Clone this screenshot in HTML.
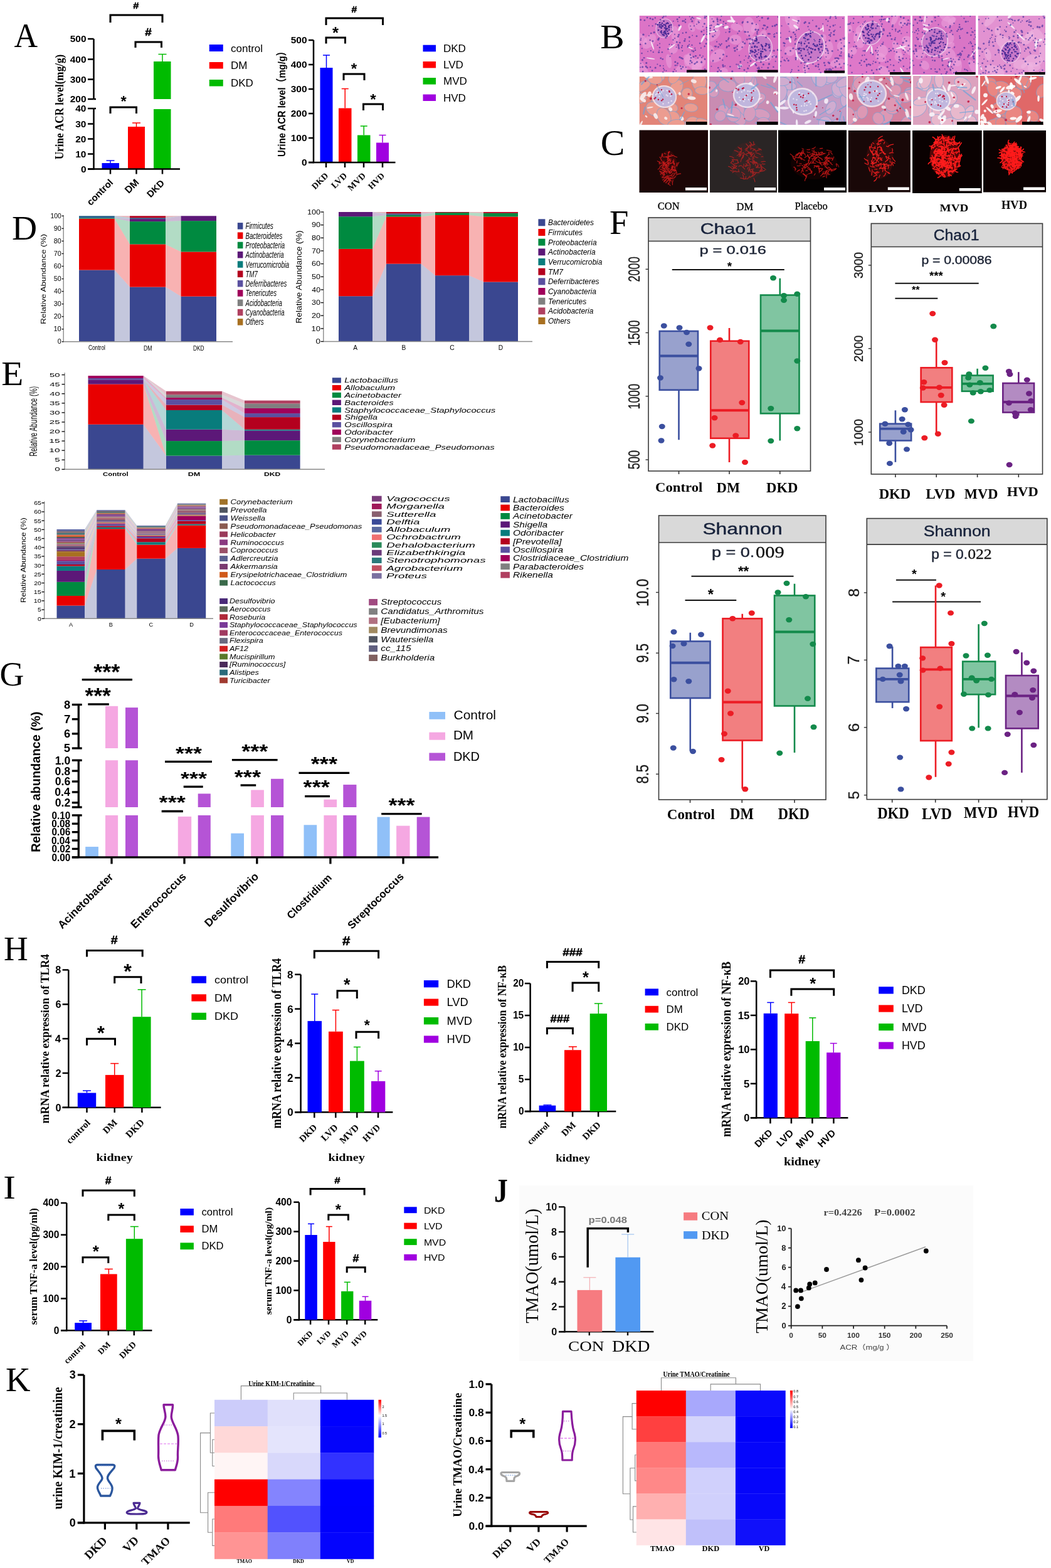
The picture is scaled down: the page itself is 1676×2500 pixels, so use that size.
<!DOCTYPE html><html><head><meta charset="utf-8"><title>Figure</title><style>html,body{margin:0;padding:0;background:#fff}svg{display:block}</style></head><body><svg width="1676" height="2500" viewBox="0 0 1676 2500"><text x="22.48" y="75" font-family="'Liberation Serif', 'Noto Serif CJK SC', serif" font-size="54.55" textLength="37.64" lengthAdjust="spacingAndGlyphs">A</text>
<line x1="149.5" y1="62" x2="149.5" y2="158" stroke="#000" stroke-width="2.5"/>
<line x1="149.5" y1="173" x2="149.5" y2="270.75" stroke="#000" stroke-width="2.5"/>
<line x1="140" y1="62" x2="149.5" y2="62" stroke="#000" stroke-width="2.5"/>
<text x="111.71" y="67.25" font-family="'Liberation Sans', 'Noto Sans CJK SC', sans-serif" font-size="15.21" font-weight="bold" textLength="25.88" lengthAdjust="spacingAndGlyphs">500</text>
<line x1="140" y1="94.5" x2="149.5" y2="94.5" stroke="#000" stroke-width="2.5"/>
<text x="111.71" y="99.75" font-family="'Liberation Sans', 'Noto Sans CJK SC', sans-serif" font-size="15.21" font-weight="bold" textLength="25.88" lengthAdjust="spacingAndGlyphs">400</text>
<line x1="140" y1="126.5" x2="149.5" y2="126.5" stroke="#000" stroke-width="2.5"/>
<text x="111.71" y="131.75" font-family="'Liberation Sans', 'Noto Sans CJK SC', sans-serif" font-size="15.21" font-weight="bold" textLength="25.88" lengthAdjust="spacingAndGlyphs">300</text>
<line x1="140" y1="158" x2="149.5" y2="158" stroke="#000" stroke-width="2.5"/>
<text x="111.71" y="163.25" font-family="'Liberation Sans', 'Noto Sans CJK SC', sans-serif" font-size="15.21" font-weight="bold" textLength="25.88" lengthAdjust="spacingAndGlyphs">200</text>
<line x1="140" y1="173" x2="149.5" y2="173" stroke="#000" stroke-width="2.5"/>
<text x="120.24" y="178.25" font-family="'Liberation Sans', 'Noto Sans CJK SC', sans-serif" font-size="15.21" font-weight="bold" textLength="17.26" lengthAdjust="spacingAndGlyphs">40</text>
<line x1="140" y1="197.5" x2="149.5" y2="197.5" stroke="#000" stroke-width="2.5"/>
<text x="120.24" y="202.75" font-family="'Liberation Sans', 'Noto Sans CJK SC', sans-serif" font-size="15.21" font-weight="bold" textLength="17.26" lengthAdjust="spacingAndGlyphs">30</text>
<line x1="140" y1="221.5" x2="149.5" y2="221.5" stroke="#000" stroke-width="2.5"/>
<text x="120.24" y="226.75" font-family="'Liberation Sans', 'Noto Sans CJK SC', sans-serif" font-size="15.21" font-weight="bold" textLength="17.26" lengthAdjust="spacingAndGlyphs">20</text>
<line x1="140" y1="245.5" x2="149.5" y2="245.5" stroke="#000" stroke-width="2.5"/>
<text x="120.24" y="250.75" font-family="'Liberation Sans', 'Noto Sans CJK SC', sans-serif" font-size="15.21" font-weight="bold" textLength="17.26" lengthAdjust="spacingAndGlyphs">10</text>
<line x1="140" y1="269.5" x2="149.5" y2="269.5" stroke="#000" stroke-width="2.5"/>
<text x="128.93" y="274.75" font-family="'Liberation Sans', 'Noto Sans CJK SC', sans-serif" font-size="15.21" font-weight="bold" textLength="8.63" lengthAdjust="spacingAndGlyphs">0</text>
<line x1="149.5" y1="158" x2="153" y2="158" stroke="#000" stroke-width="2.5"/>
<line x1="149.5" y1="173" x2="153" y2="173" stroke="#000" stroke-width="2.5"/>
<rect x="162.5" y="260" width="27.5" height="9.5" fill="#0000ff"/>
<rect x="204" y="202" width="27" height="67.5" fill="#ff0000"/>
<rect x="245" y="98" width="27.5" height="60" fill="#00bb00"/>
<rect x="245" y="174" width="27.5" height="95.5" fill="#00bb00"/>
<line x1="176" y1="260" x2="176" y2="256" stroke="#0000ff" stroke-width="1.5"/>
<line x1="169.5" y1="256" x2="182.5" y2="256" stroke="#0000ff" stroke-width="1.5"/>
<line x1="217.5" y1="202" x2="217.5" y2="196" stroke="#ff0000" stroke-width="1.5"/>
<line x1="211" y1="196" x2="224" y2="196" stroke="#ff0000" stroke-width="1.5"/>
<line x1="259" y1="98" x2="259" y2="86.5" stroke="#00bb00" stroke-width="1.5"/>
<line x1="252.5" y1="86.5" x2="265.5" y2="86.5" stroke="#00bb00" stroke-width="1.5"/>
<line x1="140" y1="269.5" x2="287" y2="269.5" stroke="#000" stroke-width="2.5"/>
<line x1="176" y1="269.5" x2="176" y2="277.5" stroke="#000" stroke-width="2.5"/>
<line x1="217.5" y1="269.5" x2="217.5" y2="277.5" stroke="#000" stroke-width="2.5"/>
<line x1="259" y1="269.5" x2="259" y2="277.5" stroke="#000" stroke-width="2.5"/>
<polyline points="176,36 176,24 259,24 259,36" fill="none" stroke="#000" stroke-width="3" stroke-linejoin="miter" stroke-linecap="butt"/>
<text x="212.39" y="13.75" font-family="'Liberation Sans', 'Noto Sans CJK SC', sans-serif" font-size="14.71" font-weight="bold" textLength="9.16" lengthAdjust="spacingAndGlyphs" stroke="#000" stroke-width="0.45">#</text>
<polyline points="216,76 216,67 257.5,67 257.5,76" fill="none" stroke="#000" stroke-width="3" stroke-linejoin="miter" stroke-linecap="butt"/>
<text x="231.2" y="56.5" font-family="'Liberation Sans', 'Noto Sans CJK SC', sans-serif" font-size="16.91" font-weight="bold" textLength="10.53" lengthAdjust="spacingAndGlyphs" stroke="#000" stroke-width="0.45">#</text>
<polyline points="176,181 176,171 217.5,171 217.5,181" fill="none" stroke="#000" stroke-width="3" stroke-linejoin="miter" stroke-linecap="butt"/>
<text x="192.39" y="170.32" font-family="'Liberation Sans', 'Noto Sans CJK SC', sans-serif" font-size="23.65" font-weight="bold">*</text>
<text transform="translate(100.6,254.34) rotate(-90)" font-family="'Liberation Serif', 'Noto Serif CJK SC', serif" font-size="18" font-weight="bold" textLength="167.62" lengthAdjust="spacingAndGlyphs">Urine ACR level(mg/g)</text>
<text transform="translate(144.64,328.52) rotate(-45)" font-family="'Liberation Sans', 'Noto Sans CJK SC', sans-serif" font-size="15.27" font-weight="bold">control</text>
<text transform="translate(205.13,309.28) rotate(-45)" font-family="'Liberation Sans', 'Noto Sans CJK SC', sans-serif" font-size="15.82" font-weight="bold">DM</text>
<text transform="translate(240.16,315.84) rotate(-45)" font-family="'Liberation Sans', 'Noto Sans CJK SC', sans-serif" font-size="14.97" font-weight="bold">DKD</text>
<rect x="333.75" y="71" width="22" height="11" fill="#0000ff"/>
<text x="368" y="82.62" font-family="'Liberation Sans', 'Noto Sans CJK SC', sans-serif" font-size="17">control</text>
<rect x="333.75" y="99" width="22" height="10.5" fill="#ff0000"/>
<text x="368" y="110.37" font-family="'Liberation Sans', 'Noto Sans CJK SC', sans-serif" font-size="17">DM</text>
<rect x="333.75" y="127" width="22" height="10.5" fill="#00bb00"/>
<text x="368" y="138.37" font-family="'Liberation Sans', 'Noto Sans CJK SC', sans-serif" font-size="17">DKD</text>
<line x1="500" y1="64" x2="500" y2="260.25" stroke="#000" stroke-width="2.5"/>
<line x1="492" y1="64" x2="500" y2="64" stroke="#000" stroke-width="2.5"/>
<text x="463.71" y="69.25" font-family="'Liberation Sans', 'Noto Sans CJK SC', sans-serif" font-size="15.21" font-weight="bold" textLength="25.88" lengthAdjust="spacingAndGlyphs">500</text>
<line x1="492" y1="103" x2="500" y2="103" stroke="#000" stroke-width="2.5"/>
<text x="463.71" y="108.25" font-family="'Liberation Sans', 'Noto Sans CJK SC', sans-serif" font-size="15.21" font-weight="bold" textLength="25.88" lengthAdjust="spacingAndGlyphs">400</text>
<line x1="492" y1="142" x2="500" y2="142" stroke="#000" stroke-width="2.5"/>
<text x="463.71" y="147.25" font-family="'Liberation Sans', 'Noto Sans CJK SC', sans-serif" font-size="15.21" font-weight="bold" textLength="25.88" lengthAdjust="spacingAndGlyphs">300</text>
<line x1="492" y1="181" x2="500" y2="181" stroke="#000" stroke-width="2.5"/>
<text x="463.71" y="186.25" font-family="'Liberation Sans', 'Noto Sans CJK SC', sans-serif" font-size="15.21" font-weight="bold" textLength="25.88" lengthAdjust="spacingAndGlyphs">200</text>
<line x1="492" y1="220" x2="500" y2="220" stroke="#000" stroke-width="2.5"/>
<text x="463.71" y="225.25" font-family="'Liberation Sans', 'Noto Sans CJK SC', sans-serif" font-size="15.21" font-weight="bold" textLength="25.88" lengthAdjust="spacingAndGlyphs">100</text>
<line x1="492" y1="259" x2="500" y2="259" stroke="#000" stroke-width="2.5"/>
<text x="480.93" y="264.25" font-family="'Liberation Sans', 'Noto Sans CJK SC', sans-serif" font-size="15.21" font-weight="bold" textLength="8.63" lengthAdjust="spacingAndGlyphs">0</text>
<rect x="510.5" y="108" width="20" height="151" fill="#0000ff"/>
<line x1="520.5" y1="108" x2="520.5" y2="88" stroke="#0000ff" stroke-width="1.5"/>
<line x1="515" y1="88" x2="526" y2="88" stroke="#0000ff" stroke-width="1.5"/>
<rect x="540" y="172.5" width="20.5" height="86.5" fill="#ff0000"/>
<line x1="550.25" y1="172.5" x2="550.25" y2="141.5" stroke="#ff0000" stroke-width="1.5"/>
<line x1="544.75" y1="141.5" x2="555.75" y2="141.5" stroke="#ff0000" stroke-width="1.5"/>
<rect x="570" y="215.5" width="20.5" height="43.5" fill="#00bb00"/>
<line x1="580.25" y1="215.5" x2="580.25" y2="201" stroke="#00bb00" stroke-width="1.5"/>
<line x1="574.75" y1="201" x2="585.75" y2="201" stroke="#00bb00" stroke-width="1.5"/>
<rect x="600" y="227.5" width="20" height="31.5" fill="#a000e0"/>
<line x1="610" y1="227.5" x2="610" y2="215.5" stroke="#a000e0" stroke-width="1.5"/>
<line x1="604.5" y1="215.5" x2="615.5" y2="215.5" stroke="#a000e0" stroke-width="1.5"/>
<line x1="492" y1="259" x2="630.5" y2="259" stroke="#000" stroke-width="2.5"/>
<line x1="520" y1="259" x2="520" y2="267" stroke="#000" stroke-width="2.5"/>
<line x1="550" y1="259" x2="550" y2="267" stroke="#000" stroke-width="2.5"/>
<line x1="580" y1="259" x2="580" y2="267" stroke="#000" stroke-width="2.5"/>
<line x1="610" y1="259" x2="610" y2="267" stroke="#000" stroke-width="2.5"/>
<polyline points="520,40 520,29 610.5,29 610.5,40" fill="none" stroke="#000" stroke-width="3" stroke-linejoin="miter" stroke-linecap="butt"/>
<text x="560.62" y="19.5" font-family="'Liberation Sans', 'Noto Sans CJK SC', sans-serif" font-size="13.97" font-weight="bold" textLength="8.7" lengthAdjust="spacingAndGlyphs" stroke="#000" stroke-width="0.45">#</text>
<polyline points="520,69.5 520,60 550.5,60 550.5,69.5" fill="none" stroke="#000" stroke-width="3" stroke-linejoin="miter" stroke-linecap="butt"/>
<text x="529.99" y="60.72" font-family="'Liberation Sans', 'Noto Sans CJK SC', sans-serif" font-size="25.68" font-weight="bold">*</text>
<polyline points="548,128 548,118 581,118 581,128" fill="none" stroke="#000" stroke-width="3" stroke-linejoin="miter" stroke-linecap="butt"/>
<text x="559.76" y="117.78" font-family="'Liberation Sans', 'Noto Sans CJK SC', sans-serif" font-size="24.32" font-weight="bold">*</text>
<polyline points="579.5,176 579.5,166 610.5,166 610.5,176" fill="none" stroke="#000" stroke-width="3" stroke-linejoin="miter" stroke-linecap="butt"/>
<text x="590.26" y="166.78" font-family="'Liberation Sans', 'Noto Sans CJK SC', sans-serif" font-size="24.32" font-weight="bold">*</text>
<text transform="translate(455.4,249.93) rotate(-90)" font-family="'Liberation Sans', 'Noto Sans CJK SC', sans-serif" font-size="17.25" font-weight="bold" textLength="175.53" lengthAdjust="spacingAndGlyphs">Urine ACR level（mg/g）</text>
<text transform="translate(502.44,302.7) rotate(-45)" font-family="'Liberation Serif', 'Noto Serif CJK SC', serif" font-size="13.89" font-weight="bold">DKD</text>
<text transform="translate(533.84,301.35) rotate(-45)" font-family="'Liberation Serif', 'Noto Serif CJK SC', serif" font-size="14.22" font-weight="bold">LVD</text>
<text transform="translate(560.09,305.1) rotate(-45)" font-family="'Liberation Serif', 'Noto Serif CJK SC', serif" font-size="14.24" font-weight="bold">MVD</text>
<text transform="translate(592.42,302.6) rotate(-45)" font-family="'Liberation Serif', 'Noto Serif CJK SC', serif" font-size="13.84" font-weight="bold">HVD</text>
<rect x="674.5" y="71.7" width="20.5" height="10.6" fill="#0000ff"/>
<text x="707" y="83.12" font-family="'Liberation Sans', 'Noto Sans CJK SC', sans-serif" font-size="17">DKD</text>
<rect x="674.5" y="98" width="20.5" height="10.4" fill="#ff0000"/>
<text x="707" y="109.32" font-family="'Liberation Sans', 'Noto Sans CJK SC', sans-serif" font-size="17">LVD</text>
<rect x="674.5" y="124" width="20.5" height="10.6" fill="#00bb00"/>
<text x="707" y="135.42" font-family="'Liberation Sans', 'Noto Sans CJK SC', sans-serif" font-size="17">MVD</text>
<rect x="674.5" y="150.5" width="20.5" height="10.5" fill="#a000e0"/>
<text x="707" y="161.87" font-family="'Liberation Sans', 'Noto Sans CJK SC', sans-serif" font-size="17">HVD</text>
<text x="957.27" y="77" font-family="'Liberation Serif', 'Noto Serif CJK SC', serif" font-size="53.85" textLength="38.44" lengthAdjust="spacingAndGlyphs">B</text>
<text x="957.68" y="246.94" font-family="'Liberation Serif', 'Noto Serif CJK SC', serif" font-size="55.97" textLength="38.62" lengthAdjust="spacingAndGlyphs">C</text>
<clipPath id="c1"><rect x="1019.5" y="25" width="108.5" height="90.5"/></clipPath><g clip-path="url(#c1)">
<rect x="1019.5" y="25" width="108.5" height="90.5" fill="#dc74c6"/>
<ellipse cx="1035.31" cy="66.17" rx="13.71" ry="8.23" fill="#eba3dc" transform="rotate(131 1035.31 66.17)" opacity="0.55"/>
<ellipse cx="1066.54" cy="97.4" rx="11.33" ry="4.48" fill="#eba3dc" transform="rotate(82 1066.54 97.4)" opacity="0.55"/>
<ellipse cx="1024.7" cy="109.43" rx="15.47" ry="6.01" fill="#eba3dc" transform="rotate(55 1024.7 109.43)" opacity="0.55"/>
<ellipse cx="1102.83" cy="43.45" rx="7.78" ry="5.13" fill="#eba3dc" transform="rotate(62 1102.83 43.45)" opacity="0.55"/>
<ellipse cx="1087.46" cy="112.18" rx="8.11" ry="9.74" fill="#eba3dc" transform="rotate(99 1087.46 112.18)" opacity="0.55"/>
<ellipse cx="1117.27" cy="99.03" rx="7.6" ry="7.89" fill="#eba3dc" transform="rotate(22 1117.27 99.03)" opacity="0.55"/>
<ellipse cx="1020.11" cy="60.79" rx="13.74" ry="7.4" fill="#eba3dc" transform="rotate(34 1020.11 60.79)" opacity="0.55"/>
<ellipse cx="1110.77" cy="107.7" rx="8.37" ry="6.69" fill="#eba3dc" transform="rotate(114 1110.77 107.7)" opacity="0.55"/>
<ellipse cx="1117.4" cy="36.46" rx="11.54" ry="9.81" fill="#eba3dc" transform="rotate(109 1117.4 36.46)" opacity="0.55"/>
<ellipse cx="1097.33" cy="95.13" rx="11.07" ry="5.74" fill="#eba3dc" transform="rotate(106 1097.33 95.13)" opacity="0.55"/>
<ellipse cx="1076.81" cy="56.07" rx="14.54" ry="6.18" fill="#eba3dc" transform="rotate(87 1076.81 56.07)" opacity="0.55"/>
<ellipse cx="1102.12" cy="98.65" rx="14.9" ry="7.91" fill="#eba3dc" transform="rotate(45 1102.12 98.65)" opacity="0.55"/>
<ellipse cx="1111.44" cy="107.29" rx="13.15" ry="8.6" fill="#eba3dc" transform="rotate(92 1111.44 107.29)" opacity="0.55"/>
<ellipse cx="1073.04" cy="77.73" rx="7.47" ry="8.06" fill="#eba3dc" transform="rotate(155 1073.04 77.73)" opacity="0.55"/>
<ellipse cx="1037.37" cy="93.23" rx="7.24" ry="0.98" fill="#f7eef7" transform="rotate(9 1037.37 93.23)" opacity="0.9"/>
<ellipse cx="1084.1" cy="44.83" rx="4.86" ry="1.73" fill="#f7eef7" transform="rotate(117 1084.1 44.83)" opacity="0.9"/>
<ellipse cx="1100.74" cy="76.42" rx="5" ry="0.82" fill="#f7eef7" transform="rotate(20 1100.74 76.42)" opacity="0.9"/>
<ellipse cx="1040.42" cy="72.54" rx="7.32" ry="1.11" fill="#f7eef7" transform="rotate(70 1040.42 72.54)" opacity="0.9"/>
<ellipse cx="1121.1" cy="61.26" rx="7.28" ry="1.73" fill="#f7eef7" transform="rotate(118 1121.1 61.26)" opacity="0.9"/>
<ellipse cx="1071.22" cy="74.33" rx="7.21" ry="1.04" fill="#f7eef7" transform="rotate(143 1071.22 74.33)" opacity="0.9"/>
<ellipse cx="1114.21" cy="29.26" rx="4.19" ry="1.17" fill="#f7eef7" transform="rotate(16 1114.21 29.26)" opacity="0.9"/>
<ellipse cx="1059.5" cy="45" rx="13.65" ry="15.6" fill="#f3e4f3" transform="rotate(20 1059.5 45)" opacity="0.7"/>
<ellipse cx="1059.5" cy="45" rx="12.61" ry="14.56" fill="#c878c8" transform="rotate(20 1059.5 45)"/>
<circle cx="1065.47" cy="53.3" r="1.3" fill="#4a2a95"/>
<circle cx="1061.66" cy="47.43" r="1.3" fill="#4a2a95"/>
<circle cx="1066.49" cy="42.15" r="1.3" fill="#4a2a95"/>
<circle cx="1051.7" cy="42.67" r="1.3" fill="#4a2a95"/>
<circle cx="1055.12" cy="52.54" r="1.3" fill="#4a2a95"/>
<circle cx="1062.56" cy="54.62" r="1.3" fill="#4a2a95"/>
<circle cx="1059.47" cy="50.13" r="1.3" fill="#4a2a95"/>
<circle cx="1061.43" cy="53.35" r="1.3" fill="#4a2a95"/>
<circle cx="1067.69" cy="40.59" r="1.3" fill="#4a2a95"/>
<circle cx="1066.85" cy="43.97" r="1.3" fill="#4a2a95"/>
<circle cx="1058.85" cy="56.32" r="1.3" fill="#4a2a95"/>
<circle cx="1063.77" cy="57.51" r="1.3" fill="#4a2a95"/>
<circle cx="1054.79" cy="49.45" r="1.3" fill="#4a2a95"/>
<circle cx="1058.64" cy="52.36" r="1.3" fill="#4a2a95"/>
<circle cx="1070.24" cy="39.81" r="1.3" fill="#4a2a95"/>
<circle cx="1054.24" cy="42.68" r="1.3" fill="#4a2a95"/>
<circle cx="1062.8" cy="45.23" r="1.3" fill="#4a2a95"/>
<circle cx="1056.72" cy="55.3" r="1.3" fill="#4a2a95"/>
<circle cx="1051.92" cy="36.14" r="1.3" fill="#4a2a95"/>
<circle cx="1062.5" cy="37.79" r="1.3" fill="#4a2a95"/>
<circle cx="1055.91" cy="37.04" r="1.3" fill="#4a2a95"/>
<circle cx="1058.81" cy="39.28" r="1.3" fill="#4a2a95"/>
<circle cx="1061.25" cy="44.7" r="1.3" fill="#4a2a95"/>
<circle cx="1054.37" cy="39.62" r="1.3" fill="#4a2a95"/>
<circle cx="1060.89" cy="40.16" r="1.3" fill="#4a2a95"/>
<circle cx="1060.01" cy="44.52" r="1.3" fill="#4a2a95"/>
<circle cx="1058.59" cy="33.76" r="1.3" fill="#4a2a95"/>
<circle cx="1054.62" cy="44.74" r="1.3" fill="#4a2a95"/>
<circle cx="1053.73" cy="51.07" r="1.3" fill="#4a2a95"/>
<circle cx="1060.59" cy="50.25" r="1.3" fill="#4a2a95"/>
<circle cx="1064.26" cy="36.66" r="1.3" fill="#4a2a95"/>
<circle cx="1058.29" cy="55.55" r="1.3" fill="#4a2a95"/>
<circle cx="1056.6" cy="41.32" r="1.3" fill="#4a2a95"/>
<circle cx="1051.79" cy="39.79" r="1.3" fill="#4a2a95"/>
<circle cx="1064.42" cy="49.74" r="1.3" fill="#4a2a95"/>
<circle cx="1065.31" cy="37.24" r="1.3" fill="#4a2a95"/>
<circle cx="1060.74" cy="53.32" r="1.3" fill="#4a2a95"/>
<circle cx="1049.99" cy="47.93" r="1.3" fill="#4a2a95"/>
<circle cx="1061.72" cy="41.95" r="1.3" fill="#4a2a95"/>
<circle cx="1066.94" cy="47.58" r="1.3" fill="#4a2a95"/>
<circle cx="1064.06" cy="45.66" r="1.3" fill="#4a2a95"/>
<circle cx="1062.23" cy="47.48" r="1.3" fill="#4a2a95"/>
<circle cx="1056.95" cy="42.05" r="1.3" fill="#4a2a95"/>
<circle cx="1048.99" cy="39.62" r="1.3" fill="#4a2a95"/>
<circle cx="1065.97" cy="54.05" r="1.3" fill="#4a2a95"/>
<g fill="#4a34a0" opacity="0.72"><circle cx="1082.89" cy="40.4" r="1.56"/><circle cx="1099.43" cy="59.34" r="1.52"/><circle cx="1030.8" cy="100.45" r="1.49"/><circle cx="1032.09" cy="107.84" r="1.45"/><circle cx="1118.74" cy="50.48" r="1.42"/><circle cx="1104.1" cy="56.52" r="0.92"/><circle cx="1021.04" cy="70.85" r="1.28"/><circle cx="1033.06" cy="82.1" r="0.94"/><circle cx="1071.37" cy="71.21" r="1.04"/><circle cx="1024.66" cy="106.72" r="1.5"/><circle cx="1083.31" cy="27.66" r="1.27"/><circle cx="1123.98" cy="94.42" r="1.38"/><circle cx="1023.79" cy="77.34" r="1.06"/><circle cx="1126.54" cy="25.99" r="1.06"/><circle cx="1114.98" cy="35.87" r="1.11"/><circle cx="1052.74" cy="104.79" r="1.39"/><circle cx="1120.83" cy="42.38" r="0.96"/><circle cx="1056.74" cy="94.33" r="1.33"/><circle cx="1120.96" cy="89.51" r="0.96"/><circle cx="1053.69" cy="43.44" r="1.09"/><circle cx="1091.82" cy="65.15" r="1.43"/><circle cx="1021.23" cy="107.24" r="1.01"/><circle cx="1100.08" cy="101.42" r="0.93"/><circle cx="1078.35" cy="113.24" r="0.91"/><circle cx="1073.44" cy="63.49" r="1.17"/><circle cx="1040.59" cy="41.32" r="1.09"/><circle cx="1043.1" cy="51.6" r="1.53"/><circle cx="1122.47" cy="48.51" r="0.92"/><circle cx="1048.37" cy="102.52" r="1.02"/><circle cx="1091.33" cy="33.4" r="1.15"/><circle cx="1037.89" cy="80.79" r="1.16"/><circle cx="1103.46" cy="71.9" r="1.18"/><circle cx="1021.83" cy="100.9" r="0.93"/><circle cx="1073.63" cy="114.4" r="1.45"/><circle cx="1058.07" cy="109.15" r="1.08"/><circle cx="1082.6" cy="77.07" r="1.4"/><circle cx="1050.81" cy="60.99" r="1.13"/><circle cx="1119.18" cy="91.78" r="1.14"/><circle cx="1103.46" cy="80.9" r="1.07"/><circle cx="1073.65" cy="33.83" r="1.05"/><circle cx="1027.86" cy="32.31" r="1.33"/><circle cx="1109.54" cy="100.54" r="1.05"/><circle cx="1122.33" cy="55.32" r="1.38"/><circle cx="1084.11" cy="68.09" r="1.38"/><circle cx="1116.16" cy="87.98" r="1.26"/><circle cx="1112.96" cy="92.52" r="1.16"/><circle cx="1125.72" cy="61.51" r="0.93"/><circle cx="1124.05" cy="110.31" r="1.27"/><circle cx="1100.92" cy="87.99" r="0.97"/><circle cx="1105.83" cy="81.83" r="1.58"/><circle cx="1071.49" cy="50.14" r="1.44"/><circle cx="1079.5" cy="103.97" r="0.93"/><circle cx="1093.76" cy="107.33" r="1.03"/><circle cx="1029.35" cy="69.4" r="1.36"/><circle cx="1088" cy="72.93" r="1.14"/><circle cx="1096.6" cy="114.43" r="1.25"/><circle cx="1062.41" cy="112.68" r="1.02"/><circle cx="1080.55" cy="100.98" r="1.45"/><circle cx="1100.64" cy="86.67" r="1.21"/><circle cx="1124.29" cy="25.14" r="1.2"/><circle cx="1068.39" cy="89.98" r="1.1"/><circle cx="1040.96" cy="65.53" r="1.35"/><circle cx="1076.86" cy="104.17" r="1.23"/><circle cx="1041.75" cy="83.11" r="1.17"/><circle cx="1022.21" cy="61.29" r="0.98"/><circle cx="1088.87" cy="106.75" r="1.41"/><circle cx="1123.38" cy="37.94" r="1.48"/><circle cx="1102.34" cy="46.74" r="1.23"/><circle cx="1038.27" cy="52.99" r="1.27"/><circle cx="1061.66" cy="60.22" r="1.4"/><circle cx="1092.97" cy="35.51" r="1.3"/><circle cx="1103.87" cy="27.91" r="1.42"/><circle cx="1021.72" cy="63.74" r="1.17"/><circle cx="1021.7" cy="31.73" r="1.37"/><circle cx="1048.49" cy="71.98" r="1.01"/><circle cx="1086.3" cy="109.62" r="1.43"/><circle cx="1059.29" cy="111.69" r="1.15"/><circle cx="1049.71" cy="63.21" r="1.59"/><circle cx="1061.49" cy="51.32" r="1.28"/><circle cx="1088.54" cy="93.66" r="1.4"/><circle cx="1092.49" cy="62.27" r="1.21"/><circle cx="1125.99" cy="69.74" r="1.43"/><circle cx="1058.47" cy="26.02" r="1.17"/><circle cx="1076.12" cy="61.11" r="1.05"/><circle cx="1037" cy="29.49" r="1.39"/><circle cx="1076.75" cy="98.84" r="1.5"/><circle cx="1101.15" cy="96.88" r="1.53"/><circle cx="1118.66" cy="99.22" r="1.53"/><circle cx="1057.27" cy="115.18" r="1.53"/><circle cx="1107.7" cy="101.86" r="1.42"/><circle cx="1081.81" cy="71.89" r="1.55"/><circle cx="1050.62" cy="83.36" r="1.55"/><circle cx="1048.31" cy="39.19" r="1.12"/><circle cx="1067.45" cy="70.93" r="1.06"/><circle cx="1045.74" cy="38.26" r="1.23"/><circle cx="1034.87" cy="56.92" r="1.02"/><circle cx="1088.19" cy="81.12" r="1.06"/><circle cx="1127.92" cy="50.73" r="1.53"/><circle cx="1052.02" cy="75.81" r="1.31"/><circle cx="1082.25" cy="55.64" r="1.45"/><circle cx="1087.07" cy="75.74" r="1.24"/><circle cx="1050.24" cy="61.92" r="1.41"/><circle cx="1096.52" cy="115.04" r="1.41"/><circle cx="1127.12" cy="54.7" r="1.09"/><circle cx="1127.69" cy="63.53" r="1.31"/><circle cx="1113.77" cy="36.31" r="0.98"/><circle cx="1070.15" cy="43.13" r="0.94"/><circle cx="1096.78" cy="74.84" r="1.22"/><circle cx="1088.8" cy="52.63" r="1.18"/><circle cx="1055.85" cy="83.29" r="1.22"/><circle cx="1082.24" cy="74.69" r="1.3"/><circle cx="1024.42" cy="95.61" r="1.54"/><circle cx="1027.05" cy="92.2" r="1.3"/><circle cx="1099.87" cy="26.46" r="0.92"/><circle cx="1078.62" cy="75.15" r="0.97"/><circle cx="1103.73" cy="33.87" r="1.52"/><circle cx="1105.92" cy="90.5" r="1.5"/><circle cx="1051.16" cy="80.35" r="0.92"/><circle cx="1100.95" cy="41.44" r="0.94"/><circle cx="1102.01" cy="30.52" r="1.35"/><circle cx="1123.63" cy="73.9" r="1.28"/><circle cx="1102.01" cy="92.27" r="1.25"/><circle cx="1025.12" cy="114.1" r="1.41"/><circle cx="1071.36" cy="85.41" r="1.08"/><circle cx="1044.76" cy="28.52" r="1.18"/><circle cx="1080.89" cy="34.21" r="1.03"/><circle cx="1061.67" cy="25.03" r="1.47"/><circle cx="1037.03" cy="107.04" r="1.3"/><circle cx="1053.22" cy="31.47" r="1.34"/><circle cx="1025.9" cy="55.17" r="1.6"/><circle cx="1109.43" cy="89.25" r="1.31"/><circle cx="1086.63" cy="92.4" r="1.51"/><circle cx="1030.17" cy="106.05" r="1.58"/><circle cx="1082.74" cy="54.96" r="0.94"/><circle cx="1056.84" cy="28.24" r="1.37"/><circle cx="1084.04" cy="91.17" r="1.51"/><circle cx="1053.7" cy="92.87" r="1.42"/><circle cx="1080.08" cy="30.66" r="1.51"/><circle cx="1079.22" cy="67.08" r="1.5"/><circle cx="1032.09" cy="28.08" r="1.37"/><circle cx="1097.17" cy="72.93" r="1.29"/><circle cx="1103.24" cy="99.68" r="1.35"/><circle cx="1099.02" cy="71.06" r="1.02"/><circle cx="1106.28" cy="29.31" r="1.02"/><circle cx="1081.46" cy="58.25" r="1.52"/><circle cx="1052.1" cy="69.49" r="1.03"/><circle cx="1110.95" cy="57.65" r="1.4"/><circle cx="1099.32" cy="65.71" r="0.98"/><circle cx="1124.17" cy="28.3" r="1.48"/><circle cx="1036.61" cy="63.88" r="1.21"/><circle cx="1065.6" cy="78.31" r="1.37"/><circle cx="1093.05" cy="30.98" r="1.16"/><circle cx="1040.07" cy="112.61" r="1.28"/><circle cx="1126.89" cy="44.04" r="1.38"/><circle cx="1075.97" cy="54.84" r="1.03"/><circle cx="1085.08" cy="105.5" r="1.25"/><circle cx="1075.61" cy="110.56" r="1.08"/><circle cx="1057.76" cy="104.86" r="0.96"/><circle cx="1023.5" cy="85.02" r="1.24"/><circle cx="1117.88" cy="76.55" r="1.09"/><circle cx="1091.38" cy="65.23" r="1.34"/><circle cx="1040.9" cy="30.78" r="1.54"/><circle cx="1110.93" cy="38.62" r="0.97"/><circle cx="1109.35" cy="89.12" r="1.21"/><circle cx="1111.56" cy="98.95" r="1.48"/><circle cx="1118.67" cy="98.23" r="0.9"/><circle cx="1088.94" cy="33.54" r="1.53"/><circle cx="1108.85" cy="79.88" r="1.21"/><circle cx="1094.07" cy="51.83" r="1.38"/><circle cx="1123.87" cy="28.45" r="1.17"/><circle cx="1106.95" cy="41.28" r="1.15"/><circle cx="1108.16" cy="76.72" r="1.08"/><circle cx="1062.97" cy="57.99" r="1.26"/><circle cx="1127.24" cy="47.45" r="1.13"/><circle cx="1116.13" cy="69.12" r="1.35"/><circle cx="1113.61" cy="34.11" r="1.02"/><circle cx="1034.9" cy="41.01" r="0.94"/><circle cx="1045.18" cy="107.92" r="1.53"/></g>
</g>
<rect x="1095" y="111.5" width="32.5" height="4" fill="#000"/>
<clipPath id="c2"><rect x="1130.7" y="25" width="110.3" height="90.5"/></clipPath><g clip-path="url(#c2)">
<rect x="1130.7" y="25" width="110.3" height="90.5" fill="#da72c4"/>
<ellipse cx="1194.8" cy="42.63" rx="15.65" ry="9.54" fill="#eba3dc" transform="rotate(84 1194.8 42.63)" opacity="0.55"/>
<ellipse cx="1203.88" cy="44.41" rx="8.22" ry="5.73" fill="#eba3dc" transform="rotate(124 1203.88 44.41)" opacity="0.55"/>
<ellipse cx="1154.13" cy="112.89" rx="6.7" ry="5.16" fill="#eba3dc" transform="rotate(15 1154.13 112.89)" opacity="0.55"/>
<ellipse cx="1215.62" cy="58.17" rx="10.72" ry="5.96" fill="#eba3dc" transform="rotate(114 1215.62 58.17)" opacity="0.55"/>
<ellipse cx="1175.25" cy="43.85" rx="10.3" ry="5.83" fill="#eba3dc" transform="rotate(19 1175.25 43.85)" opacity="0.55"/>
<ellipse cx="1221.52" cy="86.55" rx="12.65" ry="9.29" fill="#eba3dc" transform="rotate(71 1221.52 86.55)" opacity="0.55"/>
<ellipse cx="1172.53" cy="63.28" rx="10.05" ry="8.01" fill="#eba3dc" transform="rotate(1 1172.53 63.28)" opacity="0.55"/>
<ellipse cx="1181.89" cy="73.43" rx="9.46" ry="4.13" fill="#eba3dc" transform="rotate(126 1181.89 73.43)" opacity="0.55"/>
<ellipse cx="1131.74" cy="76.08" rx="7.53" ry="4.21" fill="#eba3dc" transform="rotate(32 1131.74 76.08)" opacity="0.55"/>
<ellipse cx="1137.95" cy="38.64" rx="12.85" ry="8.37" fill="#eba3dc" transform="rotate(65 1137.95 38.64)" opacity="0.55"/>
<ellipse cx="1202.66" cy="68" rx="10.98" ry="9.26" fill="#eba3dc" transform="rotate(56 1202.66 68)" opacity="0.55"/>
<ellipse cx="1226.66" cy="87.54" rx="12.83" ry="4.04" fill="#eba3dc" transform="rotate(15 1226.66 87.54)" opacity="0.55"/>
<ellipse cx="1134.23" cy="56.29" rx="15.46" ry="9.25" fill="#eba3dc" transform="rotate(150 1134.23 56.29)" opacity="0.55"/>
<ellipse cx="1143.81" cy="88.87" rx="13.74" ry="8.86" fill="#eba3dc" transform="rotate(142 1143.81 88.87)" opacity="0.55"/>
<ellipse cx="1146.18" cy="41.18" rx="7.76" ry="1.91" fill="#f7eef7" transform="rotate(160 1146.18 41.18)" opacity="0.9"/>
<ellipse cx="1179.95" cy="105.51" rx="3.84" ry="2.24" fill="#f7eef7" transform="rotate(159 1179.95 105.51)" opacity="0.9"/>
<ellipse cx="1167.93" cy="31.11" rx="6.29" ry="1.83" fill="#f7eef7" transform="rotate(63 1167.93 31.11)" opacity="0.9"/>
<ellipse cx="1137.04" cy="50.22" rx="7.95" ry="0.94" fill="#f7eef7" transform="rotate(168 1137.04 50.22)" opacity="0.9"/>
<ellipse cx="1158.28" cy="43.5" rx="3.67" ry="2.27" fill="#f7eef7" transform="rotate(162 1158.28 43.5)" opacity="0.9"/>
<ellipse cx="1165.9" cy="33.65" rx="6.92" ry="2.13" fill="#f7eef7" transform="rotate(2 1165.9 33.65)" opacity="0.9"/>
<ellipse cx="1200.52" cy="102.53" rx="5.75" ry="1.65" fill="#f7eef7" transform="rotate(144 1200.52 102.53)" opacity="0.9"/>
<ellipse cx="1212.7" cy="77" rx="18.9" ry="21.6" fill="#f3e4f3" transform="rotate(20 1212.7 77)" opacity="0.7"/>
<ellipse cx="1212.7" cy="77" rx="17.46" ry="20.16" fill="#c878c8" transform="rotate(20 1212.7 77)"/>
<circle cx="1213.31" cy="86.71" r="1.3" fill="#4a2a95"/>
<circle cx="1206.27" cy="65.29" r="1.3" fill="#4a2a95"/>
<circle cx="1203.56" cy="74.63" r="1.3" fill="#4a2a95"/>
<circle cx="1220.72" cy="73.14" r="1.3" fill="#4a2a95"/>
<circle cx="1206.08" cy="61.11" r="1.3" fill="#4a2a95"/>
<circle cx="1209.63" cy="79.54" r="1.3" fill="#4a2a95"/>
<circle cx="1213.47" cy="81.71" r="1.3" fill="#4a2a95"/>
<circle cx="1216.06" cy="82.19" r="1.3" fill="#4a2a95"/>
<circle cx="1207.29" cy="86.47" r="1.3" fill="#4a2a95"/>
<circle cx="1200.2" cy="81.93" r="1.3" fill="#4a2a95"/>
<circle cx="1206.73" cy="63.17" r="1.3" fill="#4a2a95"/>
<circle cx="1204.02" cy="88.42" r="1.3" fill="#4a2a95"/>
<circle cx="1207.2" cy="74.95" r="1.3" fill="#4a2a95"/>
<circle cx="1203.94" cy="74.02" r="1.3" fill="#4a2a95"/>
<circle cx="1206.46" cy="62.73" r="1.3" fill="#4a2a95"/>
<circle cx="1213.32" cy="89.27" r="1.3" fill="#4a2a95"/>
<circle cx="1204.23" cy="79.84" r="1.3" fill="#4a2a95"/>
<circle cx="1216.19" cy="78.04" r="1.3" fill="#4a2a95"/>
<circle cx="1226.62" cy="76.27" r="1.3" fill="#4a2a95"/>
<circle cx="1200.44" cy="82.71" r="1.3" fill="#4a2a95"/>
<circle cx="1211.08" cy="92.59" r="1.3" fill="#4a2a95"/>
<circle cx="1226.27" cy="72.02" r="1.3" fill="#4a2a95"/>
<circle cx="1197.02" cy="81.01" r="1.3" fill="#4a2a95"/>
<circle cx="1216.15" cy="74.89" r="1.3" fill="#4a2a95"/>
<circle cx="1203.44" cy="83.59" r="1.3" fill="#4a2a95"/>
<circle cx="1210.78" cy="91.46" r="1.3" fill="#4a2a95"/>
<circle cx="1221.39" cy="89.63" r="1.3" fill="#4a2a95"/>
<circle cx="1215.22" cy="73.39" r="1.3" fill="#4a2a95"/>
<circle cx="1209.73" cy="68.02" r="1.3" fill="#4a2a95"/>
<circle cx="1204" cy="65.17" r="1.3" fill="#4a2a95"/>
<circle cx="1227.02" cy="74.57" r="1.3" fill="#4a2a95"/>
<circle cx="1205.36" cy="90.5" r="1.3" fill="#4a2a95"/>
<circle cx="1220.97" cy="89.54" r="1.3" fill="#4a2a95"/>
<circle cx="1205.46" cy="81.77" r="1.3" fill="#4a2a95"/>
<circle cx="1213.24" cy="85.65" r="1.3" fill="#4a2a95"/>
<circle cx="1214.14" cy="71.47" r="1.3" fill="#4a2a95"/>
<circle cx="1213.49" cy="85.12" r="1.3" fill="#4a2a95"/>
<circle cx="1220.26" cy="90.33" r="1.3" fill="#4a2a95"/>
<circle cx="1201.43" cy="69.08" r="1.3" fill="#4a2a95"/>
<circle cx="1221.49" cy="69.68" r="1.3" fill="#4a2a95"/>
<circle cx="1219.55" cy="78.91" r="1.3" fill="#4a2a95"/>
<circle cx="1199.07" cy="75.37" r="1.3" fill="#4a2a95"/>
<circle cx="1222.8" cy="70.47" r="1.3" fill="#4a2a95"/>
<circle cx="1214.51" cy="91.19" r="1.3" fill="#4a2a95"/>
<circle cx="1221.27" cy="72.71" r="1.3" fill="#4a2a95"/>
<g fill="#4a34a0" opacity="0.72"><circle cx="1233.4" cy="106.79" r="1.3"/><circle cx="1183.76" cy="36.67" r="0.98"/><circle cx="1135.21" cy="80.33" r="1.4"/><circle cx="1240.27" cy="79.52" r="1.6"/><circle cx="1175.14" cy="37.12" r="0.94"/><circle cx="1162.49" cy="73.03" r="1.59"/><circle cx="1163.48" cy="46.29" r="1.41"/><circle cx="1173.54" cy="75.53" r="1.01"/><circle cx="1224.81" cy="108.2" r="1.43"/><circle cx="1233.91" cy="55.09" r="0.92"/><circle cx="1164.33" cy="106.25" r="1.23"/><circle cx="1152.8" cy="38.68" r="1.01"/><circle cx="1179.13" cy="108.78" r="1.52"/><circle cx="1214.28" cy="93.43" r="1.03"/><circle cx="1216.46" cy="45.27" r="1.27"/><circle cx="1134.39" cy="105.76" r="0.99"/><circle cx="1196.07" cy="84.93" r="1.35"/><circle cx="1205.96" cy="58.42" r="1.45"/><circle cx="1234.21" cy="80.85" r="1.59"/><circle cx="1224.44" cy="30.03" r="1.37"/><circle cx="1140.79" cy="84.84" r="1.16"/><circle cx="1224.95" cy="29.05" r="1.56"/><circle cx="1135.5" cy="30.13" r="0.9"/><circle cx="1144.54" cy="114.25" r="1.48"/><circle cx="1231.82" cy="41.86" r="1.38"/><circle cx="1218.41" cy="90.79" r="1.09"/><circle cx="1237.79" cy="90.91" r="1.38"/><circle cx="1162.09" cy="60.96" r="1.43"/><circle cx="1187.65" cy="69.16" r="1.54"/><circle cx="1177.08" cy="102.73" r="0.93"/><circle cx="1189.21" cy="89.53" r="0.91"/><circle cx="1207.51" cy="50.89" r="1.34"/><circle cx="1199.45" cy="37.35" r="1.56"/><circle cx="1157.46" cy="37.35" r="1.21"/><circle cx="1137.76" cy="34.17" r="1.43"/><circle cx="1141.46" cy="73.99" r="1.52"/><circle cx="1180.75" cy="98.71" r="1.48"/><circle cx="1148.85" cy="31.92" r="1.45"/><circle cx="1226.26" cy="102.19" r="1.4"/><circle cx="1186.94" cy="111.69" r="1.42"/><circle cx="1214.85" cy="107.5" r="0.94"/><circle cx="1212.45" cy="77.87" r="0.91"/><circle cx="1158.87" cy="89.8" r="1.27"/><circle cx="1192.73" cy="51" r="1.3"/><circle cx="1227.64" cy="113.68" r="1.29"/><circle cx="1211.36" cy="32.9" r="1"/><circle cx="1192.41" cy="99.8" r="0.98"/><circle cx="1146.96" cy="70.24" r="1.11"/><circle cx="1146.2" cy="39.35" r="1.2"/><circle cx="1218.13" cy="40.5" r="1.46"/><circle cx="1138.93" cy="47.7" r="1.37"/><circle cx="1131.48" cy="54.15" r="1.01"/><circle cx="1156.11" cy="105.25" r="1.01"/><circle cx="1210.11" cy="107.37" r="1.07"/><circle cx="1225.84" cy="54.01" r="1.44"/><circle cx="1194.77" cy="56.72" r="1.52"/><circle cx="1207.45" cy="53.89" r="1.3"/><circle cx="1163.17" cy="50.86" r="1.56"/><circle cx="1238.29" cy="39.29" r="1.54"/><circle cx="1209.44" cy="26" r="0.98"/><circle cx="1178.77" cy="105.31" r="1.51"/><circle cx="1158.37" cy="65.32" r="1.55"/><circle cx="1153.82" cy="34.47" r="1.19"/><circle cx="1205.78" cy="103.98" r="1.51"/><circle cx="1131.98" cy="40.88" r="0.99"/><circle cx="1196.42" cy="61.73" r="1.55"/><circle cx="1198.57" cy="80.64" r="1.38"/><circle cx="1153.3" cy="105.99" r="1.5"/><circle cx="1221.43" cy="95.81" r="1.02"/><circle cx="1136.57" cy="58.03" r="1.4"/><circle cx="1152.84" cy="103.64" r="1.5"/><circle cx="1207.54" cy="68.81" r="1.01"/><circle cx="1219.98" cy="40.63" r="1.25"/><circle cx="1214.35" cy="82.51" r="1.07"/><circle cx="1227.66" cy="54.01" r="1.19"/><circle cx="1179.06" cy="88.47" r="0.93"/><circle cx="1201.1" cy="69.14" r="1.46"/><circle cx="1171.05" cy="76.7" r="1.58"/><circle cx="1137.13" cy="96.68" r="1.23"/><circle cx="1163.77" cy="49.85" r="1.05"/><circle cx="1223.72" cy="43.33" r="1.57"/><circle cx="1187.68" cy="50.81" r="1.45"/><circle cx="1194.81" cy="105.04" r="1"/><circle cx="1207.03" cy="27.52" r="1.03"/><circle cx="1176.44" cy="53.34" r="1.1"/><circle cx="1193.49" cy="92.59" r="1.19"/><circle cx="1186.8" cy="95.76" r="1.06"/><circle cx="1240.77" cy="27.14" r="1.16"/><circle cx="1221.73" cy="46.29" r="1.13"/><circle cx="1149.54" cy="113.17" r="1.51"/><circle cx="1139.67" cy="73.75" r="1.01"/><circle cx="1132.69" cy="45" r="1.39"/><circle cx="1189.01" cy="51.01" r="1.31"/><circle cx="1139.8" cy="55.99" r="0.97"/><circle cx="1221.62" cy="59.63" r="1.4"/><circle cx="1167.71" cy="62.59" r="1.3"/><circle cx="1159.29" cy="74.52" r="1.44"/><circle cx="1138.86" cy="42.99" r="0.91"/><circle cx="1184.6" cy="34.97" r="1.26"/><circle cx="1148.46" cy="72.59" r="1.1"/><circle cx="1213.33" cy="98.8" r="1.57"/><circle cx="1181.8" cy="105.5" r="1.5"/><circle cx="1167.75" cy="113.71" r="1.57"/><circle cx="1148.06" cy="93.03" r="1.38"/><circle cx="1198.69" cy="89.34" r="1.09"/><circle cx="1222.71" cy="90.33" r="1.03"/><circle cx="1237.23" cy="91.36" r="0.94"/><circle cx="1134.26" cy="40.32" r="1.36"/><circle cx="1210.39" cy="109.28" r="1.52"/><circle cx="1153.25" cy="42.58" r="0.96"/><circle cx="1173.72" cy="63.32" r="1.17"/><circle cx="1221.25" cy="80.47" r="1.46"/><circle cx="1225.82" cy="94.25" r="1.26"/><circle cx="1175.84" cy="73.52" r="1.22"/><circle cx="1204.47" cy="102.12" r="1.37"/><circle cx="1158.76" cy="76.07" r="1.22"/><circle cx="1144.27" cy="34.55" r="1.22"/><circle cx="1234.48" cy="88.62" r="0.94"/><circle cx="1231.81" cy="90.59" r="1.32"/><circle cx="1131.4" cy="53.07" r="1.13"/><circle cx="1183.93" cy="36.11" r="1.34"/><circle cx="1198.18" cy="82.97" r="1.25"/><circle cx="1192.19" cy="35.24" r="1.48"/><circle cx="1226.46" cy="102.05" r="1.44"/><circle cx="1157.42" cy="51.6" r="0.94"/><circle cx="1217.33" cy="102.81" r="1.56"/><circle cx="1196.94" cy="97.31" r="1.49"/><circle cx="1144.02" cy="31.19" r="1.51"/><circle cx="1237.75" cy="89.81" r="1.33"/><circle cx="1174.38" cy="102.68" r="1.1"/><circle cx="1136.68" cy="97.73" r="0.94"/><circle cx="1209.68" cy="83.84" r="0.98"/><circle cx="1178.87" cy="49.64" r="1.47"/><circle cx="1216.42" cy="54.79" r="1.01"/><circle cx="1168.48" cy="64.79" r="1.32"/><circle cx="1235.25" cy="54.05" r="1"/><circle cx="1199.77" cy="63.5" r="1.42"/><circle cx="1203.74" cy="74.52" r="1.47"/><circle cx="1152.3" cy="95.85" r="1.03"/><circle cx="1183.59" cy="75.29" r="1.28"/><circle cx="1143.06" cy="66.56" r="1.1"/><circle cx="1161.22" cy="63.14" r="1.19"/><circle cx="1153.48" cy="87.05" r="1.55"/><circle cx="1235.26" cy="41.32" r="1.06"/><circle cx="1175.58" cy="78.81" r="1.39"/><circle cx="1195.71" cy="69.62" r="1.6"/><circle cx="1236.72" cy="97.74" r="1.08"/><circle cx="1215.33" cy="28.26" r="1.56"/><circle cx="1208.05" cy="108.74" r="1.2"/><circle cx="1209.13" cy="47.67" r="1.55"/><circle cx="1150.39" cy="25.81" r="1.1"/><circle cx="1204" cy="73.62" r="1.47"/><circle cx="1206.11" cy="95.63" r="1.56"/><circle cx="1138.01" cy="34.58" r="1.1"/><circle cx="1145.44" cy="74.94" r="1.4"/><circle cx="1150.73" cy="69.92" r="1.07"/><circle cx="1132.58" cy="48.97" r="1.09"/><circle cx="1206.57" cy="112.69" r="0.95"/><circle cx="1184.78" cy="67.02" r="1.34"/><circle cx="1147.07" cy="111.55" r="1.09"/><circle cx="1194.51" cy="61.95" r="1.29"/><circle cx="1227.82" cy="80.9" r="1.14"/><circle cx="1235.75" cy="40.91" r="1.57"/><circle cx="1205" cy="47.14" r="1.59"/><circle cx="1226.22" cy="71.02" r="1.47"/><circle cx="1141.06" cy="49.89" r="1.24"/><circle cx="1234.81" cy="58.44" r="1.59"/><circle cx="1194.66" cy="89.99" r="1.45"/><circle cx="1145.29" cy="108.15" r="1.32"/><circle cx="1144.18" cy="38.68" r="1.46"/><circle cx="1192.65" cy="108.93" r="1.5"/><circle cx="1191.27" cy="62.9" r="1.43"/><circle cx="1238.56" cy="52.75" r="1.26"/><circle cx="1143.75" cy="29" r="0.94"/><circle cx="1172.01" cy="80.88" r="1.5"/><circle cx="1213.44" cy="112.23" r="1.08"/><circle cx="1224.9" cy="54.03" r="1.16"/><circle cx="1190.64" cy="115.19" r="1.23"/><circle cx="1137.14" cy="58.15" r="1.3"/><circle cx="1206.05" cy="38.9" r="1.1"/><circle cx="1149.05" cy="71.41" r="1.18"/></g>
</g>
<rect x="1208" y="111.5" width="32.5" height="4" fill="#000"/>
<clipPath id="c3"><rect x="1244" y="25.5" width="103.5" height="91"/></clipPath><g clip-path="url(#c3)">
<rect x="1244" y="25.5" width="103.5" height="91" fill="#dc78c8"/>
<ellipse cx="1259.34" cy="81.55" rx="7.7" ry="8.28" fill="#eba3dc" transform="rotate(109 1259.34 81.55)" opacity="0.55"/>
<ellipse cx="1283.78" cy="81.69" rx="11.66" ry="4.26" fill="#eba3dc" transform="rotate(95 1283.78 81.69)" opacity="0.55"/>
<ellipse cx="1308.13" cy="72.78" rx="14.79" ry="8.41" fill="#eba3dc" transform="rotate(67 1308.13 72.78)" opacity="0.55"/>
<ellipse cx="1267.48" cy="37.15" rx="14.1" ry="8.14" fill="#eba3dc" transform="rotate(109 1267.48 37.15)" opacity="0.55"/>
<ellipse cx="1289.72" cy="71.09" rx="8.22" ry="7.18" fill="#eba3dc" transform="rotate(26 1289.72 71.09)" opacity="0.55"/>
<ellipse cx="1308.28" cy="82.85" rx="12.7" ry="5.48" fill="#eba3dc" transform="rotate(16 1308.28 82.85)" opacity="0.55"/>
<ellipse cx="1278.46" cy="88.07" rx="11.1" ry="8.49" fill="#eba3dc" transform="rotate(77 1278.46 88.07)" opacity="0.55"/>
<ellipse cx="1285.24" cy="108.09" rx="7.67" ry="5.24" fill="#eba3dc" transform="rotate(105 1285.24 108.09)" opacity="0.55"/>
<ellipse cx="1309.35" cy="64.89" rx="11.58" ry="6.64" fill="#eba3dc" transform="rotate(120 1309.35 64.89)" opacity="0.55"/>
<ellipse cx="1335.99" cy="100.58" rx="12.39" ry="6.82" fill="#eba3dc" transform="rotate(170 1335.99 100.58)" opacity="0.55"/>
<ellipse cx="1290.28" cy="82.44" rx="14.68" ry="8.1" fill="#eba3dc" transform="rotate(70 1290.28 82.44)" opacity="0.55"/>
<ellipse cx="1320.9" cy="80.13" rx="15.15" ry="7.74" fill="#eba3dc" transform="rotate(96 1320.9 80.13)" opacity="0.55"/>
<ellipse cx="1344.81" cy="73.52" rx="9.98" ry="9.63" fill="#eba3dc" transform="rotate(169 1344.81 73.52)" opacity="0.55"/>
<ellipse cx="1261.8" cy="32.09" rx="14.58" ry="9.3" fill="#eba3dc" transform="rotate(69 1261.8 32.09)" opacity="0.55"/>
<ellipse cx="1270.36" cy="87.79" rx="8.64" ry="1.12" fill="#f7eef7" transform="rotate(80 1270.36 87.79)" opacity="0.9"/>
<ellipse cx="1312.59" cy="45.59" rx="5.49" ry="1.01" fill="#f7eef7" transform="rotate(86 1312.59 45.59)" opacity="0.9"/>
<ellipse cx="1267.8" cy="32.84" rx="5.33" ry="1.03" fill="#f7eef7" transform="rotate(21 1267.8 32.84)" opacity="0.9"/>
<ellipse cx="1259.59" cy="63.51" rx="4.91" ry="1.89" fill="#f7eef7" transform="rotate(74 1259.59 63.51)" opacity="0.9"/>
<ellipse cx="1269.18" cy="42.61" rx="4.78" ry="1.91" fill="#f7eef7" transform="rotate(36 1269.18 42.61)" opacity="0.9"/>
<ellipse cx="1292.15" cy="98.91" rx="7.98" ry="1.49" fill="#f7eef7" transform="rotate(151 1292.15 98.91)" opacity="0.9"/>
<ellipse cx="1310.49" cy="46.14" rx="3.56" ry="1.06" fill="#f7eef7" transform="rotate(142 1310.49 46.14)" opacity="0.9"/>
<ellipse cx="1292" cy="75.5" rx="23.1" ry="26.4" fill="#f3e4f3" transform="rotate(20 1292 75.5)" opacity="0.7"/>
<ellipse cx="1292" cy="75.5" rx="21.34" ry="24.64" fill="#c878c8" transform="rotate(20 1292 75.5)"/>
<circle cx="1278.06" cy="88.82" r="1.3" fill="#4a2a95"/>
<circle cx="1310.59" cy="71.07" r="1.3" fill="#4a2a95"/>
<circle cx="1290.3" cy="75.88" r="1.3" fill="#4a2a95"/>
<circle cx="1290.47" cy="86.01" r="1.3" fill="#4a2a95"/>
<circle cx="1282.17" cy="60.13" r="1.3" fill="#4a2a95"/>
<circle cx="1306.65" cy="66.46" r="1.3" fill="#4a2a95"/>
<circle cx="1307.31" cy="70.94" r="1.3" fill="#4a2a95"/>
<circle cx="1274.11" cy="78.79" r="1.3" fill="#4a2a95"/>
<circle cx="1289.37" cy="95.36" r="1.3" fill="#4a2a95"/>
<circle cx="1289.4" cy="54.51" r="1.3" fill="#4a2a95"/>
<circle cx="1299.98" cy="79.16" r="1.3" fill="#4a2a95"/>
<circle cx="1299.09" cy="72.83" r="1.3" fill="#4a2a95"/>
<circle cx="1277.36" cy="80.83" r="1.3" fill="#4a2a95"/>
<circle cx="1273.55" cy="77.9" r="1.3" fill="#4a2a95"/>
<circle cx="1303.12" cy="71.82" r="1.3" fill="#4a2a95"/>
<circle cx="1304.58" cy="91.78" r="1.3" fill="#4a2a95"/>
<circle cx="1282.54" cy="78.77" r="1.3" fill="#4a2a95"/>
<circle cx="1293.22" cy="77.15" r="1.3" fill="#4a2a95"/>
<circle cx="1282.89" cy="69.51" r="1.3" fill="#4a2a95"/>
<circle cx="1274.14" cy="67.91" r="1.3" fill="#4a2a95"/>
<circle cx="1272.76" cy="77.68" r="1.3" fill="#4a2a95"/>
<circle cx="1307.74" cy="83.58" r="1.3" fill="#4a2a95"/>
<circle cx="1292.57" cy="53.21" r="1.3" fill="#4a2a95"/>
<circle cx="1305.83" cy="78.63" r="1.3" fill="#4a2a95"/>
<circle cx="1277.64" cy="69.39" r="1.3" fill="#4a2a95"/>
<circle cx="1281.83" cy="77.64" r="1.3" fill="#4a2a95"/>
<circle cx="1307.2" cy="63.26" r="1.3" fill="#4a2a95"/>
<circle cx="1286.15" cy="54.24" r="1.3" fill="#4a2a95"/>
<circle cx="1286.73" cy="73.39" r="1.3" fill="#4a2a95"/>
<circle cx="1289.79" cy="68.58" r="1.3" fill="#4a2a95"/>
<circle cx="1292.09" cy="57.16" r="1.3" fill="#4a2a95"/>
<circle cx="1294.07" cy="84.07" r="1.3" fill="#4a2a95"/>
<circle cx="1299.59" cy="79.44" r="1.3" fill="#4a2a95"/>
<circle cx="1301.36" cy="74" r="1.3" fill="#4a2a95"/>
<circle cx="1297.42" cy="69.94" r="1.3" fill="#4a2a95"/>
<circle cx="1284.81" cy="88.78" r="1.3" fill="#4a2a95"/>
<circle cx="1279.76" cy="92.88" r="1.3" fill="#4a2a95"/>
<circle cx="1292.85" cy="91.3" r="1.3" fill="#4a2a95"/>
<circle cx="1293.82" cy="82.72" r="1.3" fill="#4a2a95"/>
<circle cx="1287.79" cy="63.16" r="1.3" fill="#4a2a95"/>
<circle cx="1275.57" cy="77.04" r="1.3" fill="#4a2a95"/>
<circle cx="1295.92" cy="78.32" r="1.3" fill="#4a2a95"/>
<circle cx="1284.45" cy="54.53" r="1.3" fill="#4a2a95"/>
<circle cx="1305.23" cy="77.27" r="1.3" fill="#4a2a95"/>
<circle cx="1310.06" cy="74.8" r="1.3" fill="#4a2a95"/>
<g fill="#4a34a0" opacity="0.72"><circle cx="1346.4" cy="73.66" r="1.58"/><circle cx="1249.79" cy="68.45" r="1.49"/><circle cx="1284.43" cy="65.6" r="1.21"/><circle cx="1283.3" cy="99.48" r="1.58"/><circle cx="1267.88" cy="54.84" r="1.46"/><circle cx="1321" cy="99.6" r="1.38"/><circle cx="1338.7" cy="102.39" r="1.34"/><circle cx="1273.36" cy="33.25" r="1.5"/><circle cx="1332.81" cy="106.63" r="1.09"/><circle cx="1320.43" cy="110.18" r="1.04"/><circle cx="1246.44" cy="41.34" r="1.05"/><circle cx="1314.38" cy="100.24" r="1.47"/><circle cx="1315.32" cy="114.53" r="1.58"/><circle cx="1289.48" cy="109.36" r="1.4"/><circle cx="1269.36" cy="78.76" r="1.02"/><circle cx="1285.38" cy="99.48" r="0.91"/><circle cx="1299.53" cy="65.15" r="1.1"/><circle cx="1250.69" cy="73.13" r="1.13"/><circle cx="1254.08" cy="62.03" r="1.38"/><circle cx="1252.24" cy="96.95" r="0.96"/><circle cx="1292.71" cy="58.86" r="1.5"/><circle cx="1336.41" cy="92.59" r="1.11"/><circle cx="1277.59" cy="100.56" r="1.26"/><circle cx="1309.74" cy="91.37" r="1.03"/><circle cx="1283.82" cy="112.34" r="1.13"/><circle cx="1331.81" cy="39.58" r="0.91"/><circle cx="1296" cy="51.27" r="1.32"/><circle cx="1323.69" cy="29.04" r="1.25"/><circle cx="1282.67" cy="107.94" r="1.49"/><circle cx="1335.56" cy="92.98" r="1.14"/><circle cx="1308.1" cy="75.02" r="1.16"/><circle cx="1274.01" cy="84.54" r="1.53"/><circle cx="1269.04" cy="57.88" r="1.01"/><circle cx="1281.79" cy="60.85" r="0.97"/><circle cx="1310.77" cy="56.79" r="1.46"/><circle cx="1269.13" cy="92.3" r="1.59"/><circle cx="1261.51" cy="59.2" r="1.58"/><circle cx="1285.75" cy="55.41" r="1.01"/><circle cx="1329.83" cy="55.16" r="1.52"/><circle cx="1301.75" cy="41.87" r="1.59"/><circle cx="1337.2" cy="93.63" r="1.32"/><circle cx="1322.02" cy="111.74" r="1.04"/><circle cx="1268.97" cy="94.88" r="1.19"/><circle cx="1345.96" cy="101.39" r="1.27"/><circle cx="1260.52" cy="81.19" r="1.32"/><circle cx="1304.06" cy="96.38" r="1.23"/><circle cx="1336.39" cy="79.67" r="1.01"/><circle cx="1328.96" cy="40.86" r="1.53"/><circle cx="1339.94" cy="43.28" r="1.04"/><circle cx="1316.69" cy="67.07" r="1.16"/><circle cx="1321.74" cy="56.02" r="0.99"/><circle cx="1301.04" cy="105.33" r="1.57"/><circle cx="1254.98" cy="93.39" r="1.13"/><circle cx="1344.5" cy="61.01" r="0.97"/><circle cx="1278.24" cy="72.4" r="1.02"/><circle cx="1323.68" cy="55.47" r="1.42"/><circle cx="1268.05" cy="70.2" r="1.36"/><circle cx="1265.38" cy="51.82" r="1.49"/><circle cx="1284.8" cy="57.22" r="1.33"/><circle cx="1315.55" cy="104.15" r="1.3"/><circle cx="1332.4" cy="106.76" r="1.55"/><circle cx="1339.16" cy="88.69" r="1.39"/><circle cx="1284.26" cy="35.19" r="1.55"/><circle cx="1286.88" cy="56.26" r="1.28"/><circle cx="1322.24" cy="101.02" r="0.98"/><circle cx="1325.13" cy="111.13" r="1.58"/><circle cx="1341.5" cy="77.54" r="1.52"/><circle cx="1305.15" cy="102.73" r="1.59"/><circle cx="1282.81" cy="36.75" r="1.43"/><circle cx="1341.08" cy="107.8" r="1.22"/><circle cx="1290.47" cy="36.85" r="1.5"/><circle cx="1272.13" cy="36.6" r="0.97"/><circle cx="1340.35" cy="63.33" r="1.46"/><circle cx="1251.27" cy="69.31" r="1.42"/><circle cx="1323.87" cy="42.81" r="1.24"/><circle cx="1328.13" cy="108.64" r="0.97"/><circle cx="1304.81" cy="106.46" r="1.33"/><circle cx="1325.28" cy="52.56" r="1.24"/><circle cx="1245.44" cy="98.16" r="1.29"/><circle cx="1262.73" cy="111.15" r="1.05"/><circle cx="1247.48" cy="91.44" r="0.96"/><circle cx="1312.17" cy="37.92" r="0.92"/><circle cx="1320.24" cy="81.31" r="1.36"/><circle cx="1317.36" cy="90.76" r="1.02"/><circle cx="1287.91" cy="79.39" r="1.51"/><circle cx="1310.83" cy="69.88" r="1.47"/><circle cx="1331.39" cy="48.23" r="1.03"/><circle cx="1244.58" cy="104.84" r="1.05"/><circle cx="1303.87" cy="73.34" r="1.36"/><circle cx="1341.12" cy="85.28" r="1.02"/><circle cx="1288.58" cy="42.36" r="1.17"/><circle cx="1320.63" cy="84.83" r="1.34"/><circle cx="1333.34" cy="116.31" r="1.08"/><circle cx="1316.63" cy="84.27" r="0.92"/><circle cx="1346.66" cy="61.81" r="1.37"/><circle cx="1267.75" cy="64.03" r="0.98"/><circle cx="1344.19" cy="29.31" r="0.95"/><circle cx="1319.21" cy="77.94" r="1.13"/><circle cx="1341.38" cy="89.09" r="1.21"/><circle cx="1317.66" cy="110.76" r="1.51"/><circle cx="1281.68" cy="95.97" r="1.05"/><circle cx="1283.95" cy="115.86" r="1.41"/><circle cx="1285.48" cy="74.98" r="1.21"/><circle cx="1317.19" cy="73.04" r="1.22"/><circle cx="1287.4" cy="105.55" r="1.47"/><circle cx="1269.1" cy="61.7" r="1.53"/><circle cx="1319.53" cy="80.2" r="1.34"/><circle cx="1264.86" cy="77.16" r="1.42"/><circle cx="1289.65" cy="62.74" r="1.2"/><circle cx="1306.02" cy="45.46" r="1.48"/><circle cx="1250.72" cy="95.88" r="1.27"/><circle cx="1269.95" cy="48.36" r="1.09"/><circle cx="1260.77" cy="115.86" r="1.1"/><circle cx="1252.72" cy="85.39" r="1.58"/><circle cx="1273.79" cy="46.55" r="1.31"/><circle cx="1277.74" cy="67.33" r="1.3"/><circle cx="1347.32" cy="59.81" r="1.15"/><circle cx="1317.27" cy="77.42" r="1.51"/><circle cx="1288.96" cy="83.36" r="1.26"/><circle cx="1306.48" cy="70.02" r="1.01"/><circle cx="1256.81" cy="61.63" r="1.6"/><circle cx="1296.71" cy="70.94" r="1.21"/><circle cx="1324.29" cy="57.73" r="1.17"/><circle cx="1278.74" cy="77.55" r="1.24"/><circle cx="1306.41" cy="110.67" r="1.14"/><circle cx="1308.66" cy="115.81" r="1.42"/><circle cx="1331.3" cy="99.43" r="1.04"/><circle cx="1309.56" cy="56.92" r="1.15"/><circle cx="1257.24" cy="96.61" r="1.55"/><circle cx="1333.23" cy="65.16" r="1.54"/><circle cx="1327.21" cy="81.53" r="1.46"/><circle cx="1324.43" cy="26.55" r="1.33"/><circle cx="1311.25" cy="58.17" r="1.47"/><circle cx="1320.39" cy="33.79" r="1.17"/><circle cx="1244.92" cy="59.59" r="0.98"/><circle cx="1244.19" cy="52.64" r="1.4"/><circle cx="1262.12" cy="113.73" r="1.03"/><circle cx="1329.83" cy="50.08" r="1.51"/><circle cx="1296.47" cy="102.02" r="1.21"/><circle cx="1272.96" cy="106.1" r="0.91"/><circle cx="1257.25" cy="38.2" r="1.29"/><circle cx="1322.59" cy="47.86" r="1.31"/><circle cx="1332.21" cy="25.95" r="1.43"/><circle cx="1258.23" cy="27.95" r="1.25"/><circle cx="1284.06" cy="61.43" r="1.35"/><circle cx="1245.54" cy="80.5" r="1"/><circle cx="1341.67" cy="68.57" r="1.05"/><circle cx="1298.27" cy="63.04" r="0.95"/><circle cx="1322.8" cy="64.66" r="1.49"/><circle cx="1322.5" cy="100.68" r="1.57"/><circle cx="1274.59" cy="76.92" r="1.3"/><circle cx="1307.95" cy="93.35" r="1.43"/><circle cx="1311.36" cy="80.41" r="1.28"/><circle cx="1258.67" cy="50.24" r="0.98"/><circle cx="1305.8" cy="80.61" r="1.06"/><circle cx="1283.13" cy="104.32" r="1.01"/><circle cx="1299.56" cy="72.13" r="1.23"/><circle cx="1273.5" cy="112.17" r="1.29"/><circle cx="1295.99" cy="32.52" r="0.93"/><circle cx="1292.6" cy="49.57" r="1.38"/><circle cx="1317.38" cy="31.01" r="1.17"/><circle cx="1276.2" cy="84.58" r="1.3"/><circle cx="1333.13" cy="29.09" r="1.24"/><circle cx="1319.3" cy="40.54" r="0.93"/><circle cx="1290.16" cy="46.82" r="0.93"/><circle cx="1331.89" cy="92.96" r="1.37"/><circle cx="1334.28" cy="92.38" r="1.21"/><circle cx="1323.13" cy="110.15" r="1.56"/><circle cx="1334.48" cy="97.42" r="1.58"/><circle cx="1341.69" cy="82.85" r="1.19"/><circle cx="1315.64" cy="114.22" r="0.97"/></g>
</g>
<rect x="1314.5" y="112.5" width="32.5" height="4" fill="#000"/>
<clipPath id="c4"><rect x="1351.5" y="25" width="100.5" height="94"/></clipPath><g clip-path="url(#c4)">
<rect x="1351.5" y="25" width="100.5" height="94" fill="#de78c9"/>
<ellipse cx="1449.89" cy="67.89" rx="13.19" ry="8.41" fill="#eca6dd" transform="rotate(38 1449.89 67.89)" opacity="0.55"/>
<ellipse cx="1359.34" cy="81.66" rx="7.22" ry="6.29" fill="#eca6dd" transform="rotate(160 1359.34 81.66)" opacity="0.55"/>
<ellipse cx="1439.15" cy="36.16" rx="6.82" ry="5.33" fill="#eca6dd" transform="rotate(149 1439.15 36.16)" opacity="0.55"/>
<ellipse cx="1353.98" cy="46.17" rx="7.07" ry="4.77" fill="#eca6dd" transform="rotate(94 1353.98 46.17)" opacity="0.55"/>
<ellipse cx="1369.93" cy="63.49" rx="13.33" ry="8.34" fill="#eca6dd" transform="rotate(74 1369.93 63.49)" opacity="0.55"/>
<ellipse cx="1430.51" cy="78.82" rx="14.27" ry="5.49" fill="#eca6dd" transform="rotate(66 1430.51 78.82)" opacity="0.55"/>
<ellipse cx="1409.82" cy="113.91" rx="12.18" ry="6.85" fill="#eca6dd" transform="rotate(45 1409.82 113.91)" opacity="0.55"/>
<ellipse cx="1379.77" cy="45.28" rx="15.86" ry="9.32" fill="#eca6dd" transform="rotate(161 1379.77 45.28)" opacity="0.55"/>
<ellipse cx="1404.62" cy="91.59" rx="8.96" ry="6.89" fill="#eca6dd" transform="rotate(26 1404.62 91.59)" opacity="0.55"/>
<ellipse cx="1393.72" cy="48.75" rx="7" ry="9.52" fill="#eca6dd" transform="rotate(17 1393.72 48.75)" opacity="0.55"/>
<ellipse cx="1433.2" cy="90.76" rx="6.9" ry="6.91" fill="#eca6dd" transform="rotate(179 1433.2 90.76)" opacity="0.55"/>
<ellipse cx="1450.68" cy="77.95" rx="13.72" ry="8.25" fill="#eca6dd" transform="rotate(52 1450.68 77.95)" opacity="0.55"/>
<ellipse cx="1406.77" cy="81.11" rx="9.94" ry="8.91" fill="#eca6dd" transform="rotate(79 1406.77 81.11)" opacity="0.55"/>
<ellipse cx="1426.82" cy="31.08" rx="10.45" ry="4.27" fill="#eca6dd" transform="rotate(116 1426.82 31.08)" opacity="0.55"/>
<ellipse cx="1439.2" cy="76.09" rx="6.39" ry="1.73" fill="#f7eef7" transform="rotate(41 1439.2 76.09)" opacity="0.9"/>
<ellipse cx="1390.32" cy="79.38" rx="6.88" ry="1.37" fill="#f7eef7" transform="rotate(85 1390.32 79.38)" opacity="0.9"/>
<ellipse cx="1384.74" cy="77.1" rx="7.06" ry="1.29" fill="#f7eef7" transform="rotate(123 1384.74 77.1)" opacity="0.9"/>
<ellipse cx="1436.82" cy="75.43" rx="8.88" ry="1.26" fill="#f7eef7" transform="rotate(165 1436.82 75.43)" opacity="0.9"/>
<ellipse cx="1369.78" cy="59.16" rx="7.9" ry="0.85" fill="#f7eef7" transform="rotate(110 1369.78 59.16)" opacity="0.9"/>
<ellipse cx="1439.07" cy="113.74" rx="7.09" ry="1.32" fill="#f7eef7" transform="rotate(59 1439.07 113.74)" opacity="0.9"/>
<ellipse cx="1414.93" cy="31.27" rx="3.17" ry="2.12" fill="#f7eef7" transform="rotate(112 1414.93 31.27)" opacity="0.9"/>
<ellipse cx="1389.5" cy="53" rx="16.8" ry="19.2" fill="#f3e4f3" transform="rotate(20 1389.5 53)" opacity="0.7"/>
<ellipse cx="1389.5" cy="53" rx="15.52" ry="17.92" fill="#c878c8" transform="rotate(20 1389.5 53)"/>
<circle cx="1394.41" cy="62.26" r="1.3" fill="#4a2a95"/>
<circle cx="1386.24" cy="67.98" r="1.3" fill="#4a2a95"/>
<circle cx="1386.73" cy="66.73" r="1.3" fill="#4a2a95"/>
<circle cx="1389.18" cy="43.66" r="1.3" fill="#4a2a95"/>
<circle cx="1389.36" cy="64.95" r="1.3" fill="#4a2a95"/>
<circle cx="1380.53" cy="60.52" r="1.3" fill="#4a2a95"/>
<circle cx="1383.45" cy="66.02" r="1.3" fill="#4a2a95"/>
<circle cx="1384.84" cy="55.93" r="1.3" fill="#4a2a95"/>
<circle cx="1391.59" cy="37.52" r="1.3" fill="#4a2a95"/>
<circle cx="1385.04" cy="41.89" r="1.3" fill="#4a2a95"/>
<circle cx="1399.14" cy="41.46" r="1.3" fill="#4a2a95"/>
<circle cx="1399.54" cy="53.67" r="1.3" fill="#4a2a95"/>
<circle cx="1397.76" cy="54.14" r="1.3" fill="#4a2a95"/>
<circle cx="1390" cy="64.23" r="1.3" fill="#4a2a95"/>
<circle cx="1383.61" cy="39.21" r="1.3" fill="#4a2a95"/>
<circle cx="1389.39" cy="54.79" r="1.3" fill="#4a2a95"/>
<circle cx="1402.23" cy="52.91" r="1.3" fill="#4a2a95"/>
<circle cx="1384.91" cy="51.27" r="1.3" fill="#4a2a95"/>
<circle cx="1402.67" cy="58.17" r="1.3" fill="#4a2a95"/>
<circle cx="1376.37" cy="50.18" r="1.3" fill="#4a2a95"/>
<circle cx="1392.12" cy="38.97" r="1.3" fill="#4a2a95"/>
<circle cx="1391.97" cy="45.16" r="1.3" fill="#4a2a95"/>
<circle cx="1389.73" cy="63.9" r="1.3" fill="#4a2a95"/>
<circle cx="1390.92" cy="38.33" r="1.3" fill="#4a2a95"/>
<circle cx="1390.01" cy="40.41" r="1.3" fill="#4a2a95"/>
<circle cx="1383.22" cy="54.06" r="1.3" fill="#4a2a95"/>
<circle cx="1383.68" cy="41.41" r="1.3" fill="#4a2a95"/>
<circle cx="1377.27" cy="51.72" r="1.3" fill="#4a2a95"/>
<circle cx="1403.37" cy="50.91" r="1.3" fill="#4a2a95"/>
<circle cx="1395.54" cy="58.54" r="1.3" fill="#4a2a95"/>
<circle cx="1380.43" cy="44.04" r="1.3" fill="#4a2a95"/>
<circle cx="1386.51" cy="68.6" r="1.3" fill="#4a2a95"/>
<circle cx="1377.28" cy="56.53" r="1.3" fill="#4a2a95"/>
<circle cx="1396.7" cy="55.82" r="1.3" fill="#4a2a95"/>
<circle cx="1402.18" cy="55.07" r="1.3" fill="#4a2a95"/>
<circle cx="1375.58" cy="50.78" r="1.3" fill="#4a2a95"/>
<circle cx="1383.07" cy="47.13" r="1.3" fill="#4a2a95"/>
<circle cx="1384.03" cy="60.95" r="1.3" fill="#4a2a95"/>
<circle cx="1391.02" cy="58.15" r="1.3" fill="#4a2a95"/>
<circle cx="1384.75" cy="45.51" r="1.3" fill="#4a2a95"/>
<circle cx="1377.88" cy="57.01" r="1.3" fill="#4a2a95"/>
<circle cx="1388.06" cy="63.86" r="1.3" fill="#4a2a95"/>
<circle cx="1385.84" cy="61.44" r="1.3" fill="#4a2a95"/>
<circle cx="1387.23" cy="48.5" r="1.3" fill="#4a2a95"/>
<circle cx="1385.65" cy="56.24" r="1.3" fill="#4a2a95"/>
<g fill="#4a34a0" opacity="0.72"><circle cx="1418.83" cy="53" r="1.58"/><circle cx="1400.01" cy="87.22" r="1.27"/><circle cx="1433.88" cy="90.87" r="1.35"/><circle cx="1354.72" cy="38.34" r="1.43"/><circle cx="1392.9" cy="116.71" r="1.35"/><circle cx="1434.24" cy="95.05" r="1.57"/><circle cx="1417.61" cy="113.14" r="1.2"/><circle cx="1378.37" cy="35.36" r="1.08"/><circle cx="1441.37" cy="86.86" r="0.93"/><circle cx="1354.3" cy="68.29" r="1.28"/><circle cx="1387.77" cy="26.86" r="1.08"/><circle cx="1439.63" cy="93.18" r="1.47"/><circle cx="1378.59" cy="87.77" r="1.04"/><circle cx="1381.82" cy="114.89" r="1.05"/><circle cx="1380.9" cy="45.46" r="1.51"/><circle cx="1420.57" cy="80.54" r="1.5"/><circle cx="1398.09" cy="111.1" r="1.44"/><circle cx="1381.59" cy="47.18" r="1.28"/><circle cx="1396.33" cy="99.24" r="1.36"/><circle cx="1426.13" cy="81.7" r="1.08"/><circle cx="1426.27" cy="117.26" r="1.35"/><circle cx="1422.95" cy="46.95" r="0.98"/><circle cx="1396.53" cy="80.8" r="1.41"/><circle cx="1399.14" cy="76.11" r="0.96"/><circle cx="1356.32" cy="36.43" r="1.12"/><circle cx="1375.94" cy="38.43" r="1.14"/><circle cx="1385.35" cy="102.47" r="1.55"/><circle cx="1451.38" cy="94.31" r="0.91"/><circle cx="1375.42" cy="118.9" r="1.39"/><circle cx="1437.71" cy="43.77" r="1.07"/><circle cx="1361.36" cy="74.34" r="1.16"/><circle cx="1398.81" cy="38" r="0.92"/><circle cx="1390.31" cy="112.09" r="1.36"/><circle cx="1408.95" cy="30.93" r="1.2"/><circle cx="1388.6" cy="84.28" r="1.18"/><circle cx="1432.07" cy="50.83" r="1.41"/><circle cx="1351.98" cy="38.76" r="1.46"/><circle cx="1437.26" cy="53.54" r="1.04"/><circle cx="1448.09" cy="80.66" r="0.96"/><circle cx="1450.88" cy="78.2" r="1.11"/><circle cx="1402.34" cy="59.73" r="1.3"/><circle cx="1393.09" cy="60.33" r="1.41"/><circle cx="1382.19" cy="103.05" r="1.42"/><circle cx="1446.32" cy="39.49" r="1.5"/><circle cx="1423.19" cy="42.15" r="1.54"/><circle cx="1401.99" cy="41.72" r="1.05"/><circle cx="1451.9" cy="100.41" r="1.06"/><circle cx="1441.19" cy="28.57" r="1.39"/><circle cx="1415.11" cy="106.71" r="1.54"/><circle cx="1425.03" cy="104.29" r="1.22"/><circle cx="1445.32" cy="65.4" r="1.41"/><circle cx="1426.97" cy="62.99" r="1.47"/><circle cx="1423.69" cy="39.97" r="1.31"/><circle cx="1400.31" cy="81.01" r="0.92"/><circle cx="1421.96" cy="62.32" r="1.42"/><circle cx="1375.74" cy="26.93" r="1.23"/><circle cx="1415.72" cy="98.18" r="1.28"/><circle cx="1439.98" cy="40.39" r="0.99"/><circle cx="1392.04" cy="86.8" r="1.44"/><circle cx="1358.05" cy="81.24" r="1.14"/><circle cx="1404.58" cy="34.25" r="1.01"/><circle cx="1415.52" cy="57.03" r="1.58"/><circle cx="1402.43" cy="57.85" r="1.03"/><circle cx="1404.39" cy="73.04" r="1.08"/><circle cx="1448.91" cy="72.81" r="1.44"/><circle cx="1420.28" cy="103.23" r="0.97"/><circle cx="1448.26" cy="81.21" r="1.02"/><circle cx="1411.26" cy="30.38" r="1.2"/><circle cx="1361.32" cy="29.56" r="1.22"/><circle cx="1435.82" cy="96.33" r="1.55"/><circle cx="1429.78" cy="83.07" r="1.32"/><circle cx="1447.86" cy="37.18" r="1.26"/><circle cx="1406.26" cy="26.34" r="1.51"/><circle cx="1419.82" cy="56.93" r="1.46"/><circle cx="1399.41" cy="93.29" r="1.28"/><circle cx="1437.94" cy="72.46" r="0.96"/><circle cx="1428.18" cy="46.68" r="1.3"/><circle cx="1445.28" cy="93.03" r="0.95"/><circle cx="1435.8" cy="115.83" r="1.23"/><circle cx="1377.09" cy="68.57" r="1.27"/><circle cx="1356.16" cy="104.63" r="1.35"/><circle cx="1391.73" cy="101.58" r="1.02"/><circle cx="1440.92" cy="105.75" r="1.23"/><circle cx="1362.83" cy="67.15" r="0.97"/><circle cx="1406.6" cy="38.38" r="1.26"/><circle cx="1392.63" cy="55.37" r="1.31"/><circle cx="1405.2" cy="107.92" r="1.21"/><circle cx="1409.24" cy="93.38" r="1.01"/><circle cx="1405.5" cy="41.94" r="1.25"/><circle cx="1402.64" cy="110.18" r="1.57"/><circle cx="1382.14" cy="105.25" r="1.16"/><circle cx="1376.63" cy="81.06" r="1.11"/><circle cx="1446.58" cy="109.73" r="0.92"/><circle cx="1450.43" cy="108.52" r="1"/><circle cx="1417.84" cy="77.46" r="1.01"/><circle cx="1422.37" cy="25.95" r="1.14"/><circle cx="1402.46" cy="100.42" r="1.18"/><circle cx="1380.4" cy="69.13" r="1.28"/><circle cx="1391.71" cy="34.08" r="1.49"/><circle cx="1372.21" cy="42.55" r="1.05"/><circle cx="1448.43" cy="32.27" r="1.34"/><circle cx="1408.99" cy="46.39" r="1.45"/><circle cx="1369.45" cy="35.71" r="0.92"/><circle cx="1417.95" cy="29.94" r="1.33"/><circle cx="1417.48" cy="34.65" r="1.58"/><circle cx="1365.22" cy="55.73" r="1.46"/><circle cx="1378.36" cy="98.21" r="1.39"/><circle cx="1427.72" cy="60.31" r="1.09"/><circle cx="1398.74" cy="83.62" r="0.92"/><circle cx="1360.74" cy="50.61" r="0.94"/><circle cx="1427.31" cy="116.42" r="1.26"/><circle cx="1384.9" cy="65.03" r="1.51"/><circle cx="1424.19" cy="77.5" r="1.35"/><circle cx="1443.34" cy="83.21" r="1.05"/><circle cx="1440.85" cy="29.14" r="1"/><circle cx="1370.99" cy="60.97" r="1.3"/><circle cx="1434.55" cy="48.92" r="1.51"/><circle cx="1451.51" cy="107.1" r="1.47"/><circle cx="1408.47" cy="67.55" r="1.01"/><circle cx="1390.09" cy="46.08" r="1.15"/><circle cx="1358.52" cy="115.59" r="1.19"/><circle cx="1360.78" cy="36.89" r="1.21"/><circle cx="1359.32" cy="88.16" r="1.11"/><circle cx="1415.86" cy="56.98" r="1.17"/><circle cx="1440.14" cy="68" r="1.54"/><circle cx="1419.44" cy="95.32" r="1.41"/><circle cx="1407.87" cy="54.5" r="1.38"/><circle cx="1355.15" cy="48.25" r="1.46"/><circle cx="1436.37" cy="27.02" r="1.45"/><circle cx="1396.7" cy="44.94" r="1.54"/><circle cx="1409.42" cy="48.31" r="1.54"/><circle cx="1358.07" cy="91.4" r="1.41"/><circle cx="1425.65" cy="69.45" r="1.11"/><circle cx="1373.59" cy="96.41" r="1.25"/><circle cx="1354.22" cy="90.27" r="1.41"/><circle cx="1430.97" cy="69.72" r="1.38"/><circle cx="1412.43" cy="99.43" r="1.09"/><circle cx="1373.45" cy="104" r="1.08"/><circle cx="1353.49" cy="88.95" r="1.45"/><circle cx="1438.43" cy="117.45" r="0.95"/><circle cx="1446.43" cy="51.68" r="0.99"/><circle cx="1379.93" cy="33.53" r="0.9"/><circle cx="1366.37" cy="77.37" r="0.94"/><circle cx="1427.88" cy="25.22" r="1.05"/><circle cx="1368.26" cy="35.96" r="0.9"/><circle cx="1402.67" cy="31.45" r="0.98"/><circle cx="1351.62" cy="103.3" r="1.01"/><circle cx="1392.79" cy="97.77" r="1"/><circle cx="1387.88" cy="103.36" r="1.34"/><circle cx="1365.12" cy="73.93" r="1.48"/><circle cx="1405.69" cy="50.63" r="1.05"/><circle cx="1442.45" cy="61.86" r="1.04"/><circle cx="1379.15" cy="81.09" r="1.5"/><circle cx="1417.84" cy="82.17" r="1.15"/><circle cx="1375.11" cy="88.45" r="1.15"/><circle cx="1381.49" cy="94.82" r="1.54"/><circle cx="1436.63" cy="36.39" r="1.43"/><circle cx="1405.69" cy="31.28" r="1.47"/><circle cx="1406.17" cy="70.37" r="0.95"/><circle cx="1407.39" cy="70.16" r="1.48"/><circle cx="1442.77" cy="37.42" r="1.54"/><circle cx="1391.25" cy="26.56" r="1.43"/><circle cx="1433.04" cy="99.6" r="1.01"/><circle cx="1425.69" cy="112.4" r="1.57"/><circle cx="1387.86" cy="104.2" r="0.98"/><circle cx="1440.62" cy="80.11" r="1.36"/><circle cx="1428.19" cy="49.34" r="1.06"/><circle cx="1357.93" cy="91.98" r="0.92"/><circle cx="1353.65" cy="86.34" r="1.25"/><circle cx="1451.3" cy="37.85" r="1.27"/><circle cx="1370.98" cy="100.49" r="1.57"/></g>
</g>
<rect x="1419" y="115" width="32.5" height="4" fill="#000"/>
<clipPath id="c5"><rect x="1454.7" y="25" width="101.3" height="94"/></clipPath><g clip-path="url(#c5)">
<rect x="1454.7" y="25" width="101.3" height="94" fill="#d975c6"/>
<ellipse cx="1551.94" cy="106.96" rx="13.32" ry="5.37" fill="#eba3dc" transform="rotate(59 1551.94 106.96)" opacity="0.55"/>
<ellipse cx="1527.01" cy="100.83" rx="6.17" ry="5" fill="#eba3dc" transform="rotate(161 1527.01 100.83)" opacity="0.55"/>
<ellipse cx="1466.67" cy="86.6" rx="9.3" ry="7.87" fill="#eba3dc" transform="rotate(155 1466.67 86.6)" opacity="0.55"/>
<ellipse cx="1513.61" cy="61.77" rx="9.22" ry="7.73" fill="#eba3dc" transform="rotate(113 1513.61 61.77)" opacity="0.55"/>
<ellipse cx="1496.19" cy="68.84" rx="11.36" ry="5.55" fill="#eba3dc" transform="rotate(32 1496.19 68.84)" opacity="0.55"/>
<ellipse cx="1512.3" cy="34.43" rx="11.98" ry="8.81" fill="#eba3dc" transform="rotate(149 1512.3 34.43)" opacity="0.55"/>
<ellipse cx="1480.26" cy="63.99" rx="15.23" ry="6.1" fill="#eba3dc" transform="rotate(178 1480.26 63.99)" opacity="0.55"/>
<ellipse cx="1474.96" cy="104.03" rx="6.41" ry="8.01" fill="#eba3dc" transform="rotate(144 1474.96 104.03)" opacity="0.55"/>
<ellipse cx="1510.17" cy="84.47" rx="15.14" ry="9.98" fill="#eba3dc" transform="rotate(32 1510.17 84.47)" opacity="0.55"/>
<ellipse cx="1507.65" cy="28.75" rx="9.79" ry="4.87" fill="#eba3dc" transform="rotate(28 1507.65 28.75)" opacity="0.55"/>
<ellipse cx="1518" cy="32.94" rx="7.54" ry="4.06" fill="#eba3dc" transform="rotate(146 1518 32.94)" opacity="0.55"/>
<ellipse cx="1479.39" cy="31.8" rx="12.21" ry="8.31" fill="#eba3dc" transform="rotate(113 1479.39 31.8)" opacity="0.55"/>
<ellipse cx="1510.15" cy="75.25" rx="13.2" ry="5.86" fill="#eba3dc" transform="rotate(151 1510.15 75.25)" opacity="0.55"/>
<ellipse cx="1524.99" cy="105.67" rx="14.91" ry="9.04" fill="#eba3dc" transform="rotate(93 1524.99 105.67)" opacity="0.55"/>
<ellipse cx="1507.61" cy="93.97" rx="6.47" ry="0.84" fill="#f7eef7" transform="rotate(165 1507.61 93.97)" opacity="0.9"/>
<ellipse cx="1474.87" cy="70.54" rx="5.71" ry="0.94" fill="#f7eef7" transform="rotate(104 1474.87 70.54)" opacity="0.9"/>
<ellipse cx="1514.5" cy="101.43" rx="6.67" ry="1.26" fill="#f7eef7" transform="rotate(101 1514.5 101.43)" opacity="0.9"/>
<ellipse cx="1551.86" cy="84.85" rx="8.06" ry="0.82" fill="#f7eef7" transform="rotate(124 1551.86 84.85)" opacity="0.9"/>
<ellipse cx="1476.1" cy="40.3" rx="4.99" ry="1.07" fill="#f7eef7" transform="rotate(15 1476.1 40.3)" opacity="0.9"/>
<ellipse cx="1476.08" cy="46.66" rx="4.5" ry="2" fill="#f7eef7" transform="rotate(14 1476.08 46.66)" opacity="0.9"/>
<ellipse cx="1474.98" cy="30.14" rx="6.04" ry="1.14" fill="#f7eef7" transform="rotate(95 1474.98 30.14)" opacity="0.9"/>
<ellipse cx="1490.7" cy="67" rx="21" ry="24" fill="#f3e4f3" transform="rotate(20 1490.7 67)" opacity="0.7"/>
<ellipse cx="1490.7" cy="67" rx="19.4" ry="22.4" fill="#c878c8" transform="rotate(20 1490.7 67)"/>
<circle cx="1491.31" cy="76.15" r="1.3" fill="#4a2a95"/>
<circle cx="1485.9" cy="67.42" r="1.3" fill="#4a2a95"/>
<circle cx="1500.8" cy="56.7" r="1.3" fill="#4a2a95"/>
<circle cx="1480.14" cy="76.39" r="1.3" fill="#4a2a95"/>
<circle cx="1502.67" cy="62.27" r="1.3" fill="#4a2a95"/>
<circle cx="1484.1" cy="72.95" r="1.3" fill="#4a2a95"/>
<circle cx="1479.13" cy="79.43" r="1.3" fill="#4a2a95"/>
<circle cx="1483.53" cy="59.92" r="1.3" fill="#4a2a95"/>
<circle cx="1495.98" cy="62.5" r="1.3" fill="#4a2a95"/>
<circle cx="1480.92" cy="81.35" r="1.3" fill="#4a2a95"/>
<circle cx="1501.2" cy="59.87" r="1.3" fill="#4a2a95"/>
<circle cx="1504.15" cy="68.08" r="1.3" fill="#4a2a95"/>
<circle cx="1487.93" cy="68.57" r="1.3" fill="#4a2a95"/>
<circle cx="1480.87" cy="82.81" r="1.3" fill="#4a2a95"/>
<circle cx="1498.09" cy="69.03" r="1.3" fill="#4a2a95"/>
<circle cx="1498.7" cy="83.04" r="1.3" fill="#4a2a95"/>
<circle cx="1485.44" cy="83.02" r="1.3" fill="#4a2a95"/>
<circle cx="1489.8" cy="64.97" r="1.3" fill="#4a2a95"/>
<circle cx="1484.95" cy="69.72" r="1.3" fill="#4a2a95"/>
<circle cx="1494.55" cy="53.21" r="1.3" fill="#4a2a95"/>
<circle cx="1479.71" cy="80.72" r="1.3" fill="#4a2a95"/>
<circle cx="1492.76" cy="62.14" r="1.3" fill="#4a2a95"/>
<circle cx="1499.17" cy="73.6" r="1.3" fill="#4a2a95"/>
<circle cx="1486.1" cy="79.69" r="1.3" fill="#4a2a95"/>
<circle cx="1474.76" cy="75.99" r="1.3" fill="#4a2a95"/>
<circle cx="1482.32" cy="49.14" r="1.3" fill="#4a2a95"/>
<circle cx="1484.29" cy="60.23" r="1.3" fill="#4a2a95"/>
<circle cx="1484.14" cy="63.59" r="1.3" fill="#4a2a95"/>
<circle cx="1484.83" cy="63.06" r="1.3" fill="#4a2a95"/>
<circle cx="1499.69" cy="62.2" r="1.3" fill="#4a2a95"/>
<circle cx="1497.35" cy="61.01" r="1.3" fill="#4a2a95"/>
<circle cx="1493.04" cy="76.91" r="1.3" fill="#4a2a95"/>
<circle cx="1498.01" cy="50.14" r="1.3" fill="#4a2a95"/>
<circle cx="1490.28" cy="51.31" r="1.3" fill="#4a2a95"/>
<circle cx="1496.05" cy="75.02" r="1.3" fill="#4a2a95"/>
<circle cx="1507.7" cy="71.05" r="1.3" fill="#4a2a95"/>
<circle cx="1501.26" cy="79.61" r="1.3" fill="#4a2a95"/>
<circle cx="1500.3" cy="67.05" r="1.3" fill="#4a2a95"/>
<circle cx="1484.57" cy="61.66" r="1.3" fill="#4a2a95"/>
<circle cx="1506.13" cy="75.31" r="1.3" fill="#4a2a95"/>
<circle cx="1490.36" cy="68.64" r="1.3" fill="#4a2a95"/>
<circle cx="1485.64" cy="47.25" r="1.3" fill="#4a2a95"/>
<circle cx="1487.46" cy="65.91" r="1.3" fill="#4a2a95"/>
<circle cx="1478.49" cy="75" r="1.3" fill="#4a2a95"/>
<circle cx="1491.09" cy="80.36" r="1.3" fill="#4a2a95"/>
<g fill="#4a34a0" opacity="0.72"><circle cx="1529.82" cy="86.82" r="1.48"/><circle cx="1550.97" cy="73.77" r="1.59"/><circle cx="1466.6" cy="73.65" r="1.37"/><circle cx="1548.76" cy="69.21" r="1.21"/><circle cx="1545.02" cy="69.21" r="0.94"/><circle cx="1500.43" cy="50.38" r="1.36"/><circle cx="1537.39" cy="29.42" r="1.12"/><circle cx="1545.83" cy="101.07" r="1.45"/><circle cx="1494.11" cy="114.7" r="1.49"/><circle cx="1537.65" cy="76.1" r="1.35"/><circle cx="1468.06" cy="28.33" r="0.91"/><circle cx="1460.18" cy="72.92" r="1.56"/><circle cx="1513" cy="99.07" r="1.43"/><circle cx="1550.37" cy="51" r="1.25"/><circle cx="1548.37" cy="56.03" r="1.39"/><circle cx="1496.49" cy="39.4" r="1.04"/><circle cx="1491.15" cy="27.71" r="1.52"/><circle cx="1490.69" cy="47.64" r="1.46"/><circle cx="1455.27" cy="96.63" r="1.22"/><circle cx="1463.81" cy="62.39" r="1.59"/><circle cx="1458.71" cy="51.71" r="1.02"/><circle cx="1514.64" cy="43.7" r="1.49"/><circle cx="1491.62" cy="114.32" r="0.99"/><circle cx="1477.98" cy="27.51" r="0.93"/><circle cx="1473.28" cy="80.23" r="1.29"/><circle cx="1528.27" cy="46.99" r="1.32"/><circle cx="1554.42" cy="55.2" r="1.06"/><circle cx="1473.51" cy="115.73" r="1.35"/><circle cx="1504.75" cy="71.59" r="0.96"/><circle cx="1477.53" cy="90.77" r="1.08"/><circle cx="1506.74" cy="110" r="1.03"/><circle cx="1502.54" cy="96.67" r="1.42"/><circle cx="1538.41" cy="110.59" r="1.3"/><circle cx="1477.57" cy="72.9" r="1.55"/><circle cx="1474.79" cy="52.62" r="1.04"/><circle cx="1543.7" cy="34.14" r="1.01"/><circle cx="1516.39" cy="93.54" r="1.2"/><circle cx="1530.54" cy="91.44" r="1.17"/><circle cx="1462.11" cy="89.96" r="1.33"/><circle cx="1551.83" cy="90.94" r="0.94"/><circle cx="1474.49" cy="53.93" r="1.41"/><circle cx="1486.01" cy="47.03" r="1.03"/><circle cx="1482.18" cy="71.73" r="1.4"/><circle cx="1540.59" cy="34.43" r="1.29"/><circle cx="1553.24" cy="62.2" r="0.99"/><circle cx="1520.91" cy="102.5" r="0.93"/><circle cx="1463.29" cy="53.81" r="1.16"/><circle cx="1466.38" cy="32.95" r="1.19"/><circle cx="1551.51" cy="78.23" r="1.09"/><circle cx="1551.82" cy="51.62" r="1"/><circle cx="1467.26" cy="27.21" r="1.54"/><circle cx="1508.63" cy="117.19" r="1.28"/><circle cx="1461.89" cy="59.84" r="1.14"/><circle cx="1470.73" cy="32.55" r="1.38"/><circle cx="1542.97" cy="112.83" r="1.07"/><circle cx="1517.11" cy="48.89" r="1.49"/><circle cx="1547.18" cy="26.06" r="1.03"/><circle cx="1542.72" cy="117.33" r="1.49"/><circle cx="1461.23" cy="81.41" r="1.44"/><circle cx="1512.52" cy="76.08" r="1.44"/><circle cx="1460.68" cy="78.51" r="1.58"/><circle cx="1510.4" cy="58.88" r="1"/><circle cx="1544.91" cy="87.98" r="1.57"/><circle cx="1552.37" cy="90" r="1.5"/><circle cx="1537.5" cy="94.87" r="1.19"/><circle cx="1523.25" cy="98.63" r="1.09"/><circle cx="1534.42" cy="81.66" r="1.17"/><circle cx="1498.65" cy="111.34" r="0.95"/><circle cx="1459.18" cy="71.87" r="0.97"/><circle cx="1541.35" cy="111.45" r="1.15"/><circle cx="1490.25" cy="87.09" r="1.52"/><circle cx="1519.32" cy="109.07" r="1.14"/><circle cx="1502.02" cy="89.59" r="1.42"/><circle cx="1493.47" cy="58.22" r="1.49"/><circle cx="1522.28" cy="75.04" r="1.08"/><circle cx="1491.65" cy="33.04" r="1.07"/><circle cx="1463.84" cy="46.11" r="1.34"/><circle cx="1511.24" cy="104.87" r="1.3"/><circle cx="1489.23" cy="57.74" r="1.48"/><circle cx="1456.68" cy="40.34" r="1.21"/><circle cx="1469.49" cy="62.4" r="1.01"/><circle cx="1517.26" cy="106.48" r="1.17"/><circle cx="1532.97" cy="25.16" r="0.98"/><circle cx="1469.54" cy="98.67" r="1.09"/><circle cx="1512.64" cy="106.35" r="1.29"/><circle cx="1495.84" cy="76.52" r="1.36"/><circle cx="1514.87" cy="76.06" r="1"/><circle cx="1553.01" cy="93.3" r="1.52"/><circle cx="1534.61" cy="45.71" r="1.21"/><circle cx="1515.26" cy="41.49" r="1.47"/><circle cx="1504.34" cy="79.83" r="1.54"/><circle cx="1486.88" cy="56.87" r="1.32"/><circle cx="1465.01" cy="48.94" r="1.05"/><circle cx="1553.12" cy="85.06" r="1.46"/><circle cx="1519.22" cy="55.03" r="1.16"/><circle cx="1550.95" cy="82.72" r="1.32"/><circle cx="1498.11" cy="109.95" r="1.06"/><circle cx="1543.5" cy="90.68" r="1.41"/><circle cx="1555.21" cy="70.97" r="1.27"/><circle cx="1496.96" cy="88.27" r="1.5"/><circle cx="1532.26" cy="46.75" r="1.47"/><circle cx="1458.01" cy="85.64" r="1.02"/><circle cx="1487.08" cy="78.43" r="1"/><circle cx="1527.59" cy="87.32" r="1.44"/><circle cx="1503.29" cy="104" r="1.42"/><circle cx="1510.02" cy="86.77" r="1.08"/><circle cx="1514.94" cy="51.61" r="1"/><circle cx="1515.95" cy="112.03" r="1.23"/><circle cx="1471.44" cy="85.17" r="1.04"/><circle cx="1520.29" cy="94.44" r="1.05"/><circle cx="1484.85" cy="66.73" r="1.36"/><circle cx="1525.01" cy="114.61" r="1.32"/><circle cx="1549.03" cy="45.06" r="1.08"/><circle cx="1553" cy="98.9" r="1.17"/><circle cx="1461.06" cy="48.81" r="1.19"/><circle cx="1456.81" cy="81.84" r="1.54"/><circle cx="1488.96" cy="57.55" r="1.1"/><circle cx="1495.2" cy="82.04" r="1.11"/><circle cx="1459.5" cy="31.17" r="1.55"/><circle cx="1521.39" cy="37.1" r="1.19"/><circle cx="1530.85" cy="60.73" r="1.36"/><circle cx="1555.79" cy="58.99" r="1.22"/><circle cx="1469.8" cy="90.84" r="1.23"/><circle cx="1509.14" cy="54.04" r="1.34"/><circle cx="1515.51" cy="111.03" r="1.44"/><circle cx="1462.95" cy="36.76" r="1.17"/><circle cx="1474.16" cy="41.93" r="1.02"/><circle cx="1539.97" cy="34.67" r="1.45"/><circle cx="1502.26" cy="94.23" r="1.22"/><circle cx="1477.76" cy="62.27" r="1.54"/><circle cx="1532.76" cy="86.2" r="1.19"/><circle cx="1530.02" cy="39.11" r="1.22"/><circle cx="1491.12" cy="64.42" r="1.47"/><circle cx="1471.04" cy="51.44" r="1.29"/><circle cx="1484.82" cy="109.87" r="1.21"/><circle cx="1455.1" cy="51.05" r="1.09"/><circle cx="1496.42" cy="25.02" r="1.55"/><circle cx="1497.56" cy="91.22" r="1.22"/><circle cx="1501.33" cy="53.6" r="1.53"/><circle cx="1469.69" cy="73.55" r="1.09"/><circle cx="1486.04" cy="34.4" r="1.57"/><circle cx="1486.24" cy="91.05" r="1.42"/><circle cx="1547.49" cy="66.96" r="1.24"/><circle cx="1538.42" cy="76.68" r="1.06"/><circle cx="1491.16" cy="110.23" r="1.12"/><circle cx="1515.78" cy="97.62" r="1.46"/><circle cx="1517.6" cy="97.96" r="1.59"/><circle cx="1504" cy="57.25" r="1.18"/><circle cx="1530.11" cy="43.29" r="1.49"/><circle cx="1481.39" cy="39.69" r="1.41"/><circle cx="1487.1" cy="96.15" r="1.04"/><circle cx="1481.83" cy="69.06" r="1.4"/><circle cx="1509.89" cy="114.77" r="1.55"/><circle cx="1467.62" cy="103.9" r="1.6"/><circle cx="1484.01" cy="64.02" r="1.29"/><circle cx="1554.49" cy="48.81" r="1.11"/><circle cx="1542.52" cy="52.26" r="1.55"/><circle cx="1501.3" cy="118.49" r="1.12"/><circle cx="1490.63" cy="96.77" r="1.46"/><circle cx="1526.47" cy="49.6" r="1.27"/><circle cx="1529.08" cy="94.7" r="1.57"/><circle cx="1532.23" cy="87.99" r="1.4"/><circle cx="1521.46" cy="103.23" r="1.21"/><circle cx="1521.73" cy="75.82" r="0.94"/><circle cx="1497.39" cy="52.71" r="1.15"/><circle cx="1457.13" cy="104.23" r="1.12"/><circle cx="1508.32" cy="42.86" r="1.23"/><circle cx="1531.34" cy="85.04" r="1.43"/><circle cx="1521.26" cy="116.03" r="1.31"/><circle cx="1469.51" cy="33.18" r="1.56"/><circle cx="1513.52" cy="83.79" r="1.4"/><circle cx="1530.12" cy="57.55" r="1.07"/><circle cx="1509.67" cy="57.26" r="1.27"/></g>
</g>
<rect x="1523" y="115" width="32.5" height="4" fill="#000"/>
<clipPath id="c6"><rect x="1559.5" y="25" width="107.5" height="94"/></clipPath><g clip-path="url(#c6)">
<rect x="1559.5" y="25" width="107.5" height="94" fill="#e292d1"/>
<ellipse cx="1653.9" cy="57.82" rx="13.91" ry="9.71" fill="#efb6e2" transform="rotate(56 1653.9 57.82)" opacity="0.55"/>
<ellipse cx="1642.09" cy="56.46" rx="7.64" ry="6.09" fill="#efb6e2" transform="rotate(135 1642.09 56.46)" opacity="0.55"/>
<ellipse cx="1575.36" cy="86.97" rx="9.51" ry="5.01" fill="#efb6e2" transform="rotate(77 1575.36 86.97)" opacity="0.55"/>
<ellipse cx="1601.04" cy="68.27" rx="14.81" ry="9.52" fill="#efb6e2" transform="rotate(40 1601.04 68.27)" opacity="0.55"/>
<ellipse cx="1665.69" cy="82.53" rx="15.6" ry="8.9" fill="#efb6e2" transform="rotate(94 1665.69 82.53)" opacity="0.55"/>
<ellipse cx="1586.46" cy="112.36" rx="15.99" ry="7.75" fill="#efb6e2" transform="rotate(20 1586.46 112.36)" opacity="0.55"/>
<ellipse cx="1647.99" cy="96.94" rx="14.8" ry="9.86" fill="#efb6e2" transform="rotate(175 1647.99 96.94)" opacity="0.55"/>
<ellipse cx="1638.64" cy="61.89" rx="11.32" ry="7.03" fill="#efb6e2" transform="rotate(136 1638.64 61.89)" opacity="0.55"/>
<ellipse cx="1626.82" cy="102.65" rx="11.16" ry="7.54" fill="#efb6e2" transform="rotate(173 1626.82 102.65)" opacity="0.55"/>
<ellipse cx="1644.62" cy="112.53" rx="12.99" ry="4.75" fill="#efb6e2" transform="rotate(75 1644.62 112.53)" opacity="0.55"/>
<ellipse cx="1590.75" cy="49.69" rx="7.27" ry="4.66" fill="#efb6e2" transform="rotate(86 1590.75 49.69)" opacity="0.55"/>
<ellipse cx="1643.66" cy="106.53" rx="15.68" ry="7.49" fill="#efb6e2" transform="rotate(2 1643.66 106.53)" opacity="0.55"/>
<ellipse cx="1580.06" cy="30.38" rx="14.68" ry="5.92" fill="#efb6e2" transform="rotate(130 1580.06 30.38)" opacity="0.55"/>
<ellipse cx="1608.01" cy="79.88" rx="14.52" ry="7.94" fill="#efb6e2" transform="rotate(13 1608.01 79.88)" opacity="0.55"/>
<ellipse cx="1627.76" cy="58.43" rx="8.86" ry="1.2" fill="#f7eef7" transform="rotate(43 1627.76 58.43)" opacity="0.9"/>
<ellipse cx="1658.66" cy="63.92" rx="3.5" ry="1.99" fill="#f7eef7" transform="rotate(165 1658.66 63.92)" opacity="0.9"/>
<ellipse cx="1612.4" cy="40.72" rx="8.2" ry="1.31" fill="#f7eef7" transform="rotate(44 1612.4 40.72)" opacity="0.9"/>
<ellipse cx="1564.19" cy="107.83" rx="4.41" ry="0.98" fill="#f7eef7" transform="rotate(65 1564.19 107.83)" opacity="0.9"/>
<ellipse cx="1634.77" cy="118.72" rx="4.27" ry="1.73" fill="#f7eef7" transform="rotate(48 1634.77 118.72)" opacity="0.9"/>
<ellipse cx="1652.15" cy="70.81" rx="7.1" ry="2.06" fill="#f7eef7" transform="rotate(96 1652.15 70.81)" opacity="0.9"/>
<ellipse cx="1610.13" cy="25.89" rx="3.99" ry="1.84" fill="#f7eef7" transform="rotate(136 1610.13 25.89)" opacity="0.9"/>
<ellipse cx="1611.5" cy="83" rx="15.75" ry="18" fill="#f3e4f3" transform="rotate(20 1611.5 83)" opacity="0.7"/>
<ellipse cx="1611.5" cy="83" rx="14.55" ry="16.8" fill="#c878c8" transform="rotate(20 1611.5 83)"/>
<circle cx="1608.86" cy="81.39" r="1.3" fill="#4a2a95"/>
<circle cx="1611.25" cy="68.7" r="1.3" fill="#4a2a95"/>
<circle cx="1618.73" cy="72.43" r="1.3" fill="#4a2a95"/>
<circle cx="1607.35" cy="75.16" r="1.3" fill="#4a2a95"/>
<circle cx="1607.69" cy="88.16" r="1.3" fill="#4a2a95"/>
<circle cx="1606.62" cy="75.91" r="1.3" fill="#4a2a95"/>
<circle cx="1613.87" cy="76.04" r="1.3" fill="#4a2a95"/>
<circle cx="1611.17" cy="87.53" r="1.3" fill="#4a2a95"/>
<circle cx="1609.27" cy="96.45" r="1.3" fill="#4a2a95"/>
<circle cx="1617.37" cy="69.75" r="1.3" fill="#4a2a95"/>
<circle cx="1622.4" cy="85.82" r="1.3" fill="#4a2a95"/>
<circle cx="1604.13" cy="79.49" r="1.3" fill="#4a2a95"/>
<circle cx="1621.87" cy="78.29" r="1.3" fill="#4a2a95"/>
<circle cx="1606.74" cy="96.05" r="1.3" fill="#4a2a95"/>
<circle cx="1602.84" cy="86.76" r="1.3" fill="#4a2a95"/>
<circle cx="1602.29" cy="84.55" r="1.3" fill="#4a2a95"/>
<circle cx="1623.57" cy="85.27" r="1.3" fill="#4a2a95"/>
<circle cx="1608.59" cy="92.86" r="1.3" fill="#4a2a95"/>
<circle cx="1616.05" cy="93.47" r="1.3" fill="#4a2a95"/>
<circle cx="1613.61" cy="84.15" r="1.3" fill="#4a2a95"/>
<circle cx="1614.61" cy="97.11" r="1.3" fill="#4a2a95"/>
<circle cx="1606.79" cy="70.97" r="1.3" fill="#4a2a95"/>
<circle cx="1619.1" cy="88.7" r="1.3" fill="#4a2a95"/>
<circle cx="1610.48" cy="69.65" r="1.3" fill="#4a2a95"/>
<circle cx="1607.94" cy="84.34" r="1.3" fill="#4a2a95"/>
<circle cx="1601.95" cy="93.39" r="1.3" fill="#4a2a95"/>
<circle cx="1619.66" cy="75.26" r="1.3" fill="#4a2a95"/>
<circle cx="1605.21" cy="92.63" r="1.3" fill="#4a2a95"/>
<circle cx="1603.33" cy="78.19" r="1.3" fill="#4a2a95"/>
<circle cx="1617.59" cy="73.69" r="1.3" fill="#4a2a95"/>
<circle cx="1620.99" cy="90.57" r="1.3" fill="#4a2a95"/>
<circle cx="1610.13" cy="78.31" r="1.3" fill="#4a2a95"/>
<circle cx="1598.31" cy="80.65" r="1.3" fill="#4a2a95"/>
<circle cx="1604.83" cy="72.82" r="1.3" fill="#4a2a95"/>
<circle cx="1602.78" cy="84.39" r="1.3" fill="#4a2a95"/>
<circle cx="1618.63" cy="82.3" r="1.3" fill="#4a2a95"/>
<circle cx="1607.45" cy="84.07" r="1.3" fill="#4a2a95"/>
<circle cx="1600.55" cy="81.9" r="1.3" fill="#4a2a95"/>
<circle cx="1606.67" cy="68.69" r="1.3" fill="#4a2a95"/>
<circle cx="1611.01" cy="90.06" r="1.3" fill="#4a2a95"/>
<circle cx="1606.58" cy="89.98" r="1.3" fill="#4a2a95"/>
<circle cx="1616.76" cy="79.31" r="1.3" fill="#4a2a95"/>
<circle cx="1598.22" cy="85.73" r="1.3" fill="#4a2a95"/>
<circle cx="1603.83" cy="88.72" r="1.3" fill="#4a2a95"/>
<circle cx="1604.81" cy="87.31" r="1.3" fill="#4a2a95"/>
<g fill="#4a34a0" opacity="0.72"><circle cx="1593.97" cy="103.67" r="0.91"/><circle cx="1566.64" cy="100.84" r="1.41"/><circle cx="1605.13" cy="70.13" r="1.23"/><circle cx="1587.07" cy="65.76" r="1.15"/><circle cx="1623.07" cy="56.64" r="1.31"/><circle cx="1563.91" cy="117.98" r="0.91"/><circle cx="1610.23" cy="60.36" r="0.99"/><circle cx="1664.13" cy="67.2" r="1.03"/><circle cx="1594.75" cy="42.79" r="1.28"/><circle cx="1666.84" cy="115.62" r="1.06"/><circle cx="1635.81" cy="77.96" r="1.43"/><circle cx="1576.33" cy="29.26" r="0.98"/><circle cx="1657.02" cy="30.05" r="0.93"/><circle cx="1609.23" cy="30.71" r="1.02"/><circle cx="1662.04" cy="41.97" r="1.43"/><circle cx="1650.21" cy="67.83" r="1.21"/><circle cx="1582.25" cy="55.77" r="1.27"/><circle cx="1620.84" cy="75.12" r="1.15"/><circle cx="1654.77" cy="68.11" r="1.17"/><circle cx="1610.68" cy="104.19" r="1.32"/><circle cx="1639.34" cy="102.64" r="1.15"/><circle cx="1637.12" cy="34.03" r="1.24"/><circle cx="1609.13" cy="61.66" r="1.02"/><circle cx="1645.76" cy="57.2" r="1.18"/><circle cx="1572.15" cy="106.35" r="1.51"/><circle cx="1579.06" cy="61.54" r="1.1"/><circle cx="1579.81" cy="103.07" r="1.33"/><circle cx="1657.25" cy="89.75" r="1.13"/><circle cx="1643.61" cy="35.01" r="1.31"/><circle cx="1614.86" cy="32.37" r="1.1"/><circle cx="1615.45" cy="36.61" r="0.96"/><circle cx="1625.65" cy="116.73" r="1.31"/><circle cx="1666.69" cy="70.66" r="0.97"/><circle cx="1577.22" cy="67.81" r="1.51"/><circle cx="1646.86" cy="116.66" r="1.31"/><circle cx="1640.66" cy="76.71" r="1.02"/><circle cx="1617.63" cy="51.15" r="1.47"/><circle cx="1647.5" cy="45.83" r="0.99"/><circle cx="1590.64" cy="26.89" r="1.04"/><circle cx="1662.39" cy="111.78" r="1.2"/><circle cx="1654.51" cy="42.94" r="1.6"/><circle cx="1620.83" cy="82.59" r="1.09"/><circle cx="1560.18" cy="75.88" r="1.34"/><circle cx="1635.14" cy="97.96" r="1.55"/><circle cx="1562.24" cy="88.99" r="0.96"/><circle cx="1650.57" cy="74.89" r="0.91"/><circle cx="1602.32" cy="104.06" r="1.52"/><circle cx="1658.63" cy="73.3" r="1.38"/><circle cx="1632.8" cy="71.35" r="1.44"/><circle cx="1577.09" cy="46.69" r="1.33"/><circle cx="1639.56" cy="116.96" r="0.95"/><circle cx="1666.77" cy="53.82" r="1.16"/><circle cx="1634.86" cy="118.17" r="1.04"/><circle cx="1601.75" cy="109.64" r="1.49"/><circle cx="1604.1" cy="50.12" r="1.46"/><circle cx="1581.03" cy="59.62" r="0.91"/><circle cx="1583.03" cy="67.19" r="1.25"/><circle cx="1642.16" cy="83.02" r="1.06"/><circle cx="1602.11" cy="47.88" r="0.99"/><circle cx="1576.89" cy="115.05" r="1.46"/><circle cx="1650.67" cy="92.62" r="1.09"/><circle cx="1639.45" cy="75.68" r="1.45"/><circle cx="1621.83" cy="85.2" r="0.99"/><circle cx="1652.31" cy="91.3" r="1.3"/><circle cx="1587.28" cy="87.37" r="1.19"/><circle cx="1583.32" cy="97.11" r="1.39"/><circle cx="1646.04" cy="118.42" r="1.18"/><circle cx="1623.83" cy="32.39" r="1.36"/><circle cx="1647.85" cy="64.42" r="0.91"/><circle cx="1636.13" cy="61.76" r="1.03"/><circle cx="1640.26" cy="63.41" r="1.25"/><circle cx="1624.01" cy="67.57" r="1.37"/><circle cx="1590.62" cy="46.53" r="1.23"/><circle cx="1646.34" cy="55.71" r="1.03"/><circle cx="1587.56" cy="58.03" r="1"/><circle cx="1609.94" cy="79.34" r="1.6"/><circle cx="1569.18" cy="49.9" r="1.01"/><circle cx="1599.93" cy="105.53" r="1.01"/><circle cx="1614.63" cy="65.05" r="1.49"/><circle cx="1619.33" cy="118.97" r="1.5"/><circle cx="1658.16" cy="98.4" r="0.98"/><circle cx="1571.23" cy="116.45" r="1.03"/><circle cx="1566.54" cy="82.69" r="1.31"/><circle cx="1577.73" cy="65.41" r="1.19"/><circle cx="1608.92" cy="58.8" r="0.99"/><circle cx="1629.69" cy="56.31" r="1.5"/><circle cx="1665.29" cy="28.35" r="1.44"/><circle cx="1638.96" cy="52.78" r="1.3"/><circle cx="1591.03" cy="105.98" r="1.14"/><circle cx="1628.79" cy="49.12" r="1.5"/><circle cx="1583.32" cy="114.21" r="1.02"/><circle cx="1603.51" cy="90.68" r="1.18"/><circle cx="1643.94" cy="41.39" r="1.59"/><circle cx="1614.96" cy="108.68" r="1.02"/><circle cx="1603.5" cy="72.2" r="1.56"/><circle cx="1666.28" cy="62.38" r="1.18"/><circle cx="1596.88" cy="32.24" r="1"/><circle cx="1641.38" cy="35.14" r="1.48"/><circle cx="1605.1" cy="42.81" r="1.12"/><circle cx="1573.04" cy="84.68" r="1.08"/><circle cx="1625.14" cy="67.44" r="1.34"/><circle cx="1569.1" cy="94.2" r="1.04"/><circle cx="1605.04" cy="114.19" r="1.59"/><circle cx="1618.02" cy="68.6" r="1.27"/><circle cx="1629.52" cy="115.75" r="1.1"/><circle cx="1560.18" cy="77.74" r="1.14"/><circle cx="1613.28" cy="71.18" r="0.99"/><circle cx="1596.86" cy="108.5" r="1.29"/><circle cx="1633.93" cy="81.29" r="1.1"/><circle cx="1572.35" cy="77.32" r="1.02"/><circle cx="1621.61" cy="110.61" r="0.93"/><circle cx="1650.74" cy="81.03" r="1.59"/><circle cx="1599.19" cy="59.98" r="1.04"/><circle cx="1641.23" cy="31.67" r="1.01"/><circle cx="1588.94" cy="115.26" r="1.55"/><circle cx="1627.1" cy="84.57" r="1.11"/><circle cx="1632.27" cy="112.89" r="1.15"/><circle cx="1574.66" cy="45.25" r="1.19"/><circle cx="1595.33" cy="54.88" r="1.28"/><circle cx="1659.18" cy="85.09" r="1.13"/><circle cx="1611.44" cy="39.79" r="1.53"/><circle cx="1563.1" cy="77.77" r="1.44"/><circle cx="1631.86" cy="26.89" r="1.44"/><circle cx="1606.41" cy="99.69" r="0.96"/><circle cx="1612.37" cy="113.85" r="0.99"/><circle cx="1654.52" cy="72.98" r="1.2"/><circle cx="1577.36" cy="71.76" r="0.97"/><circle cx="1571.95" cy="29.75" r="1"/><circle cx="1623.26" cy="59.93" r="1.5"/><circle cx="1581.42" cy="48.75" r="1.42"/><circle cx="1618.36" cy="32.89" r="1.27"/><circle cx="1586.56" cy="112.91" r="1.37"/><circle cx="1629.95" cy="51.57" r="1.47"/><circle cx="1643.25" cy="85.16" r="1.19"/><circle cx="1643.21" cy="59.77" r="0.98"/><circle cx="1599.16" cy="56.21" r="1.33"/><circle cx="1574.78" cy="97.54" r="1"/><circle cx="1616.41" cy="57.74" r="1.6"/><circle cx="1619.94" cy="48.47" r="1.08"/><circle cx="1592.58" cy="83.98" r="1.12"/><circle cx="1664.47" cy="97.5" r="1.03"/><circle cx="1560.96" cy="31.27" r="1.21"/><circle cx="1586.93" cy="62.37" r="1.18"/><circle cx="1657.82" cy="43.38" r="1.59"/><circle cx="1648.7" cy="112.1" r="1.22"/><circle cx="1609.01" cy="71.74" r="1.49"/><circle cx="1611.23" cy="30.36" r="1.06"/><circle cx="1664.02" cy="25.13" r="1.33"/><circle cx="1650.98" cy="61.25" r="1.23"/><circle cx="1613.4" cy="30.88" r="1.2"/><circle cx="1655.91" cy="63.7" r="1.05"/><circle cx="1652.43" cy="101.2" r="1.32"/><circle cx="1629.71" cy="50.01" r="1.32"/><circle cx="1638.51" cy="33.27" r="1.16"/><circle cx="1591.16" cy="47" r="1.31"/><circle cx="1566.73" cy="37.38" r="1.24"/><circle cx="1601.21" cy="76.81" r="1.04"/><circle cx="1595.96" cy="106.29" r="1.21"/><circle cx="1567.72" cy="116.12" r="1.4"/><circle cx="1631.99" cy="93.72" r="1.41"/><circle cx="1630.13" cy="33.2" r="0.91"/><circle cx="1563.57" cy="106.46" r="0.95"/><circle cx="1585.42" cy="107.9" r="1.07"/><circle cx="1627.83" cy="35.25" r="0.93"/><circle cx="1611.92" cy="90.21" r="0.96"/><circle cx="1649.2" cy="79.94" r="1.3"/><circle cx="1593.95" cy="32.85" r="1.24"/><circle cx="1642.1" cy="61" r="1.15"/><circle cx="1625.21" cy="31.3" r="0.94"/><circle cx="1607.77" cy="80.97" r="1.28"/><circle cx="1568.69" cy="69.47" r="1.53"/><circle cx="1572.14" cy="112.71" r="1.3"/><circle cx="1662.42" cy="40.49" r="1.19"/><circle cx="1584.3" cy="73.2" r="1.47"/><circle cx="1592.07" cy="79.64" r="1.54"/><circle cx="1628.25" cy="68.28" r="1.04"/><circle cx="1658.27" cy="115" r="1.07"/><circle cx="1590.49" cy="111.02" r="1.14"/><circle cx="1592.82" cy="80.87" r="1.49"/><circle cx="1570.27" cy="78.84" r="0.97"/><circle cx="1640.87" cy="39.84" r="1.32"/><circle cx="1603.92" cy="73.84" r="1.51"/><circle cx="1559.57" cy="101.48" r="1.1"/></g>
</g>
<rect x="1634" y="115" width="32.5" height="4" fill="#000"/>
<clipPath id="c7"><rect x="1019.5" y="122" width="108.5" height="77"/></clipPath><g clip-path="url(#c7)">
<rect x="1019.5" y="122" width="108.5" height="77" fill="#e28478"/>
<ellipse cx="1024.45" cy="137.67" rx="13.67" ry="6.86" fill="#ec9c90" transform="rotate(154 1024.45 137.67)" stroke="#6fa3d8" stroke-width="1" stroke-opacity="0.6"/>
<ellipse cx="1048.44" cy="122.88" rx="11.52" ry="7" fill="#ec9c90" transform="rotate(2 1048.44 122.88)" stroke="#6fa3d8" stroke-width="1" stroke-opacity="0.6"/>
<ellipse cx="1049.68" cy="157.4" rx="9.54" ry="11.12" fill="#ec9c90" transform="rotate(54 1049.68 157.4)" stroke="#6fa3d8" stroke-width="1" stroke-opacity="0.6"/>
<ellipse cx="1095.54" cy="149.02" rx="8.81" ry="8.61" fill="#ec9c90" transform="rotate(123 1095.54 149.02)" stroke="#6fa3d8" stroke-width="1" stroke-opacity="0.6"/>
<ellipse cx="1072.34" cy="171.45" rx="8.97" ry="6.84" fill="#ec9c90" transform="rotate(23 1072.34 171.45)" stroke="#6fa3d8" stroke-width="1" stroke-opacity="0.6"/>
<ellipse cx="1072.85" cy="188.3" rx="11.07" ry="10.92" fill="#ec9c90" transform="rotate(20 1072.85 188.3)" stroke="#6fa3d8" stroke-width="1" stroke-opacity="0.6"/>
<ellipse cx="1043.95" cy="173.84" rx="14.28" ry="10.76" fill="#ec9c90" transform="rotate(26 1043.95 173.84)" stroke="#6fa3d8" stroke-width="1" stroke-opacity="0.6"/>
<ellipse cx="1078.25" cy="140.29" rx="13.99" ry="9.48" fill="#ec9c90" transform="rotate(123 1078.25 140.29)" stroke="#6fa3d8" stroke-width="1" stroke-opacity="0.6"/>
<ellipse cx="1104.54" cy="197.92" rx="11.73" ry="11.97" fill="#ec9c90" transform="rotate(52 1104.54 197.92)" stroke="#6fa3d8" stroke-width="1" stroke-opacity="0.6"/>
<ellipse cx="1115.14" cy="130.13" rx="13.73" ry="11.38" fill="#ec9c90" transform="rotate(99 1115.14 130.13)" stroke="#6fa3d8" stroke-width="1" stroke-opacity="0.6"/>
<ellipse cx="1058.68" cy="185.57" rx="14.51" ry="10.29" fill="#ec9c90" transform="rotate(62 1058.68 185.57)" stroke="#6fa3d8" stroke-width="1" stroke-opacity="0.6"/>
<ellipse cx="1075.4" cy="122.15" rx="12.23" ry="7.85" fill="#ec9c90" transform="rotate(121 1075.4 122.15)" stroke="#6fa3d8" stroke-width="1" stroke-opacity="0.6"/>
<ellipse cx="1021.63" cy="156.49" rx="8.94" ry="8.07" fill="#ec9c90" transform="rotate(176 1021.63 156.49)" stroke="#6fa3d8" stroke-width="1" stroke-opacity="0.6"/>
<ellipse cx="1101.88" cy="171.66" rx="10.91" ry="6.59" fill="#ec9c90" transform="rotate(5 1101.88 171.66)" stroke="#6fa3d8" stroke-width="1" stroke-opacity="0.6"/>
<ellipse cx="1078.72" cy="197.82" rx="13.88" ry="7.27" fill="#ec9c90" transform="rotate(174 1078.72 197.82)" stroke="#6fa3d8" stroke-width="1" stroke-opacity="0.6"/>
<ellipse cx="1043.95" cy="125.57" rx="12.07" ry="8.69" fill="#ec9c90" transform="rotate(12 1043.95 125.57)" stroke="#6fa3d8" stroke-width="1" stroke-opacity="0.6"/>
<ellipse cx="1119.31" cy="144.45" rx="11.14" ry="6.24" fill="#ec9c90" transform="rotate(2 1119.31 144.45)" stroke="#6fa3d8" stroke-width="1" stroke-opacity="0.6"/>
<ellipse cx="1122.43" cy="196.32" rx="12.98" ry="6.3" fill="#ec9c90" transform="rotate(25 1122.43 196.32)" stroke="#6fa3d8" stroke-width="1" stroke-opacity="0.6"/>
<ellipse cx="1034.38" cy="122.87" rx="6.78" ry="2.14" fill="#f8eeee" transform="rotate(5 1034.38 122.87)" opacity="0.9"/>
<ellipse cx="1048.31" cy="157.39" rx="5.11" ry="2.3" fill="#f8eeee" transform="rotate(24 1048.31 157.39)" opacity="0.9"/>
<ellipse cx="1106.27" cy="129.54" rx="4.65" ry="2.82" fill="#f8eeee" transform="rotate(19 1106.27 129.54)" opacity="0.9"/>
<ellipse cx="1021.78" cy="198.11" rx="6.16" ry="1.48" fill="#f8eeee" transform="rotate(118 1021.78 198.11)" opacity="0.9"/>
<ellipse cx="1030.51" cy="185.64" rx="2.24" ry="1.28" fill="#f8eeee" transform="rotate(40 1030.51 185.64)" opacity="0.9"/>
<ellipse cx="1087.43" cy="188.96" rx="3.46" ry="2.94" fill="#f8eeee" transform="rotate(74 1087.43 188.96)" opacity="0.9"/>
<ellipse cx="1069.22" cy="174.11" rx="3.44" ry="2.77" fill="#f8eeee" transform="rotate(61 1069.22 174.11)" opacity="0.9"/>
<ellipse cx="1036.66" cy="171.4" rx="5.08" ry="1.1" fill="#f8eeee" transform="rotate(170 1036.66 171.4)" opacity="0.9"/>
<ellipse cx="1102.85" cy="156.4" rx="6.76" ry="2.91" fill="#f8eeee" transform="rotate(5 1102.85 156.4)" opacity="0.9"/>
<ellipse cx="1025.93" cy="159.75" rx="4.54" ry="2.69" fill="#f8eeee" transform="rotate(29 1025.93 159.75)" opacity="0.9"/>
<ellipse cx="1034.58" cy="151.22" rx="7.93" ry="1.05" fill="#f8eeee" transform="rotate(171 1034.58 151.22)" opacity="0.9"/>
<ellipse cx="1083.87" cy="149.31" rx="2.58" ry="2.1" fill="#f8eeee" transform="rotate(78 1083.87 149.31)" opacity="0.9"/>
<ellipse cx="1025.48" cy="152.92" rx="7.55" ry="3.39" fill="#f8eeee" transform="rotate(126 1025.48 152.92)" opacity="0.9"/>
<ellipse cx="1061.74" cy="188.52" rx="2.25" ry="2.79" fill="#f8eeee" transform="rotate(126 1061.74 188.52)" opacity="0.9"/>
<ellipse cx="1035.54" cy="150.18" rx="4.49" ry="2.98" fill="#f8eeee" transform="rotate(106 1035.54 150.18)" opacity="0.9"/>
<ellipse cx="1045.57" cy="185.06" rx="4.92" ry="2.95" fill="#f8eeee" transform="rotate(64 1045.57 185.06)" opacity="0.9"/>
<ellipse cx="1059.5" cy="154" rx="19.8" ry="18" fill="#f6f0f6" transform="rotate(10 1059.5 154)" opacity="0.8"/>
<ellipse cx="1059.5" cy="154" rx="17.64" ry="15.84" fill="#b0a8d8" transform="rotate(10 1059.5 154)" opacity="0.75"/>
<circle cx="1055.11" cy="160.37" r="1.2" fill="#c0103a"/>
<circle cx="1066.05" cy="163.69" r="1.2" fill="#e8e0f0"/>
<circle cx="1054.48" cy="147.25" r="1.2" fill="#e8e0f0"/>
<circle cx="1049.98" cy="147.51" r="1.2" fill="#c0103a"/>
<circle cx="1064.64" cy="152.84" r="1.2" fill="#e8e0f0"/>
<circle cx="1070.65" cy="160.93" r="1.2" fill="#e8e0f0"/>
<circle cx="1070.99" cy="150.16" r="1.2" fill="#c0103a"/>
<circle cx="1045.82" cy="150.94" r="1.2" fill="#e8e0f0"/>
<circle cx="1062.8" cy="151.4" r="1.2" fill="#e8e0f0"/>
<circle cx="1054.99" cy="143.09" r="1.2" fill="#c0103a"/>
<circle cx="1057.47" cy="165.52" r="1.2" fill="#e8e0f0"/>
<circle cx="1068.11" cy="149.18" r="1.2" fill="#e8e0f0"/>
<circle cx="1049.86" cy="158.77" r="1.2" fill="#c0103a"/>
<circle cx="1063.63" cy="144.24" r="1.2" fill="#e8e0f0"/>
<circle cx="1069.55" cy="153.36" r="1.2" fill="#e8e0f0"/>
<circle cx="1057.02" cy="158.46" r="1.2" fill="#c0103a"/>
<circle cx="1057.31" cy="144.55" r="1.2" fill="#e8e0f0"/>
<circle cx="1048.17" cy="146.05" r="1.2" fill="#e8e0f0"/>
<circle cx="1067.31" cy="145.23" r="1.2" fill="#c0103a"/>
<circle cx="1054.2" cy="149.28" r="1.2" fill="#e8e0f0"/>
<circle cx="1051.32" cy="153.58" r="1.2" fill="#e8e0f0"/>
<circle cx="1045.32" cy="155.76" r="1.2" fill="#c0103a"/>
<circle cx="1047.62" cy="149.38" r="1.2" fill="#e8e0f0"/>
<circle cx="1051.97" cy="148.76" r="1.2" fill="#e8e0f0"/>
<circle cx="1067.64" cy="146.61" r="1.2" fill="#c0103a"/>
<line x1="1057.78" y1="154.98" x2="1047.19" y2="135.54" stroke="#6fa3d8" stroke-width="1.1" stroke-linecap="round" opacity="0.7"/>
<line x1="1028.44" y1="171.21" x2="1026.11" y2="181.39" stroke="#6fa3d8" stroke-width="2.33" stroke-linecap="round" opacity="0.7"/>
<line x1="1084.67" y1="134.78" x2="1098.15" y2="128.14" stroke="#6fa3d8" stroke-width="1.04" stroke-linecap="round" opacity="0.7"/>
<line x1="1022.98" y1="134.45" x2="1036.03" y2="121.32" stroke="#6fa3d8" stroke-width="2.13" stroke-linecap="round" opacity="0.7"/>
<line x1="1091.25" y1="178.4" x2="1084.57" y2="191.25" stroke="#6fa3d8" stroke-width="1.67" stroke-linecap="round" opacity="0.7"/>
<circle cx="1098.25" cy="149.97" r="1.7" fill="#c0103a" opacity="0.8"/>
<circle cx="1043.72" cy="157.34" r="1.45" fill="#c0103a" opacity="0.8"/>
<circle cx="1029.16" cy="129.1" r="1.56" fill="#c0103a" opacity="0.8"/>
<circle cx="1037.77" cy="157.2" r="1.89" fill="#c0103a" opacity="0.8"/>
<circle cx="1087.03" cy="172.48" r="1.53" fill="#c0103a" opacity="0.8"/>
<circle cx="1047.83" cy="135.31" r="1.11" fill="#c0103a" opacity="0.8"/>
</g>
<rect x="1094" y="194" width="33.5" height="5" fill="#000"/>
<clipPath id="c8"><rect x="1130.7" y="122" width="110.3" height="77"/></clipPath><g clip-path="url(#c8)">
<rect x="1130.7" y="122" width="110.3" height="77" fill="#c98cb2"/>
<ellipse cx="1138.1" cy="147.07" rx="8.03" ry="7.7" fill="#d69cbe" transform="rotate(135 1138.1 147.07)" stroke="#6fa3d8" stroke-width="1" stroke-opacity="0.6"/>
<ellipse cx="1207.23" cy="158.18" rx="14.03" ry="8.71" fill="#d69cbe" transform="rotate(155 1207.23 158.18)" stroke="#6fa3d8" stroke-width="1" stroke-opacity="0.6"/>
<ellipse cx="1197.99" cy="132.75" rx="12.53" ry="8.86" fill="#d69cbe" transform="rotate(96 1197.99 132.75)" stroke="#6fa3d8" stroke-width="1" stroke-opacity="0.6"/>
<ellipse cx="1154.42" cy="175.54" rx="9.51" ry="7.8" fill="#d69cbe" transform="rotate(43 1154.42 175.54)" stroke="#6fa3d8" stroke-width="1" stroke-opacity="0.6"/>
<ellipse cx="1160.14" cy="135.92" rx="14.03" ry="9.99" fill="#d69cbe" transform="rotate(5 1160.14 135.92)" stroke="#6fa3d8" stroke-width="1" stroke-opacity="0.6"/>
<ellipse cx="1194.18" cy="128.01" rx="13.15" ry="8.44" fill="#d69cbe" transform="rotate(96 1194.18 128.01)" stroke="#6fa3d8" stroke-width="1" stroke-opacity="0.6"/>
<ellipse cx="1214.71" cy="181.97" rx="13.46" ry="7.76" fill="#d69cbe" transform="rotate(17 1214.71 181.97)" stroke="#6fa3d8" stroke-width="1" stroke-opacity="0.6"/>
<ellipse cx="1195.08" cy="163.16" rx="15.14" ry="11.29" fill="#d69cbe" transform="rotate(33 1195.08 163.16)" stroke="#6fa3d8" stroke-width="1" stroke-opacity="0.6"/>
<ellipse cx="1176.05" cy="176.7" rx="11.35" ry="11.8" fill="#d69cbe" transform="rotate(2 1176.05 176.7)" stroke="#6fa3d8" stroke-width="1" stroke-opacity="0.6"/>
<ellipse cx="1176.33" cy="186.9" rx="15.59" ry="9.04" fill="#d69cbe" transform="rotate(45 1176.33 186.9)" stroke="#6fa3d8" stroke-width="1" stroke-opacity="0.6"/>
<ellipse cx="1195.96" cy="146.55" rx="13.57" ry="8.05" fill="#d69cbe" transform="rotate(34 1195.96 146.55)" stroke="#6fa3d8" stroke-width="1" stroke-opacity="0.6"/>
<ellipse cx="1195.51" cy="181.39" rx="11.92" ry="9.56" fill="#d69cbe" transform="rotate(102 1195.51 181.39)" stroke="#6fa3d8" stroke-width="1" stroke-opacity="0.6"/>
<ellipse cx="1188.53" cy="122.46" rx="10.98" ry="11.24" fill="#d69cbe" transform="rotate(92 1188.53 122.46)" stroke="#6fa3d8" stroke-width="1" stroke-opacity="0.6"/>
<ellipse cx="1217.11" cy="195.51" rx="8.3" ry="10.37" fill="#d69cbe" transform="rotate(88 1217.11 195.51)" stroke="#6fa3d8" stroke-width="1" stroke-opacity="0.6"/>
<ellipse cx="1130.97" cy="138.85" rx="11.95" ry="8.77" fill="#d69cbe" transform="rotate(156 1130.97 138.85)" stroke="#6fa3d8" stroke-width="1" stroke-opacity="0.6"/>
<ellipse cx="1169.88" cy="182.65" rx="11.29" ry="11.66" fill="#d69cbe" transform="rotate(175 1169.88 182.65)" stroke="#6fa3d8" stroke-width="1" stroke-opacity="0.6"/>
<ellipse cx="1148.55" cy="184.95" rx="8.9" ry="8.01" fill="#d69cbe" transform="rotate(159 1148.55 184.95)" stroke="#6fa3d8" stroke-width="1" stroke-opacity="0.6"/>
<ellipse cx="1178.54" cy="123.57" rx="8.04" ry="11.92" fill="#d69cbe" transform="rotate(154 1178.54 123.57)" stroke="#6fa3d8" stroke-width="1" stroke-opacity="0.6"/>
<ellipse cx="1237.04" cy="148.23" rx="3.83" ry="2.71" fill="#f8f2f6" transform="rotate(8 1237.04 148.23)" opacity="0.9"/>
<ellipse cx="1196.8" cy="133.84" rx="3.12" ry="2.89" fill="#f8f2f6" transform="rotate(42 1196.8 133.84)" opacity="0.9"/>
<ellipse cx="1239.78" cy="173.52" rx="5.6" ry="2.61" fill="#f8f2f6" transform="rotate(43 1239.78 173.52)" opacity="0.9"/>
<ellipse cx="1236.34" cy="125.09" rx="7.45" ry="2.33" fill="#f8f2f6" transform="rotate(108 1236.34 125.09)" opacity="0.9"/>
<ellipse cx="1190.71" cy="151.89" rx="3" ry="1.88" fill="#f8f2f6" transform="rotate(115 1190.71 151.89)" opacity="0.9"/>
<ellipse cx="1165.04" cy="183.28" rx="6.16" ry="1.07" fill="#f8f2f6" transform="rotate(16 1165.04 183.28)" opacity="0.9"/>
<ellipse cx="1224.12" cy="163.17" rx="2.8" ry="2.32" fill="#f8f2f6" transform="rotate(98 1224.12 163.17)" opacity="0.9"/>
<ellipse cx="1208.78" cy="158.72" rx="7.58" ry="1.04" fill="#f8f2f6" transform="rotate(159 1208.78 158.72)" opacity="0.9"/>
<ellipse cx="1208.67" cy="151" rx="2.61" ry="1.36" fill="#f8f2f6" transform="rotate(126 1208.67 151)" opacity="0.9"/>
<ellipse cx="1204.15" cy="162.8" rx="2.5" ry="1.25" fill="#f8f2f6" transform="rotate(87 1204.15 162.8)" opacity="0.9"/>
<ellipse cx="1142.59" cy="144.68" rx="2.16" ry="1.57" fill="#f8f2f6" transform="rotate(99 1142.59 144.68)" opacity="0.9"/>
<ellipse cx="1219.41" cy="123.07" rx="3.8" ry="1.83" fill="#f8f2f6" transform="rotate(39 1219.41 123.07)" opacity="0.9"/>
<ellipse cx="1190.7" cy="152" rx="22" ry="20" fill="#f6f0f6" transform="rotate(10 1190.7 152)" opacity="0.8"/>
<ellipse cx="1190.7" cy="152" rx="19.6" ry="17.6" fill="#b0a8d8" transform="rotate(10 1190.7 152)" opacity="0.75"/>
<circle cx="1190.32" cy="152.22" r="1.2" fill="#c0103a"/>
<circle cx="1193.79" cy="158.87" r="1.2" fill="#e8e0f0"/>
<circle cx="1196.11" cy="145.82" r="1.2" fill="#e8e0f0"/>
<circle cx="1185.55" cy="140.3" r="1.2" fill="#c0103a"/>
<circle cx="1187.06" cy="143.1" r="1.2" fill="#e8e0f0"/>
<circle cx="1186.14" cy="161.59" r="1.2" fill="#e8e0f0"/>
<circle cx="1185.07" cy="158.15" r="1.2" fill="#c0103a"/>
<circle cx="1188.03" cy="154.47" r="1.2" fill="#e8e0f0"/>
<circle cx="1182.69" cy="146.45" r="1.2" fill="#e8e0f0"/>
<circle cx="1199.34" cy="155.11" r="1.2" fill="#c0103a"/>
<circle cx="1201.11" cy="156" r="1.2" fill="#e8e0f0"/>
<circle cx="1175.7" cy="147.61" r="1.2" fill="#e8e0f0"/>
<circle cx="1197.74" cy="160.86" r="1.2" fill="#c0103a"/>
<circle cx="1192.73" cy="145.15" r="1.2" fill="#e8e0f0"/>
<circle cx="1179.02" cy="155.21" r="1.2" fill="#e8e0f0"/>
<circle cx="1198.86" cy="158.23" r="1.2" fill="#c0103a"/>
<circle cx="1203.26" cy="144.18" r="1.2" fill="#e8e0f0"/>
<circle cx="1192.24" cy="151.1" r="1.2" fill="#e8e0f0"/>
<circle cx="1184.03" cy="141.19" r="1.2" fill="#c0103a"/>
<circle cx="1187.62" cy="158.46" r="1.2" fill="#e8e0f0"/>
<circle cx="1186.51" cy="144.39" r="1.2" fill="#e8e0f0"/>
<circle cx="1198.45" cy="147.85" r="1.2" fill="#c0103a"/>
<circle cx="1199.6" cy="143.01" r="1.2" fill="#e8e0f0"/>
<circle cx="1180.55" cy="160.04" r="1.2" fill="#e8e0f0"/>
<circle cx="1201.72" cy="144.83" r="1.2" fill="#c0103a"/>
<line x1="1161.79" y1="130.98" x2="1145.04" y2="119.72" stroke="#6fa3d8" stroke-width="1.92" stroke-linecap="round" opacity="0.7"/>
<line x1="1156.55" y1="172.38" x2="1152.85" y2="158.61" stroke="#6fa3d8" stroke-width="2.04" stroke-linecap="round" opacity="0.7"/>
<line x1="1204.92" y1="195.98" x2="1228" y2="198.68" stroke="#6fa3d8" stroke-width="2.09" stroke-linecap="round" opacity="0.7"/>
<line x1="1145.66" y1="134.68" x2="1133.21" y2="147.45" stroke="#6fa3d8" stroke-width="1.87" stroke-linecap="round" opacity="0.7"/>
<line x1="1176.65" y1="188.01" x2="1159.31" y2="185.32" stroke="#6fa3d8" stroke-width="2.05" stroke-linecap="round" opacity="0.7"/>
<line x1="1223.19" y1="134.27" x2="1236.73" y2="141.88" stroke="#6fa3d8" stroke-width="2.25" stroke-linecap="round" opacity="0.7"/>
<line x1="1229.11" y1="163.56" x2="1239.94" y2="178.24" stroke="#6fa3d8" stroke-width="2.27" stroke-linecap="round" opacity="0.7"/>
<line x1="1213.5" y1="135.54" x2="1228.23" y2="140.09" stroke="#6fa3d8" stroke-width="1.36" stroke-linecap="round" opacity="0.7"/>
<line x1="1166.18" y1="179.62" x2="1168.1" y2="162.6" stroke="#6fa3d8" stroke-width="2.37" stroke-linecap="round" opacity="0.7"/>
<line x1="1208.85" y1="134.18" x2="1198.51" y2="141.72" stroke="#6fa3d8" stroke-width="2.48" stroke-linecap="round" opacity="0.7"/>
<circle cx="1177.53" cy="142.92" r="1.82" fill="#c0103a" opacity="0.8"/>
<circle cx="1236.09" cy="149.99" r="1.15" fill="#c0103a" opacity="0.8"/>
<circle cx="1166.03" cy="125.41" r="1.58" fill="#c0103a" opacity="0.8"/>
<circle cx="1133.32" cy="198.57" r="1.78" fill="#c0103a" opacity="0.8"/>
<circle cx="1173.31" cy="167.13" r="1.8" fill="#c0103a" opacity="0.8"/>
<circle cx="1143.65" cy="174.26" r="1.83" fill="#c0103a" opacity="0.8"/>
<circle cx="1187.43" cy="189.37" r="1.1" fill="#c0103a" opacity="0.8"/>
<circle cx="1130.97" cy="139.77" r="2" fill="#c0103a" opacity="0.8"/>
<circle cx="1168.11" cy="147.1" r="0.88" fill="#c0103a" opacity="0.8"/>
<circle cx="1173.91" cy="141.02" r="1.39" fill="#c0103a" opacity="0.8"/>
</g>
<rect x="1207" y="194" width="33.5" height="5" fill="#000"/>
<clipPath id="c9"><rect x="1244" y="122" width="106" height="77"/></clipPath><g clip-path="url(#c9)">
<rect x="1244" y="122" width="106" height="77" fill="#c49cc6"/>
<ellipse cx="1324.97" cy="171.65" rx="11.28" ry="7.19" fill="#d0acd0" transform="rotate(121 1324.97 171.65)" stroke="#6fa3d8" stroke-width="1" stroke-opacity="0.6"/>
<ellipse cx="1346.74" cy="154.94" rx="14.81" ry="6.22" fill="#d0acd0" transform="rotate(95 1346.74 154.94)" stroke="#6fa3d8" stroke-width="1" stroke-opacity="0.6"/>
<ellipse cx="1265.36" cy="160.06" rx="12.89" ry="11.14" fill="#d0acd0" transform="rotate(94 1265.36 160.06)" stroke="#6fa3d8" stroke-width="1" stroke-opacity="0.6"/>
<ellipse cx="1336.1" cy="147.16" rx="9.03" ry="8.79" fill="#d0acd0" transform="rotate(128 1336.1 147.16)" stroke="#6fa3d8" stroke-width="1" stroke-opacity="0.6"/>
<ellipse cx="1319.04" cy="124.83" rx="9.99" ry="7.53" fill="#d0acd0" transform="rotate(84 1319.04 124.83)" stroke="#6fa3d8" stroke-width="1" stroke-opacity="0.6"/>
<ellipse cx="1335.34" cy="142.86" rx="8.37" ry="11.39" fill="#d0acd0" transform="rotate(156 1335.34 142.86)" stroke="#6fa3d8" stroke-width="1" stroke-opacity="0.6"/>
<ellipse cx="1325.69" cy="124.98" rx="10.09" ry="7.06" fill="#d0acd0" transform="rotate(164 1325.69 124.98)" stroke="#6fa3d8" stroke-width="1" stroke-opacity="0.6"/>
<ellipse cx="1257.23" cy="131.82" rx="9.77" ry="10.75" fill="#d0acd0" transform="rotate(35 1257.23 131.82)" stroke="#6fa3d8" stroke-width="1" stroke-opacity="0.6"/>
<ellipse cx="1348.24" cy="145.73" rx="13.2" ry="7.15" fill="#d0acd0" transform="rotate(52 1348.24 145.73)" stroke="#6fa3d8" stroke-width="1" stroke-opacity="0.6"/>
<ellipse cx="1335.73" cy="198.81" rx="9.94" ry="8.1" fill="#d0acd0" transform="rotate(10 1335.73 198.81)" stroke="#6fa3d8" stroke-width="1" stroke-opacity="0.6"/>
<ellipse cx="1264.63" cy="151.57" rx="12.17" ry="9.44" fill="#d0acd0" transform="rotate(62 1264.63 151.57)" stroke="#6fa3d8" stroke-width="1" stroke-opacity="0.6"/>
<ellipse cx="1260.75" cy="164.79" rx="10.79" ry="8.07" fill="#d0acd0" transform="rotate(175 1260.75 164.79)" stroke="#6fa3d8" stroke-width="1" stroke-opacity="0.6"/>
<ellipse cx="1306.25" cy="123.17" rx="15.66" ry="11.82" fill="#d0acd0" transform="rotate(70 1306.25 123.17)" stroke="#6fa3d8" stroke-width="1" stroke-opacity="0.6"/>
<ellipse cx="1347.84" cy="130.09" rx="15.35" ry="7.01" fill="#d0acd0" transform="rotate(155 1347.84 130.09)" stroke="#6fa3d8" stroke-width="1" stroke-opacity="0.6"/>
<ellipse cx="1315.8" cy="195.79" rx="10.42" ry="9.92" fill="#d0acd0" transform="rotate(169 1315.8 195.79)" stroke="#6fa3d8" stroke-width="1" stroke-opacity="0.6"/>
<ellipse cx="1257.66" cy="136.25" rx="12.46" ry="6.8" fill="#d0acd0" transform="rotate(9 1257.66 136.25)" stroke="#6fa3d8" stroke-width="1" stroke-opacity="0.6"/>
<ellipse cx="1245.65" cy="148.72" rx="13.2" ry="8.8" fill="#d0acd0" transform="rotate(108 1245.65 148.72)" stroke="#6fa3d8" stroke-width="1" stroke-opacity="0.6"/>
<ellipse cx="1246.8" cy="129.8" rx="12.52" ry="6.94" fill="#d0acd0" transform="rotate(2 1246.8 129.8)" stroke="#6fa3d8" stroke-width="1" stroke-opacity="0.6"/>
<ellipse cx="1250.53" cy="172.19" rx="7.76" ry="2.24" fill="#f6f0f8" transform="rotate(1 1250.53 172.19)" opacity="0.9"/>
<ellipse cx="1264.65" cy="174.46" rx="6.76" ry="1.52" fill="#f6f0f8" transform="rotate(84 1264.65 174.46)" opacity="0.9"/>
<ellipse cx="1247.85" cy="163.6" rx="6.54" ry="2.25" fill="#f6f0f8" transform="rotate(141 1247.85 163.6)" opacity="0.9"/>
<ellipse cx="1268.83" cy="173.28" rx="4.82" ry="2.51" fill="#f6f0f8" transform="rotate(13 1268.83 173.28)" opacity="0.9"/>
<ellipse cx="1292.11" cy="169.74" rx="3.41" ry="2.38" fill="#f6f0f8" transform="rotate(3 1292.11 169.74)" opacity="0.9"/>
<ellipse cx="1288.3" cy="194.47" rx="5.88" ry="2.27" fill="#f6f0f8" transform="rotate(156 1288.3 194.47)" opacity="0.9"/>
<ellipse cx="1317.52" cy="161.19" rx="4.25" ry="3.18" fill="#f6f0f8" transform="rotate(101 1317.52 161.19)" opacity="0.9"/>
<ellipse cx="1295.68" cy="150.6" rx="2.92" ry="1.48" fill="#f6f0f8" transform="rotate(108 1295.68 150.6)" opacity="0.9"/>
<ellipse cx="1300.96" cy="181.64" rx="4.69" ry="1.96" fill="#f6f0f8" transform="rotate(99 1300.96 181.64)" opacity="0.9"/>
<ellipse cx="1270.64" cy="196.04" rx="5.81" ry="1.75" fill="#f6f0f8" transform="rotate(88 1270.64 196.04)" opacity="0.9"/>
<ellipse cx="1280" cy="162" rx="24.2" ry="22" fill="#f6f0f6" transform="rotate(10 1280 162)" opacity="0.8"/>
<ellipse cx="1280" cy="162" rx="21.56" ry="19.36" fill="#b0a8d8" transform="rotate(10 1280 162)" opacity="0.75"/>
<circle cx="1289.26" cy="149" r="1.2" fill="#c0103a"/>
<circle cx="1274.89" cy="147.89" r="1.2" fill="#e8e0f0"/>
<circle cx="1283.72" cy="153" r="1.2" fill="#e8e0f0"/>
<circle cx="1269.56" cy="167.33" r="1.2" fill="#c0103a"/>
<circle cx="1292.82" cy="165.91" r="1.2" fill="#e8e0f0"/>
<circle cx="1265.22" cy="157.47" r="1.2" fill="#e8e0f0"/>
<circle cx="1270.69" cy="175.23" r="1.2" fill="#c0103a"/>
<circle cx="1279.05" cy="149.98" r="1.2" fill="#e8e0f0"/>
<circle cx="1282.39" cy="177.16" r="1.2" fill="#e8e0f0"/>
<circle cx="1274.31" cy="150.47" r="1.2" fill="#c0103a"/>
<circle cx="1282.71" cy="168.62" r="1.2" fill="#e8e0f0"/>
<circle cx="1285.59" cy="176.32" r="1.2" fill="#e8e0f0"/>
<circle cx="1266.2" cy="166.66" r="1.2" fill="#c0103a"/>
<circle cx="1274.32" cy="148.67" r="1.2" fill="#e8e0f0"/>
<circle cx="1278.09" cy="168.91" r="1.2" fill="#e8e0f0"/>
<circle cx="1286.42" cy="160.63" r="1.2" fill="#c0103a"/>
<circle cx="1291.08" cy="161.99" r="1.2" fill="#e8e0f0"/>
<circle cx="1289.57" cy="163.17" r="1.2" fill="#e8e0f0"/>
<circle cx="1281.15" cy="151.97" r="1.2" fill="#c0103a"/>
<circle cx="1283.14" cy="165.39" r="1.2" fill="#e8e0f0"/>
<circle cx="1292.67" cy="165.66" r="1.2" fill="#e8e0f0"/>
<circle cx="1270.3" cy="171.69" r="1.2" fill="#c0103a"/>
<circle cx="1286.6" cy="168" r="1.2" fill="#e8e0f0"/>
<circle cx="1270.52" cy="159.02" r="1.2" fill="#e8e0f0"/>
<circle cx="1276.91" cy="154.41" r="1.2" fill="#c0103a"/>
<line x1="1323.58" y1="173.11" x2="1307.15" y2="183.17" stroke="#6fa3d8" stroke-width="1.52" stroke-linecap="round" opacity="0.7"/>
<line x1="1341.57" y1="179.09" x2="1336.78" y2="200.16" stroke="#6fa3d8" stroke-width="1.94" stroke-linecap="round" opacity="0.7"/>
<line x1="1335.59" y1="176.67" x2="1349.91" y2="168.08" stroke="#6fa3d8" stroke-width="1.52" stroke-linecap="round" opacity="0.7"/>
<line x1="1321.94" y1="193.33" x2="1302.72" y2="190.29" stroke="#6fa3d8" stroke-width="1.91" stroke-linecap="round" opacity="0.7"/>
<line x1="1279.25" y1="137.43" x2="1271.61" y2="129.98" stroke="#6fa3d8" stroke-width="1.67" stroke-linecap="round" opacity="0.7"/>
<line x1="1326.18" y1="151.33" x2="1304.78" y2="160.93" stroke="#6fa3d8" stroke-width="1.89" stroke-linecap="round" opacity="0.7"/>
<line x1="1301.31" y1="136.89" x2="1301.2" y2="123" stroke="#6fa3d8" stroke-width="2.07" stroke-linecap="round" opacity="0.7"/>
<line x1="1345.09" y1="186.03" x2="1349.25" y2="208.51" stroke="#6fa3d8" stroke-width="2" stroke-linecap="round" opacity="0.7"/>
<line x1="1262.58" y1="125.36" x2="1262.82" y2="142.71" stroke="#6fa3d8" stroke-width="1.73" stroke-linecap="round" opacity="0.7"/>
<line x1="1244.48" y1="195.05" x2="1264.05" y2="203.74" stroke="#6fa3d8" stroke-width="1.74" stroke-linecap="round" opacity="0.7"/>
<circle cx="1328.7" cy="184.36" r="1.64" fill="#c0103a" opacity="0.8"/>
<circle cx="1284.03" cy="161.93" r="1.04" fill="#c0103a" opacity="0.8"/>
<circle cx="1271.84" cy="123.72" r="1.24" fill="#c0103a" opacity="0.8"/>
<circle cx="1339.57" cy="177.41" r="0.87" fill="#c0103a" opacity="0.8"/>
<circle cx="1280.3" cy="155.62" r="1.43" fill="#c0103a" opacity="0.8"/>
<circle cx="1298.08" cy="186.49" r="1.04" fill="#c0103a" opacity="0.8"/>
<circle cx="1311.89" cy="171.88" r="0.82" fill="#c0103a" opacity="0.8"/>
<circle cx="1260.08" cy="131.1" r="1.54" fill="#c0103a" opacity="0.8"/>
<circle cx="1335.01" cy="189.9" r="1.81" fill="#c0103a" opacity="0.8"/>
<circle cx="1302.1" cy="169.68" r="1.6" fill="#c0103a" opacity="0.8"/>
</g>
<rect x="1316" y="194" width="33.5" height="5" fill="#000"/>
<clipPath id="c10"><rect x="1352" y="121" width="101" height="78"/></clipPath><g clip-path="url(#c10)">
<rect x="1352" y="121" width="101" height="78" fill="#d3809e"/>
<ellipse cx="1361.17" cy="186.68" rx="12.8" ry="7.28" fill="#dd98b4" transform="rotate(140 1361.17 186.68)" stroke="#6fa3d8" stroke-width="1" stroke-opacity="0.6"/>
<ellipse cx="1412.06" cy="185.59" rx="12.89" ry="10.34" fill="#dd98b4" transform="rotate(139 1412.06 185.59)" stroke="#6fa3d8" stroke-width="1" stroke-opacity="0.6"/>
<ellipse cx="1386.76" cy="128.48" rx="15.18" ry="6.7" fill="#dd98b4" transform="rotate(100 1386.76 128.48)" stroke="#6fa3d8" stroke-width="1" stroke-opacity="0.6"/>
<ellipse cx="1452.12" cy="148.34" rx="10.09" ry="8.29" fill="#dd98b4" transform="rotate(36 1452.12 148.34)" stroke="#6fa3d8" stroke-width="1" stroke-opacity="0.6"/>
<ellipse cx="1427.74" cy="144.25" rx="8.59" ry="9.57" fill="#dd98b4" transform="rotate(46 1427.74 144.25)" stroke="#6fa3d8" stroke-width="1" stroke-opacity="0.6"/>
<ellipse cx="1370.08" cy="122.31" rx="14.71" ry="8.27" fill="#dd98b4" transform="rotate(107 1370.08 122.31)" stroke="#6fa3d8" stroke-width="1" stroke-opacity="0.6"/>
<ellipse cx="1400.55" cy="188.8" rx="8.54" ry="9.8" fill="#dd98b4" transform="rotate(149 1400.55 188.8)" stroke="#6fa3d8" stroke-width="1" stroke-opacity="0.6"/>
<ellipse cx="1380.48" cy="154.83" rx="10.69" ry="7.94" fill="#dd98b4" transform="rotate(170 1380.48 154.83)" stroke="#6fa3d8" stroke-width="1" stroke-opacity="0.6"/>
<ellipse cx="1375.09" cy="178.55" rx="8.35" ry="10.69" fill="#dd98b4" transform="rotate(14 1375.09 178.55)" stroke="#6fa3d8" stroke-width="1" stroke-opacity="0.6"/>
<ellipse cx="1431.73" cy="126.14" rx="9.72" ry="7.58" fill="#dd98b4" transform="rotate(50 1431.73 126.14)" stroke="#6fa3d8" stroke-width="1" stroke-opacity="0.6"/>
<ellipse cx="1430.47" cy="160.36" rx="8.37" ry="7.1" fill="#dd98b4" transform="rotate(75 1430.47 160.36)" stroke="#6fa3d8" stroke-width="1" stroke-opacity="0.6"/>
<ellipse cx="1423.77" cy="170.97" rx="11.84" ry="10.85" fill="#dd98b4" transform="rotate(170 1423.77 170.97)" stroke="#6fa3d8" stroke-width="1" stroke-opacity="0.6"/>
<ellipse cx="1447.9" cy="198.34" rx="15.35" ry="11.92" fill="#dd98b4" transform="rotate(128 1447.9 198.34)" stroke="#6fa3d8" stroke-width="1" stroke-opacity="0.6"/>
<ellipse cx="1421.93" cy="166.5" rx="11.13" ry="11.02" fill="#dd98b4" transform="rotate(68 1421.93 166.5)" stroke="#6fa3d8" stroke-width="1" stroke-opacity="0.6"/>
<ellipse cx="1443.48" cy="155.43" rx="8.18" ry="11.09" fill="#dd98b4" transform="rotate(87 1443.48 155.43)" stroke="#6fa3d8" stroke-width="1" stroke-opacity="0.6"/>
<ellipse cx="1352.46" cy="184.8" rx="14.35" ry="11.26" fill="#dd98b4" transform="rotate(83 1352.46 184.8)" stroke="#6fa3d8" stroke-width="1" stroke-opacity="0.6"/>
<ellipse cx="1368.94" cy="137.93" rx="12.3" ry="10.03" fill="#dd98b4" transform="rotate(100 1368.94 137.93)" stroke="#6fa3d8" stroke-width="1" stroke-opacity="0.6"/>
<ellipse cx="1376.3" cy="132.53" rx="15.79" ry="11.99" fill="#dd98b4" transform="rotate(169 1376.3 132.53)" stroke="#6fa3d8" stroke-width="1" stroke-opacity="0.6"/>
<ellipse cx="1404.5" cy="127.1" rx="3.32" ry="2.38" fill="#f6eef2" transform="rotate(156 1404.5 127.1)" opacity="0.9"/>
<ellipse cx="1422.28" cy="129.44" rx="7.5" ry="2.6" fill="#f6eef2" transform="rotate(77 1422.28 129.44)" opacity="0.9"/>
<ellipse cx="1429.77" cy="152.93" rx="5.24" ry="1.06" fill="#f6eef2" transform="rotate(13 1429.77 152.93)" opacity="0.9"/>
<ellipse cx="1445.93" cy="153.91" rx="6.75" ry="1.93" fill="#f6eef2" transform="rotate(70 1445.93 153.91)" opacity="0.9"/>
<ellipse cx="1363.22" cy="190.9" rx="3.51" ry="2.92" fill="#f6eef2" transform="rotate(32 1363.22 190.9)" opacity="0.9"/>
<ellipse cx="1382.66" cy="127.9" rx="6.17" ry="3.29" fill="#f6eef2" transform="rotate(112 1382.66 127.9)" opacity="0.9"/>
<ellipse cx="1417.08" cy="140.4" rx="7.71" ry="1.28" fill="#f6eef2" transform="rotate(45 1417.08 140.4)" opacity="0.9"/>
<ellipse cx="1409.18" cy="170.92" rx="3.72" ry="2.48" fill="#f6eef2" transform="rotate(20 1409.18 170.92)" opacity="0.9"/>
<ellipse cx="1356.93" cy="154.2" rx="5.46" ry="3.21" fill="#f6eef2" transform="rotate(84 1356.93 154.2)" opacity="0.9"/>
<ellipse cx="1446.5" cy="180.8" rx="7.83" ry="2.77" fill="#f6eef2" transform="rotate(76 1446.5 180.8)" opacity="0.9"/>
<ellipse cx="1390" cy="149" rx="24.2" ry="22" fill="#f6f0f6" transform="rotate(10 1390 149)" opacity="0.8"/>
<ellipse cx="1390" cy="149" rx="21.56" ry="19.36" fill="#b0a8d8" transform="rotate(10 1390 149)" opacity="0.75"/>
<circle cx="1380.42" cy="139.06" r="1.2" fill="#c0103a"/>
<circle cx="1389.76" cy="155.58" r="1.2" fill="#e8e0f0"/>
<circle cx="1384.23" cy="159.43" r="1.2" fill="#e8e0f0"/>
<circle cx="1399.99" cy="151.96" r="1.2" fill="#c0103a"/>
<circle cx="1400.46" cy="161.09" r="1.2" fill="#e8e0f0"/>
<circle cx="1377.33" cy="152.54" r="1.2" fill="#e8e0f0"/>
<circle cx="1397.58" cy="157.16" r="1.2" fill="#c0103a"/>
<circle cx="1405.63" cy="145.62" r="1.2" fill="#e8e0f0"/>
<circle cx="1396.05" cy="145.64" r="1.2" fill="#e8e0f0"/>
<circle cx="1400.1" cy="138.03" r="1.2" fill="#c0103a"/>
<circle cx="1382.52" cy="155.41" r="1.2" fill="#e8e0f0"/>
<circle cx="1398.2" cy="144.41" r="1.2" fill="#e8e0f0"/>
<circle cx="1388.72" cy="161.65" r="1.2" fill="#c0103a"/>
<circle cx="1378.37" cy="148.74" r="1.2" fill="#e8e0f0"/>
<circle cx="1376.78" cy="155.15" r="1.2" fill="#e8e0f0"/>
<circle cx="1387.95" cy="138.55" r="1.2" fill="#c0103a"/>
<circle cx="1398.48" cy="145.96" r="1.2" fill="#e8e0f0"/>
<circle cx="1388.01" cy="158.71" r="1.2" fill="#e8e0f0"/>
<circle cx="1402.51" cy="149.17" r="1.2" fill="#c0103a"/>
<circle cx="1381" cy="150.18" r="1.2" fill="#e8e0f0"/>
<circle cx="1378.42" cy="152.32" r="1.2" fill="#e8e0f0"/>
<circle cx="1378.63" cy="143.35" r="1.2" fill="#c0103a"/>
<circle cx="1384.2" cy="157.03" r="1.2" fill="#e8e0f0"/>
<circle cx="1393.07" cy="145.91" r="1.2" fill="#e8e0f0"/>
<circle cx="1395.01" cy="145.33" r="1.2" fill="#c0103a"/>
<line x1="1369.34" y1="154.8" x2="1380.85" y2="153.94" stroke="#6fa3d8" stroke-width="1.08" stroke-linecap="round" opacity="0.7"/>
<line x1="1428.69" y1="160.7" x2="1443.67" y2="177.13" stroke="#6fa3d8" stroke-width="1.88" stroke-linecap="round" opacity="0.7"/>
<line x1="1420.32" y1="129.73" x2="1413.69" y2="124.04" stroke="#6fa3d8" stroke-width="1.38" stroke-linecap="round" opacity="0.7"/>
<line x1="1409.54" y1="198.43" x2="1419.62" y2="193.83" stroke="#6fa3d8" stroke-width="2.36" stroke-linecap="round" opacity="0.7"/>
<line x1="1442.62" y1="128.5" x2="1453.2" y2="132.38" stroke="#6fa3d8" stroke-width="2.5" stroke-linecap="round" opacity="0.7"/>
<line x1="1378.04" y1="163.07" x2="1370.3" y2="150.57" stroke="#6fa3d8" stroke-width="1.51" stroke-linecap="round" opacity="0.7"/>
<line x1="1409.01" y1="183.85" x2="1410.62" y2="192.26" stroke="#6fa3d8" stroke-width="1.67" stroke-linecap="round" opacity="0.7"/>
<line x1="1448.4" y1="187.71" x2="1465.88" y2="196.68" stroke="#6fa3d8" stroke-width="2.36" stroke-linecap="round" opacity="0.7"/>
<line x1="1436.02" y1="123.24" x2="1451.24" y2="124.46" stroke="#6fa3d8" stroke-width="2.42" stroke-linecap="round" opacity="0.7"/>
<line x1="1443.72" y1="144.31" x2="1463.68" y2="137.93" stroke="#6fa3d8" stroke-width="1.63" stroke-linecap="round" opacity="0.7"/>
<circle cx="1370.42" cy="131.37" r="1.22" fill="#c0103a" opacity="0.8"/>
<circle cx="1360.42" cy="160.3" r="1.53" fill="#c0103a" opacity="0.8"/>
<circle cx="1450.42" cy="127.11" r="0.91" fill="#c0103a" opacity="0.8"/>
<circle cx="1413.28" cy="133.17" r="0.98" fill="#c0103a" opacity="0.8"/>
<circle cx="1411.31" cy="175.07" r="1.73" fill="#c0103a" opacity="0.8"/>
<circle cx="1388.99" cy="131.73" r="0.81" fill="#c0103a" opacity="0.8"/>
<circle cx="1431.91" cy="177.83" r="0.9" fill="#c0103a" opacity="0.8"/>
<circle cx="1410.09" cy="124.95" r="1.35" fill="#c0103a" opacity="0.8"/>
<circle cx="1436.26" cy="196.44" r="1.5" fill="#c0103a" opacity="0.8"/>
<circle cx="1439.23" cy="159.57" r="1.96" fill="#c0103a" opacity="0.8"/>
<circle cx="1375.36" cy="122.43" r="1.38" fill="#c0103a" opacity="0.8"/>
<circle cx="1452.07" cy="170.85" r="1.62" fill="#c0103a" opacity="0.8"/>
<circle cx="1430.75" cy="175.82" r="1.69" fill="#c0103a" opacity="0.8"/>
<circle cx="1386.76" cy="147.62" r="1.84" fill="#c0103a" opacity="0.8"/>
<circle cx="1377.76" cy="161.77" r="1.08" fill="#c0103a" opacity="0.8"/>
<circle cx="1417.48" cy="157.29" r="1.88" fill="#c0103a" opacity="0.8"/>
<circle cx="1384.07" cy="134.89" r="0.81" fill="#c0103a" opacity="0.8"/>
<circle cx="1354.15" cy="140.85" r="1.8" fill="#c0103a" opacity="0.8"/>
<circle cx="1452.87" cy="131.16" r="1.9" fill="#c0103a" opacity="0.8"/>
<circle cx="1360.67" cy="182.46" r="1.28" fill="#c0103a" opacity="0.8"/>
<circle cx="1362.96" cy="145.13" r="1.92" fill="#c0103a" opacity="0.8"/>
<circle cx="1427.28" cy="167.85" r="1.68" fill="#c0103a" opacity="0.8"/>
<circle cx="1439.58" cy="158.95" r="1.84" fill="#c0103a" opacity="0.8"/>
<circle cx="1435.33" cy="172.85" r="1.42" fill="#c0103a" opacity="0.8"/>
</g>
<rect x="1419" y="194" width="33.5" height="5" fill="#000"/>
<clipPath id="c11"><rect x="1456" y="121" width="104" height="78"/></clipPath><g clip-path="url(#c11)">
<rect x="1456" y="121" width="104" height="78" fill="#dca2be"/>
<ellipse cx="1497.28" cy="127.67" rx="12.67" ry="6.8" fill="#e8b8cc" transform="rotate(86 1497.28 127.67)" stroke="#6fa3d8" stroke-width="1" stroke-opacity="0.6"/>
<ellipse cx="1490.55" cy="175.31" rx="9.26" ry="11.8" fill="#e8b8cc" transform="rotate(13 1490.55 175.31)" stroke="#6fa3d8" stroke-width="1" stroke-opacity="0.6"/>
<ellipse cx="1463.06" cy="173.6" rx="15.87" ry="11.17" fill="#e8b8cc" transform="rotate(148 1463.06 173.6)" stroke="#6fa3d8" stroke-width="1" stroke-opacity="0.6"/>
<ellipse cx="1471.73" cy="136.46" rx="10.35" ry="7.42" fill="#e8b8cc" transform="rotate(30 1471.73 136.46)" stroke="#6fa3d8" stroke-width="1" stroke-opacity="0.6"/>
<ellipse cx="1487.67" cy="150.43" rx="10.59" ry="10.85" fill="#e8b8cc" transform="rotate(150 1487.67 150.43)" stroke="#6fa3d8" stroke-width="1" stroke-opacity="0.6"/>
<ellipse cx="1469.97" cy="161.7" rx="13.84" ry="6.21" fill="#e8b8cc" transform="rotate(169 1469.97 161.7)" stroke="#6fa3d8" stroke-width="1" stroke-opacity="0.6"/>
<ellipse cx="1514.95" cy="155.96" rx="11.24" ry="11.41" fill="#e8b8cc" transform="rotate(95 1514.95 155.96)" stroke="#6fa3d8" stroke-width="1" stroke-opacity="0.6"/>
<ellipse cx="1501.67" cy="195.34" rx="9.47" ry="8.79" fill="#e8b8cc" transform="rotate(166 1501.67 195.34)" stroke="#6fa3d8" stroke-width="1" stroke-opacity="0.6"/>
<ellipse cx="1543.22" cy="181.73" rx="14.82" ry="6.89" fill="#e8b8cc" transform="rotate(121 1543.22 181.73)" stroke="#6fa3d8" stroke-width="1" stroke-opacity="0.6"/>
<ellipse cx="1508.58" cy="198.88" rx="15.8" ry="8.37" fill="#e8b8cc" transform="rotate(145 1508.58 198.88)" stroke="#6fa3d8" stroke-width="1" stroke-opacity="0.6"/>
<ellipse cx="1493.76" cy="152.78" rx="13.75" ry="11.3" fill="#e8b8cc" transform="rotate(140 1493.76 152.78)" stroke="#6fa3d8" stroke-width="1" stroke-opacity="0.6"/>
<ellipse cx="1476.05" cy="126.13" rx="15.55" ry="9.22" fill="#e8b8cc" transform="rotate(104 1476.05 126.13)" stroke="#6fa3d8" stroke-width="1" stroke-opacity="0.6"/>
<ellipse cx="1529.04" cy="194.56" rx="13.82" ry="9.7" fill="#e8b8cc" transform="rotate(81 1529.04 194.56)" stroke="#6fa3d8" stroke-width="1" stroke-opacity="0.6"/>
<ellipse cx="1527.66" cy="178.22" rx="12.52" ry="11.8" fill="#e8b8cc" transform="rotate(66 1527.66 178.22)" stroke="#6fa3d8" stroke-width="1" stroke-opacity="0.6"/>
<ellipse cx="1549.26" cy="198.8" rx="13.9" ry="8.42" fill="#e8b8cc" transform="rotate(95 1549.26 198.8)" stroke="#6fa3d8" stroke-width="1" stroke-opacity="0.6"/>
<ellipse cx="1494.73" cy="183.54" rx="14.14" ry="7.07" fill="#e8b8cc" transform="rotate(67 1494.73 183.54)" stroke="#6fa3d8" stroke-width="1" stroke-opacity="0.6"/>
<ellipse cx="1535.11" cy="133.65" rx="14" ry="9.36" fill="#e8b8cc" transform="rotate(29 1535.11 133.65)" stroke="#6fa3d8" stroke-width="1" stroke-opacity="0.6"/>
<ellipse cx="1493.73" cy="191.04" rx="8.89" ry="8.86" fill="#e8b8cc" transform="rotate(177 1493.73 191.04)" stroke="#6fa3d8" stroke-width="1" stroke-opacity="0.6"/>
<ellipse cx="1486.13" cy="182.54" rx="4.44" ry="3.33" fill="#faf4f8" transform="rotate(168 1486.13 182.54)" opacity="0.9"/>
<ellipse cx="1533.67" cy="136.92" rx="7.6" ry="1.86" fill="#faf4f8" transform="rotate(144 1533.67 136.92)" opacity="0.9"/>
<ellipse cx="1525.19" cy="168.97" rx="4.36" ry="2.91" fill="#faf4f8" transform="rotate(176 1525.19 168.97)" opacity="0.9"/>
<ellipse cx="1546.43" cy="185.71" rx="3.55" ry="1.61" fill="#faf4f8" transform="rotate(134 1546.43 185.71)" opacity="0.9"/>
<ellipse cx="1503.73" cy="190.69" rx="5.01" ry="3.41" fill="#faf4f8" transform="rotate(2 1503.73 190.69)" opacity="0.9"/>
<ellipse cx="1552.72" cy="143.75" rx="6.47" ry="2.48" fill="#faf4f8" transform="rotate(114 1552.72 143.75)" opacity="0.9"/>
<ellipse cx="1502.14" cy="180.77" rx="7.17" ry="1.9" fill="#faf4f8" transform="rotate(129 1502.14 180.77)" opacity="0.9"/>
<ellipse cx="1511.68" cy="173.16" rx="5.09" ry="2.7" fill="#faf4f8" transform="rotate(30 1511.68 173.16)" opacity="0.9"/>
<ellipse cx="1498.24" cy="187.51" rx="3.06" ry="2.79" fill="#faf4f8" transform="rotate(82 1498.24 187.51)" opacity="0.9"/>
<ellipse cx="1506.07" cy="141.26" rx="6.37" ry="1.41" fill="#faf4f8" transform="rotate(62 1506.07 141.26)" opacity="0.9"/>
<ellipse cx="1465.7" cy="156.42" rx="2.39" ry="2.32" fill="#faf4f8" transform="rotate(91 1465.7 156.42)" opacity="0.9"/>
<ellipse cx="1468.38" cy="128.65" rx="4.31" ry="3.31" fill="#faf4f8" transform="rotate(92 1468.38 128.65)" opacity="0.9"/>
<ellipse cx="1519.55" cy="136.38" rx="6.6" ry="1.2" fill="#faf4f8" transform="rotate(175 1519.55 136.38)" opacity="0.9"/>
<ellipse cx="1519.26" cy="152.93" rx="7.22" ry="1.49" fill="#faf4f8" transform="rotate(65 1519.26 152.93)" opacity="0.9"/>
<ellipse cx="1539.33" cy="188.73" rx="3.78" ry="1.46" fill="#faf4f8" transform="rotate(125 1539.33 188.73)" opacity="0.9"/>
<ellipse cx="1504.04" cy="191" rx="7.91" ry="3.49" fill="#faf4f8" transform="rotate(117 1504.04 191)" opacity="0.9"/>
<ellipse cx="1557.78" cy="178.33" rx="3.43" ry="3.39" fill="#faf4f8" transform="rotate(9 1557.78 178.33)" opacity="0.9"/>
<ellipse cx="1513.62" cy="139.67" rx="6" ry="2.36" fill="#faf4f8" transform="rotate(104 1513.62 139.67)" opacity="0.9"/>
<ellipse cx="1496" cy="159" rx="19.8" ry="18" fill="#f6f0f6" transform="rotate(10 1496 159)" opacity="0.8"/>
<ellipse cx="1496" cy="159" rx="17.64" ry="15.84" fill="#b0a8d8" transform="rotate(10 1496 159)" opacity="0.75"/>
<circle cx="1499.24" cy="151.49" r="1.2" fill="#c0103a"/>
<circle cx="1482.31" cy="159.52" r="1.2" fill="#e8e0f0"/>
<circle cx="1491.56" cy="163" r="1.2" fill="#e8e0f0"/>
<circle cx="1486.31" cy="158.81" r="1.2" fill="#c0103a"/>
<circle cx="1485.47" cy="157.34" r="1.2" fill="#e8e0f0"/>
<circle cx="1490.38" cy="165.63" r="1.2" fill="#e8e0f0"/>
<circle cx="1505.68" cy="153.65" r="1.2" fill="#c0103a"/>
<circle cx="1498.27" cy="155.32" r="1.2" fill="#e8e0f0"/>
<circle cx="1491.67" cy="156.4" r="1.2" fill="#e8e0f0"/>
<circle cx="1499.87" cy="169.02" r="1.2" fill="#c0103a"/>
<circle cx="1495.27" cy="148.73" r="1.2" fill="#e8e0f0"/>
<circle cx="1491.13" cy="162.25" r="1.2" fill="#e8e0f0"/>
<circle cx="1504.5" cy="152.33" r="1.2" fill="#c0103a"/>
<circle cx="1509.4" cy="162.06" r="1.2" fill="#e8e0f0"/>
<circle cx="1498.61" cy="160.14" r="1.2" fill="#e8e0f0"/>
<circle cx="1485.22" cy="166.73" r="1.2" fill="#c0103a"/>
<circle cx="1493.11" cy="164.84" r="1.2" fill="#e8e0f0"/>
<circle cx="1492.15" cy="149.02" r="1.2" fill="#e8e0f0"/>
<circle cx="1505.9" cy="157.57" r="1.2" fill="#c0103a"/>
<circle cx="1486.44" cy="163.62" r="1.2" fill="#e8e0f0"/>
<circle cx="1502.61" cy="162.02" r="1.2" fill="#e8e0f0"/>
<circle cx="1496.78" cy="152.69" r="1.2" fill="#c0103a"/>
<circle cx="1501.69" cy="153.26" r="1.2" fill="#e8e0f0"/>
<circle cx="1498.38" cy="165.69" r="1.2" fill="#e8e0f0"/>
<circle cx="1496.11" cy="167.54" r="1.2" fill="#c0103a"/>
<line x1="1529.8" y1="197.45" x2="1517.09" y2="205.36" stroke="#6fa3d8" stroke-width="2.14" stroke-linecap="round" opacity="0.7"/>
<line x1="1489.33" y1="144.1" x2="1487.54" y2="134.91" stroke="#6fa3d8" stroke-width="2.33" stroke-linecap="round" opacity="0.7"/>
<line x1="1471.39" y1="142.31" x2="1460.49" y2="139.51" stroke="#6fa3d8" stroke-width="1.18" stroke-linecap="round" opacity="0.7"/>
<line x1="1555.42" y1="159.45" x2="1536.66" y2="144.93" stroke="#6fa3d8" stroke-width="2.1" stroke-linecap="round" opacity="0.7"/>
<line x1="1530.72" y1="179.8" x2="1552.79" y2="177.32" stroke="#6fa3d8" stroke-width="1.4" stroke-linecap="round" opacity="0.7"/>
<line x1="1527.75" y1="139.02" x2="1541.38" y2="139.73" stroke="#6fa3d8" stroke-width="2.29" stroke-linecap="round" opacity="0.7"/>
<circle cx="1482.34" cy="194.86" r="1.87" fill="#c0103a" opacity="0.8"/>
<circle cx="1544.99" cy="161.47" r="1.01" fill="#c0103a" opacity="0.8"/>
<circle cx="1557.96" cy="121.89" r="1.74" fill="#c0103a" opacity="0.8"/>
<circle cx="1544.14" cy="162.08" r="1.79" fill="#c0103a" opacity="0.8"/>
<circle cx="1521.14" cy="155.39" r="1.72" fill="#c0103a" opacity="0.8"/>
<circle cx="1518.48" cy="192.68" r="1.48" fill="#c0103a" opacity="0.8"/>
<circle cx="1502.59" cy="191.32" r="1.63" fill="#c0103a" opacity="0.8"/>
<circle cx="1475.68" cy="162.42" r="1.54" fill="#c0103a" opacity="0.8"/>
<circle cx="1503.33" cy="154.17" r="1.68" fill="#c0103a" opacity="0.8"/>
<circle cx="1513.54" cy="131.83" r="1.8" fill="#c0103a" opacity="0.8"/>
<circle cx="1528.21" cy="130.71" r="1.74" fill="#c0103a" opacity="0.8"/>
<circle cx="1534.99" cy="134.83" r="1.52" fill="#c0103a" opacity="0.8"/>
</g>
<rect x="1526" y="194" width="33.5" height="5" fill="#000"/>
<clipPath id="c12"><rect x="1563" y="121" width="101" height="78"/></clipPath><g clip-path="url(#c12)">
<rect x="1563" y="121" width="101" height="78" fill="#e06868"/>
<ellipse cx="1606.88" cy="177.51" rx="12.29" ry="8.98" fill="#ea8682" transform="rotate(149 1606.88 177.51)" stroke="#6fa3d8" stroke-width="1" stroke-opacity="0.6"/>
<ellipse cx="1585.73" cy="197.11" rx="12.14" ry="6.59" fill="#ea8682" transform="rotate(132 1585.73 197.11)" stroke="#6fa3d8" stroke-width="1" stroke-opacity="0.6"/>
<ellipse cx="1586.07" cy="196.89" rx="13.47" ry="7.22" fill="#ea8682" transform="rotate(173 1586.07 196.89)" stroke="#6fa3d8" stroke-width="1" stroke-opacity="0.6"/>
<ellipse cx="1595.52" cy="195.36" rx="8.05" ry="7.79" fill="#ea8682" transform="rotate(112 1595.52 195.36)" stroke="#6fa3d8" stroke-width="1" stroke-opacity="0.6"/>
<ellipse cx="1590.98" cy="147.13" rx="8.83" ry="9.63" fill="#ea8682" transform="rotate(152 1590.98 147.13)" stroke="#6fa3d8" stroke-width="1" stroke-opacity="0.6"/>
<ellipse cx="1593.79" cy="173.44" rx="12.26" ry="10.2" fill="#ea8682" transform="rotate(179 1593.79 173.44)" stroke="#6fa3d8" stroke-width="1" stroke-opacity="0.6"/>
<ellipse cx="1617.32" cy="149.43" rx="11.82" ry="10.28" fill="#ea8682" transform="rotate(179 1617.32 149.43)" stroke="#6fa3d8" stroke-width="1" stroke-opacity="0.6"/>
<ellipse cx="1662.35" cy="144.65" rx="8.76" ry="11.69" fill="#ea8682" transform="rotate(36 1662.35 144.65)" stroke="#6fa3d8" stroke-width="1" stroke-opacity="0.6"/>
<ellipse cx="1631.82" cy="132.42" rx="12.01" ry="10.34" fill="#ea8682" transform="rotate(171 1631.82 132.42)" stroke="#6fa3d8" stroke-width="1" stroke-opacity="0.6"/>
<ellipse cx="1599.26" cy="154.14" rx="14.45" ry="9.11" fill="#ea8682" transform="rotate(19 1599.26 154.14)" stroke="#6fa3d8" stroke-width="1" stroke-opacity="0.6"/>
<ellipse cx="1597.3" cy="139.66" rx="14.06" ry="9.89" fill="#ea8682" transform="rotate(15 1597.3 139.66)" stroke="#6fa3d8" stroke-width="1" stroke-opacity="0.6"/>
<ellipse cx="1613.48" cy="181.3" rx="14.71" ry="10.34" fill="#ea8682" transform="rotate(104 1613.48 181.3)" stroke="#6fa3d8" stroke-width="1" stroke-opacity="0.6"/>
<ellipse cx="1612.05" cy="195.27" rx="11.72" ry="7.53" fill="#ea8682" transform="rotate(54 1612.05 195.27)" stroke="#6fa3d8" stroke-width="1" stroke-opacity="0.6"/>
<ellipse cx="1600.83" cy="152.71" rx="10.18" ry="8.26" fill="#ea8682" transform="rotate(154 1600.83 152.71)" stroke="#6fa3d8" stroke-width="1" stroke-opacity="0.6"/>
<ellipse cx="1578.43" cy="131.19" rx="9.82" ry="7.03" fill="#ea8682" transform="rotate(177 1578.43 131.19)" stroke="#6fa3d8" stroke-width="1" stroke-opacity="0.6"/>
<ellipse cx="1647.13" cy="185.36" rx="8.01" ry="10.03" fill="#ea8682" transform="rotate(131 1647.13 185.36)" stroke="#6fa3d8" stroke-width="1" stroke-opacity="0.6"/>
<ellipse cx="1583" cy="141.63" rx="12.09" ry="8.4" fill="#ea8682" transform="rotate(72 1583 141.63)" stroke="#6fa3d8" stroke-width="1" stroke-opacity="0.6"/>
<ellipse cx="1616.15" cy="182.3" rx="14.15" ry="11.24" fill="#ea8682" transform="rotate(146 1616.15 182.3)" stroke="#6fa3d8" stroke-width="1" stroke-opacity="0.6"/>
<ellipse cx="1582.06" cy="169.6" rx="3.46" ry="2.37" fill="#ffffff" transform="rotate(66 1582.06 169.6)" opacity="0.9"/>
<ellipse cx="1656.02" cy="157.17" rx="4.86" ry="1.74" fill="#ffffff" transform="rotate(91 1656.02 157.17)" opacity="0.9"/>
<ellipse cx="1623.06" cy="130.11" rx="7.73" ry="2.28" fill="#ffffff" transform="rotate(42 1623.06 130.11)" opacity="0.9"/>
<ellipse cx="1647.25" cy="124.86" rx="6.24" ry="1.95" fill="#ffffff" transform="rotate(169 1647.25 124.86)" opacity="0.9"/>
<ellipse cx="1570.3" cy="191.07" rx="5.78" ry="2.78" fill="#ffffff" transform="rotate(75 1570.3 191.07)" opacity="0.9"/>
<ellipse cx="1596.15" cy="167.55" rx="3.73" ry="3.25" fill="#ffffff" transform="rotate(94 1596.15 167.55)" opacity="0.9"/>
<ellipse cx="1640.16" cy="178.96" rx="3.24" ry="2.2" fill="#ffffff" transform="rotate(13 1640.16 178.96)" opacity="0.9"/>
<ellipse cx="1573.57" cy="126.4" rx="7.88" ry="2.16" fill="#ffffff" transform="rotate(70 1573.57 126.4)" opacity="0.9"/>
<ellipse cx="1634.84" cy="138.05" rx="2.66" ry="1.19" fill="#ffffff" transform="rotate(25 1634.84 138.05)" opacity="0.9"/>
<ellipse cx="1592.18" cy="139.53" rx="4.71" ry="1.83" fill="#ffffff" transform="rotate(160 1592.18 139.53)" opacity="0.9"/>
<ellipse cx="1615.83" cy="188.81" rx="5.45" ry="2.39" fill="#ffffff" transform="rotate(177 1615.83 188.81)" opacity="0.9"/>
<ellipse cx="1569.25" cy="194.76" rx="7.28" ry="1.15" fill="#ffffff" transform="rotate(7 1569.25 194.76)" opacity="0.9"/>
<ellipse cx="1598.46" cy="142.91" rx="5.92" ry="1.83" fill="#ffffff" transform="rotate(130 1598.46 142.91)" opacity="0.9"/>
<ellipse cx="1614.26" cy="148.96" rx="3.46" ry="2.64" fill="#ffffff" transform="rotate(33 1614.26 148.96)" opacity="0.9"/>
<ellipse cx="1612.76" cy="137.11" rx="5.93" ry="2.69" fill="#ffffff" transform="rotate(84 1612.76 137.11)" opacity="0.9"/>
<ellipse cx="1641.33" cy="178.47" rx="2.33" ry="2.46" fill="#ffffff" transform="rotate(90 1641.33 178.47)" opacity="0.9"/>
<ellipse cx="1622.53" cy="157.81" rx="7.14" ry="2.85" fill="#ffffff" transform="rotate(134 1622.53 157.81)" opacity="0.9"/>
<ellipse cx="1571.48" cy="151.87" rx="3.33" ry="3.41" fill="#ffffff" transform="rotate(100 1571.48 151.87)" opacity="0.9"/>
<ellipse cx="1570.73" cy="176.86" rx="2.1" ry="2.03" fill="#ffffff" transform="rotate(29 1570.73 176.86)" opacity="0.9"/>
<ellipse cx="1578.06" cy="175.84" rx="7.71" ry="1.65" fill="#ffffff" transform="rotate(43 1578.06 175.84)" opacity="0.9"/>
<ellipse cx="1663.32" cy="193.75" rx="6.97" ry="2.94" fill="#ffffff" transform="rotate(35 1663.32 193.75)" opacity="0.9"/>
<ellipse cx="1568.46" cy="133.07" rx="5.4" ry="1.07" fill="#ffffff" transform="rotate(125 1568.46 133.07)" opacity="0.9"/>
<ellipse cx="1566.74" cy="197.79" rx="6.43" ry="2.81" fill="#ffffff" transform="rotate(76 1566.74 197.79)" opacity="0.9"/>
<ellipse cx="1640.46" cy="190.67" rx="5.93" ry="2.13" fill="#ffffff" transform="rotate(109 1640.46 190.67)" opacity="0.9"/>
<ellipse cx="1643.92" cy="126.06" rx="5.84" ry="1.31" fill="#ffffff" transform="rotate(94 1643.92 126.06)" opacity="0.9"/>
<ellipse cx="1566.48" cy="186.08" rx="4.61" ry="2.47" fill="#ffffff" transform="rotate(114 1566.48 186.08)" opacity="0.9"/>
<ellipse cx="1609.01" cy="149.56" rx="7.02" ry="1.81" fill="#ffffff" transform="rotate(86 1609.01 149.56)" opacity="0.9"/>
<ellipse cx="1611.64" cy="138.83" rx="7.8" ry="3.07" fill="#ffffff" transform="rotate(166 1611.64 138.83)" opacity="0.9"/>
<ellipse cx="1590.77" cy="177.24" rx="7.32" ry="2.57" fill="#ffffff" transform="rotate(168 1590.77 177.24)" opacity="0.9"/>
<ellipse cx="1592.48" cy="184.18" rx="3.99" ry="2.77" fill="#ffffff" transform="rotate(34 1592.48 184.18)" opacity="0.9"/>
<ellipse cx="1570.09" cy="163.05" rx="6.63" ry="1.64" fill="#ffffff" transform="rotate(134 1570.09 163.05)" opacity="0.9"/>
<ellipse cx="1578.24" cy="197.39" rx="4.03" ry="2.5" fill="#ffffff" transform="rotate(41 1578.24 197.39)" opacity="0.9"/>
<ellipse cx="1626.58" cy="126.15" rx="7.21" ry="1.68" fill="#ffffff" transform="rotate(112 1626.58 126.15)" opacity="0.9"/>
<ellipse cx="1624.78" cy="189.89" rx="7.02" ry="3.18" fill="#ffffff" transform="rotate(134 1624.78 189.89)" opacity="0.9"/>
<ellipse cx="1605" cy="161" rx="16.5" ry="15" fill="#f6f0f6" transform="rotate(10 1605 161)" opacity="0.8"/>
<ellipse cx="1605" cy="161" rx="14.7" ry="13.2" fill="#b0a8d8" transform="rotate(10 1605 161)" opacity="0.75"/>
<circle cx="1607.96" cy="163.63" r="1.2" fill="#c0103a"/>
<circle cx="1602.61" cy="165.89" r="1.2" fill="#e8e0f0"/>
<circle cx="1607.66" cy="161.95" r="1.2" fill="#e8e0f0"/>
<circle cx="1607.85" cy="167.34" r="1.2" fill="#c0103a"/>
<circle cx="1599.19" cy="169.72" r="1.2" fill="#e8e0f0"/>
<circle cx="1612.99" cy="155.82" r="1.2" fill="#e8e0f0"/>
<circle cx="1598.91" cy="170.17" r="1.2" fill="#c0103a"/>
<circle cx="1593.88" cy="164.31" r="1.2" fill="#e8e0f0"/>
<circle cx="1603.11" cy="167.07" r="1.2" fill="#e8e0f0"/>
<circle cx="1604.62" cy="154.05" r="1.2" fill="#c0103a"/>
<circle cx="1594.66" cy="155.62" r="1.2" fill="#e8e0f0"/>
<circle cx="1609.43" cy="156.46" r="1.2" fill="#e8e0f0"/>
<circle cx="1597.88" cy="154.06" r="1.2" fill="#c0103a"/>
<circle cx="1607.09" cy="169.74" r="1.2" fill="#e8e0f0"/>
<circle cx="1602.78" cy="154.17" r="1.2" fill="#e8e0f0"/>
<circle cx="1608.4" cy="159.84" r="1.2" fill="#c0103a"/>
<circle cx="1606.23" cy="159.24" r="1.2" fill="#e8e0f0"/>
<circle cx="1599.13" cy="160.81" r="1.2" fill="#e8e0f0"/>
<circle cx="1601.11" cy="165.85" r="1.2" fill="#c0103a"/>
<circle cx="1613.72" cy="168.13" r="1.2" fill="#e8e0f0"/>
<circle cx="1595.51" cy="158.5" r="1.2" fill="#e8e0f0"/>
<circle cx="1615.76" cy="162.21" r="1.2" fill="#c0103a"/>
<circle cx="1606.37" cy="164.04" r="1.2" fill="#e8e0f0"/>
<circle cx="1607.24" cy="158.81" r="1.2" fill="#e8e0f0"/>
<circle cx="1605.27" cy="170.67" r="1.2" fill="#c0103a"/>
<line x1="1635.66" y1="137.74" x2="1639.38" y2="128.8" stroke="#6fa3d8" stroke-width="1.16" stroke-linecap="round" opacity="0.7"/>
<line x1="1617.34" y1="168.38" x2="1614.73" y2="159.26" stroke="#6fa3d8" stroke-width="2.5" stroke-linecap="round" opacity="0.7"/>
<line x1="1657.46" y1="121.61" x2="1680.63" y2="124.95" stroke="#6fa3d8" stroke-width="1.6" stroke-linecap="round" opacity="0.7"/>
<line x1="1633.48" y1="147.72" x2="1629.26" y2="133.09" stroke="#6fa3d8" stroke-width="1.51" stroke-linecap="round" opacity="0.7"/>
<circle cx="1588.88" cy="177.49" r="1.06" fill="#c0103a" opacity="0.8"/>
<circle cx="1658.47" cy="194.29" r="1.68" fill="#c0103a" opacity="0.8"/>
<circle cx="1588.42" cy="173.44" r="1.74" fill="#c0103a" opacity="0.8"/>
<circle cx="1612.61" cy="124.4" r="0.85" fill="#c0103a" opacity="0.8"/>
<circle cx="1620.79" cy="121.56" r="1.97" fill="#c0103a" opacity="0.8"/>
<circle cx="1604.05" cy="191.25" r="1.93" fill="#c0103a" opacity="0.8"/>
</g>
<rect x="1630" y="194" width="33.5" height="5" fill="#000"/>
<rect x="1019.5" y="207.5" width="109.5" height="99.5" fill="#1c0707"/>
<ellipse cx="1065.5" cy="267" rx="14.5" ry="27" fill="#c01a1a" opacity="0.15"/>
<path d="M1059.24 258.79Q1058.39 260.03 1057.24 260.41M1056.23 276.01Q1054.37 276.92 1053.13 278M1069.53 275.91Q1070.77 274.56 1071.77 273.49M1053.14 264.8Q1052.01 268.54 1049.26 270.06M1052.26 257.82Q1050.81 259.81 1051.27 261.73M1069.16 247.82Q1066.07 250.87 1062.61 250.66M1065.62 243.13Q1066.33 241.68 1067.6 241.42M1064.48 250.51Q1064 254.15 1065.34 256.75M1074.17 254.07Q1074.51 258.63 1075.44 262.16M1067.42 259.49Q1064.24 260.43 1062.4 262.35M1065.7 245.99Q1065.94 243.1 1067.95 241.91M1077.73 281.41Q1075.51 282.43 1074.48 284.08M1075.24 273.2Q1073.68 272.1 1073.54 270.57M1067.51 258.24Q1068.9 256.56 1070.06 255.25M1073.38 266.45Q1070.52 268.49 1070.16 271.28M1055.79 267.76Q1058.62 267.63 1060.73 268.44M1065.74 268.05Q1066.79 269.53 1068.22 269.81M1077.13 275.47Q1075.47 277.45 1074.51 279.27M1058.3 271.6Q1055.33 270.12 1052.67 270M1060.77 266.79Q1059.71 268.74 1059.4 270.49M1062 283.84Q1058.55 281.97 1055.52 282.77M1070.83 267.48Q1071.43 265.43 1072.81 264.42M1070.3 288.93Q1067.62 285.27 1065.89 282.09M1059.85 284.24Q1058.42 286.2 1056.81 287.27M1065.54 292.69Q1067.58 294.33 1068.89 295.96M1064.36 282.86Q1065.49 286.1 1067.72 287.7M1059.13 244.3Q1060.58 245.41 1062.03 245.25M1067.43 269.72Q1063.74 269.52 1061.02 270.66M1059.66 278.68Q1059.71 276 1058.21 274.47M1059.41 279.61Q1057.68 280.4 1056.91 281.71M1064.28 260.76Q1065.73 262.43 1067.5 262.44M1060.55 261.56Q1056.14 261.7 1054.22 264.67M1058.44 290.08Q1062.15 288 1063.33 284.8M1068.59 272.46Q1071.45 269.73 1071.44 266.58M1073.82 276.06Q1071.89 277.62 1070.57 279.1M1071.55 264.45Q1072.88 268.31 1073.63 271.49M1063.38 267.54Q1061.22 263.24 1060.03 259.59M1075.98 260.86Q1075.02 262.4 1075.03 263.85M1079.27 265.22Q1081.18 261.69 1082.67 258.84M1078.3 279Q1082.04 276.87 1085.48 276.88M1056.91 278.73Q1058.69 278.14 1060.09 278.67M1067.13 286.65Q1065.26 288.01 1063.52 288.65M1062.49 283.2Q1066.13 280.11 1069.9 279.57M1069.67 257.5Q1066.89 255.24 1066.9 252.38M1077.25 272.63Q1073.59 271.71 1070.62 271.13M1054.66 255.01Q1053.5 252.22 1051.92 250.39M1074.71 256.44Q1072.4 260.37 1068.88 261.33M1051.68 272.74Q1054.9 275.64 1057.58 277.83M1060.48 273.68Q1062.86 274.57 1063.35 276.54M1073.12 287.68Q1072.04 291.58 1072.47 294.8M1069.92 253.42Q1068 254.01 1066.41 254.12M1076.45 267.02Q1074.46 266.44 1073.38 265.18M1067.35 255.68Q1063.56 257.77 1060.93 260.02M1057.86 262.88Q1060.88 261.73 1063.41 262.31M1064.14 272.05Q1068.22 272.78 1071.4 273.73M1054.34 251.34Q1055.26 247.48 1056.25 244.46M1056.83 272.06Q1061.67 272.68 1065.06 274.61M1068.27 282.59Q1070.55 284.81 1073.09 284.88M1056.74 246.06Q1056.69 247.98 1056.48 249.5M1060.87 271.35Q1057.99 268.73 1055.21 267.31M1057.72 262.96Q1056.64 265.43 1057.38 267.46M1066.29 264.1Q1065.67 260.79 1065.57 258.11M1069.93 284Q1065.8 284.47 1062.51 284.01M1064.82 280.08Q1060.8 282.78 1056.97 283.31M1065.78 265.22Q1062.53 261.52 1058.69 260.62M1053.81 259.77Q1055.93 260.26 1057.46 259.41M1075.7 268.88Q1079.04 272.59 1079.57 276.55M1065.51 265.05Q1061.69 262.1 1057.87 261.58M1078.32 264.24Q1078.99 261.42 1080.09 259.38M1059.51 274.19Q1061.75 272.48 1063.98 272.81M1066.41 252.58Q1068.18 254.83 1069.12 256.92M1076.59 264.73Q1076.1 268.55 1076.41 271.62M1063.65 263.86Q1059.34 264.22 1056.04 265.25M1053.3 260.97Q1051.29 257.53 1048.22 256.69M1072.69 256.33Q1073.23 259.51 1074.47 261.78M1064.85 247.41Q1066.35 249.13 1068.17 248.94M1078.8 276.51Q1079.25 272.38 1076.74 270.21M1064.17 254.99Q1065.5 251.18 1067.65 248.76M1058.85 256.58Q1058.12 260.24 1058.13 263.23M1068.31 276.3Q1069.82 275.67 1070.33 274.46M1064.13 249.42Q1060.23 250.72 1057.02 250.03M1076.38 270.9Q1073.65 269.92 1071.33 269.95M1065.3 250.37Q1065.97 246 1065.63 242.48M1073.15 283.04Q1070.71 283.7 1069.45 285.27M1074.43 248.61Q1077.24 250.05 1079.69 250.67M1073.94 247.56Q1070.19 250.09 1066.63 249.48M1060.89 266.96Q1062.71 268.23 1064.14 269.26M1064.85 260.83Q1064.67 257.38 1066.05 254.98M1059.37 259.8Q1055.62 257.71 1054.13 254.61M1058.51 275.98Q1056.01 273.59 1053.24 273.53M1070.07 259.55Q1068.09 259.96 1066.72 260.81M1067.56 284.97Q1064.53 288.78 1061.72 291.48M1068.15 287.54Q1067.43 291.43 1065.45 293.9M1059.38 288.21Q1062.85 285.04 1066.15 283.23M1060.7 264.91Q1064.27 265.42 1065.72 267.92M1072.4 248.54Q1071.24 247.33 1070.43 246.26M1066.22 273.84Q1067.17 275.14 1067.78 276.27M1068.86 275.91Q1066.34 272.46 1064.69 269.47M1056.96 276.9Q1058.73 273.73 1060.77 271.66M1074.41 280.2Q1072.07 281.27 1070.14 280.54" fill="none" stroke="#c01a1a" stroke-width="1.1" stroke-linecap="round"/>
<rect x="1093" y="299" width="34" height="4.5" fill="#fff"/>
<rect x="1132" y="207.5" width="107" height="99.5" fill="#2a2525"/>
<ellipse cx="1192" cy="257" rx="27" ry="30" fill="#a02222" opacity="0.1"/>
<path d="M1173.01 272.59Q1169.89 273.41 1168.07 275.23M1186.16 245.49Q1186.37 250.39 1183.35 252.88M1205.74 267.43Q1209.01 266.38 1211.56 267.4M1184.44 278.21Q1186.49 282.22 1185.9 285.77M1202.08 229.87Q1201.91 227.61 1201.61 225.81M1214.19 249.93Q1215.65 249.38 1216.85 249.73M1186.43 285.7Q1188.36 284.94 1189.98 284.64M1215.54 260.94Q1217.89 262.08 1219.93 261.63M1206.31 266.68Q1208.5 265.46 1209.98 264.11M1192.75 257.66Q1195.85 260.16 1195.77 263.33M1192.09 235.62Q1191.43 239.07 1189.08 240.59M1188.9 265.76Q1191.23 263.12 1194.04 263.38M1183.69 265.74Q1186.12 267.69 1187.73 269.61M1194.52 271.2Q1198.52 269.74 1201.91 269.37M1186.76 285.46Q1183.38 284.29 1180.54 283.89M1198.31 243.49Q1197.01 245.09 1196.51 246.67M1196.03 264.48Q1196.21 268.42 1194.22 270.86M1177.76 235.09Q1181.34 236.48 1183.05 239.04M1207.68 260.05Q1203.46 258.69 1201.95 255.48M1168.91 255.32Q1167.34 257.75 1165.6 259.27M1177.66 258.99Q1174.3 261.63 1170.97 260.9M1176.16 255.42Q1171.43 254.4 1167.56 254.45M1178.18 244.36Q1178.35 245.98 1178.99 247.11M1179.18 244.76Q1177.55 247.23 1175.38 248.17M1185.84 265.6Q1186.37 263.45 1186.16 261.69M1187.86 264.73Q1189.44 264.3 1189.9 263.07M1192 269.56Q1193.55 267.68 1193.18 265.76M1208.65 251.52Q1205.49 251.22 1203.84 249.3M1200.91 273.52Q1200.24 271.46 1198.93 270.34M1205.08 241.36Q1209.4 238.93 1213.29 238.14M1206.85 258.8Q1203.1 257.87 1200.33 256.54M1196.44 263.35Q1195.49 260.3 1193.06 259.51M1195.2 242.75Q1192.82 241.6 1191.15 240.3M1200.97 278.02Q1198.99 281.98 1195.56 282.85M1200.94 231.92Q1198.02 230.1 1195.5 231.2M1165.12 259.72Q1169.77 261.28 1170.9 265.04M1199.35 272.96Q1199.9 274.99 1199.94 276.67M1199.62 243.01Q1195.5 242.69 1192.72 244.46M1210.98 272.95Q1213.99 272.23 1215.99 270.78M1212.25 273.38Q1216.47 273.05 1219.53 271.6M1199 248.81Q1196.37 245.12 1193.2 243.34M1202.12 274.3Q1198.28 274.33 1196.18 272.09M1196.31 273.02Q1197.54 274.22 1197.76 275.57M1198.3 232.94Q1195.46 232.31 1193.33 233.25M1213.03 265.75Q1213.05 263.66 1214.27 262.51M1204.52 261.52Q1205.31 263.3 1204.59 264.69M1180.51 237.92Q1178.5 235.93 1176.9 234.32M1194.91 269.23Q1194.14 271.38 1193.52 273.1M1185.01 251.26Q1184.54 248.78 1184.49 246.77M1206.02 266.75Q1208.59 264.1 1209.15 261.21M1203.29 274.93Q1207.56 275.78 1210.97 275.08M1183.64 244.46Q1184.97 243.46 1186.24 243.09M1192.56 263.71Q1190.47 262.44 1189.36 260.83M1193.8 256.96Q1195.14 253.68 1194.2 251.01M1191.24 285.56Q1194.25 283.41 1195.38 280.68M1209.43 236.95Q1212.56 237.25 1214.19 239.17M1199.11 231.49Q1198 227.89 1195.39 226.37M1215.64 266.67Q1212.83 264.2 1211.47 261.54M1200.29 281.15Q1203.95 278.15 1206.13 275.07M1200.62 276.17Q1201.85 274.48 1203.52 274.57M1174.83 268.76Q1170.26 267.25 1167.08 265.08M1205.2 243.48Q1209.65 244.45 1212.76 246.35M1200.52 240.19Q1202.32 238.56 1204.15 237.89M1195.95 257.7Q1200.4 258.41 1203.58 260.1M1169.12 268.25Q1170.37 266.65 1171.44 265.43M1180.86 246.48Q1178.64 247.71 1178.35 249.73M1177.95 265.16Q1180.7 263.76 1183.1 264.36M1201.14 277.17Q1201.26 274.05 1200.57 271.65M1182.66 274.5Q1185.47 276.33 1187.55 278.01M1193.87 234.27Q1190.64 236.39 1188.22 238.33M1169.67 269.11Q1172.54 267.55 1173.68 265.18M1192.37 256.92Q1192.23 258.79 1192.06 260.28M1170.08 251.98Q1166.99 249.12 1163.63 249.34M1200.15 247.11Q1197.26 243.3 1193.45 242.93M1170.14 272.25Q1166.84 273.1 1164.7 271.42M1201.88 250.59Q1202.8 248.35 1203.2 246.46M1192.75 254.67Q1191.47 256.46 1189.92 257.3M1201.86 253.5Q1202.05 251.98 1202.09 250.76M1182.52 240.91Q1180.26 241.55 1179.02 242.96M1190.37 245.46Q1191.84 244.4 1193.25 244.7M1212.91 266.17Q1215.2 268.18 1215.43 270.6M1200.78 258.85Q1202.08 260.44 1203.72 260.5M1180.42 241.63Q1181.07 245.21 1179.19 247.42M1200.71 277.01Q1202.76 277.09 1204.34 277.55M1207.67 260.94Q1203.98 260.21 1202.01 257.94M1197.4 238.38Q1197.21 234.65 1196.48 231.74M1211.24 273.31Q1214.29 270.39 1214.31 267.01M1182.21 243.79Q1182.18 239.38 1182.38 235.86M1213.95 257.81Q1217.64 257.25 1220.62 257.5M1168.22 270.11Q1165.48 266.03 1161.6 265.4M1171.05 239.85Q1174.85 240.72 1177.44 242.45M1214.34 265.66Q1218.49 267.92 1221.19 270.58M1194.62 235.47Q1192.15 231.95 1189.81 229.44M1184.35 249.6Q1181.81 253.91 1181.13 257.84M1202.04 284.09Q1203.57 287.16 1203.97 289.87M1198.44 236.48Q1202.83 237.16 1204.89 240.05M1197.48 253.74Q1195.73 253.46 1194.35 253.16M1177.7 259.72Q1176.08 256.81 1175.38 254.24M1174.96 264.56Q1172.25 267.96 1168.96 269.1M1201.08 257.78Q1199.24 253.39 1200.52 249.8M1174.17 264.49Q1170.55 263.6 1168.54 261.39M1182.3 244.9Q1181.96 248.02 1180.05 249.66M1197.07 250.2Q1198.58 245.49 1202.31 244.17M1168.51 255.28Q1169.58 256.73 1169.52 258.17M1173.3 273.62Q1176.06 274.22 1178.12 273.29M1188.97 285.52Q1189.12 283.24 1189.5 281.44M1197.61 230.87Q1201.35 231.69 1203.87 229.94M1191.88 248.32Q1188.97 245.84 1186.13 244.72M1178.69 274.06Q1177.55 271.93 1177.69 269.99M1199.88 260.02Q1200.76 261.64 1202.21 261.87" fill="none" stroke="#a02222" stroke-width="1.2" stroke-linecap="round"/>
<rect x="1203" y="299" width="34" height="4.5" fill="#fff"/>
<rect x="1241" y="207.5" width="109" height="99.5" fill="#040101"/>
<ellipse cx="1298" cy="260.5" rx="37" ry="25.5" fill="#bc1616" opacity="0.08"/>
<path d="M1322.93 256.68Q1319.53 257.22 1317.58 259.15M1318.69 263.93Q1319.2 260.7 1318.78 258.13M1307.81 259.2Q1311.55 259.89 1314.37 258.76M1323.39 278.59Q1319.73 277.3 1318.23 274.58M1317.7 256.31Q1316.57 260.69 1314.36 263.54M1307.74 247.97Q1307.26 244.2 1304.79 242.44M1299.03 250.94Q1299.17 253.45 1300.11 255.23M1319 255.13Q1321.94 258.53 1325.31 259.78M1321.55 261.69Q1316.77 261.08 1313.5 259.01M1301.52 264.52Q1303.7 263.85 1305.52 264.03M1326.71 251.15Q1327.58 253.4 1327.85 255.31M1313.08 273.31Q1313.03 276.7 1310.82 278.25M1330.95 269.22Q1332.56 268.89 1333.78 268.4M1314.17 276.17Q1311.01 278.58 1308.57 280.63M1289.58 250.32Q1288.76 247.86 1287.93 245.96M1309.53 246.95Q1305.66 245.81 1302.51 246.56M1280.83 274.03Q1279.93 271 1280.09 268.48M1292.58 250.22Q1296.47 247.9 1298.94 245.24M1317.36 251.06Q1319.62 251.99 1321.04 253.35M1287.04 242.13Q1289.49 243.83 1291.7 242.92M1276.92 247.1Q1278.59 242.56 1280.26 239.07M1300.77 260.23Q1296.01 259.84 1292.19 259.78M1283.24 251.41Q1285.62 249.19 1288.06 248.25M1318.68 251.85Q1316.54 252.02 1314.98 251.32M1287.34 278.22Q1284.82 281.14 1285.7 284.09M1293.39 248.51Q1298.33 248.89 1301.84 250.74M1268.5 248.32Q1271.65 245.17 1275.01 244.01M1281.17 242.78Q1277.13 243.28 1274.1 244.46M1308.15 273.28Q1310.84 271.33 1311.94 268.91M1322.4 246.35Q1321.13 243.94 1322.12 241.99M1321.46 246.18Q1319.47 247.97 1318.23 249.72M1293.72 276.09Q1293.29 271.69 1291.49 268.65M1283.48 245Q1283.67 246.83 1284.48 248.06M1323.93 270.26Q1321.46 273.05 1318.48 272.98M1286.57 265.69Q1283.97 267.19 1283.03 269.39M1280.09 277.04Q1283.16 279.09 1284.97 281.42M1290.4 257Q1289.82 254.57 1290.5 252.69M1302.15 247.6Q1297.67 246.59 1294.51 244.73M1293.13 272.96Q1294.5 274.41 1295.04 275.91M1322.49 271Q1321.23 273.7 1320.44 275.94M1314.29 245.34Q1311.67 243.81 1309.78 242.28M1312.86 262.58Q1314.53 258.3 1317.05 255.62M1326.78 255.68Q1329.36 252.94 1329.66 249.94M1268.5 268.35Q1267.3 266.62 1265.62 266.43M1315.64 266.27Q1316.61 262.41 1317.06 259.26M1287.99 247.77Q1289.03 250.23 1290.24 251.98M1324.11 253.77Q1321.32 252.51 1319.36 251.06M1296.22 243.37Q1295.28 246.64 1293.38 248.58M1321.54 251.3Q1320.29 252.66 1319 253.39M1312.11 281.99Q1313.77 280.97 1315.33 280.87M1275.02 251.61Q1270.4 251.94 1267.69 249.4M1308.1 259.8Q1303.42 259.29 1300.8 256.58M1317.63 278.63Q1316.63 275.6 1315.31 273.41M1319.21 271.33Q1315.95 274.74 1314.37 278.17M1293.03 245.09Q1291.76 246 1291.33 247.16M1315.99 244.41Q1312.39 245.23 1310.06 247.06M1269.33 269.87Q1268.24 267.42 1266.48 266.2M1284.69 284.01Q1283.96 286.39 1283.34 288.29M1307.44 236.92Q1309.86 236.6 1311.79 236.34M1299.99 264.27Q1298.81 265.93 1298.2 267.45M1274.24 244.43Q1279.11 243.83 1282.85 245.04M1277.6 243.16Q1275.59 247.44 1273.77 250.76M1324.04 271.22Q1328.75 269.87 1332.56 269M1270.66 248.45Q1272.44 246.83 1273.39 245.15M1307.9 246.86Q1311.02 245.05 1311.63 242.23M1298.74 249.59Q1296.97 252.76 1295.53 255.28M1317.41 276.11Q1318.17 280.32 1317.94 283.73M1318.73 254.45Q1320.81 255.7 1322.55 256.55M1327.23 246.11Q1326.17 243.38 1323.91 242.76M1286.71 281.89Q1284.02 278.14 1280.74 276.45M1284.56 263.72Q1282.97 263.16 1281.99 262.23M1289.19 263.63Q1292.02 260.16 1293.75 257.02M1315.84 264.71Q1318.54 266.57 1319.44 269.03M1333.98 260.85Q1337.2 263.11 1337.61 266.23M1287.86 268.7Q1292.06 271.12 1295.19 273.42M1279.6 269.91Q1278.1 272.85 1277.64 275.45M1301.51 251.66Q1297.7 253.7 1294.35 252.82M1305.18 254.04Q1307.7 257.15 1308.45 260.27M1276.5 245.07Q1277.38 246.35 1277.35 247.59M1317.08 272.13Q1318.33 273.52 1318.01 274.98M1277.34 251.28Q1280 254.5 1283.16 255.6M1269.71 246.19Q1273 245.55 1274.56 243.36M1277.97 248.52Q1279.04 245.36 1279.91 242.84M1307.16 259.78Q1308.09 260.97 1308.89 261.89M1289.11 255.49Q1288.9 259.13 1290.74 261.38M1275.48 249.72Q1276.28 252.87 1278.3 254.49M1294.94 237.41Q1298.58 236.64 1300.34 234.24M1286.92 238.65Q1289.48 239.11 1291.38 238.27M1294.98 260.05Q1298.47 256.57 1299.78 252.85M1309.84 245.63Q1307.33 246.34 1305.65 247.6M1271.22 264.18Q1274.26 264.89 1276.54 263.87M1323.73 259.08Q1325.29 261.76 1327.58 262.7M1322.34 250.78Q1325.27 252.43 1327.68 253.63M1287.73 272.09Q1286.23 271.66 1285.18 272.33M1275.55 270.9Q1272.36 271.5 1271.05 273.74M1295.73 256.73Q1296.39 259.35 1298.38 260.2M1321.35 266.96Q1319.16 267.42 1317.38 267.48M1289.55 249.72Q1290.69 251.23 1291.86 252.19M1298.33 279.26Q1299.63 278.04 1299.99 276.65M1298.26 264.15Q1302.54 265.12 1306.02 265.67M1306.35 275.78Q1306.62 271.86 1305.88 268.81M1289.28 259.11Q1286.39 262.41 1283.56 264.48M1325.07 272.9Q1329.94 272.24 1333.03 269.8M1320.22 269.31Q1322.21 270.46 1323.96 269.91M1318.28 239.21Q1322.88 239.71 1326.09 241.55M1288.18 261.37Q1286.48 262.51 1285.07 263.34M1317.31 251.75Q1315.92 252.75 1315.44 254.03M1333.34 261.54Q1333.88 263.62 1334.5 265.22M1297.55 247.06Q1298.99 242.48 1297.84 238.81M1270.88 259.89Q1270.68 257.89 1271.25 256.38M1315.26 254.18Q1317.08 252.59 1317.58 250.73M1277.97 260.88Q1276.24 261.04 1274.86 261.07M1302.7 243.56Q1297.84 242.7 1294.79 240.19M1310.87 263.98Q1309.23 260.15 1305.95 259.55M1321.2 266.29Q1325.26 268.87 1327.1 272.24M1316.42 249.95Q1319.17 251.39 1321 253.07M1306.19 251.35Q1310.18 252.1 1311.54 255.05M1306.81 265.03Q1303.91 266.06 1301.46 266.08M1289.11 277.38Q1291.44 276.14 1293.54 276.33M1290.82 253.33Q1290.94 251.38 1291.85 250.11M1311.2 268.81Q1307.31 269.09 1304.39 268M1303.21 246.49Q1306.76 244.08 1309.78 242.47M1278.29 268.53Q1282.1 267.8 1284.63 266.02M1267.94 267.67Q1268.32 270.03 1268.07 271.93M1298.03 255.39Q1301.82 252.6 1304.39 249.85M1300.96 248.31Q1302.51 244.77 1300.83 242.18M1301.85 245.31Q1304.47 248.83 1306.54 251.67M1278.59 263.28Q1281.38 264.56 1282.34 266.82M1281.91 245.07Q1281.06 242.3 1281.39 240.01M1317.6 256.52Q1318.16 253.01 1318.28 250.16M1268.29 255.64Q1264.54 252.92 1263.93 249.25M1320.37 278.9Q1319.47 276.92 1319.73 275.2M1285.85 260.6Q1283.37 264.12 1281.73 267.15M1266.1 250.3Q1262.91 247.38 1260.14 245.32M1285.28 261.93Q1287.16 266.46 1290.63 268.29M1305.91 266.45Q1305.07 270.84 1307.51 273.44M1281.61 237.78Q1279.99 237.5 1279.02 236.6M1266.1 253.31Q1267.83 252.6 1268.76 251.43M1306.51 270.74Q1307.53 269.31 1308.13 268.03M1312.48 262.09Q1314.7 260.71 1316.51 259.66" fill="none" stroke="#bc1616" stroke-width="1.1" stroke-linecap="round"/>
<rect x="1314" y="299" width="34" height="4.5" fill="#fff"/>
<rect x="1352.8" y="208" width="99" height="98.5" fill="#190808"/>
<ellipse cx="1402.8" cy="253" rx="21.6" ry="32" fill="#e81e1e" opacity="0.12"/>
<path d="M1423.58 259.2Q1425.76 259.13 1426.9 260.45M1402.01 274.49Q1399.57 276.04 1397.25 276.02M1407.28 240.51Q1405.95 237.37 1405.37 234.71M1411.69 265.59Q1414.55 264.11 1417.1 264.54M1398.22 239.72Q1398.84 244.46 1400.52 247.9M1411.48 272.42Q1410.2 268.34 1411.38 265.12M1397.87 229.32Q1400.17 228.7 1401.6 229.96M1400.45 221.25Q1403.74 218.05 1407.3 217.11M1409.35 229.27Q1410.36 227.61 1410.76 226.1M1390.24 229.43Q1389.83 232.63 1389.23 235.14M1416.63 232.7Q1420.79 229.97 1424.77 230.09M1395.05 254.1Q1399.67 255.24 1401.28 258.69M1396.98 242.67Q1396.55 240.64 1395.09 239.83M1397.68 256.51Q1397.66 258.48 1397.18 259.98M1422.16 257.9Q1421.97 261.6 1420.6 264.23M1411.54 258.42Q1413.53 255.83 1415.74 254.43M1423.21 260.71Q1424.02 262.58 1424.44 264.16M1414.25 261.03Q1412.12 261.72 1410.65 262.75M1392.86 260.99Q1391.11 258.33 1389.39 256.46M1392.55 250.22Q1395.1 251.58 1397.23 252.49M1395.62 252.72Q1393.17 251.82 1391.2 251.15M1396.32 242.64Q1398.91 246.16 1398.21 249.58M1397.51 265.3Q1400.04 264.42 1402.18 264.53M1422.95 241.95Q1423.97 239 1422.6 236.91M1406.46 239.95Q1405.18 237.61 1404.19 235.72M1392.46 247.84Q1394.98 246.45 1395.25 244.17M1419.24 256.18Q1419.17 257.96 1419.75 259.27M1414.91 255.98Q1418.05 252.2 1417.18 248.37M1423.06 250.92Q1425.04 254.96 1427.68 257.42M1412.4 275.55Q1411.74 279.51 1408.9 281.01M1400.29 227.12Q1402.15 224.78 1403.81 223.07M1406.51 223.18Q1408.18 223.7 1409.55 223.38M1412.59 245.29Q1409.94 244.33 1407.9 243.35M1384.6 261.86Q1384.9 258.76 1383.43 256.74M1402.78 232.78Q1404.95 235.24 1404.91 237.86M1414.27 274.27Q1417.59 274.5 1419.06 276.72M1402.75 244.91Q1404.71 244.07 1406.2 243.27M1391.17 245.01Q1392.52 245.7 1393.74 245.72M1411.58 266.31Q1411.81 263.45 1410.08 261.95M1398.11 240.93Q1396.11 244.03 1396.92 246.87M1402.01 246.69Q1400.04 250.58 1401.09 253.91M1388.49 239.35Q1389.56 244.2 1392.95 246.26M1411.56 246.35Q1408.19 244.87 1407.61 241.98M1386.97 237.28Q1387.58 235.22 1388 233.55M1404.16 228.68Q1402.53 229.82 1401.06 230.41M1406.92 268.09Q1404.48 268.72 1402.71 267.75M1418.26 244.21Q1421.82 242.71 1424.74 243.7M1400.16 251Q1399.83 253.69 1399.1 255.74M1397.75 258.58Q1394.41 260.38 1391.81 261.95M1416.87 233.87Q1414.91 233.77 1413.48 233.13M1405.77 268.89Q1409.86 267.65 1413.25 268.05M1387.72 264.72Q1391.63 267.21 1395.19 266.13M1386.45 233.89Q1387.18 238.57 1388.83 241.97M1403.08 234.37Q1401 234.62 1399.33 234.51M1398.75 278.87Q1395.35 279.74 1393.21 281.56M1406.72 251.88Q1404.8 253.64 1403.37 255.16M1401.62 283.07Q1402.5 280.77 1403.42 279.03M1400.42 224.14Q1403.36 224.84 1405.77 225.01M1404.24 253.24Q1405.53 254.45 1405.61 255.86M1402.94 239.05Q1404.69 239.39 1406.11 239.46M1383.48 262.32Q1380.84 261.23 1378.94 259.97M1405.13 266.29Q1403.77 268.09 1402.37 269.22M1385.42 267.13Q1386.12 270.7 1387.58 273.22M1404.34 251.29Q1401.52 251.85 1400.03 253.6M1405.34 222.22Q1403.52 224.03 1402.91 225.98M1402.56 251.85Q1405.21 253.52 1406.63 255.58M1389.98 240.97Q1392.32 244.11 1391.67 247.18M1409.59 242.68Q1406.18 241.91 1404.77 239.5M1392.99 238.02Q1392.36 240.09 1391.8 241.73M1414.37 253.17Q1412.89 250.91 1412.33 248.82M1411.41 261.5Q1415.59 262.99 1419.13 263.25M1410.82 261.4Q1406.2 263.04 1402.67 261.32M1417.32 263.3Q1417.38 266.66 1416.06 268.99M1412.46 272.76Q1415.68 274.76 1417.94 276.77M1398.62 282.73Q1397.24 287.27 1393.8 288.89M1392.42 265.66Q1391.26 262.39 1390.89 259.63M1413.24 249.41Q1416.94 251.97 1420.04 253.8M1409.02 260.14Q1410.44 264.71 1408.63 268.09M1396.38 236.44Q1393.25 235.47 1390.64 235.72M1392.53 273.6Q1394.96 276.48 1397.55 278.03M1383.41 248.45Q1384.2 246.74 1385.37 245.78M1398.07 250.66Q1398.49 248.33 1399.32 246.63M1411.5 271.99Q1412.18 269.32 1410.93 267.5M1400.89 264.24Q1402.65 260.78 1405.72 260.24M1388.9 260.94Q1393.4 259.41 1397.18 259.07M1407.36 273.8Q1408.7 270.35 1407.88 267.5M1400.37 227.77Q1400.78 230.19 1399.36 231.54M1394.63 269.74Q1396.94 269.75 1398.78 269.83M1398.65 239.74Q1399.43 237.04 1399.72 234.8M1395.27 263.75Q1398.74 263.6 1401.08 262.11M1394.06 255.78Q1392.96 257.5 1392.03 258.85M1388.97 241.48Q1391.03 244.76 1393.96 245.76M1403.77 261.7Q1405.07 263.48 1405.09 265.24M1384.13 255.83Q1379.98 255.39 1378.25 252.54M1392.07 251.79Q1390.63 255.88 1389.98 259.28M1395.22 233.24Q1395.6 235.34 1394.46 236.61M1391.58 227.51Q1392.93 228.29 1393.71 229.27M1404.78 224.78Q1406.63 223.49 1407.12 221.76M1399.98 273.36Q1397.11 274.04 1395.49 275.76M1390.95 270.61Q1390.53 275.56 1389.82 279.48" fill="none" stroke="#e81e1e" stroke-width="1.2" stroke-linecap="round"/>
<rect x="1415.8" y="298.5" width="34" height="4.5" fill="#fff"/>
<rect x="1455" y="208" width="110.7" height="100" fill="#0a0101"/>
<ellipse cx="1507" cy="249.4" rx="24.5" ry="33.6" fill="#ff1c1c" opacity="0.3"/>
<path d="M1516.8 264.43Q1512.53 265.78 1510.13 268.45M1501.1 235.01Q1501.55 238.52 1500.48 241.15M1518.05 254.4Q1522.12 256.86 1525.72 258.08M1512.35 266.76Q1515.68 265.77 1517.97 267.36M1499.42 276.05Q1501.92 277.89 1504.36 278.32M1501.21 267Q1502.77 262.26 1500.89 258.73M1496.74 241.68Q1498.43 239.96 1498.25 238.04M1504.8 218.26Q1504.39 219.71 1503.48 220.5M1519.79 254.74Q1521.54 253.21 1523.39 253.04M1508.03 233.94Q1509.59 232.87 1510.21 231.49M1508.15 256.69Q1504.01 258.13 1502.07 261.05M1522.2 252.25Q1523.84 252.28 1525.16 252.23M1491.39 240.35Q1495.92 241.65 1499.06 239.56M1522.2 263.31Q1522.75 267.07 1522.73 270.11M1513.74 252.7Q1515.36 254.55 1517.18 255.3M1502.88 268.24Q1503.08 263.74 1505.3 260.89M1518.75 273.82Q1521.13 272.29 1523.27 271.55M1499.54 227.27Q1499.08 228.78 1499.51 229.96M1505.11 277.77Q1507.02 279.94 1507.32 282.23M1505.57 258.01Q1503.86 260.25 1502.35 261.92M1495.09 225.4Q1491.58 225.94 1489.15 227.42M1497.37 225.04Q1494.81 221.17 1495.39 217.5M1519.21 251.93Q1517.84 249.72 1518.1 247.66M1498.81 239.35Q1499.95 242.74 1500.68 245.51M1528.13 255.57Q1529.89 260.1 1530.07 263.99M1512.99 252.63Q1516.29 254.07 1519.08 254.75M1486.53 257.16Q1481.94 258.07 1480.34 261.45M1503.28 259.07Q1501.79 262 1501.51 264.62M1492.91 247.91Q1494.21 246.56 1494.91 245.24M1513.35 267.46Q1510.92 270.93 1511.88 274.18M1491.17 229.48Q1487.75 230.87 1486.05 233.29M1523.94 259.37Q1525.83 258.64 1527.1 257.65M1499.16 248.76Q1495.76 249.08 1493.27 247.95M1514.42 247.79Q1515.15 252.29 1515.69 255.89M1517.32 236.98Q1514.8 237.97 1513.1 239.32M1497.61 265.65Q1495.14 263.07 1492.28 263.08M1512.86 263.79Q1510.47 265 1508.47 265.77M1528.92 248.79Q1526.64 252.84 1525.66 256.43M1506.89 242.05Q1502.49 240.22 1498.69 239.94M1517.51 224Q1519.23 220.74 1520.03 217.89M1509.94 260.73Q1505.97 263.71 1502.23 262.38M1526.88 229.93Q1528.99 228.05 1530.56 226.42M1492.34 261.18Q1494.8 264.72 1498.19 265.35M1492.82 224.18Q1490.83 219.89 1487.28 218.6M1499.06 246.05Q1497.58 245.47 1496.31 245.53M1502.53 259.56Q1501.3 263.02 1500.63 265.88M1509.4 261.26Q1509.63 258.02 1511.64 256.37M1506.09 242.99Q1505.6 238.75 1506.1 235.37M1498.82 275.88Q1495.75 275.09 1493.68 276.56M1511.9 241.06Q1513.74 239.29 1515.78 239.41M1521.79 227.04Q1526.44 228.58 1530.36 228.56M1508.98 253.47Q1504.99 250.58 1502.52 247.5M1522.48 253.79Q1525.24 253.6 1527.39 253.07M1513.31 274.57Q1513.03 277.61 1512.08 279.86M1494.33 231.46Q1494.01 227.35 1496.01 224.72M1509.12 243.13Q1508.85 244.71 1508.52 245.95M1510.67 249.5Q1512.81 248.69 1514.63 248.87M1502.09 248.09Q1505.56 247.78 1507.32 245.62M1500.23 245.05Q1501.5 249.1 1504.73 250.15M1506.95 274.42Q1505.27 273.19 1504.92 271.57M1529.88 253.38Q1531.83 250.02 1534.12 247.93M1491.29 249.29Q1489.54 251.12 1488.86 253.02M1514 252.47Q1517.3 251.29 1519.91 252.28M1510.72 253.74Q1511.94 252.59 1512.9 251.67M1502.81 279.49Q1502.91 275.31 1505.72 273.49M1489.59 257.09Q1488.44 258.12 1488.45 259.35M1530.42 257.98Q1530.8 254.41 1531.62 251.66M1518.75 237.98Q1522.47 236.91 1525.56 236.66M1496.43 254.55Q1493.38 253.99 1491.08 253.03M1525.34 254.2Q1523.35 252.55 1521.55 251.54M1495.89 237.49Q1495.32 242.15 1493.31 245.33M1501.1 275.82Q1501.48 274.03 1501.91 272.64M1485.44 237.73Q1486.55 234.82 1485.58 232.53M1503.49 217.34Q1504.99 219.29 1505.89 221.04M1499.88 260.26Q1496.16 261.95 1493.83 264.24M1511.73 223.1Q1512.71 226.12 1514.71 227.69M1519.33 274.94Q1517.32 274.21 1516.36 272.79M1519.93 238.67Q1520.68 237.2 1520.28 235.95M1508.35 242.89Q1511.04 238.96 1512.68 235.51M1512.58 222.65Q1512.86 220.85 1513.32 219.46M1492.58 273.05Q1496.3 274.77 1497.09 277.95M1513.69 280.93Q1513.79 278 1512.88 275.84M1521.01 273.37Q1516.41 271.66 1512.68 272.87M1508.11 234.99Q1509.22 231.03 1510.33 227.93M1503.27 241.67Q1501.44 246.3 1501.83 250.27M1488.06 260.09Q1489.21 256.04 1488.98 252.67M1488.5 236.15Q1485.56 233.08 1482.17 232.81M1514.89 250.82Q1516.36 254.34 1519.31 255.1M1505.86 282.5Q1503.81 279.82 1501.32 278.77M1505.5 256.72Q1502 254.67 1501.72 251.44M1506.86 262.6Q1505.37 263.54 1504.27 264.42M1513.97 277.8Q1515.26 279.79 1517.12 280.21M1508.37 271.64Q1506.97 272.44 1505.77 271.96M1526.13 266.29Q1529.48 266.11 1531.52 264.38M1517.84 263.69Q1516.43 260.3 1513.89 258.82M1509.29 226.74Q1512.2 226.56 1514.52 226.84M1518.3 238.78Q1517.57 240.66 1517.28 242.25M1491.05 233.58Q1487.8 235.75 1484.69 235.43M1517.07 257.48Q1516.87 259.56 1517.43 261.14M1490.96 260.44Q1491.34 258.83 1490.8 257.62M1505.54 220.48Q1502.59 217.75 1502.34 214.55M1518.23 269.99Q1519.02 268.1 1518.5 266.54M1498.53 255.09Q1502.36 254.15 1505.02 255.84M1511.33 266.75Q1510.68 261.98 1512.91 258.84M1491.81 260.81Q1494.03 258.01 1494.22 255.15M1522.09 237.68Q1524.57 236.36 1526.82 236.54M1493.65 245.34Q1493.11 249.2 1491.41 251.81M1513.26 243.45Q1512.83 240.57 1512.76 238.24M1523.96 273.44Q1525.75 274.62 1527.46 274.45M1518.74 268.97Q1515.7 267.44 1512.99 267.76M1499.6 243.59Q1498.13 241.5 1496.84 239.91M1507.58 269.91Q1508.79 269.03 1508.86 267.83M1501.42 240.99Q1496.99 241.92 1495.4 245.16M1495.17 264.1Q1498.13 264.12 1499.79 262.43M1529.91 249.77Q1532.11 247.89 1533.34 245.93M1500.16 265.92Q1498.49 268.28 1496.66 269.7M1494.27 270.6Q1497.23 273.08 1500.1 274.23M1528.51 234.62Q1531.07 230.68 1533.25 227.61M1500.01 241.17Q1501.18 245.66 1499.21 248.8M1492.68 253.58Q1494.43 255.12 1496.28 254.88M1512.86 231.18Q1514.52 231.42 1515.86 231.51M1499.04 217.86Q1497.43 219.3 1495.7 219.24M1501.16 224.64Q1501.12 227.26 1501.4 229.34M1489.26 242.08Q1491.05 238.36 1493.99 236.85M1494.63 241.25Q1491.31 242.01 1489.07 243.57M1513.03 260.87Q1511.4 259.4 1510.8 257.75M1498.05 233.24Q1501.25 232.12 1503.47 233.68M1503.79 245.22Q1500.76 243.19 1497.85 242.94M1497.5 230.61Q1495.61 231.38 1494.31 232.37M1509.39 258.76Q1506.74 259.98 1505.38 261.89M1507.45 250.32Q1505.22 253.14 1502.45 253.93M1488.3 259.26Q1489.84 258.83 1490.85 258.03M1506.76 275.13Q1508.56 272.54 1510.19 270.62M1511.86 224.16Q1507.74 223.55 1505.13 221.49M1502.51 220.3Q1506.21 220 1509.18 219.82M1507.85 256.27Q1505.57 258.84 1503.11 260.06M1502.67 217.1Q1501.8 221.4 1498.68 223M1513.34 249.03Q1508.66 248.6 1504.92 248.18M1516.23 227.14Q1517.94 229.35 1519.59 230.88M1485.17 251.05Q1485.92 253.96 1484.52 255.91M1493.99 270.14Q1490.03 270.3 1487.19 268.88M1512.87 253.93Q1514.01 257.61 1516.3 259.66M1505.3 245.21Q1506.77 245.74 1507.78 245.02M1508.57 259.82Q1504.35 260.22 1502.27 262.91M1505.2 237.71Q1502.59 237.42 1500.89 236.19M1512.88 222.39Q1515.69 222.17 1517.93 222.36M1516.26 258.21Q1516.22 261.84 1514.7 264.33M1497.23 228.78Q1493.39 227.22 1491.97 224.22M1529.86 260.47Q1528.84 263.56 1527.75 265.92M1494.78 227.5Q1492.08 227.61 1489.97 228.02M1499.6 226.11Q1496.8 228.55 1493.85 228.18M1515.46 248.43Q1515.53 246.49 1515.9 244.99M1492.93 244.64Q1492.26 248.8 1490.93 251.89M1483.11 252.09Q1485.63 251.41 1487.64 251.96M1503.42 218.58Q1503.42 222.34 1504.62 225.11M1502.01 234.22Q1498.76 233.72 1496.15 233.93M1496.22 223.65Q1496.76 221.88 1496.78 220.4M1511.14 233.54Q1512.57 232.4 1512.53 230.95M1522.32 248.38Q1523.11 250.48 1523.76 252.16M1510.89 263.4Q1512.68 263.14 1514.06 263.6M1507.03 257.96Q1502.69 259.13 1501.35 262.46M1527.83 235.18Q1529.63 239.22 1530.03 242.73M1519.74 260.53Q1521.59 261.46 1523.07 262.23M1524.14 258.06Q1523.55 261.97 1523.94 265.1M1492.67 254.76Q1490.09 258.78 1488.33 262.18M1513.16 217.41Q1509.83 220.51 1510.05 224.14M1505.15 227.04Q1505.77 230.56 1505.9 233.41M1488.45 251.55Q1486.59 249.71 1486.15 247.66M1510.08 249.49Q1511.13 247.67 1512.73 247.18M1521.51 237.06Q1523.23 238.13 1524.85 238.29M1505.24 264.96Q1507.18 265.25 1508.22 266.43M1524.56 266.6Q1522.37 265.15 1521.13 263.46M1501.18 234.35Q1504.89 234.94 1507.78 235.74M1502.48 250.91Q1503.02 252.51 1503.04 253.85M1500 238.95Q1501.69 241.99 1503.91 243.67M1510.03 234.42Q1510.03 237.96 1512.05 239.94M1521.27 223.03Q1522.39 219.76 1522.56 217M1498.73 245.01Q1496.23 244.67 1495.31 242.88M1519.46 261.27Q1522.98 258.95 1525.98 257.42M1492.43 229.07Q1491.82 226.91 1491.19 225.24M1510.25 263.89Q1507.34 260.07 1506.45 256.33M1491.12 248.96Q1489.79 252.95 1490.84 256.14M1488.29 269.03Q1491.13 265.88 1493.57 263.52M1530.01 245.84Q1529.54 250.71 1528.14 254.37M1502.97 251.12Q1504.15 254.53 1506.03 256.72M1520.37 231.65Q1518.13 229.14 1515.49 228.69M1502.28 257.27Q1504.65 256.89 1506.56 256.83M1522.6 226.52Q1521.4 223.93 1520.02 222.11M1505.71 224.74Q1508.79 223.57 1511.19 224.67M1521.93 246.21Q1518.26 245.34 1516.47 242.9M1501.36 241.53Q1503.91 238.37 1503.12 235.21M1529.55 241.02Q1526.37 242.4 1524.96 244.79M1492.05 227.64Q1492.57 224.75 1492.63 222.41M1516.74 227.2Q1520.29 227.12 1522.07 224.91M1504.32 242.48Q1508.05 241.28 1511.18 241.02M1494.74 252.33Q1498.97 253.08 1500.66 256.07M1520.52 228.37Q1523.51 229.23 1525.23 231.03M1496.38 261.25Q1498.71 262.95 1500.93 262.3M1494.93 258.38Q1492.48 258.72 1490.52 258.4M1486.89 261.98Q1488.17 257.23 1486.08 253.89M1494.61 276.51Q1493.53 275.28 1492.74 274.23M1502.35 274.8Q1505.33 277.31 1506.32 280.26M1525.98 269.51Q1521.2 270.58 1518.12 273.01M1499.52 259.68Q1496.48 259.18 1494.4 260.49M1502.23 261.53Q1505.39 262.73 1507.73 264.07M1518.16 243.79Q1522.54 244.45 1525.1 242.01M1502.41 242.59Q1501.13 243.82 1500.84 245.21M1521.44 230.17Q1524.27 230.28 1526.52 230.03M1513.99 274.18Q1515.68 274.06 1516.7 273.18M1508.27 269.89Q1509.68 268 1509.93 266.13M1512.69 228.35Q1514.28 229.07 1515.54 229.66M1499.92 280.35Q1497.84 282.55 1495.49 283.12M1507.3 238.66Q1504.27 236.75 1501.52 237.55M1503.74 251.47Q1505.36 251.12 1506.32 252.03M1490.94 248.16Q1491.74 246.53 1491.45 245.1M1504.55 253.56Q1501.02 256.99 1497.49 258.72M1509.94 249.29Q1507.15 246.63 1506.85 243.56M1491.08 241.55Q1490.79 243.41 1489.83 244.57M1489.35 265.04Q1487.22 264.27 1486.44 262.63M1501.61 256.4Q1500.09 257.74 1498.58 258.36M1511.73 276.37Q1512.61 274.12 1511.98 272.3M1493.08 221.8Q1495.18 223.11 1497.04 222.4M1518.81 237.22Q1518.34 240.21 1519.94 242.04M1502.76 256.72Q1498.76 259.5 1497.44 263.16M1505.41 265.74Q1509.59 263.56 1513.35 263.96M1502.9 259.84Q1502.29 257.13 1501.53 255.04M1505.22 230.26Q1503.67 230.1 1502.79 229.21M1491.34 233.38Q1490.61 230.87 1489.95 228.88M1497.3 240.77Q1497.47 238.88 1497.81 237.41M1498.71 271.98Q1495.66 269.22 1493.47 266.76" fill="none" stroke="#ff1c1c" stroke-width="1.6" stroke-linecap="round"/>
<rect x="1529.7" y="300" width="34" height="4.5" fill="#fff"/>
<rect x="1568" y="208" width="100" height="98.5" fill="#0c0202"/>
<ellipse cx="1613.2" cy="250.6" rx="16.8" ry="22.8" fill="#ff1a1a" opacity="0.45"/>
<path d="M1618.11 265.38Q1617.34 269.01 1618.62 271.69M1615.24 233.77Q1613.28 232.89 1612.09 231.65M1608.67 231.26Q1606.69 226.85 1608.63 223.51M1605.72 251.02Q1605.21 255.73 1607.34 258.86M1621.09 262.13Q1618.26 265.86 1614.51 265.9M1618.62 243.95Q1615.9 242.19 1614.26 240.19M1611.9 246.52Q1613.92 249.91 1615.56 252.6M1608.85 249.47Q1605.46 247.88 1602.48 248.14M1613.47 243.54Q1617.65 245.76 1619.35 249.14M1608.12 248.79Q1610.53 248.28 1612.48 248.55M1601.94 240.11Q1599.92 239.73 1598.97 238.38M1610.07 263.9Q1614.3 261.24 1616.64 258.01M1614.07 250.09Q1616.02 247.27 1618.38 245.89M1607.04 244.05Q1602.54 242.17 1601.15 238.53M1625.09 241.93Q1623.56 239.13 1621.22 238.11M1603.45 268.71Q1605.48 269.14 1606.37 270.53M1605.39 250.59Q1605.9 245.87 1605.92 242.08M1604.82 251.59Q1603.31 248.79 1602.92 246.28M1607.15 270.44Q1608.9 270.18 1610.22 270.67M1619.59 266.86Q1617.26 262.59 1614.75 259.6M1618.99 235.78Q1623.11 236.58 1626.46 236.8M1619.69 239.04Q1614.89 238.47 1611.75 240.73M1611.93 245.89Q1613.04 243.82 1614.35 242.48M1614.58 252.51Q1617.64 253.59 1620.1 252.75M1604.29 254.74Q1602.72 252.2 1600.73 250.88M1608.48 246.31Q1609.6 242.41 1612.26 240.55M1620.47 270.55Q1623.01 267.27 1624.89 264.54M1611.06 246.7Q1615.72 248.12 1619.48 249.15M1618.14 272.31Q1615.2 274.15 1612.67 275.28M1612.86 246.19Q1611.19 248.2 1609.51 249.43M1623.89 260.12Q1622.72 257.22 1621.39 255.1M1623.71 257.16Q1622.36 258.27 1622.27 259.66M1623.17 240.33Q1623.54 243.09 1624.51 245.1M1609.62 270.32Q1608.37 273.5 1608.73 276.2M1611.31 241.24Q1610.2 236.65 1610.13 232.87M1624.02 267.27Q1622.8 264.67 1623.42 262.45M1619.76 245.63Q1624.54 246.3 1627.84 244.29M1609.77 233.61Q1613.16 237 1616.82 238.17M1616.95 261.04Q1615.42 261.21 1614.43 260.46M1620.48 245.79Q1621.77 248.44 1622.7 250.61M1613.98 232.4Q1613.67 234.12 1613.8 235.51M1598.04 256.94Q1599.15 255.06 1599.24 253.32M1619.11 231.63Q1618.88 229.49 1620.21 228.4M1620.83 236.11Q1616.37 235.36 1612.75 235.36M1619.13 242.76Q1621.74 241.9 1622.9 240.03M1600.33 249.96Q1602.75 250.31 1604.2 251.63M1606.98 234.83Q1605.55 232.78 1604.4 231.14M1626.37 240.16Q1625.16 244.73 1627.3 247.85M1598.12 249.75Q1597.74 246.98 1598.77 244.99M1613.69 258.67Q1615.74 262.73 1618.61 264.98M1616.19 266.54Q1617.31 262.73 1615.41 260.19M1620.97 235.98Q1618.88 237.76 1617.89 239.72M1625.91 239.24Q1628.47 237.13 1628.61 234.48M1620.79 256.64Q1618.87 258.72 1617.31 260.37M1613.15 237.43Q1613.84 232.9 1616.76 230.69M1611.7 271.97Q1610.89 275.97 1608.9 278.55M1604.9 241.51Q1606.7 243.09 1608.59 243.41M1629.32 248.52Q1628.29 251.3 1627.14 253.36M1601.92 241.72Q1600.06 241.32 1599.05 240.17M1608 238.71Q1609.68 236.96 1610.3 235.13M1625.62 238.4Q1624.85 242.88 1625.43 246.48M1598.5 240.45Q1595.24 240.27 1593.37 238.46M1611.34 267.38Q1610.7 264.52 1609.57 262.46M1617.86 266.57Q1614.45 265.67 1613.21 263.14M1598.24 242.39Q1595.18 242.12 1593.46 243.88M1621.23 258.27Q1620.29 253.83 1622.6 251.03M1614.94 245.97Q1614 244.07 1614.19 242.38M1613.98 259.9Q1616.44 258.07 1618.88 257.9M1619.09 233.52Q1617.06 230.67 1614.45 229.67M1623.17 250.88Q1627.29 249.01 1630.87 248.58M1611.45 250.81Q1610.18 248.03 1610.34 245.59M1619.78 252.12Q1621.38 250.8 1621.23 249.14M1601.47 262.7Q1600.71 266.29 1599.51 268.97M1606.8 247.08Q1606.89 244.94 1608.19 243.82M1624.6 243.81Q1623.64 242.07 1622.36 241.12M1625.31 252.89Q1629.07 255.92 1632.23 258.14M1620 253.67Q1618.61 255.26 1617.18 256.17M1626.48 238.48Q1622.4 238.46 1620.12 240.79M1613.76 264.67Q1615.08 261.05 1617.78 259.55M1613.82 233.61Q1614.85 231.95 1615.07 230.39M1628.01 240.36Q1631.28 242.07 1634.19 242.56M1617.91 243.6Q1613.57 241.45 1609.86 242.56M1609.81 249.32Q1613.67 248.7 1616.17 246.82M1612.54 257.88Q1609.05 257.71 1606.78 256.07M1598.54 248.76Q1596.57 245.53 1596.41 242.51M1627.24 242.19Q1628.72 237.76 1627.52 234.22M1627.46 260.62Q1627.62 262.11 1626.97 263.13M1619.28 263.3Q1617.3 262.66 1615.74 263.26M1601.46 262.31Q1604.27 260.72 1606.58 261.86M1624.07 260.74Q1627.36 259.52 1629.97 258.48M1619.06 252.94Q1615.12 255.18 1611.61 256.1M1605.3 254.58Q1606.96 253.58 1607.92 252.38M1626.17 257.93Q1629.22 261.38 1628.3 264.95M1605.35 255.2Q1602.52 258.12 1599.45 259.21M1617.47 256.43Q1615.38 257.4 1613.6 256.91M1619.53 265.22Q1617.52 267.8 1615.7 269.68M1608.5 253.6Q1611.77 254.16 1614.32 254.86M1597.14 252.82Q1597.63 249.28 1596.75 246.55M1611.1 266.44Q1613.18 268.01 1614.9 269.2M1601.53 244.58Q1601.6 246.48 1600.62 247.65M1618.85 239.18Q1621.25 239.15 1622.52 237.72M1621.37 234.71Q1623.59 237.06 1625.78 238.44M1617.71 259.59Q1616.04 255.33 1614.14 252.2M1614.82 246.15Q1618.18 246.71 1620.61 245.45M1601 237.33Q1603.05 235 1605.53 235.13M1621.15 238.15Q1622.82 238.95 1624.17 239.57M1629.17 250.46Q1629.13 245.65 1627.64 242.09M1601.9 263.38Q1603.59 266.47 1602.4 269.02M1624.98 258.32Q1622.76 256.61 1620.51 256.53M1628.97 248.49Q1630.04 246.02 1631.38 244.33M1604.92 248.96Q1607.49 252.93 1607.78 256.71M1610.73 232.95Q1612.66 231.2 1614.68 231.67M1627.13 241.72Q1630.48 240 1632.32 237.6M1600.52 252.67Q1604.82 251.34 1608.14 252.73M1621.25 233.3Q1619.46 230.3 1620.4 227.67M1613.14 261Q1610.05 262.53 1608.61 264.89M1617.47 228.87Q1619.86 229.27 1621.64 230.04M1608.79 243.56Q1610.11 241.38 1609.59 239.41M1628.21 244.14Q1627.61 247.31 1625.91 249.25M1612.68 270.75Q1613.89 273.69 1614.28 276.2M1618.41 249.91Q1617.06 248.76 1615.98 247.85M1621.81 260.39Q1620.01 260.05 1618.55 259.98M1606.17 235.86Q1601.54 237.64 1597.59 238.08M1627.43 262.37Q1628.75 261.25 1629.7 260.25M1616.13 228.53Q1617.04 227.25 1617.88 226.31M1617.66 261.78Q1617.17 258.07 1617.01 255.08M1609.15 237.79Q1610.58 237.01 1611.84 236.63M1623.4 242.79Q1620.61 239.24 1618.16 236.57M1615.78 243.52Q1614.16 243.05 1612.83 242.86M1625.58 241.48Q1625.29 246.14 1624.66 249.82M1612.24 254.89Q1609.95 253.34 1608.04 252.21M1600.02 246.35Q1597.03 248.32 1594.17 248.09M1623.77 265.23Q1623.84 267.26 1623.87 268.9M1617.83 232.93Q1615.69 233.33 1614.36 232.21M1622.14 263.54Q1621.63 259.77 1620.55 256.92M1611.39 244.3Q1611.58 246.02 1612.37 247.15M1607.17 269.15Q1606.55 267.54 1605.45 266.7M1624.41 253.86Q1626.21 253.07 1626.62 251.54M1617.83 246.19Q1614.65 244.18 1612.62 241.95M1623.04 267.53Q1625.41 268.18 1626.94 266.95M1600.41 261.67Q1599.18 263.26 1598.29 264.59M1607.49 241.78Q1606.11 243.3 1604.83 244.33M1610.15 237.3Q1613.39 236.97 1615.99 236.91M1614.17 240.49Q1616.78 242.59 1618.06 244.95M1602.88 267.34Q1599.49 267.93 1597.28 266.28M1611.21 253.81Q1610.99 255.38 1610.04 256.22M1611.15 248.11Q1611.16 246.61 1610.44 245.66M1603.23 247.7Q1606.26 250.92 1606.2 254.45M1609.62 238.01Q1611.94 241.6 1615.27 242.37M1624.29 247.72Q1621.03 245.58 1619.88 242.68M1607.11 264.69Q1605.42 266.16 1603.72 266.73M1621.94 257.88Q1622.28 253.87 1620.97 250.93M1619.55 234.28Q1622.12 234.11 1624.17 233.87M1611.84 267.08Q1611.95 270.83 1613.94 273.08M1626.51 237.15Q1625.5 240.49 1623.67 242.6M1612.11 238.41Q1609.91 238.5 1608.96 239.97M1616.51 262.21Q1618.35 260.04 1620.41 259.06M1601.86 246.52Q1605.58 246.95 1607.6 244.75M1609.06 258.37Q1609 262.56 1606.24 264.47M1614.33 245.01Q1617.13 248.13 1617.86 251.39M1615.55 270.82Q1614.08 269.72 1612.63 269.57M1607.25 246.04Q1610.71 247.96 1613.61 246.67M1616.71 231.63Q1611.94 231.18 1608.17 231.93M1620.49 269.55Q1621.51 266.99 1622.97 265.34M1598.88 254.48Q1599.81 251.47 1601.45 249.54M1617.33 228.87Q1616.38 231.49 1614.83 233.09M1607.77 243.31Q1606.78 239.27 1607.77 236.09M1613.14 243.02Q1613.77 246.05 1615.56 247.77M1620.43 231.78Q1618.56 230.09 1616.78 229.14M1625.45 246.81Q1626.09 248.59 1627.52 249.08M1600.62 246.66Q1598.26 245.71 1596.8 244.28M1613.68 252.29Q1611.36 252.17 1610.13 253.56M1619.28 251.87Q1615.02 250.96 1612.23 248.87M1620.27 231.66Q1618.07 232.26 1616.34 231.66M1620.24 264.44Q1624.07 262.31 1627.46 261.43M1609.29 237.08Q1612.33 237.82 1614.83 237.83M1597.42 253.51Q1594.16 251.14 1590.99 251.72M1598.34 256.18Q1597.01 258.62 1594.94 259.43M1620.86 269.18Q1622.92 264.88 1626.38 263.27M1610.97 229.42Q1609.31 227.59 1607.35 227.4M1607.59 241.34Q1610.66 238.3 1614.11 238.13M1598.42 260.79Q1599.91 259.64 1601.37 260.02M1612.08 231.72Q1614.96 234.54 1616.93 237.08M1619.33 259.15Q1620.07 255.85 1620.45 253.18M1624.23 249.86Q1625.57 252.11 1627.63 252.5M1613 233.37Q1610.55 237.32 1606.88 237.98M1627.4 261.64Q1626.69 263.58 1626.05 265.1M1601.1 245.75Q1598.92 249.44 1599.71 252.78M1609.06 258.08Q1611.4 259.89 1611.57 262.24M1622.89 245.82Q1625.9 245.84 1628.15 244.98" fill="none" stroke="#ff1a1a" stroke-width="1.6" stroke-linecap="round"/>
<rect x="1632" y="298.5" width="34" height="4.5" fill="#fff"/>
<text x="1048.84" y="334.33" font-family="'Liberation Serif', 'Noto Serif CJK SC', serif" font-size="16.79" textLength="34.76" lengthAdjust="spacingAndGlyphs" stroke="#000" stroke-width="0.35">CON</text>
<text x="1174.51" y="334.5" font-family="'Liberation Serif', 'Noto Serif CJK SC', serif" font-size="17.31" textLength="26.51" lengthAdjust="spacingAndGlyphs" stroke="#000" stroke-width="0.35">DM</text>
<text x="1267.5" y="334.33" font-family="'Liberation Serif', 'Noto Serif CJK SC', serif" font-size="17.14" textLength="52.33" lengthAdjust="spacingAndGlyphs" stroke="#000" stroke-width="0.35">Placebo</text>
<text x="1384.71" y="337.94" font-family="'Liberation Serif', 'Noto Serif CJK SC', serif" font-size="16.36" font-weight="bold" textLength="39.77" lengthAdjust="spacingAndGlyphs">LVD</text>
<text x="1498.62" y="336.74" font-family="'Liberation Serif', 'Noto Serif CJK SC', serif" font-size="16.36" font-weight="bold" textLength="45.71" lengthAdjust="spacingAndGlyphs">MVD</text>
<text x="1597.03" y="333.12" font-family="'Liberation Serif', 'Noto Serif CJK SC', serif" font-size="18.18" font-weight="bold" textLength="40.93" lengthAdjust="spacingAndGlyphs">HVD</text>
<text x="19.03" y="382" font-family="'Liberation Serif', 'Noto Serif CJK SC', serif" font-size="53.85" textLength="40.11" lengthAdjust="spacingAndGlyphs">D</text>
<polygon points="182.7,544.8 182.7,430.51 207,457.58 207,544.8" fill="#3a4790" fill-opacity="0.3"/>
<polygon points="182.7,430.51 182.7,348.71 207,389.41 207,457.58" fill="#e80000" fill-opacity="0.3"/>
<polygon points="182.7,348.71 182.7,347.71 207,353.12 207,389.41" fill="#008a40" fill-opacity="0.3"/>
<polygon points="182.7,347.71 182.7,347.71 207,349.11 207,353.12" fill="#5c1878" fill-opacity="0.3"/>
<polygon points="182.7,347.71 182.7,344.3 207,347.31 207,349.11" fill="#235d88" fill-opacity="0.3"/>
<polygon points="182.7,344.3 182.7,344.3 207,344.3 207,347.31" fill="#b4001e" fill-opacity="0.3"/>
<polygon points="264,544.8 264,457.58 288.6,472.62 288.6,544.8" fill="#3a4790" fill-opacity="0.3"/>
<polygon points="264,457.58 264,389.41 288.6,401.44 288.6,472.62" fill="#e80000" fill-opacity="0.3"/>
<polygon points="264,389.41 264,353.12 288.6,352.12 288.6,401.44" fill="#008a40" fill-opacity="0.3"/>
<polygon points="264,353.12 264,349.11 288.6,344.3 288.6,352.12" fill="#5c1878" fill-opacity="0.3"/>
<polygon points="264,349.11 264,347.31 288.6,344.3 288.6,344.3" fill="#235d88" fill-opacity="0.3"/>
<polygon points="264,347.31 264,344.3 288.6,344.3 288.6,344.3" fill="#b4001e" fill-opacity="0.3"/>
<rect x="126" y="430.51" width="56.7" height="114.28" fill="#3a4790"/>
<rect x="126" y="348.71" width="56.7" height="81.8" fill="#e80000"/>
<rect x="126" y="347.71" width="56.7" height="1" fill="#008a40"/>
<rect x="126" y="344.3" width="56.7" height="3.41" fill="#235d88"/>
<rect x="207" y="457.58" width="57" height="87.22" fill="#3a4790"/>
<rect x="207" y="389.41" width="57" height="68.17" fill="#e80000"/>
<rect x="207" y="353.12" width="57" height="36.29" fill="#008a40"/>
<rect x="207" y="349.11" width="57" height="4.01" fill="#5c1878"/>
<rect x="207" y="347.31" width="57" height="1.8" fill="#235d88"/>
<rect x="207" y="344.3" width="57" height="3.01" fill="#b4001e"/>
<rect x="288.6" y="472.62" width="56.4" height="72.18" fill="#3a4790"/>
<rect x="288.6" y="401.44" width="56.4" height="71.18" fill="#e80000"/>
<rect x="288.6" y="352.12" width="56.4" height="49.32" fill="#008a40"/>
<rect x="288.6" y="344.3" width="56.4" height="7.82" fill="#5c1878"/>
<line x1="101.2" y1="343" x2="101.2" y2="545.5" stroke="#8a8a8a" stroke-width="1.4"/>
<line x1="101.2" y1="544.8" x2="371" y2="544.8" stroke="#8a8a8a" stroke-width="1.4"/>
<line x1="98.7" y1="544.8" x2="101.2" y2="544.8" stroke="#000" stroke-width="1.3"/>
<text x="91.87" y="548.3" font-family="'Liberation Sans', 'Noto Sans CJK SC', sans-serif" font-size="10.14" textLength="6.02" lengthAdjust="spacingAndGlyphs">0</text>
<line x1="98.7" y1="524.75" x2="101.2" y2="524.75" stroke="#000" stroke-width="1.3"/>
<text x="85.4" y="528.25" font-family="'Liberation Sans', 'Noto Sans CJK SC', sans-serif" font-size="10.14" textLength="12.46" lengthAdjust="spacingAndGlyphs">10</text>
<line x1="98.7" y1="504.7" x2="101.2" y2="504.7" stroke="#000" stroke-width="1.3"/>
<text x="85.76" y="508.2" font-family="'Liberation Sans', 'Noto Sans CJK SC', sans-serif" font-size="10.14" textLength="12.09" lengthAdjust="spacingAndGlyphs">20</text>
<line x1="98.7" y1="484.65" x2="101.2" y2="484.65" stroke="#000" stroke-width="1.3"/>
<text x="85.87" y="488.15" font-family="'Liberation Sans', 'Noto Sans CJK SC', sans-serif" font-size="10.14" textLength="11.98" lengthAdjust="spacingAndGlyphs">30</text>
<line x1="98.7" y1="464.6" x2="101.2" y2="464.6" stroke="#000" stroke-width="1.3"/>
<text x="86.09" y="468.1" font-family="'Liberation Sans', 'Noto Sans CJK SC', sans-serif" font-size="10.14" textLength="11.75" lengthAdjust="spacingAndGlyphs">40</text>
<line x1="98.7" y1="444.55" x2="101.2" y2="444.55" stroke="#000" stroke-width="1.3"/>
<text x="85.87" y="448.05" font-family="'Liberation Sans', 'Noto Sans CJK SC', sans-serif" font-size="10.14" textLength="11.98" lengthAdjust="spacingAndGlyphs">50</text>
<line x1="98.7" y1="424.5" x2="101.2" y2="424.5" stroke="#000" stroke-width="1.3"/>
<text x="85.76" y="428" font-family="'Liberation Sans', 'Noto Sans CJK SC', sans-serif" font-size="10.14" textLength="12.09" lengthAdjust="spacingAndGlyphs">60</text>
<line x1="98.7" y1="404.45" x2="101.2" y2="404.45" stroke="#000" stroke-width="1.3"/>
<text x="85.76" y="407.95" font-family="'Liberation Sans', 'Noto Sans CJK SC', sans-serif" font-size="10.14" textLength="12.09" lengthAdjust="spacingAndGlyphs">70</text>
<line x1="98.7" y1="384.4" x2="101.2" y2="384.4" stroke="#000" stroke-width="1.3"/>
<text x="85.87" y="387.9" font-family="'Liberation Sans', 'Noto Sans CJK SC', sans-serif" font-size="10.14" textLength="11.98" lengthAdjust="spacingAndGlyphs">80</text>
<line x1="98.7" y1="364.35" x2="101.2" y2="364.35" stroke="#000" stroke-width="1.3"/>
<text x="85.76" y="367.85" font-family="'Liberation Sans', 'Noto Sans CJK SC', sans-serif" font-size="10.14" textLength="12.09" lengthAdjust="spacingAndGlyphs">90</text>
<line x1="98.7" y1="344.3" x2="101.2" y2="344.3" stroke="#000" stroke-width="1.3"/>
<text x="80.46" y="347.8" font-family="'Liberation Sans', 'Noto Sans CJK SC', sans-serif" font-size="10.14" textLength="17.44" lengthAdjust="spacingAndGlyphs">100</text>
<text transform="translate(72.77,516.87) rotate(-90)" font-family="'Liberation Sans', 'Noto Sans CJK SC', sans-serif" font-size="11.08" textLength="143.85" lengthAdjust="spacingAndGlyphs">Relative Abundance (%)</text>
<text x="140.88" y="558.4" font-family="'Liberation Sans', 'Noto Sans CJK SC', sans-serif" font-size="10" textLength="27.05" lengthAdjust="spacingAndGlyphs">Control</text>
<text x="228.9" y="558.5" font-family="'Liberation Sans', 'Noto Sans CJK SC', sans-serif" font-size="10.58" textLength="13.54" lengthAdjust="spacingAndGlyphs">DM</text>
<text x="308.03" y="558.5" font-family="'Liberation Sans', 'Noto Sans CJK SC', sans-serif" font-size="10.58" textLength="17.61" lengthAdjust="spacingAndGlyphs">DKD</text>
<rect x="378.8" y="355.1" width="8.6" height="10.5" fill="#3a4790"/>
<text x="391.6" y="365.3" font-family="'Liberation Sans', 'Noto Sans CJK SC', sans-serif" font-size="14.35" font-style="italic" textLength="44.33" lengthAdjust="spacingAndGlyphs">Firmicutes</text>
<rect x="378.8" y="370.4" width="8.6" height="10.5" fill="#e80000"/>
<text x="391.6" y="380.6" font-family="'Liberation Sans', 'Noto Sans CJK SC', sans-serif" font-size="14.35" font-style="italic" textLength="58.78" lengthAdjust="spacingAndGlyphs">Bacteroidetes</text>
<rect x="378.8" y="385.7" width="8.6" height="10.5" fill="#008a40"/>
<text x="391.6" y="395.9" font-family="'Liberation Sans', 'Noto Sans CJK SC', sans-serif" font-size="14.35" font-style="italic" textLength="62.52" lengthAdjust="spacingAndGlyphs">Proteobacteria</text>
<rect x="378.8" y="401" width="8.6" height="10.5" fill="#5c1878"/>
<text x="391.6" y="411.2" font-family="'Liberation Sans', 'Noto Sans CJK SC', sans-serif" font-size="14.35" font-style="italic" textLength="60.91" lengthAdjust="spacingAndGlyphs">Actinobacteria</text>
<rect x="378.8" y="416.3" width="8.6" height="10.5" fill="#087c7c"/>
<text x="391.6" y="426.5" font-family="'Liberation Sans', 'Noto Sans CJK SC', sans-serif" font-size="14.35" font-style="italic" textLength="69.63" lengthAdjust="spacingAndGlyphs">Verrucomicrobia</text>
<rect x="378.8" y="431.6" width="8.6" height="10.5" fill="#b4001e"/>
<text x="391.6" y="441.8" font-family="'Liberation Sans', 'Noto Sans CJK SC', sans-serif" font-size="14.35" font-style="italic" textLength="19.22" lengthAdjust="spacingAndGlyphs">TM7</text>
<rect x="378.8" y="446.9" width="8.6" height="10.5" fill="#5a50a0"/>
<text x="391.6" y="457.1" font-family="'Liberation Sans', 'Noto Sans CJK SC', sans-serif" font-size="14.35" font-style="italic" textLength="65.71" lengthAdjust="spacingAndGlyphs">Deferribacteres</text>
<rect x="378.8" y="462.2" width="8.6" height="10.5" fill="#a0005a"/>
<text x="391.6" y="472.4" font-family="'Liberation Sans', 'Noto Sans CJK SC', sans-serif" font-size="14.35" font-style="italic" textLength="49.34" lengthAdjust="spacingAndGlyphs">Tenericutes</text>
<rect x="378.8" y="477.5" width="8.6" height="10.5" fill="#808080"/>
<text x="391.6" y="487.7" font-family="'Liberation Sans', 'Noto Sans CJK SC', sans-serif" font-size="14.35" font-style="italic" textLength="58.24" lengthAdjust="spacingAndGlyphs">Acidobacteria</text>
<rect x="378.8" y="492.8" width="8.6" height="10.5" fill="#b04060"/>
<text x="391.6" y="503" font-family="'Liberation Sans', 'Noto Sans CJK SC', sans-serif" font-size="14.35" font-style="italic" textLength="61.98" lengthAdjust="spacingAndGlyphs">Cyanobacteria</text>
<rect x="378.8" y="508.1" width="8.6" height="10.5" fill="#a87020"/>
<text x="391.6" y="518.3" font-family="'Liberation Sans', 'Noto Sans CJK SC', sans-serif" font-size="14.35" font-style="italic" textLength="28.85" lengthAdjust="spacingAndGlyphs">Others</text>
<polygon points="594,544.5 594,472.23 616,420.6 616,544.5" fill="#3a4790" fill-opacity="0.3"/>
<polygon points="594,472.23 594,396.85 616,345.43 616,420.6" fill="#e80000" fill-opacity="0.3"/>
<polygon points="594,396.85 594,345.23 616,342.96 616,345.43" fill="#008a40" fill-opacity="0.3"/>
<polygon points="594,345.23 594,338 616,342.34 616,342.96" fill="#5c1878" fill-opacity="0.3"/>
<polygon points="594,338 594,338 616,340.48 616,342.34" fill="#235d88" fill-opacity="0.3"/>
<polygon points="594,338 594,338 616,338 616,340.48" fill="#b4001e" fill-opacity="0.3"/>
<polygon points="671.4,544.5 671.4,420.6 694,439.19 694,544.5" fill="#3a4790" fill-opacity="0.3"/>
<polygon points="671.4,420.6 671.4,345.43 694,342.96 694,439.19" fill="#e80000" fill-opacity="0.3"/>
<polygon points="671.4,345.43 671.4,342.96 694,339.03 694,342.96" fill="#008a40" fill-opacity="0.3"/>
<polygon points="671.4,342.96 671.4,342.34 694,339.03 694,339.03" fill="#5c1878" fill-opacity="0.3"/>
<polygon points="671.4,342.34 671.4,340.48 694,339.03 694,339.03" fill="#235d88" fill-opacity="0.3"/>
<polygon points="671.4,340.48 671.4,338 694,338 694,339.03" fill="#b4001e" fill-opacity="0.3"/>
<polygon points="748,544.5 748,439.19 771,449.51 771,544.5" fill="#3a4790" fill-opacity="0.3"/>
<polygon points="748,439.19 748,342.96 771,345.43 771,449.51" fill="#e80000" fill-opacity="0.3"/>
<polygon points="748,342.96 748,339.03 771,339.86 771,345.43" fill="#008a40" fill-opacity="0.3"/>
<polygon points="748,339.03 748,338 771,338 771,339.86" fill="#b4001e" fill-opacity="0.3"/>
<rect x="540" y="472.23" width="54" height="72.27" fill="#3a4790"/>
<rect x="540" y="396.85" width="54" height="75.37" fill="#e80000"/>
<rect x="540" y="345.23" width="54" height="51.62" fill="#008a40"/>
<rect x="540" y="338" width="54" height="7.23" fill="#5c1878"/>
<rect x="616" y="420.6" width="55.4" height="123.9" fill="#3a4790"/>
<rect x="616" y="345.43" width="55.4" height="75.17" fill="#e80000"/>
<rect x="616" y="342.96" width="55.4" height="2.48" fill="#008a40"/>
<rect x="616" y="342.34" width="55.4" height="0.62" fill="#5c1878"/>
<rect x="616" y="340.48" width="55.4" height="1.86" fill="#235d88"/>
<rect x="616" y="338" width="55.4" height="2.48" fill="#b4001e"/>
<rect x="694" y="439.19" width="54" height="105.31" fill="#3a4790"/>
<rect x="694" y="342.96" width="54" height="96.23" fill="#e80000"/>
<rect x="694" y="339.03" width="54" height="3.92" fill="#008a40"/>
<rect x="694" y="338" width="54" height="1.03" fill="#b4001e"/>
<rect x="771" y="449.51" width="55" height="94.99" fill="#3a4790"/>
<rect x="771" y="345.43" width="55" height="104.08" fill="#e80000"/>
<rect x="771" y="339.86" width="55" height="5.58" fill="#008a40"/>
<rect x="771" y="338" width="55" height="1.86" fill="#b4001e"/>
<line x1="515.8" y1="337" x2="515.8" y2="545.2" stroke="#8a8a8a" stroke-width="1.4"/>
<line x1="515.8" y1="544.5" x2="849" y2="544.5" stroke="#8a8a8a" stroke-width="1.4"/>
<line x1="511.5" y1="544.5" x2="515.8" y2="544.5" stroke="#000" stroke-width="1.3"/>
<text x="503.56" y="548.19" font-family="'Liberation Sans', 'Noto Sans CJK SC', sans-serif" font-size="10.7" textLength="7.53" lengthAdjust="spacingAndGlyphs">0</text>
<line x1="511.5" y1="523.85" x2="515.8" y2="523.85" stroke="#000" stroke-width="1.3"/>
<text x="496.56" y="527.54" font-family="'Liberation Sans', 'Noto Sans CJK SC', sans-serif" font-size="10.7" textLength="14.46" lengthAdjust="spacingAndGlyphs">10</text>
<line x1="511.5" y1="503.2" x2="515.8" y2="503.2" stroke="#000" stroke-width="1.3"/>
<text x="496.97" y="506.89" font-family="'Liberation Sans', 'Noto Sans CJK SC', sans-serif" font-size="10.7" textLength="14.04" lengthAdjust="spacingAndGlyphs">20</text>
<line x1="511.5" y1="482.55" x2="515.8" y2="482.55" stroke="#000" stroke-width="1.3"/>
<text x="497.1" y="486.24" font-family="'Liberation Sans', 'Noto Sans CJK SC', sans-serif" font-size="10.7" textLength="13.9" lengthAdjust="spacingAndGlyphs">30</text>
<line x1="511.5" y1="461.9" x2="515.8" y2="461.9" stroke="#000" stroke-width="1.3"/>
<text x="497.35" y="465.59" font-family="'Liberation Sans', 'Noto Sans CJK SC', sans-serif" font-size="10.7" textLength="13.64" lengthAdjust="spacingAndGlyphs">40</text>
<line x1="511.5" y1="441.25" x2="515.8" y2="441.25" stroke="#000" stroke-width="1.3"/>
<text x="497.1" y="444.94" font-family="'Liberation Sans', 'Noto Sans CJK SC', sans-serif" font-size="10.7" textLength="13.9" lengthAdjust="spacingAndGlyphs">50</text>
<line x1="511.5" y1="420.6" x2="515.8" y2="420.6" stroke="#000" stroke-width="1.3"/>
<text x="496.97" y="424.29" font-family="'Liberation Sans', 'Noto Sans CJK SC', sans-serif" font-size="10.7" textLength="14.04" lengthAdjust="spacingAndGlyphs">60</text>
<line x1="511.5" y1="399.95" x2="515.8" y2="399.95" stroke="#000" stroke-width="1.3"/>
<text x="496.97" y="403.64" font-family="'Liberation Sans', 'Noto Sans CJK SC', sans-serif" font-size="10.7" textLength="14.04" lengthAdjust="spacingAndGlyphs">70</text>
<line x1="511.5" y1="379.3" x2="515.8" y2="379.3" stroke="#000" stroke-width="1.3"/>
<text x="497.1" y="382.99" font-family="'Liberation Sans', 'Noto Sans CJK SC', sans-serif" font-size="10.7" textLength="13.9" lengthAdjust="spacingAndGlyphs">80</text>
<line x1="511.5" y1="358.65" x2="515.8" y2="358.65" stroke="#000" stroke-width="1.3"/>
<text x="496.97" y="362.34" font-family="'Liberation Sans', 'Noto Sans CJK SC', sans-serif" font-size="10.7" textLength="14.04" lengthAdjust="spacingAndGlyphs">90</text>
<line x1="511.5" y1="338" x2="515.8" y2="338" stroke="#000" stroke-width="1.3"/>
<text x="489.99" y="341.69" font-family="'Liberation Sans', 'Noto Sans CJK SC', sans-serif" font-size="10.7" textLength="21.1" lengthAdjust="spacingAndGlyphs">100</text>
<text transform="translate(481.3,515.71) rotate(-90)" font-family="'Liberation Sans', 'Noto Sans CJK SC', sans-serif" font-size="13.33" textLength="148.31" lengthAdjust="spacingAndGlyphs">Relative Abundance (%)</text>
<text x="566.7" y="557.7" font-family="'Liberation Sans', 'Noto Sans CJK SC', sans-serif" font-size="10.2" text-anchor="middle">A</text>
<text x="643.9" y="557.7" font-family="'Liberation Sans', 'Noto Sans CJK SC', sans-serif" font-size="10.2" text-anchor="middle">B</text>
<text x="721" y="557.7" font-family="'Liberation Sans', 'Noto Sans CJK SC', sans-serif" font-size="10.2" text-anchor="middle">C</text>
<text x="798.5" y="557.7" font-family="'Liberation Sans', 'Noto Sans CJK SC', sans-serif" font-size="10.2" text-anchor="middle">D</text>
<rect x="858.4" y="349.3" width="11" height="11" fill="#3a4790"/>
<text x="874" y="359.45" font-family="'Liberation Sans', 'Noto Sans CJK SC', sans-serif" font-size="13.48" font-style="italic" textLength="72.93" lengthAdjust="spacingAndGlyphs">Bacteroidetes</text>
<rect x="858.4" y="364.97" width="11" height="11" fill="#e80000"/>
<text x="874" y="375.12" font-family="'Liberation Sans', 'Noto Sans CJK SC', sans-serif" font-size="13.48" font-style="italic" textLength="55" lengthAdjust="spacingAndGlyphs">Firmicutes</text>
<rect x="858.4" y="380.64" width="11" height="11" fill="#008a40"/>
<text x="874" y="390.79" font-family="'Liberation Sans', 'Noto Sans CJK SC', sans-serif" font-size="13.48" font-style="italic" textLength="77.57" lengthAdjust="spacingAndGlyphs">Proteobacteria</text>
<rect x="858.4" y="396.31" width="11" height="11" fill="#5c1878"/>
<text x="874" y="406.46" font-family="'Liberation Sans', 'Noto Sans CJK SC', sans-serif" font-size="13.48" font-style="italic" textLength="75.58" lengthAdjust="spacingAndGlyphs">Actinobacteria</text>
<rect x="858.4" y="411.98" width="11" height="11" fill="#087c7c"/>
<text x="874" y="422.13" font-family="'Liberation Sans', 'Noto Sans CJK SC', sans-serif" font-size="13.48" font-style="italic" textLength="86.39" lengthAdjust="spacingAndGlyphs">Verrucomicrobia</text>
<rect x="858.4" y="427.65" width="11" height="11" fill="#b4001e"/>
<text x="874" y="437.8" font-family="'Liberation Sans', 'Noto Sans CJK SC', sans-serif" font-size="13.48" font-style="italic" textLength="23.85" lengthAdjust="spacingAndGlyphs">TM7</text>
<rect x="858.4" y="443.32" width="11" height="11" fill="#5a50a0"/>
<text x="874" y="453.47" font-family="'Liberation Sans', 'Noto Sans CJK SC', sans-serif" font-size="13.48" font-style="italic" textLength="81.54" lengthAdjust="spacingAndGlyphs">Deferribacteres</text>
<rect x="858.4" y="458.99" width="11" height="11" fill="#a0005a"/>
<text x="874" y="469.14" font-family="'Liberation Sans', 'Noto Sans CJK SC', sans-serif" font-size="13.48" font-style="italic" textLength="76.91" lengthAdjust="spacingAndGlyphs">Cyanobacteria</text>
<rect x="858.4" y="474.66" width="11" height="11" fill="#808080"/>
<text x="874" y="484.81" font-family="'Liberation Sans', 'Noto Sans CJK SC', sans-serif" font-size="13.48" font-style="italic" textLength="61.22" lengthAdjust="spacingAndGlyphs">Tenericutes</text>
<rect x="858.4" y="490.33" width="11" height="11" fill="#b04060"/>
<text x="874" y="500.48" font-family="'Liberation Sans', 'Noto Sans CJK SC', sans-serif" font-size="13.48" font-style="italic" textLength="72.27" lengthAdjust="spacingAndGlyphs">Acidobacteria</text>
<rect x="858.4" y="506" width="11" height="11" fill="#a87020"/>
<text x="874" y="516.15" font-family="'Liberation Sans', 'Noto Sans CJK SC', sans-serif" font-size="13.48" font-style="italic" textLength="35.79" lengthAdjust="spacingAndGlyphs">Others</text>
<text x="2.28" y="614" font-family="'Liberation Serif', 'Noto Serif CJK SC', serif" font-size="54.46" textLength="35.03" lengthAdjust="spacingAndGlyphs">E</text>
<polygon points="228.6,748.3 228.6,676.72 265,726.6 265,748.3" fill="#3a4790" fill-opacity="0.3"/>
<polygon points="228.6,676.72 228.6,612.52 265,726.6 265,726.6" fill="#e80000" fill-opacity="0.3"/>
<polygon points="228.6,612.52 228.6,612.52 265,703.09 265,726.6" fill="#008a40" fill-opacity="0.3"/>
<polygon points="228.6,612.52 228.6,605.29 265,684.7 265,703.09" fill="#5c1878" fill-opacity="0.3"/>
<polygon points="228.6,605.29 228.6,605.29 265,653.96 265,684.7" fill="#087c7c" fill-opacity="0.3"/>
<polygon points="228.6,605.29 228.6,605.29 265,645.52 265,653.96" fill="#b4001e" fill-opacity="0.3"/>
<polygon points="228.6,605.29 228.6,603.03 265,637.08 265,645.52" fill="#5a50a0" fill-opacity="0.3"/>
<polygon points="228.6,603.03 228.6,599.11 265,634.07 265,637.08" fill="#a0005a" fill-opacity="0.3"/>
<polygon points="228.6,599.11 228.6,599.11 265,629.25 265,634.07" fill="#808080" fill-opacity="0.3"/>
<polygon points="228.6,599.11 228.6,599.11 265,623.82 265,629.25" fill="#b04060" fill-opacity="0.3"/>
<polygon points="354,748.3 354,726.6 390,725.69 390,748.3" fill="#3a4790" fill-opacity="0.3"/>
<polygon points="354,726.6 354,703.09 390,702.19 390,725.69" fill="#008a40" fill-opacity="0.3"/>
<polygon points="354,703.09 354,684.7 390,686.51 390,702.19" fill="#5c1878" fill-opacity="0.3"/>
<polygon points="354,684.7 354,653.96 390,684.7 390,686.51" fill="#087c7c" fill-opacity="0.3"/>
<polygon points="354,653.96 354,645.52 390,665.11 390,684.7" fill="#b4001e" fill-opacity="0.3"/>
<polygon points="354,645.52 354,637.08 390,659.09 390,665.11" fill="#5a50a0" fill-opacity="0.3"/>
<polygon points="354,637.08 354,634.07 390,650.95 390,659.09" fill="#a0005a" fill-opacity="0.3"/>
<polygon points="354,634.07 354,629.25 390,643.41 390,650.95" fill="#808080" fill-opacity="0.3"/>
<polygon points="354,629.25 354,623.82 390,638.59 390,643.41" fill="#b04060" fill-opacity="0.3"/>
<rect x="140.5" y="676.72" width="88.1" height="71.58" fill="#3a4790"/>
<rect x="140.5" y="612.52" width="88.1" height="64.2" fill="#e80000"/>
<rect x="140.5" y="605.29" width="88.1" height="7.23" fill="#5c1878"/>
<rect x="140.5" y="603.03" width="88.1" height="2.26" fill="#5a50a0"/>
<rect x="140.5" y="599.11" width="88.1" height="3.92" fill="#a0005a"/>
<rect x="265" y="726.6" width="89" height="21.7" fill="#3a4790"/>
<rect x="265" y="703.09" width="89" height="23.51" fill="#008a40"/>
<rect x="265" y="684.7" width="89" height="18.39" fill="#5c1878"/>
<rect x="265" y="653.96" width="89" height="30.74" fill="#087c7c"/>
<rect x="265" y="645.52" width="89" height="8.44" fill="#b4001e"/>
<rect x="265" y="637.08" width="89" height="8.44" fill="#5a50a0"/>
<rect x="265" y="634.07" width="89" height="3.01" fill="#a0005a"/>
<rect x="265" y="629.25" width="89" height="4.82" fill="#808080"/>
<rect x="265" y="623.82" width="89" height="5.43" fill="#b04060"/>
<rect x="390" y="725.69" width="88.6" height="22.61" fill="#3a4790"/>
<rect x="390" y="702.19" width="88.6" height="23.51" fill="#008a40"/>
<rect x="390" y="686.51" width="88.6" height="15.67" fill="#5c1878"/>
<rect x="390" y="684.7" width="88.6" height="1.81" fill="#087c7c"/>
<rect x="390" y="665.11" width="88.6" height="19.59" fill="#b4001e"/>
<rect x="390" y="659.09" width="88.6" height="6.03" fill="#5a50a0"/>
<rect x="390" y="650.95" width="88.6" height="8.14" fill="#a0005a"/>
<rect x="390" y="643.41" width="88.6" height="7.54" fill="#808080"/>
<rect x="390" y="638.59" width="88.6" height="4.82" fill="#b04060"/>
<line x1="103.1" y1="594.2" x2="103.1" y2="749" stroke="#8a8a8a" stroke-width="1.4"/>
<line x1="103.1" y1="748.3" x2="518" y2="748.3" stroke="#8a8a8a" stroke-width="1.4"/>
<line x1="98.5" y1="748.3" x2="103.1" y2="748.3" stroke="#000" stroke-width="1.3"/>
<text x="87.19" y="751.26" font-family="'Liberation Sans', 'Noto Sans CJK SC', sans-serif" font-size="8.59" textLength="8.46" lengthAdjust="spacingAndGlyphs">0</text>
<line x1="98.5" y1="733.23" x2="103.1" y2="733.23" stroke="#000" stroke-width="1.3"/>
<text x="87.19" y="736.19" font-family="'Liberation Sans', 'Noto Sans CJK SC', sans-serif" font-size="8.71" textLength="8.46" lengthAdjust="spacingAndGlyphs">5</text>
<line x1="98.5" y1="718.16" x2="103.1" y2="718.16" stroke="#000" stroke-width="1.3"/>
<text x="78.36" y="721.12" font-family="'Liberation Sans', 'Noto Sans CJK SC', sans-serif" font-size="8.59" textLength="17.24" lengthAdjust="spacingAndGlyphs">10</text>
<line x1="98.5" y1="703.09" x2="103.1" y2="703.09" stroke="#000" stroke-width="1.3"/>
<text x="78.36" y="706.05" font-family="'Liberation Sans', 'Noto Sans CJK SC', sans-serif" font-size="8.71" textLength="17.24" lengthAdjust="spacingAndGlyphs">15</text>
<line x1="98.5" y1="688.02" x2="103.1" y2="688.02" stroke="#000" stroke-width="1.3"/>
<text x="78.85" y="690.98" font-family="'Liberation Sans', 'Noto Sans CJK SC', sans-serif" font-size="8.59" textLength="16.74" lengthAdjust="spacingAndGlyphs">20</text>
<line x1="98.5" y1="672.95" x2="103.1" y2="672.95" stroke="#000" stroke-width="1.3"/>
<text x="78.85" y="675.91" font-family="'Liberation Sans', 'Noto Sans CJK SC', sans-serif" font-size="8.59" textLength="16.74" lengthAdjust="spacingAndGlyphs">25</text>
<line x1="98.5" y1="657.88" x2="103.1" y2="657.88" stroke="#000" stroke-width="1.3"/>
<text x="79" y="660.84" font-family="'Liberation Sans', 'Noto Sans CJK SC', sans-serif" font-size="8.59" textLength="16.58" lengthAdjust="spacingAndGlyphs">30</text>
<line x1="98.5" y1="642.81" x2="103.1" y2="642.81" stroke="#000" stroke-width="1.3"/>
<text x="79" y="645.77" font-family="'Liberation Sans', 'Noto Sans CJK SC', sans-serif" font-size="8.59" textLength="16.58" lengthAdjust="spacingAndGlyphs">35</text>
<line x1="98.5" y1="627.74" x2="103.1" y2="627.74" stroke="#000" stroke-width="1.3"/>
<text x="79.31" y="630.7" font-family="'Liberation Sans', 'Noto Sans CJK SC', sans-serif" font-size="8.59" textLength="16.26" lengthAdjust="spacingAndGlyphs">40</text>
<line x1="98.5" y1="612.67" x2="103.1" y2="612.67" stroke="#000" stroke-width="1.3"/>
<text x="79.31" y="615.63" font-family="'Liberation Sans', 'Noto Sans CJK SC', sans-serif" font-size="8.71" textLength="16.26" lengthAdjust="spacingAndGlyphs">45</text>
<line x1="98.5" y1="597.6" x2="103.1" y2="597.6" stroke="#000" stroke-width="1.3"/>
<text x="79" y="600.56" font-family="'Liberation Sans', 'Noto Sans CJK SC', sans-serif" font-size="8.59" textLength="16.58" lengthAdjust="spacingAndGlyphs">50</text>
<text transform="translate(58.5,727.53) rotate(-90)" font-family="'Liberation Sans', 'Noto Sans CJK SC', sans-serif" font-size="16.67" textLength="111.64" lengthAdjust="spacingAndGlyphs">Relative Abundance (%)</text>
<text x="164.14" y="758.62" font-family="'Liberation Sans', 'Noto Sans CJK SC', sans-serif" font-size="8.49" font-weight="bold" textLength="40.49" lengthAdjust="spacingAndGlyphs">Control</text>
<text x="299.72" y="758.7" font-family="'Liberation Sans', 'Noto Sans CJK SC', sans-serif" font-size="8.99" font-weight="bold" textLength="19.6" lengthAdjust="spacingAndGlyphs">DM</text>
<text x="420.95" y="758.7" font-family="'Liberation Sans', 'Noto Sans CJK SC', sans-serif" font-size="8.99" font-weight="bold" textLength="26.21" lengthAdjust="spacingAndGlyphs">DKD</text>
<rect x="529.8" y="602.2" width="14.1" height="8.4" fill="#3a4790"/>
<text x="549.2" y="610.35" font-family="'Liberation Sans', 'Noto Sans CJK SC', sans-serif" font-size="11.45" font-style="italic" textLength="85.86" lengthAdjust="spacingAndGlyphs">Lactobacillus</text>
<rect x="529.8" y="614" width="14.1" height="8.4" fill="#e80000"/>
<text x="549.2" y="622.15" font-family="'Liberation Sans', 'Noto Sans CJK SC', sans-serif" font-size="11.45" font-style="italic" textLength="80.9" lengthAdjust="spacingAndGlyphs">Allobaculum</text>
<rect x="529.8" y="625.8" width="14.1" height="8.4" fill="#008a40"/>
<text x="549.2" y="633.95" font-family="'Liberation Sans', 'Noto Sans CJK SC', sans-serif" font-size="11.45" font-style="italic" textLength="90.81" lengthAdjust="spacingAndGlyphs">Acinetobacter</text>
<rect x="529.8" y="637.6" width="14.1" height="8.4" fill="#5c1878"/>
<text x="549.2" y="645.75" font-family="'Liberation Sans', 'Noto Sans CJK SC', sans-serif" font-size="11.45" font-style="italic" textLength="78.42" lengthAdjust="spacingAndGlyphs">Bacteroides</text>
<rect x="529.8" y="649.4" width="14.1" height="8.4" fill="#087c7c"/>
<text x="549.2" y="657.55" font-family="'Liberation Sans', 'Noto Sans CJK SC', sans-serif" font-size="11.45" font-style="italic" textLength="241.07" lengthAdjust="spacingAndGlyphs">Staphylococcaceae_Staphylococcus</text>
<rect x="529.8" y="661.2" width="14.1" height="8.4" fill="#b4001e"/>
<text x="549.2" y="669.35" font-family="'Liberation Sans', 'Noto Sans CJK SC', sans-serif" font-size="11.45" font-style="italic" textLength="52.84" lengthAdjust="spacingAndGlyphs">Shigella</text>
<rect x="529.8" y="673" width="14.1" height="8.4" fill="#5a50a0"/>
<text x="549.2" y="681.15" font-family="'Liberation Sans', 'Noto Sans CJK SC', sans-serif" font-size="11.45" font-style="italic" textLength="76.75" lengthAdjust="spacingAndGlyphs">Oscillospira</text>
<rect x="529.8" y="684.8" width="14.1" height="8.4" fill="#a0005a"/>
<text x="549.2" y="692.95" font-family="'Liberation Sans', 'Noto Sans CJK SC', sans-serif" font-size="11.45" font-style="italic" textLength="77.59" lengthAdjust="spacingAndGlyphs">Odoribacter</text>
<rect x="529.8" y="696.6" width="14.1" height="8.4" fill="#808080"/>
<text x="549.2" y="704.75" font-family="'Liberation Sans', 'Noto Sans CJK SC', sans-serif" font-size="11.45" font-style="italic" textLength="113.08" lengthAdjust="spacingAndGlyphs">Corynebacterium</text>
<rect x="529.8" y="708.4" width="14.1" height="8.4" fill="#b04060"/>
<text x="549.2" y="716.55" font-family="'Liberation Sans', 'Noto Sans CJK SC', sans-serif" font-size="11.45" font-style="italic" textLength="239.44" lengthAdjust="spacingAndGlyphs">Pseudomonadaceae_Pseudomonas</text>
<polygon points="135,986.3 135,965.58 154.25,907.96 154.25,986.3" fill="#3a4790" fill-opacity="0.3"/>
<polygon points="135,965.58 135,949.97 154.25,843.24 154.25,907.96" fill="#e80000" fill-opacity="0.3"/>
<polygon points="135,949.97 135,927.83 154.25,843.24 154.25,843.24" fill="#008a40" fill-opacity="0.3"/>
<polygon points="135,927.83 135,909.95 154.25,843.24 154.25,843.24" fill="#5c1878" fill-opacity="0.3"/>
<polygon points="135,909.95 135,902.57 154.25,840.69 154.25,843.24" fill="#087c7c" fill-opacity="0.3"/>
<polygon points="135,902.57 135,900.01 154.25,838.42 154.25,840.69" fill="#b4001e" fill-opacity="0.3"/>
<polygon points="135,900.01 135,894.33 154.25,835.58 154.25,838.42" fill="#5a50a0" fill-opacity="0.3"/>
<polygon points="135,894.33 135,892.91 154.25,834.73 154.25,835.58" fill="#a0005a" fill-opacity="0.3"/>
<polygon points="135,892.91 135,887.24 154.25,833.51 154.25,834.73" fill="#b04060" fill-opacity="0.3"/>
<polygon points="135,887.24 135,880.14 154.25,833.11 154.25,833.51" fill="#a87020" fill-opacity="0.3"/>
<polygon points="135,880.14 135,878.95 154.25,832.43 154.25,833.11" fill="#a0732a" fill-opacity="0.3"/>
<polygon points="135,878.95 135,876.77 154.25,831.43 154.25,832.43" fill="#7a3a70" fill-opacity="0.3"/>
<polygon points="135,876.77 135,875.84 154.25,831 154.25,831.43" fill="#5a6aa0" fill-opacity="0.3"/>
<polygon points="135,875.84 135,874.11 154.25,830.25 154.25,831" fill="#4a2a78" fill-opacity="0.3"/>
<polygon points="135,874.11 135,872.28 154.25,829.92 154.25,830.25" fill="#4a2a5a" fill-opacity="0.3"/>
<polygon points="135,872.28 135,870.97 154.25,829.01 154.25,829.92" fill="#606080" fill-opacity="0.3"/>
<polygon points="135,870.97 135,869.31 154.25,827.99 154.25,829.01" fill="#9a5068" fill-opacity="0.3"/>
<polygon points="135,869.31 135,868.61 154.25,827.16 154.25,827.99" fill="#8a6070" fill-opacity="0.3"/>
<polygon points="135,868.61 135,867.9 154.25,826.05 154.25,827.16" fill="#c05060" fill-opacity="0.3"/>
<polygon points="135,867.9 135,866.92 154.25,825.46 154.25,826.05" fill="#6a6a80" fill-opacity="0.3"/>
<polygon points="135,866.92 135,865 154.25,824.52 154.25,825.46" fill="#a08a60" fill-opacity="0.3"/>
<polygon points="135,865 135,863.58 154.25,823.67 154.25,824.52" fill="#9a3a5a" fill-opacity="0.3"/>
<polygon points="135,863.58 135,862.38 154.25,822.83 154.25,823.67" fill="#7a3a7a" fill-opacity="0.3"/>
<polygon points="135,862.38 135,860.65 154.25,822.11 154.25,822.83" fill="#6a3a7a" fill-opacity="0.3"/>
<polygon points="135,860.65 135,859.18 154.25,821.03 154.25,822.11" fill="#7a3a98" fill-opacity="0.3"/>
<polygon points="135,859.18 135,858.01 154.25,819.85 154.25,821.03" fill="#a04a80" fill-opacity="0.3"/>
<polygon points="135,858.01 135,855.88 154.25,819.11 154.25,819.85" fill="#4f5560" fill-opacity="0.3"/>
<polygon points="135,855.88 135,853.93 154.25,818.2 154.25,819.11" fill="#d05a1a" fill-opacity="0.3"/>
<polygon points="135,853.93 135,852.86 154.25,817.85 154.25,818.2" fill="#f07070" fill-opacity="0.3"/>
<polygon points="135,852.86 135,851.16 154.25,816.9 154.25,817.85" fill="#5a6a5a" fill-opacity="0.3"/>
<polygon points="135,851.16 135,849.54 154.25,816 154.25,816.9" fill="#2a6a7a" fill-opacity="0.3"/>
<polygon points="135,849.54 135,847.25 154.25,814.78 154.25,816" fill="#806060" fill-opacity="0.3"/>
<polygon points="135,847.25 135,845.24 154.25,813.71 154.25,814.78" fill="#5a6090" fill-opacity="0.3"/>
<polygon points="135,845.24 135,844.09 154.25,813.15 154.25,813.71" fill="#3a4a98" fill-opacity="0.3"/>
<polygon points="199.5,986.3 199.5,907.96 218.25,890.64 218.25,986.3" fill="#3a4790" fill-opacity="0.3"/>
<polygon points="199.5,907.96 199.5,843.24 218.25,868.5 218.25,890.64" fill="#e80000" fill-opacity="0.3"/>
<polygon points="199.5,843.24 199.5,840.69 218.25,864.25 218.25,868.5" fill="#087c7c" fill-opacity="0.3"/>
<polygon points="199.5,840.69 199.5,838.42 218.25,858.29 218.25,864.25" fill="#b4001e" fill-opacity="0.3"/>
<polygon points="199.5,838.42 199.5,835.58 218.25,856.01 218.25,858.29" fill="#5a50a0" fill-opacity="0.3"/>
<polygon points="199.5,835.58 199.5,834.73 218.25,854.88 218.25,856.01" fill="#a0005a" fill-opacity="0.3"/>
<polygon points="199.5,834.73 199.5,833.51 218.25,854.27 218.25,854.88" fill="#b04060" fill-opacity="0.3"/>
<polygon points="199.5,833.51 199.5,833.11 218.25,853.41 218.25,854.27" fill="#a87020" fill-opacity="0.3"/>
<polygon points="199.5,833.11 199.5,832.43 218.25,853.12 218.25,853.41" fill="#a0732a" fill-opacity="0.3"/>
<polygon points="199.5,832.43 199.5,831.43 218.25,852.45 218.25,853.12" fill="#7a3a70" fill-opacity="0.3"/>
<polygon points="199.5,831.43 199.5,831 218.25,852.03 218.25,852.45" fill="#5a6aa0" fill-opacity="0.3"/>
<polygon points="199.5,831 199.5,830.25 218.25,851.66 218.25,852.03" fill="#4a2a78" fill-opacity="0.3"/>
<polygon points="199.5,830.25 199.5,829.92 218.25,851.34 218.25,851.66" fill="#4a2a5a" fill-opacity="0.3"/>
<polygon points="199.5,829.92 199.5,829.01 218.25,850.4 218.25,851.34" fill="#606080" fill-opacity="0.3"/>
<polygon points="199.5,829.01 199.5,827.99 218.25,850.02 218.25,850.4" fill="#9a5068" fill-opacity="0.3"/>
<polygon points="199.5,827.99 199.5,827.16 218.25,849.53 218.25,850.02" fill="#8a6070" fill-opacity="0.3"/>
<polygon points="199.5,827.16 199.5,826.05 218.25,848.92 218.25,849.53" fill="#c05060" fill-opacity="0.3"/>
<polygon points="199.5,826.05 199.5,825.46 218.25,847.88 218.25,848.92" fill="#6a6a80" fill-opacity="0.3"/>
<polygon points="199.5,825.46 199.5,824.52 218.25,847.54 218.25,847.88" fill="#a08a60" fill-opacity="0.3"/>
<polygon points="199.5,824.52 199.5,823.67 218.25,846.87 218.25,847.54" fill="#9a3a5a" fill-opacity="0.3"/>
<polygon points="199.5,823.67 199.5,822.83 218.25,846.12 218.25,846.87" fill="#7a3a7a" fill-opacity="0.3"/>
<polygon points="199.5,822.83 199.5,822.11 218.25,845.07 218.25,846.12" fill="#6a3a7a" fill-opacity="0.3"/>
<polygon points="199.5,822.11 199.5,821.03 218.25,844.08 218.25,845.07" fill="#7a3a98" fill-opacity="0.3"/>
<polygon points="199.5,821.03 199.5,819.85 218.25,843.04 218.25,844.08" fill="#a04a80" fill-opacity="0.3"/>
<polygon points="199.5,819.85 199.5,819.11 218.25,842.53 218.25,843.04" fill="#4f5560" fill-opacity="0.3"/>
<polygon points="199.5,819.11 199.5,818.2 218.25,841.9 218.25,842.53" fill="#d05a1a" fill-opacity="0.3"/>
<polygon points="199.5,818.2 199.5,817.85 218.25,841.31 218.25,841.9" fill="#f07070" fill-opacity="0.3"/>
<polygon points="199.5,817.85 199.5,816.9 218.25,840.26 218.25,841.31" fill="#5a6a5a" fill-opacity="0.3"/>
<polygon points="199.5,816.9 199.5,816 218.25,839.14 218.25,840.26" fill="#2a6a7a" fill-opacity="0.3"/>
<polygon points="199.5,816 199.5,814.78 218.25,838.74 218.25,839.14" fill="#806060" fill-opacity="0.3"/>
<polygon points="199.5,814.78 199.5,813.71 218.25,838.32 218.25,838.74" fill="#5a6090" fill-opacity="0.3"/>
<polygon points="199.5,813.71 199.5,813.15 218.25,837.85 218.25,838.32" fill="#3a4a98" fill-opacity="0.3"/>
<polygon points="263.75,986.3 263.75,890.64 283,873.9 283,986.3" fill="#3a4790" fill-opacity="0.3"/>
<polygon points="263.75,890.64 263.75,868.5 283,837.56 283,873.9" fill="#e80000" fill-opacity="0.3"/>
<polygon points="263.75,868.5 263.75,864.25 283,835.58 283,837.56" fill="#087c7c" fill-opacity="0.3"/>
<polygon points="263.75,864.25 263.75,858.29 283,830.75 283,835.58" fill="#b4001e" fill-opacity="0.3"/>
<polygon points="263.75,858.29 263.75,856.01 283,829.05 283,830.75" fill="#5a50a0" fill-opacity="0.3"/>
<polygon points="263.75,856.01 263.75,854.88 283,822.8 283,829.05" fill="#a0005a" fill-opacity="0.3"/>
<polygon points="263.75,854.88 263.75,854.27 283,822.26 283,822.8" fill="#b04060" fill-opacity="0.3"/>
<polygon points="263.75,854.27 263.75,853.41 283,821.45 283,822.26" fill="#a87020" fill-opacity="0.3"/>
<polygon points="263.75,853.41 263.75,853.12 283,820.54 283,821.45" fill="#a0732a" fill-opacity="0.3"/>
<polygon points="263.75,853.12 263.75,852.45 283,819.96 283,820.54" fill="#7a3a70" fill-opacity="0.3"/>
<polygon points="263.75,852.45 263.75,852.03 283,819.65 283,819.96" fill="#5a6aa0" fill-opacity="0.3"/>
<polygon points="263.75,852.03 263.75,851.66 283,818.91 283,819.65" fill="#4a2a78" fill-opacity="0.3"/>
<polygon points="263.75,851.66 263.75,851.34 283,818.22 283,818.91" fill="#4a2a5a" fill-opacity="0.3"/>
<polygon points="263.75,851.34 263.75,850.4 283,817.33 283,818.22" fill="#606080" fill-opacity="0.3"/>
<polygon points="263.75,850.4 263.75,850.02 283,816.04 283,817.33" fill="#9a5068" fill-opacity="0.3"/>
<polygon points="263.75,850.02 263.75,849.53 283,815.03 283,816.04" fill="#8a6070" fill-opacity="0.3"/>
<polygon points="263.75,849.53 263.75,848.92 283,814.19 283,815.03" fill="#c05060" fill-opacity="0.3"/>
<polygon points="263.75,848.92 263.75,847.88 283,813.25 283,814.19" fill="#6a6a80" fill-opacity="0.3"/>
<polygon points="263.75,847.88 263.75,847.54 283,812.24 283,813.25" fill="#a08a60" fill-opacity="0.3"/>
<polygon points="263.75,847.54 263.75,846.87 283,811.88 283,812.24" fill="#9a3a5a" fill-opacity="0.3"/>
<polygon points="263.75,846.87 263.75,846.12 283,810.65 283,811.88" fill="#7a3a7a" fill-opacity="0.3"/>
<polygon points="263.75,846.12 263.75,845.07 283,809.54 283,810.65" fill="#6a3a7a" fill-opacity="0.3"/>
<polygon points="263.75,845.07 263.75,844.08 283,808.33 283,809.54" fill="#7a3a98" fill-opacity="0.3"/>
<polygon points="263.75,844.08 263.75,843.04 283,807.2 283,808.33" fill="#a04a80" fill-opacity="0.3"/>
<polygon points="263.75,843.04 263.75,842.53 283,806.49 283,807.2" fill="#4f5560" fill-opacity="0.3"/>
<polygon points="263.75,842.53 263.75,841.9 283,805.77 283,806.49" fill="#d05a1a" fill-opacity="0.3"/>
<polygon points="263.75,841.9 263.75,841.31 283,805.36 283,805.77" fill="#f07070" fill-opacity="0.3"/>
<polygon points="263.75,841.31 263.75,840.26 283,804.4 283,805.36" fill="#5a6a5a" fill-opacity="0.3"/>
<polygon points="263.75,840.26 263.75,839.14 283,804.03 283,804.4" fill="#2a6a7a" fill-opacity="0.3"/>
<polygon points="263.75,839.14 263.75,838.74 283,803.65 283,804.03" fill="#806060" fill-opacity="0.3"/>
<polygon points="263.75,838.74 263.75,838.32 283,803.13 283,803.65" fill="#5a6090" fill-opacity="0.3"/>
<polygon points="263.75,838.32 263.75,837.85 283,802.65 283,803.13" fill="#3a4a98" fill-opacity="0.3"/>
<rect x="90.5" y="965.58" width="44.5" height="20.72" fill="#3a4790"/>
<rect x="90.5" y="949.97" width="44.5" height="15.61" fill="#e80000"/>
<rect x="90.5" y="927.83" width="44.5" height="22.14" fill="#008a40"/>
<rect x="90.5" y="909.95" width="44.5" height="17.88" fill="#5c1878"/>
<rect x="90.5" y="902.57" width="44.5" height="7.38" fill="#087c7c"/>
<rect x="90.5" y="900.01" width="44.5" height="2.55" fill="#b4001e"/>
<rect x="90.5" y="894.33" width="44.5" height="5.68" fill="#5a50a0"/>
<rect x="90.5" y="892.91" width="44.5" height="1.42" fill="#a0005a"/>
<rect x="90.5" y="887.24" width="44.5" height="5.68" fill="#b04060"/>
<rect x="90.5" y="880.14" width="44.5" height="7.1" fill="#a87020"/>
<rect x="90.5" y="878.95" width="44.5" height="1.19" fill="#a0732a"/>
<rect x="90.5" y="876.77" width="44.5" height="2.18" fill="#7a3a70"/>
<rect x="90.5" y="875.84" width="44.5" height="0.94" fill="#5a6aa0"/>
<rect x="90.5" y="874.11" width="44.5" height="1.72" fill="#4a2a78"/>
<rect x="90.5" y="872.28" width="44.5" height="1.83" fill="#4a2a5a"/>
<rect x="90.5" y="870.97" width="44.5" height="1.31" fill="#606080"/>
<rect x="90.5" y="869.31" width="44.5" height="1.66" fill="#9a5068"/>
<rect x="90.5" y="868.61" width="44.5" height="0.71" fill="#8a6070"/>
<rect x="90.5" y="867.9" width="44.5" height="0.7" fill="#c05060"/>
<rect x="90.5" y="866.92" width="44.5" height="0.99" fill="#6a6a80"/>
<rect x="90.5" y="865" width="44.5" height="1.91" fill="#a08a60"/>
<rect x="90.5" y="863.58" width="44.5" height="1.42" fill="#9a3a5a"/>
<rect x="90.5" y="862.38" width="44.5" height="1.2" fill="#7a3a7a"/>
<rect x="90.5" y="860.65" width="44.5" height="1.73" fill="#6a3a7a"/>
<rect x="90.5" y="859.18" width="44.5" height="1.47" fill="#7a3a98"/>
<rect x="90.5" y="858.01" width="44.5" height="1.17" fill="#a04a80"/>
<rect x="90.5" y="855.88" width="44.5" height="2.14" fill="#4f5560"/>
<rect x="90.5" y="853.93" width="44.5" height="1.95" fill="#d05a1a"/>
<rect x="90.5" y="852.86" width="44.5" height="1.06" fill="#f07070"/>
<rect x="90.5" y="851.16" width="44.5" height="1.71" fill="#5a6a5a"/>
<rect x="90.5" y="849.54" width="44.5" height="1.61" fill="#2a6a7a"/>
<rect x="90.5" y="847.25" width="44.5" height="2.29" fill="#806060"/>
<rect x="90.5" y="845.24" width="44.5" height="2.01" fill="#5a6090"/>
<rect x="90.5" y="844.09" width="44.5" height="1.15" fill="#3a4a98"/>
<rect x="154.25" y="907.96" width="45.25" height="78.34" fill="#3a4790"/>
<rect x="154.25" y="843.24" width="45.25" height="64.72" fill="#e80000"/>
<rect x="154.25" y="840.69" width="45.25" height="2.55" fill="#087c7c"/>
<rect x="154.25" y="838.42" width="45.25" height="2.27" fill="#b4001e"/>
<rect x="154.25" y="835.58" width="45.25" height="2.84" fill="#5a50a0"/>
<rect x="154.25" y="834.73" width="45.25" height="0.85" fill="#a0005a"/>
<rect x="154.25" y="833.51" width="45.25" height="1.22" fill="#b04060"/>
<rect x="154.25" y="833.11" width="45.25" height="0.4" fill="#a87020"/>
<rect x="154.25" y="832.43" width="45.25" height="0.68" fill="#a0732a"/>
<rect x="154.25" y="831.43" width="45.25" height="1" fill="#7a3a70"/>
<rect x="154.25" y="831" width="45.25" height="0.43" fill="#5a6aa0"/>
<rect x="154.25" y="830.25" width="45.25" height="0.75" fill="#4a2a78"/>
<rect x="154.25" y="829.92" width="45.25" height="0.32" fill="#4a2a5a"/>
<rect x="154.25" y="829.01" width="45.25" height="0.92" fill="#606080"/>
<rect x="154.25" y="827.99" width="45.25" height="1.01" fill="#9a5068"/>
<rect x="154.25" y="827.16" width="45.25" height="0.83" fill="#8a6070"/>
<rect x="154.25" y="826.05" width="45.25" height="1.12" fill="#c05060"/>
<rect x="154.25" y="825.46" width="45.25" height="0.58" fill="#6a6a80"/>
<rect x="154.25" y="824.52" width="45.25" height="0.95" fill="#a08a60"/>
<rect x="154.25" y="823.67" width="45.25" height="0.85" fill="#9a3a5a"/>
<rect x="154.25" y="822.83" width="45.25" height="0.84" fill="#7a3a7a"/>
<rect x="154.25" y="822.11" width="45.25" height="0.72" fill="#6a3a7a"/>
<rect x="154.25" y="821.03" width="45.25" height="1.08" fill="#7a3a98"/>
<rect x="154.25" y="819.85" width="45.25" height="1.18" fill="#a04a80"/>
<rect x="154.25" y="819.11" width="45.25" height="0.74" fill="#4f5560"/>
<rect x="154.25" y="818.2" width="45.25" height="0.92" fill="#d05a1a"/>
<rect x="154.25" y="817.85" width="45.25" height="0.34" fill="#f07070"/>
<rect x="154.25" y="816.9" width="45.25" height="0.95" fill="#5a6a5a"/>
<rect x="154.25" y="816" width="45.25" height="0.9" fill="#2a6a7a"/>
<rect x="154.25" y="814.78" width="45.25" height="1.23" fill="#806060"/>
<rect x="154.25" y="813.71" width="45.25" height="1.07" fill="#5a6090"/>
<rect x="154.25" y="813.15" width="45.25" height="0.56" fill="#3a4a98"/>
<rect x="218.25" y="890.64" width="45.5" height="95.66" fill="#3a4790"/>
<rect x="218.25" y="868.5" width="45.5" height="22.14" fill="#e80000"/>
<rect x="218.25" y="864.25" width="45.5" height="4.26" fill="#087c7c"/>
<rect x="218.25" y="858.29" width="45.5" height="5.96" fill="#b4001e"/>
<rect x="218.25" y="856.01" width="45.5" height="2.27" fill="#5a50a0"/>
<rect x="218.25" y="854.88" width="45.5" height="1.14" fill="#a0005a"/>
<rect x="218.25" y="854.27" width="45.5" height="0.61" fill="#b04060"/>
<rect x="218.25" y="853.41" width="45.5" height="0.86" fill="#a87020"/>
<rect x="218.25" y="853.12" width="45.5" height="0.29" fill="#a0732a"/>
<rect x="218.25" y="852.45" width="45.5" height="0.68" fill="#7a3a70"/>
<rect x="218.25" y="852.03" width="45.5" height="0.42" fill="#5a6aa0"/>
<rect x="218.25" y="851.66" width="45.5" height="0.37" fill="#4a2a78"/>
<rect x="218.25" y="851.34" width="45.5" height="0.32" fill="#4a2a5a"/>
<rect x="218.25" y="850.4" width="45.5" height="0.95" fill="#606080"/>
<rect x="218.25" y="850.02" width="45.5" height="0.38" fill="#9a5068"/>
<rect x="218.25" y="849.53" width="45.5" height="0.49" fill="#8a6070"/>
<rect x="218.25" y="848.92" width="45.5" height="0.61" fill="#c05060"/>
<rect x="218.25" y="847.88" width="45.5" height="1.04" fill="#6a6a80"/>
<rect x="218.25" y="847.54" width="45.5" height="0.34" fill="#a08a60"/>
<rect x="218.25" y="846.87" width="45.5" height="0.66" fill="#9a3a5a"/>
<rect x="218.25" y="846.12" width="45.5" height="0.75" fill="#7a3a7a"/>
<rect x="218.25" y="845.07" width="45.5" height="1.05" fill="#6a3a7a"/>
<rect x="218.25" y="844.08" width="45.5" height="0.99" fill="#7a3a98"/>
<rect x="218.25" y="843.04" width="45.5" height="1.03" fill="#a04a80"/>
<rect x="218.25" y="842.53" width="45.5" height="0.51" fill="#4f5560"/>
<rect x="218.25" y="841.9" width="45.5" height="0.63" fill="#d05a1a"/>
<rect x="218.25" y="841.31" width="45.5" height="0.58" fill="#f07070"/>
<rect x="218.25" y="840.26" width="45.5" height="1.05" fill="#5a6a5a"/>
<rect x="218.25" y="839.14" width="45.5" height="1.12" fill="#2a6a7a"/>
<rect x="218.25" y="838.74" width="45.5" height="0.4" fill="#806060"/>
<rect x="218.25" y="838.32" width="45.5" height="0.42" fill="#5a6090"/>
<rect x="218.25" y="837.85" width="45.5" height="0.47" fill="#3a4a98"/>
<rect x="283" y="873.9" width="45.25" height="112.4" fill="#3a4790"/>
<rect x="283" y="837.56" width="45.25" height="36.33" fill="#e80000"/>
<rect x="283" y="835.58" width="45.25" height="1.99" fill="#087c7c"/>
<rect x="283" y="830.75" width="45.25" height="4.83" fill="#b4001e"/>
<rect x="283" y="829.05" width="45.25" height="1.7" fill="#5a50a0"/>
<rect x="283" y="822.8" width="45.25" height="6.24" fill="#a0005a"/>
<rect x="283" y="822.26" width="45.25" height="0.55" fill="#b04060"/>
<rect x="283" y="821.45" width="45.25" height="0.81" fill="#a87020"/>
<rect x="283" y="820.54" width="45.25" height="0.91" fill="#a0732a"/>
<rect x="283" y="819.96" width="45.25" height="0.58" fill="#7a3a70"/>
<rect x="283" y="819.65" width="45.25" height="0.31" fill="#5a6aa0"/>
<rect x="283" y="818.91" width="45.25" height="0.74" fill="#4a2a78"/>
<rect x="283" y="818.22" width="45.25" height="0.69" fill="#4a2a5a"/>
<rect x="283" y="817.33" width="45.25" height="0.89" fill="#606080"/>
<rect x="283" y="816.04" width="45.25" height="1.29" fill="#9a5068"/>
<rect x="283" y="815.03" width="45.25" height="1.02" fill="#8a6070"/>
<rect x="283" y="814.19" width="45.25" height="0.84" fill="#c05060"/>
<rect x="283" y="813.25" width="45.25" height="0.94" fill="#6a6a80"/>
<rect x="283" y="812.24" width="45.25" height="1" fill="#a08a60"/>
<rect x="283" y="811.88" width="45.25" height="0.36" fill="#9a3a5a"/>
<rect x="283" y="810.65" width="45.25" height="1.23" fill="#7a3a7a"/>
<rect x="283" y="809.54" width="45.25" height="1.11" fill="#6a3a7a"/>
<rect x="283" y="808.33" width="45.25" height="1.21" fill="#7a3a98"/>
<rect x="283" y="807.2" width="45.25" height="1.13" fill="#a04a80"/>
<rect x="283" y="806.49" width="45.25" height="0.71" fill="#4f5560"/>
<rect x="283" y="805.77" width="45.25" height="0.72" fill="#d05a1a"/>
<rect x="283" y="805.36" width="45.25" height="0.41" fill="#f07070"/>
<rect x="283" y="804.4" width="45.25" height="0.96" fill="#5a6a5a"/>
<rect x="283" y="804.03" width="45.25" height="0.37" fill="#2a6a7a"/>
<rect x="283" y="803.65" width="45.25" height="0.38" fill="#806060"/>
<rect x="283" y="803.13" width="45.25" height="0.52" fill="#5a6090"/>
<rect x="283" y="802.65" width="45.25" height="0.47" fill="#3a4a98"/>
<line x1="70.6" y1="799.4" x2="70.6" y2="987" stroke="#8a8a8a" stroke-width="1.4"/>
<line x1="70.6" y1="986.3" x2="340" y2="986.3" stroke="#8a8a8a" stroke-width="1.4"/>
<line x1="66.5" y1="986.3" x2="70.6" y2="986.3" stroke="#000" stroke-width="1.3"/>
<text x="60.08" y="989.65" font-family="'Liberation Sans', 'Noto Sans CJK SC', sans-serif" font-size="9.72" textLength="5.79" lengthAdjust="spacingAndGlyphs">0</text>
<line x1="66.5" y1="972.11" x2="70.6" y2="972.11" stroke="#000" stroke-width="1.3"/>
<text x="60.08" y="975.46" font-family="'Liberation Sans', 'Noto Sans CJK SC', sans-serif" font-size="9.86" textLength="5.79" lengthAdjust="spacingAndGlyphs">5</text>
<line x1="66.5" y1="957.92" x2="70.6" y2="957.92" stroke="#000" stroke-width="1.3"/>
<text x="53.84" y="961.27" font-family="'Liberation Sans', 'Noto Sans CJK SC', sans-serif" font-size="9.72" textLength="12.01" lengthAdjust="spacingAndGlyphs">10</text>
<line x1="66.5" y1="943.72" x2="70.6" y2="943.72" stroke="#000" stroke-width="1.3"/>
<text x="53.84" y="947.07" font-family="'Liberation Sans', 'Noto Sans CJK SC', sans-serif" font-size="9.86" textLength="12.01" lengthAdjust="spacingAndGlyphs">15</text>
<line x1="66.5" y1="929.53" x2="70.6" y2="929.53" stroke="#000" stroke-width="1.3"/>
<text x="54.18" y="932.88" font-family="'Liberation Sans', 'Noto Sans CJK SC', sans-serif" font-size="9.72" textLength="11.66" lengthAdjust="spacingAndGlyphs">20</text>
<line x1="66.5" y1="915.34" x2="70.6" y2="915.34" stroke="#000" stroke-width="1.3"/>
<text x="54.18" y="918.69" font-family="'Liberation Sans', 'Noto Sans CJK SC', sans-serif" font-size="9.72" textLength="11.66" lengthAdjust="spacingAndGlyphs">25</text>
<line x1="66.5" y1="901.15" x2="70.6" y2="901.15" stroke="#000" stroke-width="1.3"/>
<text x="54.28" y="904.5" font-family="'Liberation Sans', 'Noto Sans CJK SC', sans-serif" font-size="9.72" textLength="11.55" lengthAdjust="spacingAndGlyphs">30</text>
<line x1="66.5" y1="886.95" x2="70.6" y2="886.95" stroke="#000" stroke-width="1.3"/>
<text x="54.28" y="890.31" font-family="'Liberation Sans', 'Noto Sans CJK SC', sans-serif" font-size="9.72" textLength="11.55" lengthAdjust="spacingAndGlyphs">35</text>
<line x1="66.5" y1="872.76" x2="70.6" y2="872.76" stroke="#000" stroke-width="1.3"/>
<text x="54.5" y="876.11" font-family="'Liberation Sans', 'Noto Sans CJK SC', sans-serif" font-size="9.72" textLength="11.33" lengthAdjust="spacingAndGlyphs">40</text>
<line x1="66.5" y1="858.57" x2="70.6" y2="858.57" stroke="#000" stroke-width="1.3"/>
<text x="54.5" y="861.92" font-family="'Liberation Sans', 'Noto Sans CJK SC', sans-serif" font-size="9.86" textLength="11.33" lengthAdjust="spacingAndGlyphs">45</text>
<line x1="66.5" y1="844.38" x2="70.6" y2="844.38" stroke="#000" stroke-width="1.3"/>
<text x="54.28" y="847.73" font-family="'Liberation Sans', 'Noto Sans CJK SC', sans-serif" font-size="9.72" textLength="11.55" lengthAdjust="spacingAndGlyphs">50</text>
<line x1="66.5" y1="830.18" x2="70.6" y2="830.18" stroke="#000" stroke-width="1.3"/>
<text x="54.28" y="833.54" font-family="'Liberation Sans', 'Noto Sans CJK SC', sans-serif" font-size="9.86" textLength="11.55" lengthAdjust="spacingAndGlyphs">55</text>
<line x1="66.5" y1="815.99" x2="70.6" y2="815.99" stroke="#000" stroke-width="1.3"/>
<text x="54.18" y="819.35" font-family="'Liberation Sans', 'Noto Sans CJK SC', sans-serif" font-size="9.72" textLength="11.66" lengthAdjust="spacingAndGlyphs">60</text>
<line x1="66.5" y1="801.8" x2="70.6" y2="801.8" stroke="#000" stroke-width="1.3"/>
<text x="54.18" y="805.15" font-family="'Liberation Sans', 'Noto Sans CJK SC', sans-serif" font-size="9.72" textLength="11.66" lengthAdjust="spacingAndGlyphs">65</text>
<text transform="translate(40.58,961.01) rotate(-90)" font-family="'Liberation Sans', 'Noto Sans CJK SC', sans-serif" font-size="10.11" textLength="135.75" lengthAdjust="spacingAndGlyphs">Relative Abundance (%)</text>
<text x="113" y="998.8" font-family="'Liberation Sans', 'Noto Sans CJK SC', sans-serif" font-size="9.2" text-anchor="middle">A</text>
<text x="176.75" y="998.8" font-family="'Liberation Sans', 'Noto Sans CJK SC', sans-serif" font-size="9.2" text-anchor="middle">B</text>
<text x="240.75" y="998.8" font-family="'Liberation Sans', 'Noto Sans CJK SC', sans-serif" font-size="9.2" text-anchor="middle">C</text>
<text x="305.5" y="998.8" font-family="'Liberation Sans', 'Noto Sans CJK SC', sans-serif" font-size="9.2" text-anchor="middle">D</text>
<rect x="350.2" y="795.8" width="12.8" height="8.9" fill="#a0732a"/>
<text x="367.6" y="804.05" font-family="'Liberation Sans', 'Noto Sans CJK SC', sans-serif" font-size="11.01" font-style="italic" textLength="99.02" lengthAdjust="spacingAndGlyphs">Corynebacterium</text>
<rect x="350.2" y="808.7" width="12.8" height="8.9" fill="#4f5560"/>
<text x="367.6" y="816.95" font-family="'Liberation Sans', 'Noto Sans CJK SC', sans-serif" font-size="11.01" font-style="italic" textLength="57.83" lengthAdjust="spacingAndGlyphs">Prevotella</text>
<rect x="350.2" y="821.6" width="12.8" height="8.9" fill="#4a5288"/>
<text x="367.6" y="829.85" font-family="'Liberation Sans', 'Noto Sans CJK SC', sans-serif" font-size="11.01" font-style="italic" textLength="55.41" lengthAdjust="spacingAndGlyphs">Weissella</text>
<rect x="350.2" y="834.5" width="12.8" height="8.9" fill="#8a5a50"/>
<text x="367.6" y="842.75" font-family="'Liberation Sans', 'Noto Sans CJK SC', sans-serif" font-size="11.01" font-style="italic" textLength="209.67" lengthAdjust="spacingAndGlyphs">Pseudomonadaceae_Pseudomonas</text>
<rect x="350.2" y="847.4" width="12.8" height="8.9" fill="#9a3a5a"/>
<text x="367.6" y="855.65" font-family="'Liberation Sans', 'Noto Sans CJK SC', sans-serif" font-size="11.01" font-style="italic" textLength="72.28" lengthAdjust="spacingAndGlyphs">Helicobacter</text>
<rect x="350.2" y="860.3" width="12.8" height="8.9" fill="#8a3a80"/>
<text x="367.6" y="868.55" font-family="'Liberation Sans', 'Noto Sans CJK SC', sans-serif" font-size="11.01" font-style="italic" textLength="85.29" lengthAdjust="spacingAndGlyphs">Ruminococcus</text>
<rect x="350.2" y="873.2" width="12.8" height="8.9" fill="#9a5068"/>
<text x="367.6" y="881.45" font-family="'Liberation Sans', 'Noto Sans CJK SC', sans-serif" font-size="11.01" font-style="italic" textLength="75.9" lengthAdjust="spacingAndGlyphs">Coprococcus</text>
<rect x="350.2" y="886.1" width="12.8" height="8.9" fill="#5a6090"/>
<text x="367.6" y="894.35" font-family="'Liberation Sans', 'Noto Sans CJK SC', sans-serif" font-size="11.01" font-style="italic" textLength="75.9" lengthAdjust="spacingAndGlyphs">Adlercreutzia</text>
<rect x="350.2" y="899" width="12.8" height="8.9" fill="#7a3a70"/>
<text x="367.6" y="907.25" font-family="'Liberation Sans', 'Noto Sans CJK SC', sans-serif" font-size="11.01" font-style="italic" textLength="75.17" lengthAdjust="spacingAndGlyphs">Akkermansia</text>
<rect x="350.2" y="911.9" width="12.8" height="8.9" fill="#d05a1a"/>
<text x="367.6" y="920.15" font-family="'Liberation Sans', 'Noto Sans CJK SC', sans-serif" font-size="11.01" font-style="italic" textLength="185.76" lengthAdjust="spacingAndGlyphs">Erysipelotrichaceae_Clostridium</text>
<rect x="350.2" y="924.8" width="12.8" height="8.9" fill="#3a6a4a"/>
<text x="367.6" y="933.05" font-family="'Liberation Sans', 'Noto Sans CJK SC', sans-serif" font-size="11.01" font-style="italic" textLength="72.29" lengthAdjust="spacingAndGlyphs">Lactococcus</text>
<rect x="350.2" y="954" width="12.8" height="9" fill="#4a2a78"/>
<text x="366" y="962.3" font-family="'Liberation Sans', 'Noto Sans CJK SC', sans-serif" font-size="11.01" font-style="italic" textLength="72.52" lengthAdjust="spacingAndGlyphs">Desulfovibrio</text>
<rect x="350.2" y="966.63" width="12.8" height="9" fill="#5a6a5a"/>
<text x="366" y="974.93" font-family="'Liberation Sans', 'Noto Sans CJK SC', sans-serif" font-size="11.01" font-style="italic" textLength="65.55" lengthAdjust="spacingAndGlyphs">Aerococcus</text>
<rect x="350.2" y="979.26" width="12.8" height="9" fill="#b02a3a"/>
<text x="366" y="987.56" font-family="'Liberation Sans', 'Noto Sans CJK SC', sans-serif" font-size="11.01" font-style="italic" textLength="57.18" lengthAdjust="spacingAndGlyphs">Roseburia</text>
<rect x="350.2" y="991.89" width="12.8" height="9" fill="#7a3a98"/>
<text x="366" y="1000.19" font-family="'Liberation Sans', 'Noto Sans CJK SC', sans-serif" font-size="11.01" font-style="italic" textLength="203.65" lengthAdjust="spacingAndGlyphs">Staphylococcaceae_Staphylococcus</text>
<rect x="350.2" y="1004.52" width="12.8" height="9" fill="#a03a60"/>
<text x="366" y="1012.82" font-family="'Liberation Sans', 'Noto Sans CJK SC', sans-serif" font-size="11.01" font-style="italic" textLength="179.93" lengthAdjust="spacingAndGlyphs">Enterococcaceae_Enterococcus</text>
<rect x="350.2" y="1017.15" width="12.8" height="9" fill="#6a6a80"/>
<text x="366" y="1025.45" font-family="'Liberation Sans', 'Noto Sans CJK SC', sans-serif" font-size="11.01" font-style="italic" textLength="53.68" lengthAdjust="spacingAndGlyphs">Flexispira</text>
<rect x="350.2" y="1029.78" width="12.8" height="9" fill="#d02020"/>
<text x="366" y="1038.08" font-family="'Liberation Sans', 'Noto Sans CJK SC', sans-serif" font-size="11.01" font-style="italic" textLength="29.99" lengthAdjust="spacingAndGlyphs">AF12</text>
<rect x="350.2" y="1042.41" width="12.8" height="9" fill="#5a7a2a"/>
<text x="366" y="1050.71" font-family="'Liberation Sans', 'Noto Sans CJK SC', sans-serif" font-size="11.01" font-style="italic" textLength="72.49" lengthAdjust="spacingAndGlyphs">Mucispirillum</text>
<rect x="350.2" y="1055.04" width="12.8" height="9" fill="#4a2a5a"/>
<text x="366" y="1063.34" font-family="'Liberation Sans', 'Noto Sans CJK SC', sans-serif" font-size="11.01" font-style="italic" textLength="89.25" lengthAdjust="spacingAndGlyphs">[Ruminococcus]</text>
<rect x="350.2" y="1067.67" width="12.8" height="9" fill="#2a6a7a"/>
<text x="366" y="1075.97" font-family="'Liberation Sans', 'Noto Sans CJK SC', sans-serif" font-size="11.01" font-style="italic" textLength="46.72" lengthAdjust="spacingAndGlyphs">Alistipes</text>
<rect x="350.2" y="1080.3" width="12.8" height="9" fill="#a03a30"/>
<text x="366" y="1088.6" font-family="'Liberation Sans', 'Noto Sans CJK SC', sans-serif" font-size="11.01" font-style="italic" textLength="64.6" lengthAdjust="spacingAndGlyphs">Turicibacter</text>
<rect x="593" y="790.7" width="15.6" height="8.9" fill="#7a3a7a"/>
<text x="616.3" y="798.95" font-family="'Liberation Sans', 'Noto Sans CJK SC', sans-serif" font-size="11.01" font-style="italic" textLength="101.32" lengthAdjust="spacingAndGlyphs">Vagococcus</text>
<rect x="593" y="803" width="15.6" height="8.9" fill="#a01a5a"/>
<text x="616.3" y="811.25" font-family="'Liberation Sans', 'Noto Sans CJK SC', sans-serif" font-size="11.01" font-style="italic" textLength="92.64" lengthAdjust="spacingAndGlyphs">Morganella</text>
<rect x="593" y="815.3" width="15.6" height="8.9" fill="#8a6070"/>
<text x="616.3" y="823.55" font-family="'Liberation Sans', 'Noto Sans CJK SC', sans-serif" font-size="11.01" font-style="italic" textLength="79.11" lengthAdjust="spacingAndGlyphs">Sutterella</text>
<rect x="593" y="827.6" width="15.6" height="8.9" fill="#3a4a98"/>
<text x="616.3" y="835.85" font-family="'Liberation Sans', 'Noto Sans CJK SC', sans-serif" font-size="11.01" font-style="italic" textLength="53.08" lengthAdjust="spacingAndGlyphs">Delftia</text>
<rect x="593" y="839.9" width="15.6" height="8.9" fill="#5a6aa0"/>
<text x="616.3" y="848.15" font-family="'Liberation Sans', 'Noto Sans CJK SC', sans-serif" font-size="11.01" font-style="italic" textLength="102" lengthAdjust="spacingAndGlyphs">Allobaculum</text>
<rect x="593" y="852.2" width="15.6" height="8.9" fill="#f07070"/>
<text x="616.3" y="860.45" font-family="'Liberation Sans', 'Noto Sans CJK SC', sans-serif" font-size="11.01" font-style="italic" textLength="118.63" lengthAdjust="spacingAndGlyphs">Ochrobactrum</text>
<rect x="593" y="864.5" width="15.6" height="8.9" fill="#2a8a5a"/>
<text x="616.3" y="872.75" font-family="'Liberation Sans', 'Noto Sans CJK SC', sans-serif" font-size="11.01" font-style="italic" textLength="141.55" lengthAdjust="spacingAndGlyphs">Dehalobacterium</text>
<rect x="593" y="876.8" width="15.6" height="8.9" fill="#6a3a7a"/>
<text x="616.3" y="885.05" font-family="'Liberation Sans', 'Noto Sans CJK SC', sans-serif" font-size="11.01" font-style="italic" textLength="125.96" lengthAdjust="spacingAndGlyphs">Elizabethkingia</text>
<rect x="593" y="889.1" width="15.6" height="8.9" fill="#2a7a7a"/>
<text x="616.3" y="897.35" font-family="'Liberation Sans', 'Noto Sans CJK SC', sans-serif" font-size="11.01" font-style="italic" textLength="158.23" lengthAdjust="spacingAndGlyphs">Stenotrophomonas</text>
<rect x="593" y="901.4" width="15.6" height="8.9" fill="#c05060"/>
<text x="616.3" y="909.65" font-family="'Liberation Sans', 'Noto Sans CJK SC', sans-serif" font-size="11.01" font-style="italic" textLength="121.77" lengthAdjust="spacingAndGlyphs">Agrobacterium</text>
<rect x="593" y="913.7" width="15.6" height="8.9" fill="#7a70a0"/>
<text x="616.3" y="921.95" font-family="'Liberation Sans', 'Noto Sans CJK SC', sans-serif" font-size="11.01" font-style="italic" textLength="64.53" lengthAdjust="spacingAndGlyphs">Proteus</text>
<rect x="588.2" y="955" width="13.8" height="10.2" fill="#a04a80"/>
<text x="607.3" y="964.4" font-family="'Liberation Sans', 'Noto Sans CJK SC', sans-serif" font-size="12.46" font-style="italic" textLength="96.88" lengthAdjust="spacingAndGlyphs">Streptococcus</text>
<rect x="588.2" y="969.8" width="13.8" height="10.2" fill="#808080"/>
<text x="607.3" y="979.2" font-family="'Liberation Sans', 'Noto Sans CJK SC', sans-serif" font-size="12.46" font-style="italic" textLength="164.02" lengthAdjust="spacingAndGlyphs">Candidatus_Arthromitus</text>
<rect x="588.2" y="984.6" width="13.8" height="10.2" fill="#b07080"/>
<text x="607.3" y="994" font-family="'Liberation Sans', 'Noto Sans CJK SC', sans-serif" font-size="12.46" font-style="italic" textLength="94.33" lengthAdjust="spacingAndGlyphs">[Eubacterium]</text>
<rect x="588.2" y="999.4" width="13.8" height="10.2" fill="#a08a60"/>
<text x="607.3" y="1008.8" font-family="'Liberation Sans', 'Noto Sans CJK SC', sans-serif" font-size="12.46" font-style="italic" textLength="106.24" lengthAdjust="spacingAndGlyphs">Brevundimonas</text>
<rect x="588.2" y="1014.2" width="13.8" height="10.2" fill="#505560"/>
<text x="607.3" y="1023.6" font-family="'Liberation Sans', 'Noto Sans CJK SC', sans-serif" font-size="12.46" font-style="italic" textLength="83.85" lengthAdjust="spacingAndGlyphs">Wautersiella</text>
<rect x="588.2" y="1029" width="13.8" height="10.2" fill="#606080"/>
<text x="607.3" y="1038.4" font-family="'Liberation Sans', 'Noto Sans CJK SC', sans-serif" font-size="12.46" font-style="italic" textLength="48.17" lengthAdjust="spacingAndGlyphs">cc_115</text>
<rect x="588.2" y="1043.8" width="13.8" height="10.2" fill="#806060"/>
<text x="607.3" y="1053.2" font-family="'Liberation Sans', 'Noto Sans CJK SC', sans-serif" font-size="12.46" font-style="italic" textLength="85.84" lengthAdjust="spacingAndGlyphs">Burkholderia</text>
<rect x="798.3" y="791.2" width="14.6" height="9.8" fill="#3a4790"/>
<text x="818" y="800.5" font-family="'Liberation Sans', 'Noto Sans CJK SC', sans-serif" font-size="12.75" font-style="italic" textLength="89.65" lengthAdjust="spacingAndGlyphs">Lactobacillus</text>
<rect x="798.3" y="804.6" width="14.6" height="9.8" fill="#e80000"/>
<text x="818" y="813.9" font-family="'Liberation Sans', 'Noto Sans CJK SC', sans-serif" font-size="12.75" font-style="italic" textLength="81.89" lengthAdjust="spacingAndGlyphs">Bacteroides</text>
<rect x="798.3" y="818" width="14.6" height="9.8" fill="#008a40"/>
<text x="818" y="827.3" font-family="'Liberation Sans', 'Noto Sans CJK SC', sans-serif" font-size="12.75" font-style="italic" textLength="94.82" lengthAdjust="spacingAndGlyphs">Acinetobacter</text>
<rect x="798.3" y="831.4" width="14.6" height="9.8" fill="#5c1878"/>
<text x="818" y="840.7" font-family="'Liberation Sans', 'Noto Sans CJK SC', sans-serif" font-size="12.75" font-style="italic" textLength="55.18" lengthAdjust="spacingAndGlyphs">Shigella</text>
<rect x="798.3" y="844.8" width="14.6" height="9.8" fill="#087c7c"/>
<text x="818" y="854.1" font-family="'Liberation Sans', 'Noto Sans CJK SC', sans-serif" font-size="12.75" font-style="italic" textLength="81.02" lengthAdjust="spacingAndGlyphs">Odoribacter</text>
<rect x="798.3" y="858.2" width="14.6" height="9.8" fill="#b4001e"/>
<text x="818" y="867.5" font-family="'Liberation Sans', 'Noto Sans CJK SC', sans-serif" font-size="12.75" font-style="italic" textLength="77.58" lengthAdjust="spacingAndGlyphs">[Prevotella]</text>
<rect x="798.3" y="871.6" width="14.6" height="9.8" fill="#5a50a0"/>
<text x="818" y="880.9" font-family="'Liberation Sans', 'Noto Sans CJK SC', sans-serif" font-size="12.75" font-style="italic" textLength="80.14" lengthAdjust="spacingAndGlyphs">Oscillospira</text>
<rect x="798.3" y="885" width="14.6" height="9.8" fill="#a0005a"/>
<text x="818" y="894.3" font-family="'Liberation Sans', 'Noto Sans CJK SC', sans-serif" font-size="12.75" font-style="italic" textLength="184.44" lengthAdjust="spacingAndGlyphs">Clostridiaceae_Clostridium</text>
<rect x="798.3" y="898.4" width="14.6" height="9.8" fill="#808080"/>
<text x="818" y="907.7" font-family="'Liberation Sans', 'Noto Sans CJK SC', sans-serif" font-size="12.75" font-style="italic" textLength="112.93" lengthAdjust="spacingAndGlyphs">Parabacteroides</text>
<rect x="798.3" y="911.8" width="14.6" height="9.8" fill="#b04060"/>
<text x="818" y="921.1" font-family="'Liberation Sans', 'Noto Sans CJK SC', sans-serif" font-size="12.75" font-style="italic" textLength="63.79" lengthAdjust="spacingAndGlyphs">Rikenella</text>
<text x="972.11" y="372.5" font-family="'Liberation Serif', 'Noto Serif CJK SC', serif" font-size="53.85" textLength="30.36" lengthAdjust="spacingAndGlyphs">F</text>
<rect x="1034" y="347" width="258.5" height="37.5" fill="#d9d9d9"/>
<rect x="1034" y="347" width="258.5" height="404" fill="none" stroke="#3a3a3a" stroke-width="1.6"/>
<line x1="1034" y1="384.5" x2="1292.5" y2="384.5" stroke="#3a3a3a" stroke-width="1.6"/>
<text x="1116.74" y="373.02" font-family="'Liberation Sans', 'Noto Sans CJK SC', sans-serif" font-size="23.29" fill="#17223b" textLength="89.17" lengthAdjust="spacingAndGlyphs" stroke="#17223b" stroke-width="0.4">Chao1</text>
<text x="1115.48" y="404.71" font-family="'Liberation Sans', 'Noto Sans CJK SC', sans-serif" font-size="19.23" fill="#1e2536" textLength="106.49" lengthAdjust="spacingAndGlyphs" stroke="#1e2536" stroke-width="0.45">p = 0.016</text>
<text x="1159.81" y="430.55" font-family="'Liberation Sans', 'Noto Sans CJK SC', sans-serif" font-size="18.92" font-weight="bold">*</text>
<line x1="1071.75" y1="430" x2="1250.75" y2="430" stroke="#111" stroke-width="2"/>
<line x1="1082.5" y1="621.75" x2="1082.5" y2="701.25" stroke="#3b4f9f" stroke-width="2.6"/>
<rect x="1051.75" y="528" width="61.25" height="93.75" fill="#98a1cd" stroke="#3b4f9f" stroke-width="2.6"/>
<line x1="1051.75" y1="567.5" x2="1113" y2="567.5" stroke="#3b4f9f" stroke-width="3.8"/>
<ellipse cx="1058.75" cy="519.5" rx="5" ry="4.2" fill="#3b4f9f"/>
<ellipse cx="1083.5" cy="522.5" rx="5" ry="4.2" fill="#3b4f9f"/>
<ellipse cx="1095" cy="530" rx="5" ry="4.2" fill="#3b4f9f"/>
<ellipse cx="1098.25" cy="548.75" rx="5" ry="4.2" fill="#3b4f9f"/>
<ellipse cx="1114.5" cy="587.5" rx="5" ry="4.2" fill="#3b4f9f"/>
<ellipse cx="1053" cy="602.5" rx="5" ry="4.2" fill="#3b4f9f"/>
<ellipse cx="1055.75" cy="680" rx="5" ry="4.2" fill="#3b4f9f"/>
<ellipse cx="1054.5" cy="702.5" rx="5" ry="4.2" fill="#3b4f9f"/>
<line x1="1163" y1="523" x2="1163" y2="543.75" stroke="#ec1c24" stroke-width="2.6"/>
<line x1="1163" y1="698.75" x2="1163" y2="737" stroke="#ec1c24" stroke-width="2.6"/>
<rect x="1133.25" y="543.75" width="61" height="155" fill="#f27f80" stroke="#ec1c24" stroke-width="2.6"/>
<line x1="1133.25" y1="654.25" x2="1194.25" y2="654.25" stroke="#ec1c24" stroke-width="3.8"/>
<ellipse cx="1132.5" cy="522.5" rx="5" ry="4.2" fill="#ec1c24"/>
<ellipse cx="1148" cy="542" rx="5" ry="4.2" fill="#ec1c24"/>
<ellipse cx="1180.75" cy="545" rx="5" ry="4.2" fill="#ec1c24"/>
<ellipse cx="1183.25" cy="642" rx="5" ry="4.2" fill="#ec1c24"/>
<ellipse cx="1139.5" cy="666.25" rx="5" ry="4.2" fill="#ec1c24"/>
<ellipse cx="1173.25" cy="694.5" rx="5" ry="4.2" fill="#ec1c24"/>
<ellipse cx="1136.25" cy="710.5" rx="5" ry="4.2" fill="#ec1c24"/>
<ellipse cx="1188" cy="737" rx="5" ry="4.2" fill="#ec1c24"/>
<line x1="1243.75" y1="443.75" x2="1243.75" y2="470.5" stroke="#138a4b" stroke-width="2.6"/>
<line x1="1243.75" y1="659.25" x2="1243.75" y2="702.5" stroke="#138a4b" stroke-width="2.6"/>
<rect x="1213" y="470.5" width="61.5" height="188.75" fill="#80c5a1" stroke="#138a4b" stroke-width="2.6"/>
<line x1="1213" y1="527.5" x2="1274.5" y2="527.5" stroke="#138a4b" stroke-width="3.8"/>
<ellipse cx="1233" cy="443.25" rx="5" ry="4.2" fill="#138a4b"/>
<ellipse cx="1250" cy="471.25" rx="5" ry="4.2" fill="#138a4b"/>
<ellipse cx="1271.25" cy="468.75" rx="5" ry="4.2" fill="#138a4b"/>
<ellipse cx="1250" cy="478.75" rx="5" ry="4.2" fill="#138a4b"/>
<ellipse cx="1271.25" cy="575.5" rx="5" ry="4.2" fill="#138a4b"/>
<ellipse cx="1229.25" cy="651.25" rx="5" ry="4.2" fill="#138a4b"/>
<ellipse cx="1271.25" cy="683.25" rx="5" ry="4.2" fill="#138a4b"/>
<ellipse cx="1229.25" cy="703" rx="5" ry="4.2" fill="#138a4b"/>
<line x1="1029.5" y1="429.25" x2="1034" y2="429.25" stroke="#333" stroke-width="1.4"/>
<text transform="translate(1019.74,449.53) rotate(-90)" font-family="'Liberation Sans', 'Noto Sans CJK SC', sans-serif" font-size="26.41" fill="#1a1a1a" textLength="40.28" lengthAdjust="spacingAndGlyphs" stroke="#1a1a1a" stroke-width="0.3">2000</text>
<line x1="1029.5" y1="530.5" x2="1034" y2="530.5" stroke="#333" stroke-width="1.4"/>
<text transform="translate(1019.74,551.34) rotate(-90)" font-family="'Liberation Sans', 'Noto Sans CJK SC', sans-serif" font-size="26.41" fill="#1a1a1a" textLength="40.85" lengthAdjust="spacingAndGlyphs" stroke="#1a1a1a" stroke-width="0.3">1500</text>
<line x1="1029.5" y1="631.75" x2="1034" y2="631.75" stroke="#333" stroke-width="1.4"/>
<text transform="translate(1019.74,652.59) rotate(-90)" font-family="'Liberation Sans', 'Noto Sans CJK SC', sans-serif" font-size="26.41" fill="#1a1a1a" textLength="40.85" lengthAdjust="spacingAndGlyphs" stroke="#1a1a1a" stroke-width="0.3">1000</text>
<line x1="1029.5" y1="733" x2="1034" y2="733" stroke="#333" stroke-width="1.4"/>
<text transform="translate(1019.74,748.23) rotate(-90)" font-family="'Liberation Sans', 'Noto Sans CJK SC', sans-serif" font-size="26.41" fill="#1a1a1a" textLength="30.43" lengthAdjust="spacingAndGlyphs" stroke="#1a1a1a" stroke-width="0.3">500</text>
<line x1="1082.5" y1="751" x2="1082.5" y2="756" stroke="#333" stroke-width="1.6"/>
<line x1="1163" y1="751" x2="1163" y2="756" stroke="#333" stroke-width="1.6"/>
<line x1="1243.75" y1="751" x2="1243.75" y2="756" stroke="#333" stroke-width="1.6"/>
<text x="1045.12" y="784.29" font-family="'Liberation Serif', 'Noto Serif CJK SC', serif" font-size="20.71" font-weight="bold" textLength="75.22" lengthAdjust="spacingAndGlyphs">Control</text>
<text x="1142.81" y="784.5" font-family="'Liberation Serif', 'Noto Serif CJK SC', serif" font-size="22.31" font-weight="bold">DM</text>
<text x="1222.05" y="784.5" font-family="'Liberation Serif', 'Noto Serif CJK SC', serif" font-size="22.31" font-weight="bold" textLength="50.39" lengthAdjust="spacingAndGlyphs">DKD</text>
<rect x="1389.3" y="356.4" width="273.2" height="37.1" fill="#d9d9d9"/>
<rect x="1389.3" y="356.4" width="273.2" height="399.6" fill="none" stroke="#3a3a3a" stroke-width="1.6"/>
<line x1="1389.3" y1="393.5" x2="1662.5" y2="393.5" stroke="#3a3a3a" stroke-width="1.6"/>
<text x="1488.77" y="382.96" font-family="'Liberation Sans', 'Noto Sans CJK SC', sans-serif" font-size="23.56" fill="#17223b" textLength="72.68" lengthAdjust="spacingAndGlyphs" stroke="#17223b" stroke-width="0.4">Chao1</text>
<text x="1469.43" y="421.05" font-family="'Liberation Sans', 'Noto Sans CJK SC', sans-serif" font-size="18.79" fill="#1e2536" textLength="112.02" lengthAdjust="spacingAndGlyphs" stroke="#1e2536" stroke-width="0.45">p = 0.00086</text>
<text x="1481.89" y="445.97" font-family="'Liberation Sans', 'Noto Sans CJK SC', sans-serif" font-size="18.65" font-weight="bold">***</text>
<line x1="1427.4" y1="451.8" x2="1560.7" y2="451.8" stroke="#111" stroke-width="2"/>
<text x="1453.88" y="468.29" font-family="'Liberation Sans', 'Noto Sans CJK SC', sans-serif" font-size="16.22" font-weight="bold">**</text>
<line x1="1427.4" y1="475.8" x2="1495.3" y2="475.8" stroke="#111" stroke-width="2"/>
<line x1="1427.9" y1="654.3" x2="1427.9" y2="675.7" stroke="#3b4f9f" stroke-width="2.6"/>
<line x1="1427.9" y1="702.5" x2="1427.9" y2="736.8" stroke="#3b4f9f" stroke-width="2.6"/>
<rect x="1403.2" y="675.7" width="49.9" height="26.8" fill="#98a1cd" stroke="#3b4f9f" stroke-width="2.6"/>
<line x1="1403.2" y1="683.6" x2="1453.1" y2="683.6" stroke="#3b4f9f" stroke-width="3.8"/>
<ellipse cx="1442.9" cy="653.2" rx="5" ry="4.2" fill="#3b4f9f"/>
<ellipse cx="1438.6" cy="668.2" rx="5" ry="4.2" fill="#3b4f9f"/>
<ellipse cx="1411.4" cy="675.7" rx="5" ry="4.2" fill="#3b4f9f"/>
<ellipse cx="1448.2" cy="676.8" rx="5" ry="4.2" fill="#3b4f9f"/>
<ellipse cx="1452.5" cy="685.3" rx="5" ry="4.2" fill="#3b4f9f"/>
<ellipse cx="1440.7" cy="688.5" rx="5" ry="4.2" fill="#3b4f9f"/>
<ellipse cx="1418.2" cy="706.8" rx="5" ry="4.2" fill="#3b4f9f"/>
<ellipse cx="1446" cy="716.4" rx="5" ry="4.2" fill="#3b4f9f"/>
<ellipse cx="1418.9" cy="738.9" rx="5" ry="4.2" fill="#3b4f9f"/>
<line x1="1493.2" y1="542.2" x2="1493.2" y2="586.3" stroke="#ec1c24" stroke-width="2.6"/>
<line x1="1493.2" y1="641" x2="1493.2" y2="693.9" stroke="#ec1c24" stroke-width="2.6"/>
<rect x="1468.6" y="586.3" width="49.7" height="54.7" fill="#f27f80" stroke="#ec1c24" stroke-width="2.6"/>
<line x1="1468.6" y1="617.8" x2="1518.3" y2="617.8" stroke="#ec1c24" stroke-width="3.8"/>
<ellipse cx="1487.2" cy="500" rx="5" ry="4.2" fill="#ec1c24"/>
<ellipse cx="1491" cy="541.8" rx="5" ry="4.2" fill="#ec1c24"/>
<ellipse cx="1506.5" cy="578.2" rx="5" ry="4.2" fill="#ec1c24"/>
<ellipse cx="1473.3" cy="609.3" rx="5" ry="4.2" fill="#ec1c24"/>
<ellipse cx="1471.8" cy="618.5" rx="5" ry="4.2" fill="#ec1c24"/>
<ellipse cx="1497.9" cy="617.8" rx="5" ry="4.2" fill="#ec1c24"/>
<ellipse cx="1500.7" cy="630.3" rx="5" ry="4.2" fill="#ec1c24"/>
<ellipse cx="1505.6" cy="645.7" rx="5" ry="4.2" fill="#ec1c24"/>
<ellipse cx="1495.8" cy="691.8" rx="5" ry="4.2" fill="#ec1c24"/>
<ellipse cx="1474.3" cy="698.2" rx="5" ry="4.2" fill="#ec1c24"/>
<line x1="1558.6" y1="587.8" x2="1558.6" y2="598.6" stroke="#138a4b" stroke-width="2.6"/>
<rect x="1533.9" y="598.6" width="49.7" height="25.2" fill="#80c5a1" stroke="#138a4b" stroke-width="2.6"/>
<line x1="1533.9" y1="611.8" x2="1583.6" y2="611.8" stroke="#138a4b" stroke-width="3.8"/>
<ellipse cx="1584.3" cy="520.3" rx="5" ry="4.2" fill="#138a4b"/>
<ellipse cx="1571.4" cy="586.8" rx="5" ry="4.2" fill="#138a4b"/>
<ellipse cx="1545.3" cy="596.4" rx="5" ry="4.2" fill="#138a4b"/>
<ellipse cx="1544.2" cy="602.4" rx="5" ry="4.2" fill="#138a4b"/>
<ellipse cx="1546.3" cy="613.6" rx="5" ry="4.2" fill="#138a4b"/>
<ellipse cx="1562.8" cy="610.3" rx="5" ry="4.2" fill="#138a4b"/>
<ellipse cx="1578.3" cy="622.1" rx="5" ry="4.2" fill="#138a4b"/>
<ellipse cx="1551.7" cy="626.4" rx="5" ry="4.2" fill="#138a4b"/>
<ellipse cx="1563.9" cy="624.3" rx="5" ry="4.2" fill="#138a4b"/>
<ellipse cx="1548.9" cy="671.4" rx="5" ry="4.2" fill="#138a4b"/>
<line x1="1624.3" y1="593.2" x2="1624.3" y2="611" stroke="#6b2283" stroke-width="2.6"/>
<line x1="1624.3" y1="657.5" x2="1624.3" y2="662.8" stroke="#6b2283" stroke-width="2.6"/>
<rect x="1599.3" y="611" width="49.7" height="46.5" fill="#b38bc2" stroke="#6b2283" stroke-width="2.6"/>
<line x1="1599.3" y1="641" x2="1649" y2="641" stroke="#6b2283" stroke-width="3.8"/>
<ellipse cx="1608.9" cy="592.1" rx="5" ry="4.2" fill="#6b2283"/>
<ellipse cx="1610.4" cy="596.8" rx="5" ry="4.2" fill="#6b2283"/>
<ellipse cx="1637.8" cy="605.6" rx="5" ry="4.2" fill="#6b2283"/>
<ellipse cx="1641" cy="627.5" rx="5" ry="4.2" fill="#6b2283"/>
<ellipse cx="1644.3" cy="639.3" rx="5" ry="4.2" fill="#6b2283"/>
<ellipse cx="1608.9" cy="642.5" rx="5" ry="4.2" fill="#6b2283"/>
<ellipse cx="1643.8" cy="653.2" rx="5" ry="4.2" fill="#6b2283"/>
<ellipse cx="1618.6" cy="658.6" rx="5" ry="4.2" fill="#6b2283"/>
<ellipse cx="1619.6" cy="663.9" rx="5" ry="4.2" fill="#6b2283"/>
<ellipse cx="1609.6" cy="741" rx="5" ry="4.2" fill="#6b2283"/>
<line x1="1384.8" y1="422.9" x2="1389.3" y2="422.9" stroke="#333" stroke-width="1.4"/>
<text transform="translate(1376.19,444.01) rotate(-90)" font-family="'Liberation Sans', 'Noto Sans CJK SC', sans-serif" font-size="21.13" fill="#1a1a1a" textLength="42.11" lengthAdjust="spacingAndGlyphs" stroke="#1a1a1a" stroke-width="0.3">3000</text>
<line x1="1384.8" y1="555.7" x2="1389.3" y2="555.7" stroke="#333" stroke-width="1.4"/>
<text transform="translate(1376.19,577) rotate(-90)" font-family="'Liberation Sans', 'Noto Sans CJK SC', sans-serif" font-size="21.13" fill="#1a1a1a" textLength="42.3" lengthAdjust="spacingAndGlyphs" stroke="#1a1a1a" stroke-width="0.3">2000</text>
<line x1="1384.8" y1="689" x2="1389.3" y2="689" stroke="#333" stroke-width="1.4"/>
<text transform="translate(1376.19,710.89) rotate(-90)" font-family="'Liberation Sans', 'Noto Sans CJK SC', sans-serif" font-size="21.13" fill="#1a1a1a" textLength="42.91" lengthAdjust="spacingAndGlyphs" stroke="#1a1a1a" stroke-width="0.3">1000</text>
<line x1="1427.9" y1="756" x2="1427.9" y2="761" stroke="#333" stroke-width="1.6"/>
<line x1="1493.2" y1="756" x2="1493.2" y2="761" stroke="#333" stroke-width="1.6"/>
<line x1="1558.6" y1="756" x2="1558.6" y2="761" stroke="#333" stroke-width="1.6"/>
<line x1="1624.3" y1="756" x2="1624.3" y2="761" stroke="#333" stroke-width="1.6"/>
<text x="1401.65" y="795.3" font-family="'Liberation Serif', 'Noto Serif CJK SC', serif" font-size="22.46" font-weight="bold" textLength="50.54" lengthAdjust="spacingAndGlyphs">DKD</text>
<text x="1476.23" y="795.08" font-family="'Liberation Serif', 'Noto Serif CJK SC', serif" font-size="22.12" font-weight="bold" textLength="47.02" lengthAdjust="spacingAndGlyphs">LVD</text>
<text x="1537.75" y="795.08" font-family="'Liberation Serif', 'Noto Serif CJK SC', serif" font-size="22.12" font-weight="bold" textLength="53.63" lengthAdjust="spacingAndGlyphs">MVD</text>
<text x="1605.85" y="791.19" font-family="'Liberation Serif', 'Noto Serif CJK SC', serif" font-size="21.06" font-weight="bold" textLength="49.92" lengthAdjust="spacingAndGlyphs">HVD</text>
<rect x="1050.5" y="822" width="266.5" height="43" fill="#d9d9d9"/>
<rect x="1050.5" y="822" width="266.5" height="453" fill="none" stroke="#3a3a3a" stroke-width="1.6"/>
<line x1="1050.5" y1="865" x2="1317" y2="865" stroke="#3a3a3a" stroke-width="1.6"/>
<text x="1120.41" y="852.24" font-family="'Liberation Sans', 'Noto Sans CJK SC', sans-serif" font-size="25.68" fill="#17223b" textLength="127.36" lengthAdjust="spacingAndGlyphs" stroke="#17223b" stroke-width="0.4">Shannon</text>
<text x="1134.98" y="888.12" font-family="'Liberation Sans', 'Noto Sans CJK SC', sans-serif" font-size="22.31" fill="#1e2536" textLength="68.34" lengthAdjust="spacingAndGlyphs" stroke="#1e2536" stroke-width="0.45">p = 0.</text>
<text x="1205.09" y="888.75" font-family="'Liberation Serif', 'Noto Serif CJK SC', serif" font-size="25.37" fill="#111" textLength="45.53" lengthAdjust="spacingAndGlyphs" stroke="#111" stroke-width="0.3">009</text>
<text x="1176.9" y="917.89" font-family="'Liberation Sans', 'Noto Sans CJK SC', sans-serif" font-size="22.3" font-weight="bold">**</text>
<line x1="1102.5" y1="918.75" x2="1265.5" y2="918.75" stroke="#111" stroke-width="2"/>
<text x="1128.79" y="955.57" font-family="'Liberation Sans', 'Noto Sans CJK SC', sans-serif" font-size="23.65" font-weight="bold">*</text>
<line x1="1092.5" y1="957" x2="1174.25" y2="957" stroke="#111" stroke-width="2"/>
<line x1="1100.75" y1="1008.75" x2="1100.75" y2="1022.5" stroke="#3b4f9f" stroke-width="2.6"/>
<line x1="1100.75" y1="1113" x2="1100.75" y2="1197.5" stroke="#3b4f9f" stroke-width="2.6"/>
<rect x="1069.25" y="1022.5" width="63.25" height="90.5" fill="#98a1cd" stroke="#3b4f9f" stroke-width="2.6"/>
<line x1="1069.25" y1="1056.75" x2="1132.5" y2="1056.75" stroke="#3b4f9f" stroke-width="3.8"/>
<ellipse cx="1074.5" cy="1007.5" rx="5" ry="4.2" fill="#3b4f9f"/>
<ellipse cx="1118" cy="1011.75" rx="5" ry="4.2" fill="#3b4f9f"/>
<ellipse cx="1072.5" cy="1030" rx="5" ry="4.2" fill="#3b4f9f"/>
<ellipse cx="1090.5" cy="1026.25" rx="5" ry="4.2" fill="#3b4f9f"/>
<ellipse cx="1074.5" cy="1083.25" rx="5" ry="4.2" fill="#3b4f9f"/>
<ellipse cx="1098.25" cy="1086.25" rx="5" ry="4.2" fill="#3b4f9f"/>
<ellipse cx="1073.75" cy="1192.5" rx="5" ry="4.2" fill="#3b4f9f"/>
<ellipse cx="1105" cy="1198" rx="5" ry="4.2" fill="#3b4f9f"/>
<line x1="1183.75" y1="978.75" x2="1183.75" y2="986.25" stroke="#ec1c24" stroke-width="2.6"/>
<line x1="1183.75" y1="1180.5" x2="1183.75" y2="1257.5" stroke="#ec1c24" stroke-width="2.6"/>
<rect x="1152.5" y="986.25" width="62.5" height="194.25" fill="#f27f80" stroke="#ec1c24" stroke-width="2.6"/>
<line x1="1152.5" y1="1119.5" x2="1215" y2="1119.5" stroke="#ec1c24" stroke-width="3.8"/>
<ellipse cx="1198.75" cy="977.5" rx="5" ry="4.2" fill="#ec1c24"/>
<ellipse cx="1168.25" cy="986.25" rx="5" ry="4.2" fill="#ec1c24"/>
<ellipse cx="1160.75" cy="1101.75" rx="5" ry="4.2" fill="#ec1c24"/>
<ellipse cx="1165" cy="1137.5" rx="5" ry="4.2" fill="#ec1c24"/>
<ellipse cx="1155" cy="1170" rx="5" ry="4.2" fill="#ec1c24"/>
<ellipse cx="1150.5" cy="1211.25" rx="5" ry="4.2" fill="#ec1c24"/>
<ellipse cx="1188.25" cy="1258.25" rx="5" ry="4.2" fill="#ec1c24"/>
<line x1="1267" y1="930.75" x2="1267" y2="949.5" stroke="#138a4b" stroke-width="2.6"/>
<line x1="1267" y1="1125.5" x2="1267" y2="1200" stroke="#138a4b" stroke-width="2.6"/>
<rect x="1235" y="949.5" width="64.25" height="176" fill="#80c5a1" stroke="#138a4b" stroke-width="2.6"/>
<line x1="1235" y1="1007.5" x2="1299.25" y2="1007.5" stroke="#138a4b" stroke-width="3.8"/>
<ellipse cx="1254.5" cy="930" rx="5" ry="4.2" fill="#138a4b"/>
<ellipse cx="1240.5" cy="944.5" rx="5" ry="4.2" fill="#138a4b"/>
<ellipse cx="1285" cy="951.25" rx="5" ry="4.2" fill="#138a4b"/>
<ellipse cx="1258.25" cy="988.25" rx="5" ry="4.2" fill="#138a4b"/>
<ellipse cx="1296.25" cy="1027" rx="5" ry="4.2" fill="#138a4b"/>
<ellipse cx="1288" cy="1113.75" rx="5" ry="4.2" fill="#138a4b"/>
<ellipse cx="1297.5" cy="1159.25" rx="5" ry="4.2" fill="#138a4b"/>
<ellipse cx="1243.25" cy="1200.75" rx="5" ry="4.2" fill="#138a4b"/>
<line x1="1046" y1="944.5" x2="1050.5" y2="944.5" stroke="#333" stroke-width="1.4"/>
<text transform="translate(1034.23,966.93) rotate(-90)" font-family="'Liberation Sans', 'Noto Sans CJK SC', sans-serif" font-size="27.46" fill="#1a1a1a" textLength="43.87" lengthAdjust="spacingAndGlyphs" stroke="#1a1a1a" stroke-width="0.3">10.0</text>
<line x1="1046" y1="1041.25" x2="1050.5" y2="1041.25" stroke="#333" stroke-width="1.4"/>
<text transform="translate(1034.23,1056.73) rotate(-90)" font-family="'Liberation Sans', 'Noto Sans CJK SC', sans-serif" font-size="27.46" fill="#1a1a1a" textLength="30.74" lengthAdjust="spacingAndGlyphs" stroke="#1a1a1a" stroke-width="0.3">9.5</text>
<line x1="1046" y1="1137.5" x2="1050.5" y2="1137.5" stroke="#333" stroke-width="1.4"/>
<text transform="translate(1034.23,1152.98) rotate(-90)" font-family="'Liberation Sans', 'Noto Sans CJK SC', sans-serif" font-size="27.46" fill="#1a1a1a" textLength="30.74" lengthAdjust="spacingAndGlyphs" stroke="#1a1a1a" stroke-width="0.3">9.0</text>
<line x1="1046" y1="1234.25" x2="1050.5" y2="1234.25" stroke="#333" stroke-width="1.4"/>
<text transform="translate(1034.23,1249.5) rotate(-90)" font-family="'Liberation Sans', 'Noto Sans CJK SC', sans-serif" font-size="27.46" fill="#1a1a1a" textLength="30.51" lengthAdjust="spacingAndGlyphs" stroke="#1a1a1a" stroke-width="0.3">8.5</text>
<line x1="1100.5" y1="1275" x2="1100.5" y2="1280" stroke="#333" stroke-width="1.6"/>
<line x1="1183.25" y1="1275" x2="1183.25" y2="1280" stroke="#333" stroke-width="1.6"/>
<line x1="1267" y1="1275" x2="1267" y2="1280" stroke="#333" stroke-width="1.6"/>
<text x="1063.85" y="1306.02" font-family="'Liberation Serif', 'Noto Serif CJK SC', serif" font-size="23.21" font-weight="bold" textLength="75.99" lengthAdjust="spacingAndGlyphs">Control</text>
<text x="1164.05" y="1306.25" font-family="'Liberation Serif', 'Noto Serif CJK SC', serif" font-size="25" font-weight="bold" textLength="37.8" lengthAdjust="spacingAndGlyphs">DM</text>
<text x="1240.8" y="1306.25" font-family="'Liberation Serif', 'Noto Serif CJK SC', serif" font-size="25" font-weight="bold" textLength="49.87" lengthAdjust="spacingAndGlyphs">DKD</text>
<rect x="1382.3" y="826.6" width="287.5" height="41.5" fill="#d9d9d9"/>
<rect x="1382.3" y="826.6" width="287.5" height="448" fill="none" stroke="#3a3a3a" stroke-width="1.6"/>
<line x1="1382.3" y1="868.1" x2="1669.8" y2="868.1" stroke="#3a3a3a" stroke-width="1.6"/>
<text x="1472.66" y="855.16" font-family="'Liberation Sans', 'Noto Sans CJK SC', sans-serif" font-size="23.7" fill="#17223b" textLength="106.93" lengthAdjust="spacingAndGlyphs" stroke="#17223b" stroke-width="0.4">Shannon</text>
<text x="1485.33" y="891.08" font-family="'Liberation Sans', 'Noto Sans CJK SC', sans-serif" font-size="21.54" fill="#1e2536" textLength="57.72" lengthAdjust="spacingAndGlyphs" stroke="#1e2536" stroke-width="0.45">p = 0.</text>
<text x="1543.17" y="891.16" font-family="'Liberation Serif', 'Noto Serif CJK SC', serif" font-size="24.03" fill="#111" textLength="38.51" lengthAdjust="spacingAndGlyphs" stroke="#111" stroke-width="0.3">022</text>
<text x="1453.9" y="921.9" font-family="'Liberation Sans', 'Noto Sans CJK SC', sans-serif" font-size="20" font-weight="bold">*</text>
<line x1="1428.9" y1="924.7" x2="1492.9" y2="924.7" stroke="#111" stroke-width="2"/>
<text x="1500.3" y="958.1" font-family="'Liberation Sans', 'Noto Sans CJK SC', sans-serif" font-size="20" font-weight="bold">*</text>
<line x1="1423.1" y1="959.4" x2="1564" y2="959.4" stroke="#111" stroke-width="2"/>
<line x1="1423.1" y1="1031" x2="1423.1" y2="1065.6" stroke="#3b4f9f" stroke-width="2.6"/>
<line x1="1423.1" y1="1119.2" x2="1423.1" y2="1129.1" stroke="#3b4f9f" stroke-width="2.6"/>
<rect x="1397.3" y="1065.6" width="51.9" height="53.6" fill="#98a1cd" stroke="#3b4f9f" stroke-width="2.6"/>
<line x1="1397.3" y1="1082.9" x2="1449.2" y2="1082.9" stroke="#3b4f9f" stroke-width="3.8"/>
<ellipse cx="1418.5" cy="1030.3" rx="5" ry="4.2" fill="#3b4f9f"/>
<ellipse cx="1432.4" cy="1062.1" rx="5" ry="4.2" fill="#3b4f9f"/>
<ellipse cx="1442.8" cy="1062.1" rx="5" ry="4.2" fill="#3b4f9f"/>
<ellipse cx="1434.7" cy="1076" rx="5" ry="4.2" fill="#3b4f9f"/>
<ellipse cx="1407.7" cy="1082.9" rx="5" ry="4.2" fill="#3b4f9f"/>
<ellipse cx="1436.5" cy="1086.4" rx="5" ry="4.2" fill="#3b4f9f"/>
<ellipse cx="1445.1" cy="1130.3" rx="5" ry="4.2" fill="#3b4f9f"/>
<ellipse cx="1435.2" cy="1207.6" rx="5" ry="4.2" fill="#3b4f9f"/>
<ellipse cx="1436.5" cy="1258.4" rx="5" ry="4.2" fill="#3b4f9f"/>
<line x1="1492" y1="933.5" x2="1492" y2="1032.1" stroke="#ec1c24" stroke-width="2.6"/>
<line x1="1492" y1="1181" x2="1492" y2="1238.8" stroke="#ec1c24" stroke-width="2.6"/>
<rect x="1468.2" y="1032.1" width="49.6" height="148.9" fill="#f27f80" stroke="#ec1c24" stroke-width="2.6"/>
<line x1="1468.2" y1="1067.4" x2="1517.8" y2="1067.4" stroke="#ec1c24" stroke-width="3.8"/>
<ellipse cx="1497.7" cy="933.5" rx="5" ry="4.2" fill="#ec1c24"/>
<ellipse cx="1516" cy="977.4" rx="5" ry="4.2" fill="#ec1c24"/>
<ellipse cx="1517.4" cy="1026.3" rx="5" ry="4.2" fill="#ec1c24"/>
<ellipse cx="1471.2" cy="1049.4" rx="5" ry="4.2" fill="#ec1c24"/>
<ellipse cx="1471.6" cy="1068.6" rx="5" ry="4.2" fill="#ec1c24"/>
<ellipse cx="1499.4" cy="1065.6" rx="5" ry="4.2" fill="#ec1c24"/>
<ellipse cx="1498.2" cy="1126.8" rx="5" ry="4.2" fill="#ec1c24"/>
<ellipse cx="1517.4" cy="1199.5" rx="5" ry="4.2" fill="#ec1c24"/>
<ellipse cx="1512.7" cy="1218" rx="5" ry="4.2" fill="#ec1c24"/>
<ellipse cx="1481.3" cy="1239.5" rx="5" ry="4.2" fill="#ec1c24"/>
<line x1="1560.6" y1="995.2" x2="1560.6" y2="1054.7" stroke="#138a4b" stroke-width="2.6"/>
<line x1="1560.6" y1="1107.2" x2="1560.6" y2="1160.3" stroke="#138a4b" stroke-width="2.6"/>
<rect x="1535.2" y="1054.7" width="51.9" height="52.5" fill="#80c5a1" stroke="#138a4b" stroke-width="2.6"/>
<line x1="1535.2" y1="1082.9" x2="1587.1" y2="1082.9" stroke="#138a4b" stroke-width="3.8"/>
<ellipse cx="1569.8" cy="994" rx="5" ry="4.2" fill="#138a4b"/>
<ellipse cx="1540.5" cy="1045.5" rx="5" ry="4.2" fill="#138a4b"/>
<ellipse cx="1574.9" cy="1044.8" rx="5" ry="4.2" fill="#138a4b"/>
<ellipse cx="1549.7" cy="1080.6" rx="5" ry="4.2" fill="#138a4b"/>
<ellipse cx="1557.1" cy="1085.2" rx="5" ry="4.2" fill="#138a4b"/>
<ellipse cx="1580.9" cy="1082.9" rx="5" ry="4.2" fill="#138a4b"/>
<ellipse cx="1537" cy="1106.7" rx="5" ry="4.2" fill="#138a4b"/>
<ellipse cx="1576" cy="1107.9" rx="5" ry="4.2" fill="#138a4b"/>
<ellipse cx="1550.2" cy="1161.4" rx="5" ry="4.2" fill="#138a4b"/>
<ellipse cx="1575.6" cy="1161.4" rx="5" ry="4.2" fill="#138a4b"/>
<line x1="1629.4" y1="1040.2" x2="1629.4" y2="1077.1" stroke="#6b2283" stroke-width="2.6"/>
<line x1="1629.4" y1="1161.4" x2="1629.4" y2="1231.9" stroke="#6b2283" stroke-width="2.6"/>
<rect x="1604" y="1077.1" width="51.7" height="84.3" fill="#b38bc2" stroke="#6b2283" stroke-width="2.6"/>
<line x1="1604" y1="1109.5" x2="1655.7" y2="1109.5" stroke="#6b2283" stroke-width="3.8"/>
<ellipse cx="1620.6" cy="1039" rx="5" ry="4.2" fill="#6b2283"/>
<ellipse cx="1637.2" cy="1056.8" rx="5" ry="4.2" fill="#6b2283"/>
<ellipse cx="1648.3" cy="1069.7" rx="5" ry="4.2" fill="#6b2283"/>
<ellipse cx="1647.2" cy="1100.2" rx="5" ry="4.2" fill="#6b2283"/>
<ellipse cx="1618.3" cy="1107.2" rx="5" ry="4.2" fill="#6b2283"/>
<ellipse cx="1646" cy="1112.9" rx="5" ry="4.2" fill="#6b2283"/>
<ellipse cx="1625.9" cy="1136" rx="5" ry="4.2" fill="#6b2283"/>
<ellipse cx="1606.7" cy="1170.7" rx="5" ry="4.2" fill="#6b2283"/>
<ellipse cx="1648.3" cy="1188" rx="5" ry="4.2" fill="#6b2283"/>
<ellipse cx="1602.1" cy="1231.9" rx="5" ry="4.2" fill="#6b2283"/>
<line x1="1377.8" y1="945" x2="1382.3" y2="945" stroke="#333" stroke-width="1.4"/>
<text transform="translate(1369.76,951.73) rotate(-90)" font-family="'Liberation Sans', 'Noto Sans CJK SC', sans-serif" font-size="24.37" fill="#1a1a1a" stroke="#1a1a1a" stroke-width="0.3">8</text>
<line x1="1377.8" y1="1052.4" x2="1382.3" y2="1052.4" stroke="#333" stroke-width="1.4"/>
<text transform="translate(1370,1059.4) rotate(-90)" font-family="'Liberation Sans', 'Noto Sans CJK SC', sans-serif" font-size="25.07" fill="#1a1a1a" stroke="#1a1a1a" stroke-width="0.3">7</text>
<line x1="1377.8" y1="1159.8" x2="1382.3" y2="1159.8" stroke="#333" stroke-width="1.4"/>
<text transform="translate(1369.76,1166.8) rotate(-90)" font-family="'Liberation Sans', 'Noto Sans CJK SC', sans-serif" font-size="24.37" fill="#1a1a1a" textLength="13.9" lengthAdjust="spacingAndGlyphs" stroke="#1a1a1a" stroke-width="0.3">6</text>
<line x1="1377.8" y1="1267.7" x2="1382.3" y2="1267.7" stroke="#333" stroke-width="1.4"/>
<text transform="translate(1369.75,1274.41) rotate(-90)" font-family="'Liberation Sans', 'Noto Sans CJK SC', sans-serif" font-size="24.71" fill="#1a1a1a" textLength="13.32" lengthAdjust="spacingAndGlyphs" stroke="#1a1a1a" stroke-width="0.3">5</text>
<line x1="1422.7" y1="1274.6" x2="1422.7" y2="1279.6" stroke="#333" stroke-width="1.6"/>
<line x1="1491.7" y1="1274.6" x2="1491.7" y2="1279.6" stroke="#333" stroke-width="1.6"/>
<line x1="1560.6" y1="1274.6" x2="1560.6" y2="1279.6" stroke="#333" stroke-width="1.6"/>
<line x1="1629.4" y1="1274.6" x2="1629.4" y2="1279.6" stroke="#333" stroke-width="1.6"/>
<text x="1399.15" y="1304.6" font-family="'Liberation Serif', 'Noto Serif CJK SC', serif" font-size="24.77" font-weight="bold" textLength="50.54" lengthAdjust="spacingAndGlyphs">DKD</text>
<text x="1470.03" y="1305.55" font-family="'Liberation Serif', 'Noto Serif CJK SC', serif" font-size="24.55" font-weight="bold" textLength="47.85" lengthAdjust="spacingAndGlyphs">LVD</text>
<text x="1537.05" y="1304.36" font-family="'Liberation Serif', 'Noto Serif CJK SC', serif" font-size="24.39" font-weight="bold" textLength="53.94" lengthAdjust="spacingAndGlyphs">MVD</text>
<text x="1606.95" y="1303.25" font-family="'Liberation Serif', 'Noto Serif CJK SC', serif" font-size="24.55" font-weight="bold" textLength="50.13" lengthAdjust="spacingAndGlyphs">HVD</text>
<text x="-0.56" y="1093.06" font-family="'Liberation Serif', 'Noto Serif CJK SC', serif" font-size="53.88">G</text>
<rect x="136.2" y="1350.08" width="20.7" height="16.72" fill="#90c0f8"/>
<rect x="168" y="1125.81" width="20.1" height="67.19" fill="#f5a8e2"/>
<rect x="168" y="1212.2" width="20.1" height="74.8" fill="#f5a8e2"/>
<rect x="168" y="1299.9" width="20.1" height="66.9" fill="#f5a8e2"/>
<rect x="200" y="1128.12" width="20" height="64.88" fill="#b554d6"/>
<rect x="200" y="1212.2" width="20" height="74.8" fill="#b554d6"/>
<rect x="200" y="1299.9" width="20" height="66.9" fill="#b554d6"/>
<rect x="253.5" y="1366.13" width="19.1" height="0.67" fill="#90c0f8"/>
<rect x="283.8" y="1301.91" width="21.4" height="64.89" fill="#f5a8e2"/>
<rect x="315.7" y="1265.43" width="20.1" height="21.57" fill="#b554d6"/>
<rect x="315.7" y="1299.9" width="20.1" height="66.9" fill="#b554d6"/>
<rect x="368.3" y="1328.67" width="20.7" height="38.13" fill="#90c0f8"/>
<rect x="400.2" y="1259.52" width="20.7" height="27.48" fill="#f5a8e2"/>
<rect x="400.2" y="1299.9" width="20.7" height="66.9" fill="#f5a8e2"/>
<rect x="432" y="1241.77" width="20.2" height="45.23" fill="#b554d6"/>
<rect x="432" y="1299.9" width="20.2" height="66.9" fill="#b554d6"/>
<rect x="484.5" y="1315.29" width="20.7" height="51.51" fill="#90c0f8"/>
<rect x="516.4" y="1274.73" width="20.7" height="12.27" fill="#f5a8e2"/>
<rect x="516.4" y="1299.9" width="20.7" height="66.9" fill="#f5a8e2"/>
<rect x="547.3" y="1251.07" width="21.1" height="35.93" fill="#b554d6"/>
<rect x="547.3" y="1299.9" width="21.1" height="66.9" fill="#b554d6"/>
<rect x="601.5" y="1302.58" width="20.1" height="64.22" fill="#90c0f8"/>
<rect x="632.1" y="1316.62" width="21.4" height="50.17" fill="#f5a8e2"/>
<rect x="664.7" y="1302.58" width="20.7" height="64.22" fill="#b554d6"/>
<line x1="125.3" y1="1123.5" x2="125.3" y2="1193" stroke="#000" stroke-width="3.3"/>
<line x1="125.3" y1="1212.2" x2="125.3" y2="1287" stroke="#000" stroke-width="3.3"/>
<line x1="125.3" y1="1299.9" x2="125.3" y2="1366.8" stroke="#000" stroke-width="3.3"/>
<line x1="114.8" y1="1123.5" x2="130.7" y2="1123.5" stroke="#000" stroke-width="3.3"/>
<line x1="114.8" y1="1193" x2="130.7" y2="1193" stroke="#000" stroke-width="3.3"/>
<line x1="114.8" y1="1212.2" x2="130.7" y2="1212.2" stroke="#000" stroke-width="3.3"/>
<line x1="114.8" y1="1287" x2="130.7" y2="1287" stroke="#000" stroke-width="3.3"/>
<line x1="114.8" y1="1299.9" x2="130.7" y2="1299.9" stroke="#000" stroke-width="3.3"/>
<line x1="114.8" y1="1146.66" x2="125.3" y2="1146.66" stroke="#000" stroke-width="3.3"/>
<line x1="114.8" y1="1169.83" x2="125.3" y2="1169.83" stroke="#000" stroke-width="3.3"/>
<line x1="114.8" y1="1229.1" x2="125.3" y2="1229.1" stroke="#000" stroke-width="3.3"/>
<line x1="114.8" y1="1246" x2="125.3" y2="1246" stroke="#000" stroke-width="3.3"/>
<line x1="114.8" y1="1262.9" x2="125.3" y2="1262.9" stroke="#000" stroke-width="3.3"/>
<line x1="114.8" y1="1279.8" x2="125.3" y2="1279.8" stroke="#000" stroke-width="3.3"/>
<line x1="114.8" y1="1366.8" x2="125.3" y2="1366.8" stroke="#000" stroke-width="3.3"/>
<line x1="114.8" y1="1353.42" x2="125.3" y2="1353.42" stroke="#000" stroke-width="3.3"/>
<line x1="114.8" y1="1340.04" x2="125.3" y2="1340.04" stroke="#000" stroke-width="3.3"/>
<line x1="114.8" y1="1326.66" x2="125.3" y2="1326.66" stroke="#000" stroke-width="3.3"/>
<line x1="114.8" y1="1313.28" x2="125.3" y2="1313.28" stroke="#000" stroke-width="3.3"/>
<line x1="114.8" y1="1366.8" x2="699.1" y2="1366.8" stroke="#000" stroke-width="3.3"/>
<line x1="178" y1="1366.8" x2="178" y2="1377.4" stroke="#000" stroke-width="3.3"/>
<line x1="294" y1="1366.8" x2="294" y2="1377.4" stroke="#000" stroke-width="3.3"/>
<line x1="409.8" y1="1366.8" x2="409.8" y2="1377.4" stroke="#000" stroke-width="3.3"/>
<line x1="526.9" y1="1366.8" x2="526.9" y2="1377.4" stroke="#000" stroke-width="3.3"/>
<line x1="643" y1="1366.8" x2="643" y2="1377.4" stroke="#000" stroke-width="3.3"/>
<text x="101.9" y="1129.81" font-family="'Liberation Sans', 'Noto Sans CJK SC', sans-serif" font-size="18.31" font-weight="bold">8</text>
<text x="101.99" y="1153.16" font-family="'Liberation Sans', 'Noto Sans CJK SC', sans-serif" font-size="18.84" font-weight="bold">7</text>
<text x="102.08" y="1176.15" font-family="'Liberation Sans', 'Noto Sans CJK SC', sans-serif" font-size="18.31" font-weight="bold">6</text>
<text x="101.76" y="1199.31" font-family="'Liberation Sans', 'Noto Sans CJK SC', sans-serif" font-size="18.57" font-weight="bold">5</text>
<text x="87.76" y="1218.61" font-family="'Liberation Sans', 'Noto Sans CJK SC', sans-serif" font-size="18.59" font-weight="bold" textLength="24.55" lengthAdjust="spacingAndGlyphs">1.0</text>
<text x="87.58" y="1235.51" font-family="'Liberation Sans', 'Noto Sans CJK SC', sans-serif" font-size="18.59" font-weight="bold" textLength="24.55" lengthAdjust="spacingAndGlyphs">0.8</text>
<text x="87.76" y="1252.41" font-family="'Liberation Sans', 'Noto Sans CJK SC', sans-serif" font-size="18.59" font-weight="bold" textLength="24.55" lengthAdjust="spacingAndGlyphs">0.6</text>
<text x="87.23" y="1269.31" font-family="'Liberation Sans', 'Noto Sans CJK SC', sans-serif" font-size="18.59" font-weight="bold" textLength="24.55" lengthAdjust="spacingAndGlyphs">0.4</text>
<text x="87.76" y="1286.21" font-family="'Liberation Sans', 'Noto Sans CJK SC', sans-serif" font-size="18.59" font-weight="bold" textLength="24.55" lengthAdjust="spacingAndGlyphs">0.2</text>
<text x="82.4" y="1372.53" font-family="'Liberation Sans', 'Noto Sans CJK SC', sans-serif" font-size="16.62" font-weight="bold" textLength="29.76" lengthAdjust="spacingAndGlyphs">0.00</text>
<text x="82.4" y="1359.15" font-family="'Liberation Sans', 'Noto Sans CJK SC', sans-serif" font-size="16.62" font-weight="bold" textLength="29.76" lengthAdjust="spacingAndGlyphs">0.02</text>
<text x="81.94" y="1345.77" font-family="'Liberation Sans', 'Noto Sans CJK SC', sans-serif" font-size="16.62" font-weight="bold" textLength="29.76" lengthAdjust="spacingAndGlyphs">0.04</text>
<text x="82.4" y="1332.39" font-family="'Liberation Sans', 'Noto Sans CJK SC', sans-serif" font-size="16.62" font-weight="bold" textLength="29.76" lengthAdjust="spacingAndGlyphs">0.06</text>
<text x="82.24" y="1319.01" font-family="'Liberation Sans', 'Noto Sans CJK SC', sans-serif" font-size="16.62" font-weight="bold" textLength="29.76" lengthAdjust="spacingAndGlyphs">0.08</text>
<text x="82.4" y="1305.63" font-family="'Liberation Sans', 'Noto Sans CJK SC', sans-serif" font-size="16.62" font-weight="bold" textLength="29.76" lengthAdjust="spacingAndGlyphs">0.10</text>
<text transform="translate(63.5,1358.7) rotate(-90)" font-family="'Liberation Sans', 'Noto Sans CJK SC', sans-serif" font-size="19.59" font-weight="bold" textLength="224.08" lengthAdjust="spacingAndGlyphs">Relative abundance (%)</text>
<text x="149.2" y="1082.97" font-family="'Liberation Sans', 'Noto Sans CJK SC', sans-serif" font-size="34.59" font-weight="bold" textLength="42.02" lengthAdjust="spacingAndGlyphs">***</text>
<line x1="130.7" y1="1083.7" x2="211" y2="1083.7" stroke="#000" stroke-width="3.3"/>
<text x="135.5" y="1121.27" font-family="'Liberation Sans', 'Noto Sans CJK SC', sans-serif" font-size="34.59" font-weight="bold" textLength="41.42" lengthAdjust="spacingAndGlyphs">***</text>
<line x1="140.3" y1="1122.9" x2="173.8" y2="1122.9" stroke="#000" stroke-width="3.3"/>
<text x="280" y="1210.6" font-family="'Liberation Sans', 'Noto Sans CJK SC', sans-serif" font-size="30" font-weight="bold" textLength="41.92" lengthAdjust="spacingAndGlyphs">***</text>
<line x1="263" y1="1214.4" x2="338" y2="1214.4" stroke="#000" stroke-width="3.3"/>
<text x="288" y="1250.59" font-family="'Liberation Sans', 'Noto Sans CJK SC', sans-serif" font-size="30.27" font-weight="bold" textLength="41.92" lengthAdjust="spacingAndGlyphs">***</text>
<line x1="292.7" y1="1254.3" x2="323.7" y2="1254.3" stroke="#000" stroke-width="3.3"/>
<text x="253.5" y="1288.89" font-family="'Liberation Sans', 'Noto Sans CJK SC', sans-serif" font-size="30.27" font-weight="bold" textLength="42.41" lengthAdjust="spacingAndGlyphs">***</text>
<line x1="257.7" y1="1293.5" x2="291.8" y2="1293.5" stroke="#000" stroke-width="3.3"/>
<text x="385.2" y="1208.71" font-family="'Liberation Sans', 'Noto Sans CJK SC', sans-serif" font-size="31.89" font-weight="bold" textLength="42.02" lengthAdjust="spacingAndGlyphs">***</text>
<line x1="369.9" y1="1211.6" x2="442.6" y2="1211.6" stroke="#000" stroke-width="3.3"/>
<text x="373.7" y="1249.51" font-family="'Liberation Sans', 'Noto Sans CJK SC', sans-serif" font-size="31.89" font-weight="bold" textLength="42.32" lengthAdjust="spacingAndGlyphs">***</text>
<line x1="383.6" y1="1252" x2="408.2" y2="1252" stroke="#000" stroke-width="3.3"/>
<text x="495.7" y="1229.41" font-family="'Liberation Sans', 'Noto Sans CJK SC', sans-serif" font-size="31.89" font-weight="bold" textLength="42.32" lengthAdjust="spacingAndGlyphs">***</text>
<line x1="476.5" y1="1232.3" x2="557.2" y2="1232.3" stroke="#000" stroke-width="3.3"/>
<text x="483.5" y="1266.11" font-family="'Liberation Sans', 'Noto Sans CJK SC', sans-serif" font-size="31.89" font-weight="bold" textLength="42.41" lengthAdjust="spacingAndGlyphs">***</text>
<line x1="486.1" y1="1269.6" x2="526" y2="1269.6" stroke="#000" stroke-width="3.3"/>
<text x="619.4" y="1294.81" font-family="'Liberation Sans', 'Noto Sans CJK SC', sans-serif" font-size="31.89" font-weight="bold" textLength="42.02" lengthAdjust="spacingAndGlyphs">***</text>
<line x1="608.2" y1="1297.7" x2="672.6" y2="1297.7" stroke="#000" stroke-width="3.3"/>
<rect x="684.4" y="1135" width="25.6" height="11.8" fill="#90c0f8"/>
<text x="723.55" y="1147.29" font-family="'Liberation Sans', 'Noto Sans CJK SC', sans-serif" font-size="20.55" textLength="67.47" lengthAdjust="spacingAndGlyphs">Control</text>
<rect x="684.4" y="1167.6" width="25.6" height="12.1" fill="#f5a8e2"/>
<text x="722.95" y="1179.4" font-family="'Liberation Sans', 'Noto Sans CJK SC', sans-serif" font-size="19.42" textLength="32.11" lengthAdjust="spacingAndGlyphs">DM</text>
<rect x="684.4" y="1200.4" width="25.6" height="12.4" fill="#b554d6"/>
<text x="723" y="1212.5" font-family="'Liberation Sans', 'Noto Sans CJK SC', sans-serif" font-size="19.86">DKD</text>
<text transform="translate(99.13,1481.85) rotate(-45)" font-family="'Liberation Sans', 'Noto Sans CJK SC', sans-serif" font-size="17.49" font-weight="bold">Acinetobacter</text>
<text transform="translate(215.52,1481.15) rotate(-45)" font-family="'Liberation Sans', 'Noto Sans CJK SC', sans-serif" font-size="17.61" font-weight="bold">Enterococcus</text>
<text transform="translate(333.16,1478.75) rotate(-45)" font-family="'Liberation Sans', 'Noto Sans CJK SC', sans-serif" font-size="17.75" font-weight="bold">Desulfovibrio</text>
<text transform="translate(464.15,1466.36) rotate(-45)" font-family="'Liberation Sans', 'Noto Sans CJK SC', sans-serif" font-size="16.75" font-weight="bold">Clostridium</text>
<text transform="translate(561.18,1482.33) rotate(-45)" font-family="'Liberation Sans', 'Noto Sans CJK SC', sans-serif" font-size="17.05" font-weight="bold">Streptococcus</text>
<text x="5.89" y="1530.9" font-family="'Liberation Serif', 'Noto Serif CJK SC', serif" font-size="54.46" textLength="38.74" lengthAdjust="spacingAndGlyphs">H</text>
<line x1="109.3" y1="1546.4" x2="109.3" y2="1767.05" stroke="#000" stroke-width="2.5"/>
<line x1="99.6" y1="1765.8" x2="109.3" y2="1765.8" stroke="#000" stroke-width="2.5"/>
<text x="88.53" y="1771.53" font-family="'Liberation Sans', 'Noto Sans CJK SC', sans-serif" font-size="16.62" font-weight="bold" textLength="9.06" lengthAdjust="spacingAndGlyphs">0</text>
<line x1="99.6" y1="1710.95" x2="109.3" y2="1710.95" stroke="#000" stroke-width="2.5"/>
<text x="88.41" y="1716.85" font-family="'Liberation Sans', 'Noto Sans CJK SC', sans-serif" font-size="16.86" font-weight="bold" textLength="9.19" lengthAdjust="spacingAndGlyphs">2</text>
<line x1="99.6" y1="1656.1" x2="109.3" y2="1656.1" stroke="#000" stroke-width="2.5"/>
<text x="87.78" y="1662" font-family="'Liberation Sans', 'Noto Sans CJK SC', sans-serif" font-size="17.1" font-weight="bold" textLength="9.32" lengthAdjust="spacingAndGlyphs">4</text>
<line x1="99.6" y1="1601.25" x2="109.3" y2="1601.25" stroke="#000" stroke-width="2.5"/>
<text x="88.53" y="1606.98" font-family="'Liberation Sans', 'Noto Sans CJK SC', sans-serif" font-size="16.62" font-weight="bold" textLength="9.06" lengthAdjust="spacingAndGlyphs">6</text>
<line x1="99.6" y1="1546.4" x2="109.3" y2="1546.4" stroke="#000" stroke-width="2.5"/>
<text x="88.37" y="1552.13" font-family="'Liberation Sans', 'Noto Sans CJK SC', sans-serif" font-size="16.62" font-weight="bold" textLength="9.06" lengthAdjust="spacingAndGlyphs">8</text>
<line x1="99.6" y1="1765.8" x2="256.6" y2="1765.8" stroke="#000" stroke-width="2.5"/>
<line x1="138.5" y1="1765.8" x2="138.5" y2="1773.9" stroke="#000" stroke-width="2.5"/>
<line x1="182.7" y1="1765.8" x2="182.7" y2="1773.9" stroke="#000" stroke-width="2.5"/>
<line x1="226.4" y1="1765.8" x2="226.4" y2="1773.9" stroke="#000" stroke-width="2.5"/>
<rect x="123.8" y="1742.5" width="29.4" height="23.3" fill="#0000ff"/>
<line x1="138.5" y1="1742.5" x2="138.5" y2="1739" stroke="#0000ff" stroke-width="1.5"/>
<line x1="132" y1="1739" x2="145" y2="1739" stroke="#0000ff" stroke-width="1.5"/>
<rect x="168" y="1713.9" width="29.4" height="51.9" fill="#ff0000"/>
<line x1="182.7" y1="1713.9" x2="182.7" y2="1695.6" stroke="#ff0000" stroke-width="1.5"/>
<line x1="176.2" y1="1695.6" x2="189.2" y2="1695.6" stroke="#ff0000" stroke-width="1.5"/>
<rect x="211.6" y="1621.2" width="29" height="144.6" fill="#00bb00"/>
<line x1="226.1" y1="1621.2" x2="226.1" y2="1577.8" stroke="#00bb00" stroke-width="1.5"/>
<line x1="219.6" y1="1577.8" x2="232.6" y2="1577.8" stroke="#00bb00" stroke-width="1.5"/>
<polyline points="138.5,1525.5 138.5,1515.4 227.2,1515.4 227.2,1525.5" fill="none" stroke="#000" stroke-width="3" stroke-linejoin="miter" stroke-linecap="butt"/>
<text x="176.67" y="1505" font-family="'Liberation Sans', 'Noto Sans CJK SC', sans-serif" font-size="17.65" font-weight="bold" textLength="10.99" lengthAdjust="spacingAndGlyphs" stroke="#000" stroke-width="0.45">#</text>
<polyline points="182.7,1567.9 182.7,1557.7 225,1557.7 225,1567.9" fill="none" stroke="#000" stroke-width="3" stroke-linejoin="miter" stroke-linecap="butt"/>
<text x="197.28" y="1559.98" font-family="'Liberation Sans', 'Noto Sans CJK SC', sans-serif" font-size="32.43" font-weight="bold">*</text>
<polyline points="138.5,1666.7 138.5,1656.3 183.5,1656.3 183.5,1666.7" fill="none" stroke="#000" stroke-width="3" stroke-linejoin="miter" stroke-linecap="butt"/>
<text x="154.64" y="1658.15" font-family="'Liberation Sans', 'Noto Sans CJK SC', sans-serif" font-size="31.08" font-weight="bold">*</text>
<text transform="translate(78.2,1791.24) rotate(-90)" font-family="'Liberation Serif', 'Noto Serif CJK SC', serif" font-size="19.69" font-weight="bold" textLength="270.09" lengthAdjust="spacingAndGlyphs">mRNA relative expression of TLR4</text>
<text transform="translate(111.69,1824.42) rotate(-45)" font-family="'Liberation Serif', 'Noto Serif CJK SC', serif" font-size="15.41" font-weight="bold">control</text>
<text transform="translate(170.02,1808.41) rotate(-45)" font-family="'Liberation Serif', 'Noto Serif CJK SC', serif" font-size="15.08" font-weight="bold">DM</text>
<text transform="translate(206.45,1815.12) rotate(-45)" font-family="'Liberation Serif', 'Noto Serif CJK SC', serif" font-size="15.61" font-weight="bold">DKD</text>
<text x="153.6" y="1851.17" font-family="'Liberation Serif', 'Noto Serif CJK SC', serif" font-size="17.39" font-weight="bold" textLength="58.2" lengthAdjust="spacingAndGlyphs">kidney</text>
<rect x="305.4" y="1556.3" width="23.6" height="11.3" fill="#0000ff"/>
<text x="342.1" y="1567.67" font-family="'Liberation Sans', 'Noto Sans CJK SC', sans-serif" font-size="16.58" textLength="54.02" lengthAdjust="spacingAndGlyphs">control</text>
<rect x="305.4" y="1585.3" width="23.6" height="11.2" fill="#ff0000"/>
<text x="342.1" y="1596.62" font-family="'Liberation Sans', 'Noto Sans CJK SC', sans-serif" font-size="16.58" textLength="27.99" lengthAdjust="spacingAndGlyphs">DM</text>
<rect x="305.4" y="1614.7" width="23.6" height="11.3" fill="#00bb00"/>
<text x="342.1" y="1626.07" font-family="'Liberation Sans', 'Noto Sans CJK SC', sans-serif" font-size="16.58" textLength="38.01" lengthAdjust="spacingAndGlyphs">DKD</text>
<line x1="479.6" y1="1553.7" x2="479.6" y2="1774.55" stroke="#000" stroke-width="2.5"/>
<line x1="470.2" y1="1773.3" x2="479.6" y2="1773.3" stroke="#000" stroke-width="2.5"/>
<text x="458.17" y="1779.28" font-family="'Liberation Sans', 'Noto Sans CJK SC', sans-serif" font-size="17.32" font-weight="bold" textLength="9.44" lengthAdjust="spacingAndGlyphs">0</text>
<line x1="470.2" y1="1718.4" x2="479.6" y2="1718.4" stroke="#000" stroke-width="2.5"/>
<text x="458.05" y="1724.55" font-family="'Liberation Sans', 'Noto Sans CJK SC', sans-serif" font-size="17.57" font-weight="bold" textLength="9.58" lengthAdjust="spacingAndGlyphs">2</text>
<line x1="470.2" y1="1663.5" x2="479.6" y2="1663.5" stroke="#000" stroke-width="2.5"/>
<text x="457.39" y="1669.65" font-family="'Liberation Sans', 'Noto Sans CJK SC', sans-serif" font-size="17.83" font-weight="bold" textLength="9.71" lengthAdjust="spacingAndGlyphs">4</text>
<line x1="470.2" y1="1608.6" x2="479.6" y2="1608.6" stroke="#000" stroke-width="2.5"/>
<text x="458.17" y="1614.58" font-family="'Liberation Sans', 'Noto Sans CJK SC', sans-serif" font-size="17.32" font-weight="bold" textLength="9.44" lengthAdjust="spacingAndGlyphs">6</text>
<line x1="470.2" y1="1553.7" x2="479.6" y2="1553.7" stroke="#000" stroke-width="2.5"/>
<text x="458" y="1559.68" font-family="'Liberation Sans', 'Noto Sans CJK SC', sans-serif" font-size="17.32" font-weight="bold" textLength="9.44" lengthAdjust="spacingAndGlyphs">8</text>
<line x1="470.2" y1="1773.3" x2="626.4" y2="1773.3" stroke="#000" stroke-width="2.5"/>
<line x1="501.3" y1="1773.3" x2="501.3" y2="1782.2" stroke="#000" stroke-width="2.5"/>
<line x1="535.3" y1="1773.3" x2="535.3" y2="1782.2" stroke="#000" stroke-width="2.5"/>
<line x1="569.3" y1="1773.3" x2="569.3" y2="1782.2" stroke="#000" stroke-width="2.5"/>
<line x1="603" y1="1773.3" x2="603" y2="1782.2" stroke="#000" stroke-width="2.5"/>
<rect x="490.5" y="1627.9" width="22.5" height="145.4" fill="#0000ff"/>
<line x1="501.75" y1="1627.9" x2="501.75" y2="1585" stroke="#0000ff" stroke-width="1.5"/>
<line x1="496.25" y1="1585" x2="507.25" y2="1585" stroke="#0000ff" stroke-width="1.5"/>
<rect x="524" y="1644.7" width="22.8" height="128.6" fill="#ff0000"/>
<line x1="535.4" y1="1644.7" x2="535.4" y2="1610.5" stroke="#ff0000" stroke-width="1.5"/>
<line x1="529.9" y1="1610.5" x2="540.9" y2="1610.5" stroke="#ff0000" stroke-width="1.5"/>
<rect x="558" y="1691.6" width="22.8" height="81.7" fill="#00bb00"/>
<line x1="569.4" y1="1691.6" x2="569.4" y2="1669.4" stroke="#00bb00" stroke-width="1.5"/>
<line x1="563.9" y1="1669.4" x2="574.9" y2="1669.4" stroke="#00bb00" stroke-width="1.5"/>
<rect x="592" y="1723.8" width="22.3" height="49.5" fill="#a000e0"/>
<line x1="603.15" y1="1723.8" x2="603.15" y2="1707.7" stroke="#a000e0" stroke-width="1.5"/>
<line x1="597.65" y1="1707.7" x2="608.65" y2="1707.7" stroke="#a000e0" stroke-width="1.5"/>
<polyline points="501.3,1528.2 501.3,1516.2 603.6,1516.2 603.6,1528.2" fill="none" stroke="#000" stroke-width="3" stroke-linejoin="miter" stroke-linecap="butt"/>
<text x="545.74" y="1507" font-family="'Liberation Sans', 'Noto Sans CJK SC', sans-serif" font-size="20.59" font-weight="bold" textLength="12.82" lengthAdjust="spacingAndGlyphs" stroke="#000" stroke-width="0.45">#</text>
<polyline points="538,1592 538,1579.7 569.3,1579.7 569.3,1592" fill="none" stroke="#000" stroke-width="3" stroke-linejoin="miter" stroke-linecap="butt"/>
<text x="547.93" y="1578.65" font-family="'Liberation Sans', 'Noto Sans CJK SC', sans-serif" font-size="27.03" font-weight="bold">*</text>
<polyline points="568,1656 568,1645.3 603.6,1645.3 603.6,1656" fill="none" stroke="#000" stroke-width="3" stroke-linejoin="miter" stroke-linecap="butt"/>
<text x="580.87" y="1642.84" font-family="'Liberation Sans', 'Noto Sans CJK SC', sans-serif" font-size="23.24" font-weight="bold">*</text>
<text transform="translate(448.1,1799.34) rotate(-90)" font-family="'Liberation Serif', 'Noto Serif CJK SC', serif" font-size="20" font-weight="bold" textLength="271.5" lengthAdjust="spacingAndGlyphs">mRNA relative expression of TLR4</text>
<text transform="translate(483.01,1821.71) rotate(-45)" font-family="'Liberation Serif', 'Noto Serif CJK SC', serif" font-size="14.85" font-weight="bold">DKD</text>
<text transform="translate(517.98,1820.31) rotate(-45)" font-family="'Liberation Serif', 'Noto Serif CJK SC', serif" font-size="15.23" font-weight="bold">LVD</text>
<text transform="translate(547.49,1824.31) rotate(-45)" font-family="'Liberation Serif', 'Noto Serif CJK SC', serif" font-size="15.23" font-weight="bold">MVD</text>
<text transform="translate(583.99,1821.6) rotate(-45)" font-family="'Liberation Serif', 'Noto Serif CJK SC', serif" font-size="14.8" font-weight="bold">HVD</text>
<text x="523.4" y="1851.17" font-family="'Liberation Serif', 'Noto Serif CJK SC', serif" font-size="17.39" font-weight="bold" textLength="58.41" lengthAdjust="spacingAndGlyphs">kidney</text>
<rect x="675.9" y="1563" width="23.3" height="11.3" fill="#0000ff"/>
<text x="712.6" y="1574.7" font-family="'Liberation Sans', 'Noto Sans CJK SC', sans-serif" font-size="17.54" textLength="38.41" lengthAdjust="spacingAndGlyphs">DKD</text>
<rect x="675.9" y="1592.5" width="23.3" height="11.1" fill="#ff0000"/>
<text x="712.6" y="1604.1" font-family="'Liberation Sans', 'Noto Sans CJK SC', sans-serif" font-size="17.54" textLength="34.04" lengthAdjust="spacingAndGlyphs">LVD</text>
<rect x="675.9" y="1622" width="23.3" height="11.4" fill="#00bb00"/>
<text x="712.6" y="1633.75" font-family="'Liberation Sans', 'Noto Sans CJK SC', sans-serif" font-size="17.54" textLength="40.42" lengthAdjust="spacingAndGlyphs">MVD</text>
<rect x="675.9" y="1651.4" width="23.3" height="11.2" fill="#a000e0"/>
<text x="712.6" y="1663.05" font-family="'Liberation Sans', 'Noto Sans CJK SC', sans-serif" font-size="17.54" textLength="38.41" lengthAdjust="spacingAndGlyphs">HVD</text>
<line x1="845.6" y1="1567.9" x2="845.6" y2="1773.25" stroke="#000" stroke-width="2.5"/>
<line x1="836.8" y1="1772" x2="845.6" y2="1772" stroke="#000" stroke-width="2.5"/>
<text x="826.93" y="1777.39" font-family="'Liberation Sans', 'Noto Sans CJK SC', sans-serif" font-size="15.63" font-weight="bold" textLength="8.52" lengthAdjust="spacingAndGlyphs">0</text>
<line x1="836.8" y1="1721" x2="845.6" y2="1721" stroke="#000" stroke-width="2.5"/>
<text x="826.66" y="1726.39" font-family="'Liberation Sans', 'Noto Sans CJK SC', sans-serif" font-size="15.86" font-weight="bold" textLength="8.64" lengthAdjust="spacingAndGlyphs">5</text>
<line x1="836.8" y1="1670" x2="845.6" y2="1670" stroke="#000" stroke-width="2.5"/>
<text x="818.35" y="1675.39" font-family="'Liberation Sans', 'Noto Sans CJK SC', sans-serif" font-size="15.63" font-weight="bold" textLength="17.04" lengthAdjust="spacingAndGlyphs">10</text>
<line x1="836.8" y1="1619" x2="845.6" y2="1619" stroke="#000" stroke-width="2.5"/>
<text x="817.96" y="1624.39" font-family="'Liberation Sans', 'Noto Sans CJK SC', sans-serif" font-size="15.86" font-weight="bold" textLength="17.28" lengthAdjust="spacingAndGlyphs">15</text>
<line x1="836.8" y1="1568" x2="845.6" y2="1568" stroke="#000" stroke-width="2.5"/>
<text x="818.35" y="1573.39" font-family="'Liberation Sans', 'Noto Sans CJK SC', sans-serif" font-size="15.63" font-weight="bold" textLength="17.04" lengthAdjust="spacingAndGlyphs">20</text>
<line x1="836.8" y1="1772" x2="982.3" y2="1772" stroke="#000" stroke-width="2.5"/>
<line x1="872.4" y1="1772" x2="872.4" y2="1780.6" stroke="#000" stroke-width="2.5"/>
<line x1="913.1" y1="1772" x2="913.1" y2="1780.6" stroke="#000" stroke-width="2.5"/>
<line x1="954.1" y1="1772" x2="954.1" y2="1780.6" stroke="#000" stroke-width="2.5"/>
<rect x="859.6" y="1762.6" width="26.7" height="9.4" fill="#0000ff"/>
<line x1="872.95" y1="1762.6" x2="872.95" y2="1761.8" stroke="#0000ff" stroke-width="1.5"/>
<line x1="866.45" y1="1761.8" x2="879.45" y2="1761.8" stroke="#0000ff" stroke-width="1.5"/>
<rect x="900" y="1674.2" width="26.8" height="97.8" fill="#ff0000"/>
<line x1="913.4" y1="1674.2" x2="913.4" y2="1668.9" stroke="#ff0000" stroke-width="1.5"/>
<line x1="906.9" y1="1668.9" x2="919.9" y2="1668.9" stroke="#ff0000" stroke-width="1.5"/>
<rect x="940.7" y="1616.1" width="27.3" height="155.9" fill="#00bb00"/>
<line x1="954.35" y1="1616.1" x2="954.35" y2="1600" stroke="#00bb00" stroke-width="1.5"/>
<line x1="947.85" y1="1600" x2="960.85" y2="1600" stroke="#00bb00" stroke-width="1.5"/>
<polyline points="872.4,1543.8 872.4,1533.6 954.7,1533.6 954.7,1543.8" fill="none" stroke="#000" stroke-width="3" stroke-linejoin="miter" stroke-linecap="butt"/>
<text x="897.28" y="1524.2" font-family="'Liberation Sans', 'Noto Sans CJK SC', sans-serif" font-size="16.91" font-weight="bold" textLength="31.6" lengthAdjust="spacingAndGlyphs" stroke="#000" stroke-width="0.45">###</text>
<polyline points="913.1,1581.3 913.1,1567 954.7,1567 954.7,1581.3" fill="none" stroke="#000" stroke-width="3" stroke-linejoin="miter" stroke-linecap="butt"/>
<text x="929.05" y="1567.13" font-family="'Liberation Sans', 'Noto Sans CJK SC', sans-serif" font-size="25.41" font-weight="bold">*</text>
<polyline points="872.4,1649.3 872.4,1639.4 913.4,1639.4 913.4,1649.3" fill="none" stroke="#000" stroke-width="3" stroke-linejoin="miter" stroke-linecap="butt"/>
<text x="877.6" y="1630" font-family="'Liberation Sans', 'Noto Sans CJK SC', sans-serif" font-size="16.47" font-weight="bold" textLength="30.77" lengthAdjust="spacingAndGlyphs" stroke="#000" stroke-width="0.45">###</text>
<text transform="translate(806.9,1799.31) rotate(-90)" font-family="'Liberation Serif', 'Noto Serif CJK SC', serif" font-size="18.7" font-weight="bold" textLength="260.31" lengthAdjust="spacingAndGlyphs">mRNA relative expression of NF-κB</text>
<text transform="translate(846.13,1825.8) rotate(-45)" font-family="'Liberation Serif', 'Noto Serif CJK SC', serif" font-size="14.41" font-weight="bold">control</text>
<text transform="translate(901.32,1812.41) rotate(-45)" font-family="'Liberation Serif', 'Noto Serif CJK SC', serif" font-size="15.08" font-weight="bold">DM</text>
<text transform="translate(934.85,1818.21) rotate(-45)" font-family="'Liberation Serif', 'Noto Serif CJK SC', serif" font-size="15.15" font-weight="bold">DKD</text>
<text x="886.22" y="1851.97" font-family="'Liberation Serif', 'Noto Serif CJK SC', serif" font-size="17.39" font-weight="bold" textLength="54.67" lengthAdjust="spacingAndGlyphs">kidney</text>
<rect x="1028.6" y="1576.4" width="21.4" height="10.8" fill="#0000ff"/>
<text x="1062.6" y="1587.52" font-family="'Liberation Sans', 'Noto Sans CJK SC', sans-serif" font-size="16.58" textLength="50.71" lengthAdjust="spacingAndGlyphs">control</text>
<rect x="1028.6" y="1603.8" width="21.4" height="10.7" fill="#ff0000"/>
<text x="1062.6" y="1614.87" font-family="'Liberation Sans', 'Noto Sans CJK SC', sans-serif" font-size="16.58" textLength="26.28" lengthAdjust="spacingAndGlyphs">DM</text>
<rect x="1028.6" y="1631.9" width="21.4" height="10.7" fill="#00bb00"/>
<text x="1062.6" y="1642.97" font-family="'Liberation Sans', 'Noto Sans CJK SC', sans-serif" font-size="16.58" textLength="35.68" lengthAdjust="spacingAndGlyphs">DKD</text>
<line x1="1206.2" y1="1564.4" x2="1206.2" y2="1783.45" stroke="#000" stroke-width="2.5"/>
<line x1="1196.8" y1="1782.2" x2="1206.2" y2="1782.2" stroke="#000" stroke-width="2.5"/>
<text x="1186.36" y="1787.98" font-family="'Liberation Sans', 'Noto Sans CJK SC', sans-serif" font-size="16.76" font-weight="bold" textLength="9.13" lengthAdjust="spacingAndGlyphs">0</text>
<line x1="1196.8" y1="1727.75" x2="1206.2" y2="1727.75" stroke="#000" stroke-width="2.5"/>
<text x="1186.07" y="1733.53" font-family="'Liberation Sans', 'Noto Sans CJK SC', sans-serif" font-size="17" font-weight="bold" textLength="9.26" lengthAdjust="spacingAndGlyphs">5</text>
<line x1="1196.8" y1="1673.3" x2="1206.2" y2="1673.3" stroke="#000" stroke-width="2.5"/>
<text x="1177.16" y="1679.08" font-family="'Liberation Sans', 'Noto Sans CJK SC', sans-serif" font-size="16.76" font-weight="bold" textLength="18.27" lengthAdjust="spacingAndGlyphs">10</text>
<line x1="1196.8" y1="1618.85" x2="1206.2" y2="1618.85" stroke="#000" stroke-width="2.5"/>
<text x="1176.74" y="1624.63" font-family="'Liberation Sans', 'Noto Sans CJK SC', sans-serif" font-size="17" font-weight="bold" textLength="18.53" lengthAdjust="spacingAndGlyphs">15</text>
<line x1="1196.8" y1="1564.4" x2="1206.2" y2="1564.4" stroke="#000" stroke-width="2.5"/>
<text x="1177.16" y="1570.18" font-family="'Liberation Sans', 'Noto Sans CJK SC', sans-serif" font-size="16.76" font-weight="bold" textLength="18.27" lengthAdjust="spacingAndGlyphs">20</text>
<line x1="1196.8" y1="1782.2" x2="1352.4" y2="1782.2" stroke="#000" stroke-width="2.5"/>
<line x1="1228.4" y1="1782.2" x2="1228.4" y2="1791.3" stroke="#000" stroke-width="2.5"/>
<line x1="1261.9" y1="1782.2" x2="1261.9" y2="1791.3" stroke="#000" stroke-width="2.5"/>
<line x1="1295.4" y1="1782.2" x2="1295.4" y2="1791.3" stroke="#000" stroke-width="2.5"/>
<line x1="1329.4" y1="1782.2" x2="1329.4" y2="1791.3" stroke="#000" stroke-width="2.5"/>
<rect x="1217.7" y="1615.8" width="22.2" height="166.4" fill="#0000ff"/>
<line x1="1228.8" y1="1615.8" x2="1228.8" y2="1598.4" stroke="#0000ff" stroke-width="1.5"/>
<line x1="1223.3" y1="1598.4" x2="1234.3" y2="1598.4" stroke="#0000ff" stroke-width="1.5"/>
<rect x="1251.2" y="1616.1" width="22.2" height="166.1" fill="#ff0000"/>
<line x1="1262.3" y1="1616.1" x2="1262.3" y2="1598.4" stroke="#ff0000" stroke-width="1.5"/>
<line x1="1256.8" y1="1598.4" x2="1267.8" y2="1598.4" stroke="#ff0000" stroke-width="1.5"/>
<rect x="1284.7" y="1660" width="22.2" height="122.2" fill="#00bb00"/>
<line x1="1295.8" y1="1660" x2="1295.8" y2="1622.8" stroke="#00bb00" stroke-width="1.5"/>
<line x1="1290.3" y1="1622.8" x2="1301.3" y2="1622.8" stroke="#00bb00" stroke-width="1.5"/>
<rect x="1318.1" y="1678.2" width="22.3" height="104" fill="#a000e0"/>
<line x1="1329.25" y1="1678.2" x2="1329.25" y2="1663.5" stroke="#a000e0" stroke-width="1.5"/>
<line x1="1323.75" y1="1663.5" x2="1334.75" y2="1663.5" stroke="#a000e0" stroke-width="1.5"/>
<polyline points="1228.4,1559 1228.4,1547 1329.7,1547 1329.7,1559" fill="none" stroke="#000" stroke-width="3" stroke-linejoin="miter" stroke-linecap="butt"/>
<text x="1273.27" y="1536" font-family="'Liberation Sans', 'Noto Sans CJK SC', sans-serif" font-size="17.65" font-weight="bold" textLength="10.99" lengthAdjust="spacingAndGlyphs" stroke="#000" stroke-width="0.45">#</text>
<polyline points="1261.9,1587.7 1261.9,1577 1329.7,1577 1329.7,1587.7" fill="none" stroke="#000" stroke-width="3" stroke-linejoin="miter" stroke-linecap="butt"/>
<text x="1291.25" y="1576.53" font-family="'Liberation Sans', 'Noto Sans CJK SC', sans-serif" font-size="25.41" font-weight="bold">*</text>
<text transform="translate(1165.4,1812.75) rotate(-90)" font-family="'Liberation Serif', 'Noto Serif CJK SC', serif" font-size="20" font-weight="bold" textLength="279.69" lengthAdjust="spacingAndGlyphs">mRNA relative expression of NF-κB</text>
<text transform="translate(1209.58,1830.35) rotate(-45)" font-family="'Liberation Sans', 'Noto Sans CJK SC', sans-serif" font-size="15.23" font-weight="bold">DKD</text>
<text transform="translate(1244.77,1828.99) rotate(-45)" font-family="'Liberation Sans', 'Noto Sans CJK SC', sans-serif" font-size="15.9" font-weight="bold">LVD</text>
<text transform="translate(1275.42,1831.67) rotate(-45)" font-family="'Liberation Sans', 'Noto Sans CJK SC', sans-serif" font-size="15.56" font-weight="bold">MVD</text>
<text transform="translate(1310.2,1830.37) rotate(-45)" font-family="'Liberation Sans', 'Noto Sans CJK SC', sans-serif" font-size="15.51" font-weight="bold">HVD</text>
<text x="1250" y="1857.54" font-family="'Liberation Serif', 'Noto Serif CJK SC', serif" font-size="18.91" font-weight="bold" textLength="58.41" lengthAdjust="spacingAndGlyphs">kidney</text>
<rect x="1401.2" y="1573.2" width="23.6" height="11.3" fill="#0000ff"/>
<text x="1437.9" y="1584.9" font-family="'Liberation Sans', 'Noto Sans CJK SC', sans-serif" font-size="17.54" textLength="37.77" lengthAdjust="spacingAndGlyphs">DKD</text>
<rect x="1401.2" y="1602.4" width="23.6" height="11.2" fill="#ff0000"/>
<text x="1437.9" y="1614.05" font-family="'Liberation Sans', 'Noto Sans CJK SC', sans-serif" font-size="17.54" textLength="33.47" lengthAdjust="spacingAndGlyphs">LVD</text>
<rect x="1401.2" y="1631.9" width="23.6" height="11.2" fill="#00bb00"/>
<text x="1437.9" y="1643.55" font-family="'Liberation Sans', 'Noto Sans CJK SC', sans-serif" font-size="17.54" textLength="39.75" lengthAdjust="spacingAndGlyphs">MVD</text>
<rect x="1401.2" y="1661.4" width="23.6" height="11.2" fill="#a000e0"/>
<text x="1437.9" y="1673.05" font-family="'Liberation Sans', 'Noto Sans CJK SC', sans-serif" font-size="17.54" textLength="37.77" lengthAdjust="spacingAndGlyphs">HVD</text>
<text x="5.15" y="1910.9" font-family="'Liberation Serif', 'Noto Serif CJK SC', serif" font-size="52.77" textLength="19.59" lengthAdjust="spacingAndGlyphs">I</text>
<line x1="106.3" y1="1918.1" x2="106.3" y2="2122.45" stroke="#000" stroke-width="2.5"/>
<line x1="97" y1="2121.2" x2="106.3" y2="2121.2" stroke="#000" stroke-width="2.5"/>
<text x="85.69" y="2126.69" font-family="'Liberation Sans', 'Noto Sans CJK SC', sans-serif" font-size="15.92" font-weight="bold" textLength="8.67" lengthAdjust="spacingAndGlyphs">0</text>
<line x1="97" y1="2070.4" x2="106.3" y2="2070.4" stroke="#000" stroke-width="2.5"/>
<text x="68.38" y="2075.89" font-family="'Liberation Sans', 'Noto Sans CJK SC', sans-serif" font-size="15.92" font-weight="bold" textLength="26.02" lengthAdjust="spacingAndGlyphs">100</text>
<line x1="97" y1="2019.6" x2="106.3" y2="2019.6" stroke="#000" stroke-width="2.5"/>
<text x="68.38" y="2025.09" font-family="'Liberation Sans', 'Noto Sans CJK SC', sans-serif" font-size="15.92" font-weight="bold" textLength="26.02" lengthAdjust="spacingAndGlyphs">200</text>
<line x1="97" y1="1968.8" x2="106.3" y2="1968.8" stroke="#000" stroke-width="2.5"/>
<text x="68.38" y="1974.29" font-family="'Liberation Sans', 'Noto Sans CJK SC', sans-serif" font-size="15.92" font-weight="bold" textLength="26.02" lengthAdjust="spacingAndGlyphs">300</text>
<line x1="97" y1="1918" x2="106.3" y2="1918" stroke="#000" stroke-width="2.5"/>
<text x="68.38" y="1923.49" font-family="'Liberation Sans', 'Noto Sans CJK SC', sans-serif" font-size="15.92" font-weight="bold" textLength="26.02" lengthAdjust="spacingAndGlyphs">400</text>
<line x1="97" y1="2121.2" x2="242.4" y2="2121.2" stroke="#000" stroke-width="2.5"/>
<line x1="132" y1="2121.2" x2="132" y2="2129.2" stroke="#000" stroke-width="2.5"/>
<line x1="172.8" y1="2121.2" x2="172.8" y2="2129.2" stroke="#000" stroke-width="2.5"/>
<line x1="213.8" y1="2121.2" x2="213.8" y2="2129.2" stroke="#000" stroke-width="2.5"/>
<rect x="119.2" y="2109.1" width="26.8" height="12.1" fill="#0000ff"/>
<line x1="132.6" y1="2109.1" x2="132.6" y2="2105.9" stroke="#0000ff" stroke-width="1.5"/>
<line x1="126.1" y1="2105.9" x2="139.1" y2="2105.9" stroke="#0000ff" stroke-width="1.5"/>
<rect x="160" y="2031.4" width="26.7" height="89.8" fill="#ff0000"/>
<line x1="173.35" y1="2031.4" x2="173.35" y2="2023.4" stroke="#ff0000" stroke-width="1.5"/>
<line x1="166.85" y1="2023.4" x2="179.85" y2="2023.4" stroke="#ff0000" stroke-width="1.5"/>
<rect x="200.9" y="1975.2" width="26.8" height="146" fill="#00bb00"/>
<line x1="214.3" y1="1975.2" x2="214.3" y2="1955.6" stroke="#00bb00" stroke-width="1.5"/>
<line x1="207.8" y1="1955.6" x2="220.8" y2="1955.6" stroke="#00bb00" stroke-width="1.5"/>
<polyline points="132,1907.7 132,1898 214.3,1898 214.3,1907.7" fill="none" stroke="#000" stroke-width="3" stroke-linejoin="miter" stroke-linecap="butt"/>
<text x="167.87" y="1888.1" font-family="'Liberation Sans', 'Noto Sans CJK SC', sans-serif" font-size="15.74" font-weight="bold" textLength="9.8" lengthAdjust="spacingAndGlyphs" stroke="#000" stroke-width="0.45">#</text>
<polyline points="172.8,1946.3 172.8,1936.9 214.3,1936.9 214.3,1946.3" fill="none" stroke="#000" stroke-width="3" stroke-linejoin="miter" stroke-linecap="butt"/>
<text x="188.5" y="1936.34" font-family="'Liberation Sans', 'Noto Sans CJK SC', sans-serif" font-size="25.14" font-weight="bold">*</text>
<polyline points="132,2014 132,2004.7 172.8,2004.7 172.8,2014" fill="none" stroke="#000" stroke-width="3" stroke-linejoin="miter" stroke-linecap="butt"/>
<text x="147.64" y="2004.3" font-family="'Liberation Sans', 'Noto Sans CJK SC', sans-serif" font-size="25.95" font-weight="bold">*</text>
<text transform="translate(58.7,2112.31) rotate(-90)" font-family="'Liberation Serif', 'Noto Serif CJK SC', serif" font-size="17.1" font-weight="bold" textLength="186.06" lengthAdjust="spacingAndGlyphs">serum TNF-a level(pg/ml)</text>
<text transform="translate(107.47,2175) rotate(-45)" font-family="'Liberation Serif', 'Noto Serif CJK SC', serif" font-size="13.87" font-weight="bold">control</text>
<text transform="translate(161.34,2160.19) rotate(-45)" font-family="'Liberation Serif', 'Noto Serif CJK SC', serif" font-size="13.33" font-weight="bold">DM</text>
<text transform="translate(195.72,2166.9) rotate(-45)" font-family="'Liberation Serif', 'Noto Serif CJK SC', serif" font-size="14.19" font-weight="bold">DKD</text>
<rect x="287.4" y="1927" width="21.5" height="10.7" fill="#0000ff"/>
<text x="321.5" y="1937.78" font-family="'Liberation Sans', 'Noto Sans CJK SC', sans-serif" font-size="15.75" textLength="49.88" lengthAdjust="spacingAndGlyphs">control</text>
<rect x="287.4" y="1954.3" width="21.5" height="10.7" fill="#ff0000"/>
<text x="321.5" y="1965.08" font-family="'Liberation Sans', 'Noto Sans CJK SC', sans-serif" font-size="15.75" textLength="25.85" lengthAdjust="spacingAndGlyphs">DM</text>
<rect x="287.4" y="1981.4" width="21.5" height="10.8" fill="#00bb00"/>
<text x="321.5" y="1992.23" font-family="'Liberation Sans', 'Noto Sans CJK SC', sans-serif" font-size="15.75" textLength="35.09" lengthAdjust="spacingAndGlyphs">DKD</text>
<line x1="476.9" y1="1916.8" x2="476.9" y2="2105.55" stroke="#000" stroke-width="2.5"/>
<line x1="468.3" y1="2104.3" x2="476.9" y2="2104.3" stroke="#000" stroke-width="2.5"/>
<text x="456.69" y="2109.79" font-family="'Liberation Sans', 'Noto Sans CJK SC', sans-serif" font-size="15.92" font-weight="bold" textLength="8.67" lengthAdjust="spacingAndGlyphs">0</text>
<line x1="468.3" y1="2057.4" x2="476.9" y2="2057.4" stroke="#000" stroke-width="2.5"/>
<text x="439.38" y="2062.89" font-family="'Liberation Sans', 'Noto Sans CJK SC', sans-serif" font-size="15.92" font-weight="bold" textLength="26.02" lengthAdjust="spacingAndGlyphs">100</text>
<line x1="468.3" y1="2010.5" x2="476.9" y2="2010.5" stroke="#000" stroke-width="2.5"/>
<text x="439.38" y="2015.99" font-family="'Liberation Sans', 'Noto Sans CJK SC', sans-serif" font-size="15.92" font-weight="bold" textLength="26.02" lengthAdjust="spacingAndGlyphs">200</text>
<line x1="468.3" y1="1963.6" x2="476.9" y2="1963.6" stroke="#000" stroke-width="2.5"/>
<text x="439.38" y="1969.09" font-family="'Liberation Sans', 'Noto Sans CJK SC', sans-serif" font-size="15.92" font-weight="bold" textLength="26.02" lengthAdjust="spacingAndGlyphs">300</text>
<line x1="468.3" y1="1916.7" x2="476.9" y2="1916.7" stroke="#000" stroke-width="2.5"/>
<text x="439.38" y="1922.19" font-family="'Liberation Sans', 'Noto Sans CJK SC', sans-serif" font-size="15.92" font-weight="bold" textLength="26.02" lengthAdjust="spacingAndGlyphs">400</text>
<line x1="468.3" y1="2104.3" x2="602.3" y2="2104.3" stroke="#000" stroke-width="2.5"/>
<line x1="495.1" y1="2104.3" x2="495.1" y2="2111.8" stroke="#000" stroke-width="2.5"/>
<line x1="524" y1="2104.3" x2="524" y2="2111.8" stroke="#000" stroke-width="2.5"/>
<line x1="553.2" y1="2104.3" x2="553.2" y2="2111.8" stroke="#000" stroke-width="2.5"/>
<line x1="582.2" y1="2104.3" x2="582.2" y2="2111.8" stroke="#000" stroke-width="2.5"/>
<rect x="486.3" y="1969" width="19.5" height="135.3" fill="#0000ff"/>
<line x1="496.05" y1="1969" x2="496.05" y2="1951.3" stroke="#0000ff" stroke-width="1.5"/>
<line x1="491.05" y1="1951.3" x2="501.05" y2="1951.3" stroke="#0000ff" stroke-width="1.5"/>
<rect x="515.2" y="1980" width="19.3" height="124.3" fill="#ff0000"/>
<line x1="524.85" y1="1980" x2="524.85" y2="1955.6" stroke="#ff0000" stroke-width="1.5"/>
<line x1="519.85" y1="1955.6" x2="529.85" y2="1955.6" stroke="#ff0000" stroke-width="1.5"/>
<rect x="544.1" y="2058.8" width="19.3" height="45.5" fill="#00bb00"/>
<line x1="553.75" y1="2058.8" x2="553.75" y2="2044.3" stroke="#00bb00" stroke-width="1.5"/>
<line x1="548.75" y1="2044.3" x2="558.75" y2="2044.3" stroke="#00bb00" stroke-width="1.5"/>
<rect x="572.8" y="2073.8" width="19.5" height="30.5" fill="#a000e0"/>
<line x1="582.55" y1="2073.8" x2="582.55" y2="2067.3" stroke="#a000e0" stroke-width="1.5"/>
<line x1="577.55" y1="2067.3" x2="587.55" y2="2067.3" stroke="#a000e0" stroke-width="1.5"/>
<polyline points="495.1,1905.5 495.1,1895.6 581.1,1895.6 581.1,1905.5" fill="none" stroke="#000" stroke-width="3" stroke-linejoin="miter" stroke-linecap="butt"/>
<text x="533.3" y="1886.8" font-family="'Liberation Sans', 'Noto Sans CJK SC', sans-serif" font-size="15" font-weight="bold" textLength="9.34" lengthAdjust="spacingAndGlyphs" stroke="#000" stroke-width="0.45">#</text>
<polyline points="523.8,1945.7 523.8,1936.9 555.4,1936.9 555.4,1945.7" fill="none" stroke="#000" stroke-width="3" stroke-linejoin="miter" stroke-linecap="butt"/>
<text x="534.66" y="1936.71" font-family="'Liberation Sans', 'Noto Sans CJK SC', sans-serif" font-size="23.78" font-weight="bold">*</text>
<polyline points="553.2,2029.3 553.2,2020.7 582.2,2020.7 582.2,2029.3" fill="none" stroke="#000" stroke-width="3" stroke-linejoin="miter" stroke-linecap="butt"/>
<text x="562.42" y="2012.2" font-family="'Liberation Sans', 'Noto Sans CJK SC', sans-serif" font-size="15.88" font-weight="bold" textLength="9.89" lengthAdjust="spacingAndGlyphs" stroke="#000" stroke-width="0.45">#</text>
<text transform="translate(433.1,2096.17) rotate(-90)" font-family="'Liberation Serif', 'Noto Serif CJK SC', serif" font-size="15.36" font-weight="bold" textLength="171.26" lengthAdjust="spacingAndGlyphs">serum TNF-a level(pg/ml)</text>
<text transform="translate(479.41,2146.78) rotate(-45)" font-family="'Liberation Serif', 'Noto Serif CJK SC', serif" font-size="12.83" font-weight="bold">DKD</text>
<text transform="translate(510.32,2144.59) rotate(-45)" font-family="'Liberation Serif', 'Noto Serif CJK SC', serif" font-size="12.62" font-weight="bold">LVD</text>
<text transform="translate(534.54,2149.39) rotate(-45)" font-family="'Liberation Serif', 'Noto Serif CJK SC', serif" font-size="13.34" font-weight="bold">MVD</text>
<text transform="translate(565.43,2147.29) rotate(-45)" font-family="'Liberation Serif', 'Noto Serif CJK SC', serif" font-size="13.09" font-weight="bold">HVD</text>
<rect x="644.3" y="1924.3" width="20.4" height="9.9" fill="#0000ff"/>
<text x="675.9" y="1934.6" font-family="'Liberation Sans', 'Noto Sans CJK SC', sans-serif" font-size="15.51" textLength="33.53" lengthAdjust="spacingAndGlyphs">DKD</text>
<rect x="644.3" y="1949.7" width="20.4" height="9.9" fill="#ff0000"/>
<text x="675.9" y="1960" font-family="'Liberation Sans', 'Noto Sans CJK SC', sans-serif" font-size="15.51" textLength="29.71" lengthAdjust="spacingAndGlyphs">LVD</text>
<rect x="644.3" y="1975.2" width="20.4" height="9.9" fill="#00bb00"/>
<text x="675.9" y="1985.5" font-family="'Liberation Sans', 'Noto Sans CJK SC', sans-serif" font-size="15.51" textLength="35.29" lengthAdjust="spacingAndGlyphs">MVD</text>
<rect x="644.3" y="1999.8" width="20.4" height="9.9" fill="#a000e0"/>
<text x="675.9" y="2010.1" font-family="'Liberation Sans', 'Noto Sans CJK SC', sans-serif" font-size="15.51" textLength="33.53" lengthAdjust="spacingAndGlyphs">HVD</text>
<rect x="828" y="1890" width="724" height="280" fill="#fbfbfb"/>
<text x="788.06" y="1915.76" font-family="'Liberation Serif', 'Noto Serif CJK SC', serif" font-size="53.64" font-weight="bold" textLength="21.74" lengthAdjust="spacingAndGlyphs">J</text>
<line x1="900.5" y1="1924.3" x2="900.5" y2="2124.5" stroke="#111" stroke-width="2.4"/>
<line x1="891" y1="2123.3" x2="900.5" y2="2123.3" stroke="#111" stroke-width="2.4"/>
<text x="879.28" y="2128.89" font-family="'Liberation Sans', 'Noto Sans CJK SC', sans-serif" font-size="16.2" font-weight="bold" fill="#111">0</text>
<line x1="891" y1="2083.5" x2="900.5" y2="2083.5" stroke="#111" stroke-width="2.4"/>
<text x="879.16" y="2089.25" font-family="'Liberation Sans', 'Noto Sans CJK SC', sans-serif" font-size="16.43" font-weight="bold" fill="#111">2</text>
<line x1="891" y1="2043.7" x2="900.5" y2="2043.7" stroke="#111" stroke-width="2.4"/>
<text x="878.53" y="2049.45" font-family="'Liberation Sans', 'Noto Sans CJK SC', sans-serif" font-size="16.67" font-weight="bold" fill="#111">4</text>
<line x1="891" y1="2003.9" x2="900.5" y2="2003.9" stroke="#111" stroke-width="2.4"/>
<text x="879.28" y="2009.49" font-family="'Liberation Sans', 'Noto Sans CJK SC', sans-serif" font-size="16.2" font-weight="bold" fill="#111">6</text>
<line x1="891" y1="1964.1" x2="900.5" y2="1964.1" stroke="#111" stroke-width="2.4"/>
<text x="879.12" y="1969.69" font-family="'Liberation Sans', 'Noto Sans CJK SC', sans-serif" font-size="16.2" font-weight="bold" fill="#111">8</text>
<line x1="891" y1="1924.3" x2="900.5" y2="1924.3" stroke="#111" stroke-width="2.4"/>
<text x="870.21" y="1929.89" font-family="'Liberation Sans', 'Noto Sans CJK SC', sans-serif" font-size="16.2" font-weight="bold" fill="#111">10</text>
<line x1="891" y1="2123.3" x2="1042.4" y2="2123.3" stroke="#111" stroke-width="2.4"/>
<line x1="939.8" y1="2123.3" x2="939.8" y2="2129.2" stroke="#111" stroke-width="2.4"/>
<line x1="1001" y1="2123.3" x2="1001" y2="2129.2" stroke="#111" stroke-width="2.4"/>
<rect x="920.5" y="2056.9" width="39.7" height="66.4" fill="#f67b80"/>
<rect x="981.4" y="2004.7" width="39.6" height="118.6" fill="#5199f2"/>
<line x1="940.35" y1="2056.9" x2="940.35" y2="2036.8" stroke="#f4b4b8" stroke-width="1.3"/>
<line x1="930.35" y1="2036.8" x2="950.35" y2="2036.8" stroke="#f4b4b8" stroke-width="1.3"/>
<line x1="1001.2" y1="2004.7" x2="1001.2" y2="1968" stroke="#a8c8f0" stroke-width="1.3"/>
<line x1="991.2" y1="1968" x2="1011.2" y2="1968" stroke="#a8c8f0" stroke-width="1.3"/>
<polyline points="937.2,2020.7 937.2,1958.6 1001.4,1958.6 1001.4,1965" fill="none" stroke="#000" stroke-width="3.4"/>
<text x="938.64" y="1949.5" font-family="'Liberation Sans', 'Noto Sans CJK SC', sans-serif" font-size="14.29" font-weight="bold" fill="#7a7a7a" textLength="61.41" lengthAdjust="spacingAndGlyphs">p=0.048</text>
<text x="906.11" y="2154.46" font-family="'Liberation Serif', 'Noto Serif CJK SC', serif" font-size="24.03" textLength="57.37" lengthAdjust="spacingAndGlyphs">CON</text>
<text x="975.96" y="2154.7" font-family="'Liberation Serif', 'Noto Serif CJK SC', serif" font-size="24.77" textLength="60.54" lengthAdjust="spacingAndGlyphs">DKD</text>
<text transform="translate(858.1,2109.66) rotate(-90)" font-family="'Liberation Serif', 'Noto Serif CJK SC', serif" font-size="30.3" textLength="182.6" lengthAdjust="spacingAndGlyphs">TMAO(umol/L)</text>
<rect x="1090.1" y="1933.1" width="22" height="12.6" fill="#f67b80"/>
<rect x="1090.1" y="1963.1" width="22" height="12.1" fill="#5199f2"/>
<text x="1118.78" y="1945.01" font-family="'Liberation Serif', 'Noto Serif CJK SC', serif" font-size="19.25" textLength="43.26" lengthAdjust="spacingAndGlyphs">CON</text>
<text x="1119" y="1976" font-family="'Liberation Serif', 'Noto Serif CJK SC', serif" font-size="19.85" textLength="43.54" lengthAdjust="spacingAndGlyphs">DKD</text>
<line x1="1261.7" y1="1958.6" x2="1261.7" y2="2114.7" stroke="#222" stroke-width="1.8"/>
<line x1="1256.9" y1="2113.7" x2="1261.7" y2="2113.7" stroke="#222" stroke-width="1.8"/>
<text x="1246.42" y="2118.36" font-family="'Liberation Sans', 'Noto Sans CJK SC', sans-serif" font-size="13.52" font-weight="bold" fill="#222" textLength="7.14" lengthAdjust="spacingAndGlyphs">0</text>
<line x1="1256.9" y1="2082.68" x2="1261.7" y2="2082.68" stroke="#222" stroke-width="1.8"/>
<text x="1246.33" y="2087.48" font-family="'Liberation Sans', 'Noto Sans CJK SC', sans-serif" font-size="13.71" font-weight="bold" fill="#222" textLength="7.25" lengthAdjust="spacingAndGlyphs">2</text>
<line x1="1256.9" y1="2051.66" x2="1261.7" y2="2051.66" stroke="#222" stroke-width="1.8"/>
<text x="1245.83" y="2056.46" font-family="'Liberation Sans', 'Noto Sans CJK SC', sans-serif" font-size="13.91" font-weight="bold" fill="#222" textLength="7.35" lengthAdjust="spacingAndGlyphs">4</text>
<line x1="1256.9" y1="2020.64" x2="1261.7" y2="2020.64" stroke="#222" stroke-width="1.8"/>
<text x="1246.42" y="2025.3" font-family="'Liberation Sans', 'Noto Sans CJK SC', sans-serif" font-size="13.52" font-weight="bold" fill="#222" textLength="7.14" lengthAdjust="spacingAndGlyphs">6</text>
<line x1="1256.9" y1="1989.62" x2="1261.7" y2="1989.62" stroke="#222" stroke-width="1.8"/>
<text x="1246.29" y="1994.28" font-family="'Liberation Sans', 'Noto Sans CJK SC', sans-serif" font-size="13.52" font-weight="bold" fill="#222" textLength="7.14" lengthAdjust="spacingAndGlyphs">8</text>
<line x1="1256.9" y1="1958.6" x2="1261.7" y2="1958.6" stroke="#222" stroke-width="1.8"/>
<text x="1239.23" y="1963.26" font-family="'Liberation Sans', 'Noto Sans CJK SC', sans-serif" font-size="13.52" font-weight="bold" fill="#222" textLength="14.29" lengthAdjust="spacingAndGlyphs">10</text>
<line x1="1261.7" y1="2113.7" x2="1510" y2="2113.7" stroke="#222" stroke-width="1.8"/>
<line x1="1261.7" y1="2113.7" x2="1261.7" y2="2118.5" stroke="#222" stroke-width="1.8"/>
<text x="1258.38" y="2133.09" font-family="'Liberation Sans', 'Noto Sans CJK SC', sans-serif" font-size="10.99" font-weight="bold" fill="#333" textLength="6.6" lengthAdjust="spacingAndGlyphs">0</text>
<line x1="1311.36" y1="2113.7" x2="1311.36" y2="2118.5" stroke="#222" stroke-width="1.8"/>
<text x="1304.78" y="2133.09" font-family="'Liberation Sans', 'Noto Sans CJK SC', sans-serif" font-size="10.99" font-weight="bold" fill="#333" textLength="13.2" lengthAdjust="spacingAndGlyphs">50</text>
<line x1="1361.02" y1="2113.7" x2="1361.02" y2="2118.5" stroke="#222" stroke-width="1.8"/>
<text x="1350.99" y="2133.09" font-family="'Liberation Sans', 'Noto Sans CJK SC', sans-serif" font-size="10.99" font-weight="bold" fill="#333" textLength="19.79" lengthAdjust="spacingAndGlyphs">100</text>
<line x1="1410.68" y1="2113.7" x2="1410.68" y2="2118.5" stroke="#222" stroke-width="1.8"/>
<text x="1400.65" y="2133.09" font-family="'Liberation Sans', 'Noto Sans CJK SC', sans-serif" font-size="10.99" font-weight="bold" fill="#333" textLength="19.79" lengthAdjust="spacingAndGlyphs">150</text>
<line x1="1460.34" y1="2113.7" x2="1460.34" y2="2118.5" stroke="#222" stroke-width="1.8"/>
<text x="1450.49" y="2133.09" font-family="'Liberation Sans', 'Noto Sans CJK SC', sans-serif" font-size="10.99" font-weight="bold" fill="#333" textLength="19.79" lengthAdjust="spacingAndGlyphs">200</text>
<line x1="1510" y1="2113.7" x2="1510" y2="2118.5" stroke="#222" stroke-width="1.8"/>
<text x="1500.15" y="2133.09" font-family="'Liberation Sans', 'Noto Sans CJK SC', sans-serif" font-size="10.99" font-weight="bold" fill="#333" textLength="19.79" lengthAdjust="spacingAndGlyphs">250</text>
<text x="1339.4" y="2152.4" font-family="'Liberation Sans', 'Noto Sans CJK SC', sans-serif" font-size="10.97" fill="#444" textLength="87.16" lengthAdjust="spacingAndGlyphs">ACR（mg/g ）</text>
<text x="1313.51" y="1938.06" font-family="'Liberation Serif', 'Noto Serif CJK SC', serif" font-size="13.58" font-weight="bold" fill="#444" textLength="61.24" lengthAdjust="spacingAndGlyphs">r=0.4226</text>
<text x="1393.97" y="1938.06" font-family="'Liberation Serif', 'Noto Serif CJK SC', serif" font-size="13.58" font-weight="bold" fill="#444" textLength="65.71" lengthAdjust="spacingAndGlyphs">P=0.0002</text>
<line x1="1279.1" y1="2059.6" x2="1476" y2="1988" stroke="#9a9a9a" stroke-width="1.5"/>
<circle cx="1269.2" cy="2057.4" r="3.9" fill="#000"/>
<circle cx="1277" cy="2057.4" r="3.9" fill="#000"/>
<circle cx="1271.9" cy="2083.1" r="3.9" fill="#000"/>
<circle cx="1277.8" cy="2070.3" r="3.9" fill="#000"/>
<circle cx="1289.8" cy="2053.4" r="3.9" fill="#000"/>
<circle cx="1291.2" cy="2047.5" r="3.9" fill="#000"/>
<circle cx="1299.7" cy="2045.4" r="3.9" fill="#000"/>
<circle cx="1318" cy="2024" r="3.9" fill="#000"/>
<circle cx="1368.9" cy="2009.2" r="3.9" fill="#000"/>
<circle cx="1373.4" cy="2040.8" r="3.9" fill="#000"/>
<circle cx="1379.6" cy="2021.5" r="3.9" fill="#000"/>
<circle cx="1476.8" cy="1994.5" r="3.9" fill="#000"/>
<text transform="translate(1224.3,2125.75) rotate(-90)" font-family="'Liberation Serif', 'Noto Serif CJK SC', serif" font-size="28.03" textLength="181.28" lengthAdjust="spacingAndGlyphs">TMAO(umol/L)</text>
<text x="9.07" y="2218.4" font-family="'Liberation Serif', 'Noto Serif CJK SC', serif" font-size="54.77">K</text>
<line x1="133.9" y1="2192.1" x2="133.9" y2="2429.5" stroke="#000" stroke-width="3.2"/>
<line x1="123.8" y1="2427.9" x2="133.9" y2="2427.9" stroke="#000" stroke-width="3.2"/>
<text x="110.67" y="2434.22" font-family="'Liberation Sans', 'Noto Sans CJK SC', sans-serif" font-size="18.31" font-weight="bold" textLength="9.98" lengthAdjust="spacingAndGlyphs">0</text>
<line x1="123.8" y1="2349.3" x2="133.9" y2="2349.3" stroke="#000" stroke-width="3.2"/>
<text x="110.21" y="2355.8" font-family="'Liberation Sans', 'Noto Sans CJK SC', sans-serif" font-size="18.84" font-weight="bold" textLength="10.27" lengthAdjust="spacingAndGlyphs">1</text>
<line x1="123.8" y1="2270.7" x2="133.9" y2="2270.7" stroke="#000" stroke-width="3.2"/>
<text x="110.54" y="2277.2" font-family="'Liberation Sans', 'Noto Sans CJK SC', sans-serif" font-size="18.57" font-weight="bold" textLength="10.12" lengthAdjust="spacingAndGlyphs">2</text>
<line x1="123.8" y1="2192.1" x2="133.9" y2="2192.1" stroke="#000" stroke-width="3.2"/>
<text x="110.67" y="2198.42" font-family="'Liberation Sans', 'Noto Sans CJK SC', sans-serif" font-size="18.31" font-weight="bold" textLength="9.98" lengthAdjust="spacingAndGlyphs">3</text>
<line x1="123.8" y1="2427.9" x2="302.7" y2="2427.9" stroke="#000" stroke-width="3.2"/>
<line x1="167.4" y1="2427.9" x2="167.4" y2="2438.6" stroke="#000" stroke-width="3.2"/>
<line x1="217.8" y1="2427.9" x2="217.8" y2="2438.6" stroke="#000" stroke-width="3.2"/>
<line x1="267.9" y1="2427.9" x2="267.9" y2="2438.6" stroke="#000" stroke-width="3.2"/>
<path d="M155,2335.5 L180,2335.5 Q184.5,2336 182,2340.5 C176,2348 171,2352 171.5,2357 C172,2362 178.5,2366 179,2372 C179.5,2378 176.5,2382.5 175.5,2385 L160.7,2385 C159.5,2381 155,2376 155.5,2371 C156,2365 163,2361 163,2357 C163,2352 157,2346 153,2340.5 Q151,2336 155,2335.5 Z" fill="#fff" stroke="#2b579e" stroke-width="3.4" stroke-linejoin="round"/>
<line x1="158" y1="2336.8" x2="178" y2="2336.8" stroke="#5a7ad0" stroke-width="1" stroke-dasharray="1.5,2"/>
<line x1="161" y1="2373" x2="176" y2="2373" stroke="#5a7ad0" stroke-width="1" stroke-dasharray="1.5,2"/>
<path d="M213,2396.3 L223,2396.3 C223,2400 219,2403 219.5,2405 C222,2408 234,2408 233.9,2411.5 C233.5,2414 228,2414 218,2414 C208,2414 202,2414 202.2,2411.5 C202.5,2408 214,2408 216.5,2405 C217,2403 213,2400 213,2396.3 Z" fill="#fff" stroke="#4b2b92" stroke-width="3.2" stroke-linejoin="round"/>
<path d="M261,2239.8 L275.5,2239.8 C276,2246 273,2252 273.2,2259 C273.5,2268 283,2278 284,2290 C285,2303 283,2312 283.5,2322 C284,2332 280,2340 279.4,2343.8 L257.2,2343.8 C256,2338 252,2330 252.6,2320 C253,2308 252,2298 253,2288 C255,2276 263.5,2268 263.9,2259 C264,2252 261,2246 261,2239.8 Z" fill="#fff" stroke="#8b1c9c" stroke-width="3.4" stroke-linejoin="round"/>
<line x1="262" y1="2272" x2="275" y2="2272" stroke="#c050d8" stroke-width="1.1" stroke-dasharray="1.5,2"/>
<line x1="255" y1="2302" x2="282" y2="2302" stroke="#e070f0" stroke-width="1.1" stroke-dasharray="4,2"/>
<line x1="258" y1="2329.3" x2="278" y2="2329.3" stroke="#c050d8" stroke-width="1.1" stroke-dasharray="1.5,2"/>
<polyline points="163.4,2296.6 163.4,2281.4 214.3,2281.4 214.3,2296.6" fill="none" stroke="#000" stroke-width="3.6" stroke-linejoin="miter" stroke-linecap="butt"/>
<text x="184.05" y="2279.33" font-family="'Liberation Sans', 'Noto Sans CJK SC', sans-serif" font-size="25.41" font-weight="bold">*</text>
<text transform="translate(98.5,2406.59) rotate(-90)" font-family="'Liberation Serif', 'Noto Serif CJK SC', serif" font-size="22" font-weight="bold" textLength="194.94" lengthAdjust="spacingAndGlyphs">urine KIM-1/creatinine</text>
<text transform="translate(142.32,2487.06) rotate(-45)" font-family="'Liberation Serif', 'Noto Serif CJK SC', serif" font-size="18.69" font-weight="bold">DKD</text>
<text transform="translate(203.3,2476.06) rotate(-45)" font-family="'Liberation Serif', 'Noto Serif CJK SC', serif" font-size="18.69" font-weight="bold">VD</text>
<text transform="translate(232.85,2497) rotate(-45)" font-family="'Liberation Serif', 'Noto Serif CJK SC', serif" font-size="17.94" font-weight="bold">TMAO</text>
<rect x="342" y="2231.8" width="85" height="42.58" fill="#ccccfa"/>
<rect x="426.7" y="2231.8" width="84.4" height="42.58" fill="#e0e0fb"/>
<rect x="510.8" y="2231.8" width="85.5" height="42.58" fill="#0000ff"/>
<rect x="342" y="2274.08" width="85" height="42.58" fill="#ffd8d8"/>
<rect x="426.7" y="2274.08" width="84.4" height="42.58" fill="#e4e4fc"/>
<rect x="510.8" y="2274.08" width="85.5" height="42.58" fill="#0404fa"/>
<rect x="342" y="2316.36" width="85" height="42.58" fill="#fff5f5"/>
<rect x="426.7" y="2316.36" width="84.4" height="42.58" fill="#d8d8fb"/>
<rect x="510.8" y="2316.36" width="85.5" height="42.58" fill="#3232ff"/>
<rect x="342" y="2358.64" width="85" height="42.58" fill="#ff0000"/>
<rect x="426.7" y="2358.64" width="84.4" height="42.58" fill="#8484fe"/>
<rect x="510.8" y="2358.64" width="85.5" height="42.58" fill="#0000ff"/>
<rect x="342" y="2400.92" width="85" height="42.58" fill="#ff7a7a"/>
<rect x="426.7" y="2400.92" width="84.4" height="42.58" fill="#5252fe"/>
<rect x="510.8" y="2400.92" width="85.5" height="42.58" fill="#0000fd"/>
<rect x="342" y="2443.2" width="85" height="42.58" fill="#ff9494"/>
<rect x="426.7" y="2443.2" width="84.4" height="42.58" fill="#8080fc"/>
<rect x="510.8" y="2443.2" width="85.5" height="42.58" fill="#0404fd"/>
<polyline points="384.4,2231.8 384.4,2209.6 511.6,2209.6 511.6,2221" fill="none" stroke="#8a8a8a" stroke-width="1.1"/>
<polyline points="468.2,2231.8 468.2,2221 553.4,2221 553.4,2231.8" fill="none" stroke="#8a8a8a" stroke-width="1.1"/>
<polyline points="342,2252.94 335.4,2252.94 335.4,2316.2 342,2316.2" fill="none" stroke="#8a8a8a" stroke-width="1.1"/>
<polyline points="342,2295.22 338.8,2295.22 338.8,2337.5 342,2337.5" fill="none" stroke="#8a8a8a" stroke-width="1.1"/>
<polyline points="335.4,2284.6 319.6,2284.6 319.6,2411.8 331.6,2411.8" fill="none" stroke="#8a8a8a" stroke-width="1.1"/>
<polyline points="342,2379.78 331.6,2379.78 331.6,2443.2 338.8,2443.2" fill="none" stroke="#8a8a8a" stroke-width="1.1"/>
<polyline points="342,2422.06 338.8,2422.06 338.8,2464.34 342,2464.34" fill="none" stroke="#8a8a8a" stroke-width="1.1"/>
<text x="396.2" y="2210.27" font-family="'Liberation Serif', 'Noto Serif CJK SC', serif" font-size="12.54" font-weight="bold" textLength="105.43" lengthAdjust="spacingAndGlyphs">Urine KIM-1/Creatinine</text>
<text x="377.62" y="2492.12" font-family="'Liberation Serif', 'Noto Serif CJK SC', serif" font-size="8.06" font-weight="bold" textLength="24.07" lengthAdjust="spacingAndGlyphs">TMAO</text>
<text x="467.24" y="2492.2" font-family="'Liberation Serif', 'Noto Serif CJK SC', serif" font-size="8.31" font-weight="bold" textLength="17.47" lengthAdjust="spacingAndGlyphs">DKD</text>
<text x="553.02" y="2492.12" font-family="'Liberation Serif', 'Noto Serif CJK SC', serif" font-size="8.18" font-weight="bold" textLength="11.3" lengthAdjust="spacingAndGlyphs">VD</text>
<linearGradient id="cb1" x1="0" y1="0" x2="0" y2="1"><stop offset="0" stop-color="#ff0000"/><stop offset="0.42" stop-color="#ffffff"/><stop offset="1" stop-color="#0000ff"/></linearGradient>
<rect x="603.5" y="2231.8" width="4.5" height="60.2" fill="url(#cb1)"/>
<text x="609.4" y="2245" font-family="'Liberation Sans', 'Noto Sans CJK SC', sans-serif" font-size="5.5">2</text>
<text x="609.4" y="2259" font-family="'Liberation Sans', 'Noto Sans CJK SC', sans-serif" font-size="5.5">1.5</text>
<text x="609.4" y="2272.4" font-family="'Liberation Sans', 'Noto Sans CJK SC', sans-serif" font-size="5.5">1</text>
<text x="609.4" y="2286.6" font-family="'Liberation Sans', 'Noto Sans CJK SC', sans-serif" font-size="5.5">0.5</text>
<line x1="783.8" y1="2206.9" x2="783.8" y2="2434.8" stroke="#000" stroke-width="3.2"/>
<line x1="774.5" y1="2433.2" x2="783.8" y2="2433.2" stroke="#000" stroke-width="3.2"/>
<text x="747.61" y="2439.18" font-family="'Liberation Sans', 'Noto Sans CJK SC', sans-serif" font-size="17.32" font-weight="bold">0.0</text>
<line x1="774.5" y1="2387.94" x2="783.8" y2="2387.94" stroke="#000" stroke-width="3.2"/>
<text x="747.61" y="2393.92" font-family="'Liberation Sans', 'Noto Sans CJK SC', sans-serif" font-size="17.32" font-weight="bold">0.2</text>
<line x1="774.5" y1="2342.68" x2="783.8" y2="2342.68" stroke="#000" stroke-width="3.2"/>
<text x="747.09" y="2348.66" font-family="'Liberation Sans', 'Noto Sans CJK SC', sans-serif" font-size="17.32" font-weight="bold">0.4</text>
<line x1="774.5" y1="2297.42" x2="783.8" y2="2297.42" stroke="#000" stroke-width="3.2"/>
<text x="747.61" y="2303.4" font-family="'Liberation Sans', 'Noto Sans CJK SC', sans-serif" font-size="17.32" font-weight="bold">0.6</text>
<line x1="774.5" y1="2252.16" x2="783.8" y2="2252.16" stroke="#000" stroke-width="3.2"/>
<text x="747.44" y="2258.14" font-family="'Liberation Sans', 'Noto Sans CJK SC', sans-serif" font-size="17.32" font-weight="bold">0.8</text>
<line x1="774.5" y1="2206.9" x2="783.8" y2="2206.9" stroke="#000" stroke-width="3.2"/>
<text x="747.61" y="2212.88" font-family="'Liberation Sans', 'Noto Sans CJK SC', sans-serif" font-size="17.32" font-weight="bold">1.0</text>
<line x1="774.5" y1="2433.2" x2="935.7" y2="2433.2" stroke="#000" stroke-width="3.2"/>
<line x1="813.8" y1="2433.2" x2="813.8" y2="2442.6" stroke="#000" stroke-width="3.2"/>
<line x1="858.9" y1="2433.2" x2="858.9" y2="2442.6" stroke="#000" stroke-width="3.2"/>
<line x1="904.1" y1="2433.2" x2="904.1" y2="2442.6" stroke="#000" stroke-width="3.2"/>
<path d="M801,2347.5 L826.5,2347.5 C830,2348 829,2352 824,2353.5 C819,2355 820,2358 819.7,2361.4 L808,2361.4 C807.5,2358 808.5,2355 803.5,2353.5 C798.5,2352 797.5,2348 801,2347.5 Z" fill="#fff" stroke="#a6a6a6" stroke-width="3.2" stroke-linejoin="round"/>
<line x1="806" y1="2352" x2="822" y2="2352" stroke="#7aa0e0" stroke-width="1" stroke-dasharray="2,1.5"/>
<path d="M846,2410.5 L872,2410.5 C875,2411.5 875,2413.5 868,2414.5 C864,2415.5 864,2417 863.5,2418.5 L855,2418.5 C854.5,2417 854.5,2415.5 850.5,2414.5 C843.5,2413.5 843.5,2411.5 846,2410.5 Z" fill="#fff" stroke="#9a0c0c" stroke-width="3" stroke-linejoin="round"/>
<path d="M897.5,2250.3 L911,2250.3 C911.6,2262 912,2272 915,2282 C918.5,2292 918.5,2300 914.5,2310 C912,2316 912.2,2322 912.2,2328 L896.9,2328 C896.9,2322 897,2316 894.5,2310 C890.5,2300 890.5,2292 894,2282 C897,2272 897.5,2262 897.5,2250.3 Z" fill="#fff" stroke="#8b1c9c" stroke-width="3.2" stroke-linejoin="round"/>
<line x1="899" y1="2265.8" x2="909" y2="2265.8" stroke="#c050d8" stroke-width="1.1" stroke-dasharray="1.5,2"/>
<line x1="894" y1="2293.1" x2="915" y2="2293.1" stroke="#e070f0" stroke-width="1.1" stroke-dasharray="4,2"/>
<line x1="898" y1="2313.5" x2="910" y2="2313.5" stroke="#c050d8" stroke-width="1.1" stroke-dasharray="1.5,2"/>
<polyline points="815.2,2292.6 815.2,2281.4 850.8,2281.4 850.8,2292.6" fill="none" stroke="#000" stroke-width="3.6" stroke-linejoin="miter" stroke-linecap="butt"/>
<text x="828.15" y="2279.33" font-family="'Liberation Sans', 'Noto Sans CJK SC', sans-serif" font-size="25.41" font-weight="bold">*</text>
<text transform="translate(735.8,2418.87) rotate(-90)" font-family="'Liberation Serif', 'Noto Serif CJK SC', serif" font-size="19.54" font-weight="bold" textLength="198.17" lengthAdjust="spacingAndGlyphs">Urine TMAO/Creatinine</text>
<text transform="translate(791.76,2485.23) rotate(-45)" font-family="'Liberation Serif', 'Noto Serif CJK SC', serif" font-size="16.52" font-weight="bold">DKD</text>
<text transform="translate(846.35,2476.12) rotate(-45)" font-family="'Liberation Serif', 'Noto Serif CJK SC', serif" font-size="16.52" font-weight="bold">VD</text>
<text transform="translate(873.63,2493.7) rotate(-45)" font-family="'Liberation Serif', 'Noto Serif CJK SC', serif" font-size="15.74" font-weight="bold">TMAO</text>
<rect x="1014.8" y="2217.1" width="79.3" height="41.37" fill="#ff0000"/>
<rect x="1093.8" y="2217.1" width="79.4" height="41.37" fill="#a8a8fc"/>
<rect x="1172.9" y="2217.1" width="79.8" height="41.37" fill="#0a0afc"/>
<rect x="1014.8" y="2258.17" width="79.3" height="41.37" fill="#ff4040"/>
<rect x="1093.8" y="2258.17" width="79.4" height="41.37" fill="#d4d4fb"/>
<rect x="1172.9" y="2258.17" width="79.8" height="41.37" fill="#0000fa"/>
<rect x="1014.8" y="2299.24" width="79.3" height="41.37" fill="#ff7878"/>
<rect x="1093.8" y="2299.24" width="79.4" height="41.37" fill="#b8b8fc"/>
<rect x="1172.9" y="2299.24" width="79.8" height="41.37" fill="#0505fa"/>
<rect x="1014.8" y="2340.31" width="79.3" height="41.37" fill="#ff8888"/>
<rect x="1093.8" y="2340.31" width="79.4" height="41.37" fill="#d0d0fc"/>
<rect x="1172.9" y="2340.31" width="79.8" height="41.37" fill="#0505fa"/>
<rect x="1014.8" y="2381.38" width="79.3" height="41.37" fill="#ffb0b0"/>
<rect x="1093.8" y="2381.38" width="79.4" height="41.37" fill="#d0d0fc"/>
<rect x="1172.9" y="2381.38" width="79.8" height="41.37" fill="#0707fa"/>
<rect x="1014.8" y="2422.45" width="79.3" height="41.37" fill="#ffe4e6"/>
<rect x="1093.8" y="2422.45" width="79.4" height="41.37" fill="#c0c0fa"/>
<rect x="1172.9" y="2422.45" width="79.8" height="41.37" fill="#1010fa"/>
<polyline points="1054.5,2217.1 1054.5,2196.7 1173.4,2196.7 1173.4,2206.9" fill="none" stroke="#8a8a8a" stroke-width="1.1"/>
<polyline points="1133.2,2217.1 1133.2,2206.9 1212.5,2206.9 1212.5,2217.1" fill="none" stroke="#8a8a8a" stroke-width="1.1"/>
<polyline points="1014.8,2237.63 1008.1,2237.63 1008.1,2278.7 1014.8,2278.7" fill="none" stroke="#8a8a8a" stroke-width="1.1"/>
<polyline points="1008.1,2258.6 993.4,2258.6 993.4,2381.8 1004.9,2381.8" fill="none" stroke="#8a8a8a" stroke-width="1.1"/>
<polyline points="1012.7,2340.8 1004.9,2340.8 1004.9,2423 1009.5,2423" fill="none" stroke="#8a8a8a" stroke-width="1.1"/>
<polyline points="1014.8,2319.78 1012.7,2319.78 1012.7,2360.84 1014.8,2360.84" fill="none" stroke="#8a8a8a" stroke-width="1.1"/>
<polyline points="1014.8,2401.91 1009.5,2401.91 1009.5,2442.98 1014.8,2442.98" fill="none" stroke="#8a8a8a" stroke-width="1.1"/>
<text x="1057.5" y="2195.28" font-family="'Liberation Serif', 'Noto Serif CJK SC', serif" font-size="12.11" font-weight="bold" textLength="106.21" lengthAdjust="spacingAndGlyphs">Urine TMAO/Creatinine</text>
<text x="1036.98" y="2473.28" font-family="'Liberation Serif', 'Noto Serif CJK SC', serif" font-size="11.94" font-weight="bold" textLength="38.76" lengthAdjust="spacingAndGlyphs">TMAO</text>
<text x="1119.55" y="2473.4" font-family="'Liberation Serif', 'Noto Serif CJK SC', serif" font-size="12.31" font-weight="bold" textLength="27.7" lengthAdjust="spacingAndGlyphs">DKD</text>
<text x="1209.68" y="2473.28" font-family="'Liberation Serif', 'Noto Serif CJK SC', serif" font-size="12.12" font-weight="bold">VD</text>
<linearGradient id="cb2" x1="0" y1="0" x2="0" y2="1"><stop offset="0" stop-color="#ff0000"/><stop offset="0.5" stop-color="#ffffff"/><stop offset="1" stop-color="#0000ff"/></linearGradient>
<rect x="1259.9" y="2217" width="4.1" height="60" fill="url(#cb2)"/>
<text x="1265.3" y="2220.4" font-family="'Liberation Sans', 'Noto Sans CJK SC', sans-serif" font-size="5.5">0.8</text>
<text x="1265.3" y="2228.5" font-family="'Liberation Sans', 'Noto Sans CJK SC', sans-serif" font-size="5.5">0.7</text>
<text x="1265.3" y="2236.6" font-family="'Liberation Sans', 'Noto Sans CJK SC', sans-serif" font-size="5.5">0.6</text>
<text x="1265.3" y="2244.7" font-family="'Liberation Sans', 'Noto Sans CJK SC', sans-serif" font-size="5.5">0.5</text>
<text x="1265.3" y="2252.8" font-family="'Liberation Sans', 'Noto Sans CJK SC', sans-serif" font-size="5.5">0.4</text>
<text x="1265.3" y="2260.9" font-family="'Liberation Sans', 'Noto Sans CJK SC', sans-serif" font-size="5.5">0.3</text>
<text x="1265.3" y="2269" font-family="'Liberation Sans', 'Noto Sans CJK SC', sans-serif" font-size="5.5">0.2</text>
<text x="1265.3" y="2277.1" font-family="'Liberation Sans', 'Noto Sans CJK SC', sans-serif" font-size="5.5">0.1</text></svg></body></html>
